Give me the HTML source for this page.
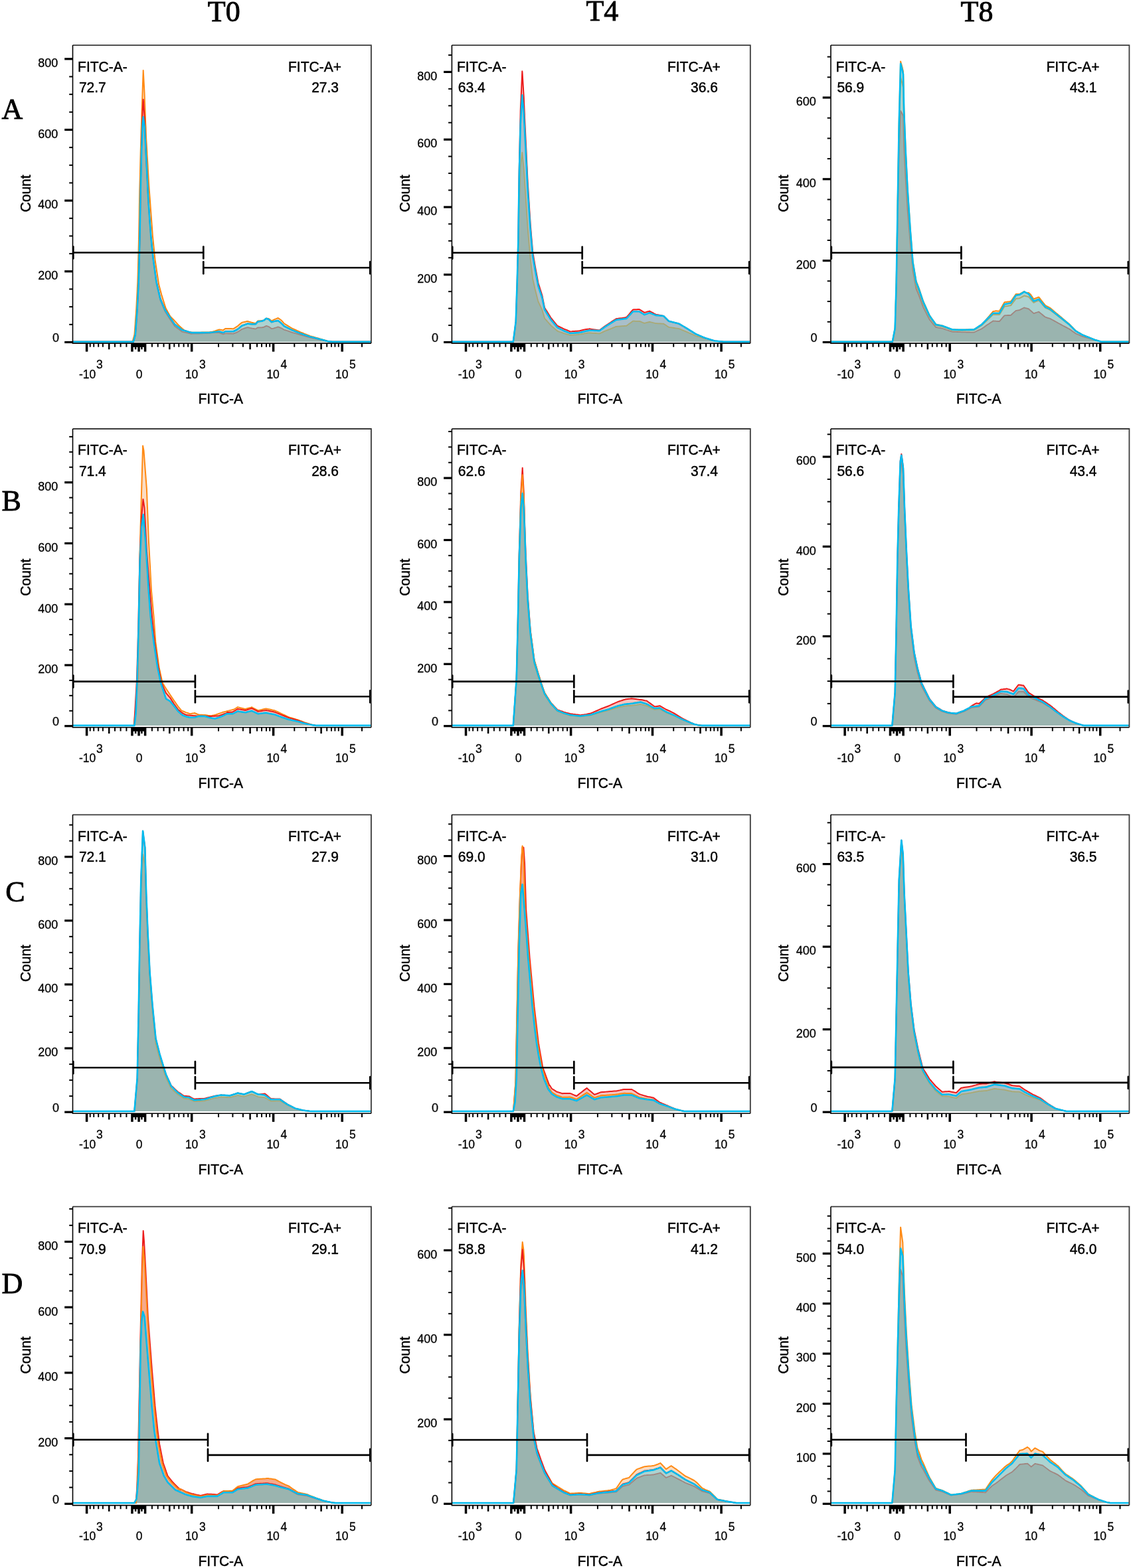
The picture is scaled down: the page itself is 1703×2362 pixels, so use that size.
<!DOCTYPE html>
<html><head><meta charset="utf-8"><title>FITC-A histograms</title><style>html,body{margin:0;padding:0;background:#fff;}svg{display:block;}</style></head><body>
<svg width="1703" height="2362" viewBox="0 0 1703 2362">
<rect width="1703" height="2362" fill="#ffffff"/>
<text x="337.3" y="31.9" text-anchor="middle" font-family="'Liberation Serif', 'Times New Roman', serif" font-size="44" fill="#000" stroke="#000" stroke-width="0.9">T0</text>
<text x="906.9" y="30.8" text-anchor="middle" font-family="'Liberation Serif', 'Times New Roman', serif" font-size="44" fill="#000" stroke="#000" stroke-width="0.9">T4</text>
<text x="1471" y="31.9" text-anchor="middle" font-family="'Liberation Serif', 'Times New Roman', serif" font-size="44" fill="#000" stroke="#000" stroke-width="0.9">T8</text>
<text x="2.6" y="178.9" font-family="'Liberation Serif', 'Times New Roman', serif" font-size="44" fill="#000" stroke="#000" stroke-width="0.9">A</text>
<text x="2.6" y="768.7" font-family="'Liberation Serif', 'Times New Roman', serif" font-size="44" fill="#000" stroke="#000" stroke-width="0.9">B</text>
<text x="8.2" y="1357.6" font-family="'Liberation Serif', 'Times New Roman', serif" font-size="44" fill="#000" stroke="#000" stroke-width="0.9">C</text>
<text x="2.6" y="1947.7" font-family="'Liberation Serif', 'Times New Roman', serif" font-size="44" fill="#000" stroke="#000" stroke-width="0.9">D</text>
<clipPath id="c00"><rect x="110.1" y="68.9" width="448" height="447.6"/></clipPath>
<g clip-path="url(#c00)">
<path d="M109.5 514.8 199.5 514.8 200 513 200.8 510.1 201 509.4 202 505.8 202.5 504 203 497 203.8 485.8 204 483 205 469 205.3 464.8 206 450.9 206.7 437 207 431.1 207.3 425.1 208 399.1 208.7 373 208.9 365.6 209 359.9 210 303.3 210.3 286.3 211 258.5 211.7 230.7 211.8 226.7 212 220 213 186.7 213.1 183.3 213.5 170 214 155.5 214.7 135.1 215 126.4 215.7 106.1 216 111.8 217 130.6 217.5 140 217.7 145.3 218 153.2 218.5 166.4 219 179.7 220 206.1 220.6 216.4 221 223.3 222 240.6 223 257.8 223.6 268.1 224 275 224.3 280.2 225 289.6 226 303.1 227 316.6 227.2 319.3 228 330 229 343.5 229.8 354.3 230 356.3 230.6 362.3 231 366.3 232 376.3 233 386.3 233.5 391.3 234 394.6 235 401.2 235.5 404.5 236 407.8 237 414.4 238 421 239 427.6 239.1 428.3 240 431.7 241 435.5 241.5 437.4 242 439.3 243 443.1 243.1 443.5 244 446.4 245 449.6 246 452.8 247 456 248 459.2 248.4 460.5 249 462.4 249.5 464 250 464.9 251 466.8 252 468.6 253 470.5 254 472.3 255 474.2 256 476 256.3 476.3 257 477.1 258 478.1 259 479.2 260 480.2 262 482.3 263.1 483.5 263.6 484 264 484.4 266 486.6 268 488.8 270 491 272 492.8 274 494.5 274.2 494.7 275 495.4 276 496.3 277.1 497.3 278 497.7 280 498.4 282 499.2 284 500 286 500.3 287.9 500.5 288 500.5 290 500.8 292 500.8 294 500.8 296 500.7 298 500.7 300 500.7 301.7 500.7 302 500.7 304 500.6 306 500.6 308 500.5 310 500.5 312 500.4 314 500.4 315.4 500.4 316 500.3 318 500 320 499.7 322 499.1 324 498.5 326 497.8 328 497.1 330 496.4 332 496.7 334 497.1 336 497.4 336.1 497.4 337 496.6 338 495.9 339.2 495 340 495 342 495 344 495.1 346 495.1 348 495.1 350 495.2 351.4 495.2 352 494.8 354 493.6 356 492.3 357 491.7 357.5 491.4 358 491 360 489.3 362 487.6 364 486 364.3 485.8 366 485.4 368 484.9 370 484.5 372 484 372.8 483.9 374 484.3 376 484.9 378 485.5 378.9 485.8 380 486 382 486.5 384 486.9 385 486.9 386 485.8 388 483.6 388.1 483.5 390 483.3 392 483.2 394 483.1 394.2 483.1 396 482.7 397.3 482.4 398 481.8 400 480.3 400.9 479.7 401 479.7 402 479.8 404 480 404.6 480 406 481.1 408 482.8 408.9 483.5 410 482.9 412 481.8 412.6 481.5 414 480.9 416 480.1 418 479.3 418.7 479 420 479.9 422 481.3 423 482 424 482.9 425 483.9 426 485.1 427.9 487.4 428 487.5 430 488.7 432 489.9 434 491.1 436 492.3 438 493.5 439.3 494.3 440 494.7 442 495.6 444 496.5 446 497.4 448 498.3 450 499.2 452 500.2 453.1 500.7 454 501 456 501.8 458 502.6 460 503.4 462 504.2 464 505 466 505.7 466.8 506.1 468 506.4 470 507 472 507.5 474 508.1 476 508.7 478 509.2 480 509.8 480.6 510 482 510.4 484 511 486 511.6 488 512.2 490 512.8 492 513.5 494 514.1 494.4 514.2 496 514.4 498 514.6 500 514.8 558.9 514.8Z" fill="#fbdcc2"/>
<path d="M109.5 514.8 200.8 514.8 201 514.1 202 510.7 202.5 509 203 507.2 203.8 504.5 204 501.8 205 488.1 205.3 484 206 474.4 206.7 464.8 207 458.8 207.3 452.9 208 439 208.7 425.1 208.9 417.7 209 413.9 210 376.8 210.3 365.6 211 326 211.7 286.3 211.8 282 212 273.5 213 231 213.1 226.7 213.5 216.8 214 204.4 214.7 187 215 183.7 215.7 176.1 216 178.3 217 185.8 217.5 189.5 217.7 191 218 196.8 218.5 206.3 219 215.9 220 235.1 220.6 246.6 221 254.5 222 274.4 223 294.2 223.6 306.1 224 311.6 224.3 315.7 225 325.4 226 339.2 227 352.9 227.2 355.7 228 363.6 229 373.5 229.8 381.5 230 383.5 230.6 389.4 231 392.3 232 399.6 233 406.9 233.5 410.5 234 414.2 235 421.5 235.5 425.1 236 427.2 237 431.6 238 435.9 239 440.1 239.1 440.6 240 444.4 241 448.8 241.5 450.9 242 452.1 243 454.4 243.1 454.6 244 456.7 245 459 246 461.3 247 463.6 248 465.9 248.4 466.8 249 467.7 249.5 468.5 250 469.2 251 470.7 252 472.2 253 473.7 254 475.2 255 476.7 256 478.2 256.3 478.7 257 479.7 258 481.2 259 482.7 260 484.1 262 487.1 263.1 488.7 263.6 489.1 264 489.4 266 490.9 268 492.4 270 493.9 272 495.4 274 496.9 274.2 497 275 497.2 276 497.5 277.1 497.9 278 498.1 280 498.7 282 499.3 284 499.9 286 500.5 287.9 501.1 288 501.1 290 501.1 292 501.1 294 501.1 296 501.1 298 501.1 300 501.1 301.7 501.1 302 501.1 304 501.1 306 501.1 308 501.1 310 501 312 501 314 501 315.4 501 316 500.9 318 500.7 320 500.5 322 500.2 324 500 326 499.8 328 499.5 330 499.3 332 499.9 334 500.5 336 501.1 336.1 501.1 337 500.6 338 500 339.2 499.3 340 499.3 342 499.3 344 499.3 346 499.3 348 499.3 350 499.3 351.4 499.3 352 499 354 498 356 497 357 496.5 357.5 496.2 358 495.8 360 494.2 362 492.6 364 490.9 364.3 490.7 366 490.1 368 489.4 370 488.6 372 487.9 372.8 487.6 374 487.7 376 487.9 378 488.1 378.9 488.2 380 488.2 382 488.2 384 488.2 385 488.2 386 487 388 484.7 388.1 484.6 390 484.3 392 484 394 483.7 394.2 483.7 396 483.1 397.3 482.7 398 482.1 400 480.4 400.9 479.7 401 479.7 402 480.1 404 480.7 404.6 480.9 406 482.3 408 484.3 408.9 485.2 410 484.8 412 484.2 412.6 484 414 483.8 416 483.4 418 483.1 418.7 483 420 484 422 485.6 423 486.4 424 487.4 425 488.4 426 489.4 427.9 491.3 428 491.4 430 492.4 432 493.4 434 494.4 436 495.4 438 496.4 439.3 497 440 497.3 442 498.1 444 498.9 446 499.7 448 500.5 450 501.3 452 502.1 453.1 502.5 454 502.8 456 503.5 458 504.2 460 504.9 462 505.6 464 506.2 466 506.9 466.8 507.2 468 507.5 470 508 472 508.5 474 509 476 509.5 478 510 480 510.5 480.6 510.7 482 511.1 484 511.6 486 512.1 488 512.6 490 513.2 492 513.7 494 514.2 494.4 514.3 496 514.4 498 514.6 500 514.8 558.9 514.8Z" fill="#acd3d1"/>
<path d="M109.5 514.8 200.8 514.8 201 514.1 202 510.7 202.5 509 203 507.2 203.8 504.5 204 501.8 205 488.1 205.3 484 206 474.4 206.7 464.8 207 458.8 207.3 452.9 208 439 208.7 425.1 208.9 417.7 209 413.9 210 376.8 210.3 365.6 211 326 211.7 286.3 211.8 282 212 273.5 213 231 213.1 226.7 213.5 216.8 214 204.4 214.7 187 215 183.7 215.7 176.1 216 178.3 217 185.8 217.5 189.5 217.7 191 218 196.8 218.5 206.3 219 215.9 220 235.1 220.6 246.6 221 254.5 222 274.4 223 294.2 223.6 306.1 224 311.6 224.3 315.7 225 325.4 226 339.4 227 353.4 227.2 356.2 228 364.3 229 374.4 229.8 382.4 230 384.4 230.6 390.5 231 393.4 232 400.8 233 408.2 233.5 411.9 234 415.5 235 422.9 235.5 426.5 236 428.7 237 433 238 437.4 239 441.7 239.1 442.1 240 446 241 450.3 241.5 452.5 242 453.7 243 456 243.1 456.2 244 458.3 245 460.6 246 463.1 247 465.5 248 467.9 248.4 468.9 249 469.9 249.5 470.7 250 471.5 251 473.1 252 474.7 253 476.3 254 477.8 255 479.4 256 481 256.3 481.4 257 482.5 258 484 259 485.4 260 486.9 262 489.8 263.1 491.4 263.6 491.8 264 492.1 266 493.6 268 495.1 270 496.6 272 498 274 499.5 274.2 499.6 275 499.9 276 500.1 277.1 500.3 278 500.5 280 501 282 501.4 284 501.9 286 502.4 287.9 502.8 288 502.8 290 502.7 292 502.7 294 502.6 296 502.6 298 502.5 300 502.5 301.7 502.4 302 502.4 304 502.3 306 502.2 308 502.2 310 502.1 312 502 314 501.9 315.4 501.8 316 501.8 318 501.5 320 501.2 322 501.2 324 501.2 326 501.2 328 501.2 330 501.2 332 502 334 502.7 336 503.4 336.1 503.4 337 503.1 338 502.7 339.2 502.3 340 502.4 342 502.4 344 502.5 346 502.5 348 502.5 350 502.6 351.4 502.6 352 502.3 354 501.6 356 500.8 357 500.4 357.5 500.2 358 499.9 360 498.7 362 497.4 364 496 364.3 495.8 366 495.3 368 494.6 370 493.9 372 493.3 372.8 493.2 374 493.4 376 493.9 378 494.3 378.9 494.5 380 494.7 382 495 384 495.3 385 495.4 386 494.8 388 493.4 388.1 493.3 390 493.5 392 493.4 394 493.3 394.2 493.3 396 493 397.3 492.8 398 492.4 400 491.4 400.9 490.9 401 491 402 491.2 404 491.8 404.6 492 406 493 408 494.4 408.9 495.1 410 494.9 412 494.6 412.6 494.3 414 493.9 416 493.3 418 492.6 418.7 492.4 420 492.8 422 493.6 423 494 424 494.5 425 495.1 426 495.7 427.9 496.8 428 496.8 430 497.3 432 498 434 498.7 436 499.4 438 500.1 439.3 500.6 440 500.8 442 501.4 444 501.9 446 502.5 448 503.1 450 503.7 452 504.3 453.1 504.7 454 504.9 456 505.5 458 506 460 506.6 462 507.1 464 507.7 466 508.2 466.8 508.4 468 508.7 470 509.1 472 509.5 474 509.9 476 510.3 478 510.8 480 511.2 480.6 511.3 482 511.6 484 512 486 512.4 488 512.8 490 513.3 492 513.7 494 514.2 494.4 514.3 496 514.5 498 514.6 500 514.8 558.9 514.8Z" fill="#9ab4af"/>
<path d="M109.5 514.8 200.8 514.8 201 514.1 202 510.7 202.5 509 203 507.2 203.8 504.5 204 501.8 205 488.1 205.3 484 206 474.4 206.7 464.8 207 458.8 207.3 452.9 208 439 208.7 425.1 208.9 417.7 209 413.9 210 376.8 210.3 365.6 211 326 211.7 286.3 211.8 282 212 273.5 213 231 213.1 226.7 213.5 216.8 214 204.4 214.7 187 215 183.7 215.7 176.1 216 178.3 217 185.8 217.5 189.5 217.7 191 218 196.8 218.5 206.3 219 215.9 220 235.1 220.6 246.6 221 254.5 222 274.4 223 294.2 223.6 306.1 224 311.6 224.3 315.7 225 325.4 226 339.4 227 353.4 227.2 356.2 228 364.3 229 374.4 229.8 382.4 230 384.4 230.6 390.5 231 393.4 232 400.8 233 408.2 233.5 411.9 234 415.5 235 422.9 235.5 426.5 236 428.7 237 433 238 437.4 239 441.7 239.1 442.1 240 446 241 450.3 241.5 452.5 242 453.7 243 456 243.1 456.2 244 458.3 245 460.6 246 463.1 247 465.5 248 467.9 248.4 468.9 249 469.9 249.5 470.7 250 471.5 251 473.1 252 474.7 253 476.3 254 477.8 255 479.4 256 481 256.3 481.4 257 482.5 258 484 259 485.4 260 486.9 262 489.8 263.1 491.4 263.6 491.8 264 492.1 266 493.6 268 495.1 270 496.6 272 498 274 499.5 274.2 499.6 275 499.9 276 500.1 277.1 500.3 278 500.5 280 501 282 501.4 284 501.9 286 502.4 287.9 502.8 288 502.8 290 502.7 292 502.7 294 502.6 296 502.6 298 502.5 300 502.5 301.7 502.4 302 502.4 304 502.3 306 502.2 308 502.2 310 502.1 312 502 314 501.9 315.4 501.8 316 501.8 318 501.5 320 501.2 322 501.2 324 501.2 326 501.2 328 501.2 330 501.2 332 502 334 502.7 336 503.4 336.1 503.4 337 503.1 338 502.7 339.2 502.3 340 502.4 342 502.4 344 502.5 346 502.5 348 502.5 350 502.6 351.4 502.6 352 502.3 354 501.6 356 500.8 357 500.4 357.5 500.2 358 499.9 360 498.7 362 497.4 364 496 364.3 495.8 366 495.3 368 494.6 370 493.9 372 493.3 372.8 493.2 374 493.4 376 493.9 378 494.3 378.9 494.5 380 494.7 382 495 384 495.3 385 495.4 386 494.8 388 493.4 388.1 493.3 390 493.5 392 493.4 394 493.3 394.2 493.3 396 493 397.3 492.8 398 492.4 400 491.4 400.9 490.9 401 491 402 491.2 404 491.8 404.6 492 406 493 408 494.4 408.9 495.1 410 494.9 412 494.6 412.6 494.3 414 493.9 416 493.3 418 492.6 418.7 492.4 420 492.8 422 493.6 423 494 424 494.5 425 495.1 426 495.7 427.9 496.8 428 496.8 430 497.3 432 498 434 498.7 436 499.4 438 500.1 439.3 500.6 440 500.8 442 501.4 444 501.9 446 502.5 448 503.1 450 503.7 452 504.3 453.1 504.7 454 504.9 456 505.5 458 506 460 506.6 462 507.1 464 507.7 466 508.2 466.8 508.4 468 508.7 470 509.1 472 509.5 474 509.9 476 510.3 478 510.8 480 511.2 480.6 511.3 482 511.6 484 512 486 512.4 488 512.8 490 513.3 492 513.7 494 514.2 494.4 514.3 496 514.5 498 514.6 500 514.8 558.9 514.8" fill="none" stroke="#a1857f" stroke-width="1.8" stroke-linejoin="round"/>
<path d="M109.5 514.8 199.5 514.8 200 513 200.8 510.1 201 509.4 202 505.8 202.5 504 203 497 203.8 485.8 204 483 205 469 205.3 464.8 206 450.9 206.7 437 207 431.1 207.3 425.1 208 399.1 208.7 373 208.9 365.6 209 359.9 210 303.3 210.3 286.3 211 258.5 211.7 230.7 211.8 226.7 212 220 213 186.7 213.1 183.3 213.5 170 214 155.5 214.7 135.1 215 126.4 215.7 106.1 216 111.8 217 130.6 217.5 140 217.7 145.3 218 153.2 218.5 166.4 219 179.7 220 206.1 220.6 216.4 221 223.3 222 240.6 223 257.8 223.6 268.1 224 275 224.3 280.2 225 289.6 226 303.1 227 316.6 227.2 319.3 228 330 229 343.5 229.8 354.3 230 356.3 230.6 362.3 231 366.3 232 376.3 233 386.3 233.5 391.3 234 394.6 235 401.2 235.5 404.5 236 407.8 237 414.4 238 421 239 427.6 239.1 428.3 240 431.7 241 435.5 241.5 437.4 242 439.3 243 443.1 243.1 443.5 244 446.4 245 449.6 246 452.8 247 456 248 459.2 248.4 460.5 249 462.4 249.5 464 250 464.9 251 466.8 252 468.6 253 470.5 254 472.3 255 474.2 256 476 256.3 476.3 257 477.1 258 478.1 259 479.2 260 480.2 262 482.3 263.1 483.5 263.6 484 264 484.4 266 486.6 268 488.8 270 491 272 492.8 274 494.5 274.2 494.7 275 495.4 276 496.3 277.1 497.3 278 497.7 280 498.4 282 499.2 284 500 286 500.3 287.9 500.5 288 500.5 290 500.8 292 500.8 294 500.8 296 500.7 298 500.7 300 500.7 301.7 500.7 302 500.7 304 500.6 306 500.6 308 500.5 310 500.5 312 500.4 314 500.4 315.4 500.4 316 500.3 318 500 320 499.7 322 499.1 324 498.5 326 497.8 328 497.1 330 496.4 332 496.7 334 497.1 336 497.4 336.1 497.4 337 496.6 338 495.9 339.2 495 340 495 342 495 344 495.1 346 495.1 348 495.1 350 495.2 351.4 495.2 352 494.8 354 493.6 356 492.3 357 491.7 357.5 491.4 358 491 360 489.3 362 487.6 364 486 364.3 485.8 366 485.4 368 484.9 370 484.5 372 484 372.8 483.9 374 484.3 376 484.9 378 485.5 378.9 485.8 380 486 382 486.5 384 486.9 385 486.9 386 485.8 388 483.6 388.1 483.5 390 483.3 392 483.2 394 483.1 394.2 483.1 396 482.7 397.3 482.4 398 481.8 400 480.3 400.9 479.7 401 479.7 402 479.8 404 480 404.6 480 406 481.1 408 482.8 408.9 483.5 410 482.9 412 481.8 412.6 481.5 414 480.9 416 480.1 418 479.3 418.7 479 420 479.9 422 481.3 423 482 424 482.9 425 483.9 426 485.1 427.9 487.4 428 487.5 430 488.7 432 489.9 434 491.1 436 492.3 438 493.5 439.3 494.3 440 494.7 442 495.6 444 496.5 446 497.4 448 498.3 450 499.2 452 500.2 453.1 500.7 454 501 456 501.8 458 502.6 460 503.4 462 504.2 464 505 466 505.7 466.8 506.1 468 506.4 470 507 472 507.5 474 508.1 476 508.7 478 509.2 480 509.8 480.6 510 482 510.4 484 511 486 511.6 488 512.2 490 512.8 492 513.5 494 514.1 494.4 514.2 496 514.4 498 514.6 500 514.8 558.9 514.8" fill="none" stroke="#ff8a14" stroke-width="2" stroke-linejoin="round"/>
<path d="M109.5 514.8 200.8 514.8 201 514.1 202 510.7 202.5 509 203 507.2 203.8 504.5 204 501.8 205 488.1 205.3 484 206 474.4 206.7 464.8 207 458.8 207.3 452.9 208 439 208.7 425.1 208.9 417.7 209 413.9 210 376.8 210.3 365.6 211 326 211.7 283.6 211.8 279 212 269.5 213 221.5 213.1 216.7 213.5 204.4 214 188.9 214.7 166.9 215 161.8 215.7 149.7 216 153.9 217 167.9 217.5 174.8 217.7 177.5 218 185.2 218.5 197.9 219 210.5 220 235.1 220.6 246.4 221 254.3 222 273.9 223 293.5 223.6 305.3 224 310.8 224.3 314.9 225 324.4 226 338.1 227 351.8 227.2 354.6 228 362.4 229 372.3 229.8 380.2 230 382.1 230.6 388.1 231 391 232 398.2 233 405.5 233.5 409.1 234 412.8 235 420.1 235.5 423.7 236 425.8 237 430.1 238 434.4 239 438.7 239.1 439.2 240 443 241 447.5 241.5 449.7 242 450.8 243 453.2 243.1 453.4 244 455.6 245 457.9 246 460.3 247 462.7 248 465 248.4 466 249 466.9 249.5 467.7 250 468.5 251 470 252 471.5 253 473.1 254 474.6 255 476.2 256 477.7 256.3 478.2 257 479.2 258 480.7 259 482.2 260 483.7 262 486.7 263.1 488.4 263.6 488.8 264 489.1 266 490.6 268 492.1 270 493.7 272 495.2 274 496.7 274.2 496.8 275 497.1 276 497.4 277.1 497.7 278 498 280 498.6 282 499.2 284 499.9 286 500.5 287.9 501 288 501 290 501.1 292 501.1 294 501.1 296 501.1 298 501.1 300 501.1 301.7 501.1 302 501.1 304 501.1 306 501.1 308 501.1 310 501 312 501 314 501 315.4 501 316 500.9 318 500.7 320 500.5 322 500.2 324 500 326 499.8 328 499.5 330 499.3 332 499.9 334 500.5 336 501.1 336.1 501.1 337 500.6 338 500 339.2 499.3 340 499.3 342 499.3 344 499.3 346 499.3 348 499.3 350 499.3 351.4 499.3 352 499 354 498 356 497 357 496.5 357.5 496.2 358 495.8 360 494.2 362 492.6 364 490.9 364.3 490.7 366 490.1 368 489.4 370 488.6 372 487.9 372.8 487.6 374 487.7 376 487.9 378 488.1 378.9 488.2 380 488.2 382 488.2 384 488.2 385 488.2 386 487 388 484.7 388.1 484.6 390 484.3 392 484 394 483.7 394.2 483.7 396 483.1 397.3 482.7 398 482.1 400 480.4 400.9 479.7 401 479.7 402 480.1 404 480.7 404.6 480.9 406 482.3 408 484.3 408.9 485.2 410 484.8 412 484.2 412.6 484 414 483.8 416 483.4 418 483.1 418.7 483 420 484 422 485.6 423 486.4 424 487.4 425 488.4 426 489.4 427.9 491.3 428 491.4 430 492.4 432 493.4 434 494.4 436 495.4 438 496.4 439.3 497 440 497.3 442 498.1 444 498.9 446 499.7 448 500.5 450 501.3 452 502.1 453.1 502.5 454 502.8 456 503.5 458 504.2 460 504.9 462 505.6 464 506.2 466 506.9 466.8 507.2 468 507.5 470 508 472 508.5 474 509 476 509.5 478 510 480 510.5 480.6 510.7 482 511.1 484 511.6 486 512.1 488 512.6 490 513.2 492 513.7 494 514.2 494.4 514.3 496 514.4 498 514.6 500 514.8 558.9 514.8" fill="none" stroke="#ec1c1c" stroke-width="2" stroke-linejoin="round"/>
<path d="M109.5 514.8 200.8 514.8 201 514.1 202 510.7 202.5 509 203 507.2 203.8 504.5 204 501.8 205 488.1 205.3 484 206 474.4 206.7 464.8 207 458.8 207.3 452.9 208 439 208.7 425.1 208.9 417.7 209 413.9 210 376.8 210.3 365.6 211 326 211.7 286.3 211.8 282 212 273.5 213 231 213.1 226.7 213.5 216.8 214 204.4 214.7 187 215 183.7 215.7 176.1 216 178.3 217 185.8 217.5 189.5 217.7 191 218 196.8 218.5 206.3 219 215.9 220 235.1 220.6 246.6 221 254.5 222 274.4 223 294.2 223.6 306.1 224 311.6 224.3 315.7 225 325.4 226 339.2 227 352.9 227.2 355.7 228 363.6 229 373.5 229.8 381.5 230 383.5 230.6 389.4 231 392.3 232 399.6 233 406.9 233.5 410.5 234 414.2 235 421.5 235.5 425.1 236 427.2 237 431.6 238 435.9 239 440.1 239.1 440.6 240 444.4 241 448.8 241.5 450.9 242 452.1 243 454.4 243.1 454.6 244 456.7 245 459 246 461.3 247 463.6 248 465.9 248.4 466.8 249 467.7 249.5 468.5 250 469.2 251 470.7 252 472.2 253 473.7 254 475.2 255 476.7 256 478.2 256.3 478.7 257 479.7 258 481.2 259 482.7 260 484.1 262 487.1 263.1 488.7 263.6 489.1 264 489.4 266 490.9 268 492.4 270 493.9 272 495.4 274 496.9 274.2 497 275 497.2 276 497.5 277.1 497.9 278 498.1 280 498.7 282 499.3 284 499.9 286 500.5 287.9 501.1 288 501.1 290 501.1 292 501.1 294 501.1 296 501.1 298 501.1 300 501.1 301.7 501.1 302 501.1 304 501.1 306 501.1 308 501.1 310 501 312 501 314 501 315.4 501 316 500.9 318 500.7 320 500.5 322 500.2 324 500 326 499.8 328 499.5 330 499.3 332 499.9 334 500.5 336 501.1 336.1 501.1 337 500.6 338 500 339.2 499.3 340 499.3 342 499.3 344 499.3 346 499.3 348 499.3 350 499.3 351.4 499.3 352 499 354 498 356 497 357 496.5 357.5 496.2 358 495.8 360 494.2 362 492.6 364 490.9 364.3 490.7 366 490.1 368 489.4 370 488.6 372 487.9 372.8 487.6 374 487.7 376 487.9 378 488.1 378.9 488.2 380 488.2 382 488.2 384 488.2 385 488.2 386 487 388 484.7 388.1 484.6 390 484.3 392 484 394 483.7 394.2 483.7 396 483.1 397.3 482.7 398 482.1 400 480.4 400.9 479.7 401 479.7 402 480.1 404 480.7 404.6 480.9 406 482.3 408 484.3 408.9 485.2 410 484.8 412 484.2 412.6 484 414 483.8 416 483.4 418 483.1 418.7 483 420 484 422 485.6 423 486.4 424 487.4 425 488.4 426 489.4 427.9 491.3 428 491.4 430 492.4 432 493.4 434 494.4 436 495.4 438 496.4 439.3 497 440 497.3 442 498.1 444 498.9 446 499.7 448 500.5 450 501.3 452 502.1 453.1 502.5 454 502.8 456 503.5 458 504.2 460 504.9 462 505.6 464 506.2 466 506.9 466.8 507.2 468 507.5 470 508 472 508.5 474 509 476 509.5 478 510 480 510.5 480.6 510.7 482 511.1 484 511.6 486 512.1 488 512.6 490 513.2 492 513.7 494 514.2 494.4 514.3 496 514.4 498 514.6 500 514.8 558.9 514.8" fill="none" stroke="#00bcef" stroke-width="2.6" stroke-linejoin="round"/>
</g>
<g stroke="#000" stroke-width="2.6" fill="none">
<line x1="109.5" y1="380.5" x2="306.3" y2="380.5"/>
<line x1="306.3" y1="403.3" x2="557.9" y2="403.3"/>
</g>
<g stroke="#000" stroke-width="2.7" stroke-linecap="round" fill="none">
<line x1="110.3" y1="371.5" x2="110.3" y2="389.5"/>
<line x1="306.3" y1="371.5" x2="306.3" y2="389.5"/>
<line x1="306.3" y1="394.3" x2="306.3" y2="412.3"/>
<line x1="557.3" y1="394.3" x2="557.3" y2="412.3"/>
</g>
<path d="M109.5 68.1H558.9V517.1" stroke="#3a3a3a" stroke-width="1.8" fill="none"/>
<path d="M109.5 68.1V517.1H558.9" stroke="#000" stroke-width="1.6" fill="none"/>
<g stroke="#000" fill="none">
<line x1="97.2" y1="515.5" x2="109.5" y2="515.5" stroke-width="3.2"/>
<line x1="104.2" y1="488.83" x2="109.5" y2="488.83" stroke-width="2"/>
<line x1="104.2" y1="462.16" x2="109.5" y2="462.16" stroke-width="2"/>
<line x1="104.2" y1="435.49" x2="109.5" y2="435.49" stroke-width="2"/>
<line x1="97.2" y1="408.82" x2="109.5" y2="408.82" stroke-width="3.2"/>
<line x1="104.2" y1="382.15" x2="109.5" y2="382.15" stroke-width="2"/>
<line x1="104.2" y1="355.49" x2="109.5" y2="355.49" stroke-width="2"/>
<line x1="104.2" y1="328.82" x2="109.5" y2="328.82" stroke-width="2"/>
<line x1="97.2" y1="302.15" x2="109.5" y2="302.15" stroke-width="3.2"/>
<line x1="104.2" y1="275.48" x2="109.5" y2="275.48" stroke-width="2"/>
<line x1="104.2" y1="248.81" x2="109.5" y2="248.81" stroke-width="2"/>
<line x1="104.2" y1="222.14" x2="109.5" y2="222.14" stroke-width="2"/>
<line x1="97.2" y1="195.47" x2="109.5" y2="195.47" stroke-width="3.2"/>
<line x1="104.2" y1="168.8" x2="109.5" y2="168.8" stroke-width="2"/>
<line x1="104.2" y1="142.13" x2="109.5" y2="142.13" stroke-width="2"/>
<line x1="104.2" y1="115.47" x2="109.5" y2="115.47" stroke-width="2"/>
<line x1="97.2" y1="88.8" x2="109.5" y2="88.8" stroke-width="3.2"/>
</g>
<g font-family="'Liberation Sans', Arial, Helvetica, sans-serif" font-size="18" fill="#000" stroke="#000" stroke-width="0.3">
<text x="89.1" y="515.2" text-anchor="end">0</text>
<text x="87.3" y="421.12" text-anchor="end">200</text>
<text x="87.3" y="314.45" text-anchor="end">400</text>
<text x="87.3" y="207.77" text-anchor="end">600</text>
<text x="87.3" y="101.1" text-anchor="end">800</text>
</g>
<text transform="translate(45.9 291.4) rotate(-90) scale(1.0 1.06)" text-anchor="middle" font-family="'Liberation Sans', Arial, Helvetica, sans-serif" font-size="21" fill="#000" stroke="#000" stroke-width="0.45">Count</text>
<g stroke="#000" fill="none">
<line x1="130.6" y1="517.1" x2="130.6" y2="529.7" stroke-width="3.5"/>
<line x1="135.7" y1="517.1" x2="135.7" y2="522.7" stroke-width="2"/>
<line x1="141.2" y1="517.1" x2="141.2" y2="522.7" stroke-width="2"/>
<line x1="148.2" y1="517.1" x2="148.2" y2="522.7" stroke-width="2"/>
<line x1="154.9" y1="517.1" x2="154.9" y2="522.7" stroke-width="2"/>
<line x1="173" y1="517.1" x2="173" y2="522.7" stroke-width="2"/>
<line x1="181.6" y1="517.1" x2="181.6" y2="522.7" stroke-width="2"/>
<line x1="190.4" y1="517.1" x2="190.4" y2="522.7" stroke-width="2"/>
<line x1="164.2" y1="517.1" x2="164.2" y2="526.3" stroke-width="2.5"/>
<line x1="198.95" y1="517.1" x2="198.95" y2="529.7" stroke-width="3.5"/>
<line x1="209.05" y1="517.1" x2="209.05" y2="529.7" stroke-width="3.5"/>
<line x1="218.6" y1="517.1" x2="218.6" y2="529.7" stroke-width="3.5"/>
<line x1="204.1" y1="517.1" x2="204.1" y2="526.3" stroke-width="2.5"/>
<line x1="213.4" y1="517.1" x2="213.4" y2="526.3" stroke-width="2.5"/>
<line x1="199.96" y1="517.1" x2="199.96" y2="522.7" stroke-width="2"/>
<line x1="210" y1="517.1" x2="210" y2="522.7" stroke-width="2"/>
<line x1="200.97" y1="517.1" x2="200.97" y2="522.7" stroke-width="2"/>
<line x1="210.96" y1="517.1" x2="210.96" y2="522.7" stroke-width="2"/>
<line x1="201.98" y1="517.1" x2="201.98" y2="522.7" stroke-width="2"/>
<line x1="211.91" y1="517.1" x2="211.91" y2="522.7" stroke-width="2"/>
<line x1="202.99" y1="517.1" x2="202.99" y2="522.7" stroke-width="2"/>
<line x1="212.87" y1="517.1" x2="212.87" y2="522.7" stroke-width="2"/>
<line x1="205.01" y1="517.1" x2="205.01" y2="522.7" stroke-width="2"/>
<line x1="214.78" y1="517.1" x2="214.78" y2="522.7" stroke-width="2"/>
<line x1="206.02" y1="517.1" x2="206.02" y2="522.7" stroke-width="2"/>
<line x1="215.74" y1="517.1" x2="215.74" y2="522.7" stroke-width="2"/>
<line x1="207.03" y1="517.1" x2="207.03" y2="522.7" stroke-width="2"/>
<line x1="216.69" y1="517.1" x2="216.69" y2="522.7" stroke-width="2"/>
<line x1="208.04" y1="517.1" x2="208.04" y2="522.7" stroke-width="2"/>
<line x1="217.64" y1="517.1" x2="217.64" y2="522.7" stroke-width="2"/>
<line x1="228.9" y1="517.1" x2="228.9" y2="522.7" stroke-width="2"/>
<line x1="237.7" y1="517.1" x2="237.7" y2="522.7" stroke-width="2"/>
<line x1="246.5" y1="517.1" x2="246.5" y2="522.7" stroke-width="2"/>
<line x1="262.3" y1="517.1" x2="262.3" y2="522.7" stroke-width="2"/>
<line x1="269.3" y1="517.1" x2="269.3" y2="522.7" stroke-width="2"/>
<line x1="276.6" y1="517.1" x2="276.6" y2="522.7" stroke-width="2"/>
<line x1="283.2" y1="517.1" x2="283.2" y2="522.7" stroke-width="2"/>
<line x1="329" y1="517.1" x2="329" y2="522.7" stroke-width="2"/>
<line x1="350.4" y1="517.1" x2="350.4" y2="522.7" stroke-width="2"/>
<line x1="365.9" y1="517.1" x2="365.9" y2="522.7" stroke-width="2"/>
<line x1="387" y1="517.1" x2="387" y2="522.7" stroke-width="2"/>
<line x1="394" y1="517.1" x2="394" y2="522.7" stroke-width="2"/>
<line x1="401" y1="517.1" x2="401" y2="522.7" stroke-width="2"/>
<line x1="406.2" y1="517.1" x2="406.2" y2="522.7" stroke-width="2"/>
<line x1="443.3" y1="517.1" x2="443.3" y2="522.7" stroke-width="2"/>
<line x1="460.7" y1="517.1" x2="460.7" y2="522.7" stroke-width="2"/>
<line x1="474.8" y1="517.1" x2="474.8" y2="522.7" stroke-width="2"/>
<line x1="492.2" y1="517.1" x2="492.2" y2="522.7" stroke-width="2"/>
<line x1="499" y1="517.1" x2="499" y2="522.7" stroke-width="2"/>
<line x1="504.4" y1="517.1" x2="504.4" y2="522.7" stroke-width="2"/>
<line x1="509.8" y1="517.1" x2="509.8" y2="522.7" stroke-width="2"/>
<line x1="545" y1="517.1" x2="545" y2="522.7" stroke-width="2"/>
<line x1="255.3" y1="517.1" x2="255.3" y2="526.3" stroke-width="2.5"/>
<line x1="376.6" y1="517.1" x2="376.6" y2="526.3" stroke-width="2.5"/>
<line x1="483.6" y1="517.1" x2="483.6" y2="526.3" stroke-width="2.5"/>
<line x1="288.7" y1="517.1" x2="288.7" y2="529.7" stroke-width="3.5"/>
<line x1="411.6" y1="517.1" x2="411.6" y2="529.7" stroke-width="3.5"/>
<line x1="515.2" y1="517.1" x2="515.2" y2="529.7" stroke-width="3.5"/>
</g>
<g font-family="'Liberation Sans', Arial, Helvetica, sans-serif" font-size="17.5" fill="#000" stroke="#000" stroke-width="0.3">
<text x="118.9" y="569.6">-10</text>
<text x="145" y="555.2">3</text>
<text x="204.8" y="569.6">0</text>
<text x="278.9" y="569.6">10</text>
<text x="299.9" y="555.2">3</text>
<text x="401.4" y="569.6">10</text>
<text x="422.5" y="555.2">4</text>
<text x="505" y="569.6">10</text>
<text x="525.9" y="555.2">5</text>
</g>
<g font-family="'Liberation Sans', Arial, Helvetica, sans-serif" font-size="21" fill="#000" stroke="#000" stroke-width="0.45">
<text transform="translate(298.5 608.3) scale(1 1.06)">FITC-A</text>
</g>
<g font-family="'Liberation Sans', Arial, Helvetica, sans-serif" font-size="21" fill="#000" stroke="#000" stroke-width="0.45">
<text transform="translate(117.1 107.5) scale(1 1.06)">FITC-A-</text>
<text transform="translate(118.9 139) scale(1 1.06)">72.7</text>
<text transform="translate(513.9 107.5) scale(1 1.06)" text-anchor="end">FITC-A+</text>
<text transform="translate(510 139) scale(1 1.06)" text-anchor="end">27.3</text>
</g>
<clipPath id="c01"><rect x="681" y="68.9" width="448" height="447.6"/></clipPath>
<g clip-path="url(#c01)">
<path d="M680.4 514.8 772.8 514.8 772.9 514 773.9 506.3 774.9 498.6 775 497.8 775.9 490.7 776.7 484.4 776.9 478.3 777.9 447.7 778.7 423 778.9 415.3 779.9 376.4 780 372.4 780.3 360.7 780.9 316 781.7 256 781.9 247.4 782.9 204.1 783 199.8 783.7 167.3 783.9 162.8 784.9 140 785.9 116.8 786.3 107.3 786.5 108.8 786.9 115.6 787.9 132.3 788.7 145.5 788.9 150.4 789.9 174.6 790 177 790.9 195.5 791.6 209.9 791.9 216.3 792.9 237.6 793.9 258.8 794.6 273.6 794.9 278.4 795 280 795.9 294.3 796.9 310.2 797.9 326 798.6 337.1 798.9 340.7 799.9 352.8 800 354 800.9 364.7 801.9 376.5 802.1 378.9 802.9 383.7 803.9 389.8 804.9 395.9 805.5 399.5 805.9 401.7 806.9 407.1 807.9 412.4 808.9 417.8 809.9 423.2 810 423.8 810.5 426.5 810.9 427.7 811.9 430.9 812.9 434.1 813.9 437.2 814.9 440.4 815.9 443.6 816.4 445.2 816.9 447.7 817.9 452.8 818.9 457.9 819.9 463 820 463.5 820.9 464.9 821.9 466.5 822.9 468 823.9 469.6 824.9 471.2 825.9 472.8 826.9 474.5 827.9 476.1 828.9 477.7 829.6 478.9 829.9 479.2 830.9 480.4 832.9 482.8 834.9 485.3 836.9 487.8 838.9 490.3 839.3 490.8 840 491.1 840.9 491.5 842.9 492.5 844.9 493.4 846.9 494.4 848.9 495.4 850.9 496.2 852.9 496.9 854.9 497.7 855 497.8 856.9 498.7 858.5 499.5 858.9 499.4 860.9 499.3 862.9 499.1 864.9 499 866.9 498.8 868.9 498.7 870.9 498.5 872 498.4 872.9 498.2 874.9 497.7 876.9 497.2 878.9 496.7 880 496.4 880.9 496.3 882.9 496 884.9 495.7 886.9 495.4 887.4 495.3 888.9 495.6 890.9 495.9 892.9 496.2 894.9 496.5 896.9 496.8 898.9 497.1 900 497.3 900.9 497.3 902.9 497.4 904.9 495.9 906.9 494.4 908.9 492.9 910.9 491.4 912.5 490.2 912.9 490 914.9 488.7 916.9 487.3 918.9 486 920 485.3 920.9 484.7 922.9 483.4 924.9 482.1 926.9 480.8 927.9 480.2 928.9 480 930.9 479.8 932.9 479.5 934.9 479.2 936.9 479 938.9 478.7 940 478.6 940.9 478.4 942.9 478.1 943.3 478 944.9 476.1 946.9 473.8 948.9 471.4 950.9 469 952.9 466.6 953 466.4 954.9 466.3 956.9 466.3 958.9 466.2 960 466.1 960.9 466.1 962.6 466 962.9 466.2 964.9 467.4 966.9 468.7 968.9 469.9 970 470.6 970.3 470.9 970.9 470.7 972.9 470.1 974.9 469.5 976.9 469 978 468.6 978.9 469.1 980.9 470.2 982.9 471.2 984.9 472.3 986.9 473.3 987.6 473.7 988.9 473.9 990.9 474.3 992.9 474.7 994.9 475.1 996.9 475.5 998.9 475.9 999.2 475.9 1000 476.8 1000.9 477.7 1002.9 479.7 1004.9 481.7 1006.9 483.7 1008.9 484.2 1010.9 484.7 1012.9 485.2 1014.9 485.7 1016.9 486.2 1018.9 486.7 1020.9 487.2 1022.3 487.6 1022.9 488 1024.9 489.1 1026.9 490.3 1028.9 491.5 1030.9 492.7 1031.9 493.3 1032.9 493.9 1034.9 495.2 1036.9 496.4 1038.9 497.7 1040.9 498.9 1042.9 500.2 1044.9 501.4 1046.9 502.7 1047.4 503 1048.9 503.6 1050 504.1 1050.9 504.5 1052.9 505.4 1054.9 506.2 1056.9 507.1 1058.9 508 1060.8 508.8 1060.9 508.8 1062.9 509.5 1064.9 510.1 1066.9 510.7 1068.9 511.3 1070.9 511.9 1072.9 512.5 1074.9 513.2 1076.3 513.6 1076.9 513.7 1078.9 513.8 1080 513.9 1080.9 514 1082.9 514.2 1084.9 514.4 1086.9 514.5 1088.9 514.7 1089.7 514.8 1129.8 514.8Z" fill="#f5c4c0"/>
<path d="M680.4 514.8 772.8 514.8 772.9 514 773.9 506.3 774.9 498.6 775 497.8 775.9 490.9 776.7 484.7 776.9 478.7 777.9 448.9 778.7 425.1 778.9 417.7 779.9 380.5 780 376.8 780.3 365.6 780.9 323.1 781.7 266.4 781.9 258.5 782.9 218.8 783 214.8 783.7 187 783.9 183.6 784.9 166.9 785.9 150.1 786.3 143.4 786.5 145.7 786.9 150.4 787.9 161.9 788.7 171.2 788.9 175 789.9 194.2 790 196.1 790.9 213.3 791.6 226.7 791.9 232.7 792.9 252.5 793.9 272.4 794.6 286.3 794.9 290.8 795 292.2 795.9 305.6 796.9 320.5 797.9 335.4 798.6 345.8 798.9 349.2 799.9 360.5 800 361.7 800.9 371.9 801.9 383.2 802.1 385.5 802.9 390.2 803.9 396 804.9 401.8 805.5 405.3 805.9 407.4 806.9 412.5 807.9 417.7 808.9 422.8 809.9 428 810 428.5 810.5 431.1 810.9 432.3 811.9 435.3 812.9 438.4 813.9 441.4 814.9 444.4 815.9 447.5 816.4 449 816.9 451.4 817.9 456.2 818.9 461.1 819.9 465.9 820 466.4 820.9 467.8 821.9 469.4 822.9 471.1 823.9 472.7 824.9 474.3 825.9 475.9 826.9 477.5 827.9 479.1 828.9 480.7 829.6 481.8 829.9 482.2 830.9 483.3 832.9 485.7 834.9 488.1 836.9 490.5 838.9 492.8 839.3 493.3 840 493.7 840.9 494.1 842.9 495.1 844.9 496.2 846.9 497.2 848.9 498.2 850.9 499 852.9 499.8 854.9 500.6 855 500.6 856.9 501.4 858.5 502 858.9 502 860.9 501.8 862.9 501.7 864.9 501.5 866.9 501.4 868.9 501.2 870.9 501.1 872 501 872.9 500.8 874.9 500.4 876.9 499.9 878.9 499.5 880 499.2 880.9 499 882.9 498.6 884.9 498.2 886.9 497.7 887.4 497.6 888.9 497.7 890.9 497.7 892.9 497.8 894.9 497.9 896.9 498 898.9 498 900 498.1 900.9 498.1 902.9 498.2 904.9 496.8 906.9 495.4 908.9 493.9 910.9 492.5 912.5 491.4 912.9 491.2 914.9 489.9 916.9 488.7 918.9 487.4 920 486.7 920.9 486.2 922.9 484.9 924.9 483.7 926.9 482.4 927.9 481.8 928.9 481.7 930.9 481.4 932.9 481.2 934.9 480.9 936.9 480.7 938.9 480.4 940 480.3 940.9 480.2 942.9 479.9 943.3 479.9 944.9 478.2 946.9 476 948.9 473.8 950.9 471.6 952.9 469.4 953 469.3 954.9 469.3 956.9 469.3 958.9 469.3 960 469.3 960.9 469.3 962.6 469.3 962.9 469.5 964.9 470.7 966.9 472 968.9 473.2 970 473.9 970.3 474.1 970.9 473.9 972.9 473.1 974.9 472.4 976.9 471.6 978 471.2 978.9 471.6 980.9 472.3 982.9 473.1 984.9 473.9 986.9 474.7 987.6 475 988.9 475.1 990.9 475.3 992.9 475.5 994.9 475.6 996.9 475.8 998.9 476 999.2 476 1000 476.8 1000.9 477.7 1002.9 479.7 1004.9 481.7 1006.9 483.7 1008.9 484.2 1010.9 484.7 1012.9 485.2 1014.9 485.7 1016.9 486.2 1018.9 486.7 1020.9 487.2 1022.3 487.6 1022.9 488 1024.9 489.1 1026.9 490.3 1028.9 491.5 1030.9 492.7 1031.9 493.3 1032.9 493.9 1034.9 495.2 1036.9 496.4 1038.9 497.7 1040.9 498.9 1042.9 500.2 1044.9 501.4 1046.9 502.7 1047.4 503 1048.9 503.6 1050 504.1 1050.9 504.5 1052.9 505.4 1054.9 506.2 1056.9 507.1 1058.9 508 1060.8 508.8 1060.9 508.8 1062.9 509.5 1064.9 510.1 1066.9 510.7 1068.9 511.3 1070.9 511.9 1072.9 512.5 1074.9 513.2 1076.3 513.6 1076.9 513.7 1078.9 513.8 1080 513.9 1080.9 514 1082.9 514.2 1084.9 514.4 1086.9 514.5 1088.9 514.7 1089.7 514.8 1129.8 514.8Z" fill="#a9bfca"/>
<path d="M680.4 514.8 772.8 514.8 772.9 514 773.9 506.3 774.9 498.6 775 497.8 775.9 491.5 776.7 486.2 776.9 480.8 777.9 454.7 778.7 435.1 778.9 429 779.9 400.2 780 397.5 780.3 388.6 780.9 354.1 781.7 309.2 781.9 303.3 782.9 274.4 783 271.6 783.7 252 783.9 250.2 784.9 241.4 785.9 232.9 786.3 229.7 786.5 232.5 786.9 236.3 787.9 245.7 788.7 253.3 788.9 256.3 789.9 271.4 790 272.9 790.9 286.5 791.6 297 791.9 301.7 792.9 317.1 793.9 332.5 794.6 343.3 794.9 346.7 795 347.9 795.9 358.3 796.9 369.8 797.9 381.3 798.6 389.3 798.9 391.9 799.9 400.6 800 401.5 800.9 409.3 801.9 417.9 802.1 419.7 802.9 423.3 803.9 427.8 804.9 432.3 805.5 435 805.9 436.6 806.9 440.5 807.9 444.5 808.9 448.4 809.9 452.3 810 452.7 810.5 454.5 810.9 455.3 811.9 457.4 812.9 459.6 813.9 461.7 814.9 463.8 815.9 465.9 816.4 467 816.9 468.7 817.9 472.2 818.9 475.6 819.9 479.1 820 479.5 820.9 480.5 821.9 481.6 822.9 482.7 823.9 483.9 824.9 485 825.9 486.1 826.9 487.3 827.9 488.4 828.9 489.6 829.6 490.4 829.9 490.6 830.9 491.5 832.9 493.2 834.9 494.9 836.9 496.6 838.9 498.3 839.3 498.7 840 498.9 840.9 499.3 842.9 500 844.9 500.7 846.9 501.4 848.9 502.2 850.9 502.7 852.9 503.3 854.9 503.9 855 503.9 856.9 504.4 858.5 504.9 858.9 504.9 860.9 504.7 862.9 504.6 864.9 504.4 866.9 504.3 868.9 504.1 870.9 504 872 503.9 872.9 503.7 874.9 503.3 876.9 503 878.9 502.6 880 502.3 880.9 502.2 882.9 502 884.9 501.7 886.9 501.4 887.4 501.4 888.9 501.5 890.9 501.6 892.9 501.8 894.9 501.9 896.9 502 898.9 502.2 900 502.3 900.9 502.3 902.9 502.5 904.9 501.5 906.9 500.6 908.9 499.6 910.9 498.7 912.5 498 912.9 497.8 914.9 497.1 916.9 496.3 918.9 495.6 920 495.1 920.9 494.8 922.9 493.9 924.9 493.1 926.9 492.2 927.9 491.8 928.9 491.8 930.9 491.6 932.9 491.5 934.9 491.3 936.9 491.2 938.9 491.1 940 491 940.9 490.9 942.9 490.8 943.3 490.8 944.9 489.6 946.9 488.1 948.9 486.7 950.9 485.2 952.9 483.8 953 483.7 954.9 483.7 956.9 483.8 958.9 483.8 960 483.9 960.9 483.8 962.6 483.8 962.9 483.9 964.9 484.7 966.9 485.5 968.9 486.3 970 486.8 970.3 486.9 970.9 486.7 972.9 486.2 974.9 485.6 976.9 485.1 978 484.8 978.9 485 980.9 485.5 982.9 486 984.9 486.5 986.9 487 987.6 487.2 988.9 487.2 990.9 487.3 992.9 487.4 994.9 487.5 996.9 487.6 998.9 487.6 999.2 487.7 1000 488.2 1000.9 488.8 1002.9 490.1 1004.9 491.5 1006.9 492.8 1008.9 493.1 1010.9 493.4 1012.9 493.7 1014.9 494 1016.9 494.3 1018.9 494.6 1020.9 494.9 1022.3 495.2 1022.9 495.4 1024.9 496.2 1026.9 497 1028.9 497.8 1030.9 498.7 1031.9 499.1 1032.9 499.5 1034.9 500.4 1036.9 501.3 1038.9 502.2 1040.9 503 1042.9 503.9 1044.9 504.8 1046.9 505.8 1047.4 506 1048.9 506.4 1050 506.8 1050.9 507 1052.9 507.5 1054.9 508 1056.9 508.6 1058.9 509.2 1060.8 509.8 1060.9 509.8 1062.9 510.2 1064.9 510.7 1066.9 511.1 1068.9 511.6 1070.9 512.1 1072.9 512.7 1074.9 513.2 1076.3 513.6 1076.9 513.7 1078.9 513.8 1080 513.9 1080.9 514 1082.9 514.2 1084.9 514.4 1086.9 514.5 1088.9 514.7 1089.7 514.8 1129.8 514.8Z" fill="#9ab4af"/>
<path d="M680.4 514.8 772.8 514.8 772.9 514 773.9 506.3 774.9 498.6 775 497.8 775.9 491.5 776.7 486.2 776.9 480.8 777.9 454.7 778.7 435.1 778.9 429 779.9 400.2 780 397.5 780.3 388.6 780.9 354.1 781.7 309.2 781.9 303.3 782.9 274.4 783 271.6 783.7 252 783.9 250.2 784.9 241.4 785.9 232.9 786.3 229.7 786.5 232.5 786.9 236.3 787.9 245.7 788.7 253.3 788.9 256.3 789.9 271.4 790 272.9 790.9 286.5 791.6 297 791.9 301.7 792.9 317.1 793.9 332.5 794.6 343.3 794.9 346.7 795 347.9 795.9 358.3 796.9 369.8 797.9 381.3 798.6 389.3 798.9 391.9 799.9 400.6 800 401.5 800.9 409.3 801.9 417.9 802.1 419.7 802.9 423.3 803.9 427.8 804.9 432.3 805.5 435 805.9 436.6 806.9 440.5 807.9 444.5 808.9 448.4 809.9 452.3 810 452.7 810.5 454.5 810.9 455.3 811.9 457.4 812.9 459.6 813.9 461.7 814.9 463.8 815.9 465.9 816.4 467 816.9 468.7 817.9 472.2 818.9 475.6 819.9 479.1 820 479.5 820.9 480.5 821.9 481.6 822.9 482.7 823.9 483.9 824.9 485 825.9 486.1 826.9 487.3 827.9 488.4 828.9 489.6 829.6 490.4 829.9 490.6 830.9 491.5 832.9 493.2 834.9 494.9 836.9 496.6 838.9 498.3 839.3 498.7 840 498.9 840.9 499.3 842.9 500 844.9 500.7 846.9 501.4 848.9 502.2 850.9 502.7 852.9 503.3 854.9 503.9 855 503.9 856.9 504.4 858.5 504.9 858.9 504.9 860.9 504.7 862.9 504.6 864.9 504.4 866.9 504.3 868.9 504.1 870.9 504 872 503.9 872.9 503.7 874.9 503.3 876.9 503 878.9 502.6 880 502.3 880.9 502.2 882.9 502 884.9 501.7 886.9 501.4 887.4 501.4 888.9 501.5 890.9 501.6 892.9 501.8 894.9 501.9 896.9 502 898.9 502.2 900 502.3 900.9 502.3 902.9 502.5 904.9 501.5 906.9 500.6 908.9 499.6 910.9 498.7 912.5 498 912.9 497.8 914.9 497.1 916.9 496.3 918.9 495.6 920 495.1 920.9 494.8 922.9 493.9 924.9 493.1 926.9 492.2 927.9 491.8 928.9 491.8 930.9 491.6 932.9 491.5 934.9 491.3 936.9 491.2 938.9 491.1 940 491 940.9 490.9 942.9 490.8 943.3 490.8 944.9 489.6 946.9 488.1 948.9 486.7 950.9 485.2 952.9 483.8 953 483.7 954.9 483.7 956.9 483.8 958.9 483.8 960 483.9 960.9 483.8 962.6 483.8 962.9 483.9 964.9 484.7 966.9 485.5 968.9 486.3 970 486.8 970.3 486.9 970.9 486.7 972.9 486.2 974.9 485.6 976.9 485.1 978 484.8 978.9 485 980.9 485.5 982.9 486 984.9 486.5 986.9 487 987.6 487.2 988.9 487.2 990.9 487.3 992.9 487.4 994.9 487.5 996.9 487.6 998.9 487.6 999.2 487.7 1000 488.2 1000.9 488.8 1002.9 490.1 1004.9 491.5 1006.9 492.8 1008.9 493.1 1010.9 493.4 1012.9 493.7 1014.9 494 1016.9 494.3 1018.9 494.6 1020.9 494.9 1022.3 495.2 1022.9 495.4 1024.9 496.2 1026.9 497 1028.9 497.8 1030.9 498.7 1031.9 499.1 1032.9 499.5 1034.9 500.4 1036.9 501.3 1038.9 502.2 1040.9 503 1042.9 503.9 1044.9 504.8 1046.9 505.8 1047.4 506 1048.9 506.4 1050 506.8 1050.9 507 1052.9 507.5 1054.9 508 1056.9 508.6 1058.9 509.2 1060.8 509.8 1060.9 509.8 1062.9 510.2 1064.9 510.7 1066.9 511.1 1068.9 511.6 1070.9 512.1 1072.9 512.7 1074.9 513.2 1076.3 513.6 1076.9 513.7 1078.9 513.8 1080 513.9 1080.9 514 1082.9 514.2 1084.9 514.4 1086.9 514.5 1088.9 514.7 1089.7 514.8 1129.8 514.8" fill="none" stroke="#aaa872" stroke-width="1.8" stroke-linejoin="round"/>
<path d="M680.4 514.8 772.8 514.8 772.9 514 773.9 506.3 774.9 498.6 775 497.8 775.9 490.7 776.7 484.4 776.9 478.3 777.9 447.7 778.7 423 778.9 415.3 779.9 376.4 780 372.4 780.3 360.7 780.9 316 781.7 256 781.9 247.4 782.9 204.1 783 199.8 783.7 167.3 783.9 162.8 784.9 140 785.9 116.8 786.3 107.3 786.5 108.8 786.9 115.6 787.9 132.3 788.7 145.5 788.9 150.4 789.9 174.6 790 177 790.9 195.5 791.6 209.9 791.9 216.3 792.9 237.6 793.9 258.8 794.6 273.6 794.9 278.4 795 280 795.9 294.3 796.9 310.2 797.9 326 798.6 337.1 798.9 340.7 799.9 352.8 800 354 800.9 364.7 801.9 376.5 802.1 378.9 802.9 383.7 803.9 389.8 804.9 395.9 805.5 399.5 805.9 401.7 806.9 407.1 807.9 412.4 808.9 417.8 809.9 423.2 810 423.8 810.5 426.5 810.9 427.7 811.9 430.9 812.9 434.1 813.9 437.2 814.9 440.4 815.9 443.6 816.4 445.2 816.9 447.7 817.9 452.8 818.9 457.9 819.9 463 820 463.5 820.9 464.9 821.9 466.5 822.9 468 823.9 469.6 824.9 471.2 825.9 472.8 826.9 474.5 827.9 476.1 828.9 477.7 829.6 478.9 829.9 479.2 830.9 480.4 832.9 482.8 834.9 485.3 836.9 487.8 838.9 490.3 839.3 490.8 840 491.1 840.9 491.5 842.9 492.5 844.9 493.4 846.9 494.4 848.9 495.4 850.9 496.2 852.9 496.9 854.9 497.7 855 497.8 856.9 498.7 858.5 499.5 858.9 499.4 860.9 499.3 862.9 499.1 864.9 499 866.9 498.8 868.9 498.7 870.9 498.5 872 498.4 872.9 498.2 874.9 497.7 876.9 497.2 878.9 496.7 880 496.4 880.9 496.3 882.9 496 884.9 495.7 886.9 495.4 887.4 495.3 888.9 495.6 890.9 495.9 892.9 496.2 894.9 496.5 896.9 496.8 898.9 497.1 900 497.3 900.9 497.3 902.9 497.4 904.9 495.9 906.9 494.4 908.9 492.9 910.9 491.4 912.5 490.2 912.9 490 914.9 488.7 916.9 487.3 918.9 486 920 485.3 920.9 484.7 922.9 483.4 924.9 482.1 926.9 480.8 927.9 480.2 928.9 480 930.9 479.8 932.9 479.5 934.9 479.2 936.9 479 938.9 478.7 940 478.6 940.9 478.4 942.9 478.1 943.3 478 944.9 476.1 946.9 473.8 948.9 471.4 950.9 469 952.9 466.6 953 466.4 954.9 466.3 956.9 466.3 958.9 466.2 960 466.1 960.9 466.1 962.6 466 962.9 466.2 964.9 467.4 966.9 468.7 968.9 469.9 970 470.6 970.3 470.9 970.9 470.7 972.9 470.1 974.9 469.5 976.9 469 978 468.6 978.9 469.1 980.9 470.2 982.9 471.2 984.9 472.3 986.9 473.3 987.6 473.7 988.9 473.9 990.9 474.3 992.9 474.7 994.9 475.1 996.9 475.5 998.9 475.9 999.2 475.9 1000 476.8 1000.9 477.7 1002.9 479.7 1004.9 481.7 1006.9 483.7 1008.9 484.2 1010.9 484.7 1012.9 485.2 1014.9 485.7 1016.9 486.2 1018.9 486.7 1020.9 487.2 1022.3 487.6 1022.9 488 1024.9 489.1 1026.9 490.3 1028.9 491.5 1030.9 492.7 1031.9 493.3 1032.9 493.9 1034.9 495.2 1036.9 496.4 1038.9 497.7 1040.9 498.9 1042.9 500.2 1044.9 501.4 1046.9 502.7 1047.4 503 1048.9 503.6 1050 504.1 1050.9 504.5 1052.9 505.4 1054.9 506.2 1056.9 507.1 1058.9 508 1060.8 508.8 1060.9 508.8 1062.9 509.5 1064.9 510.1 1066.9 510.7 1068.9 511.3 1070.9 511.9 1072.9 512.5 1074.9 513.2 1076.3 513.6 1076.9 513.7 1078.9 513.8 1080 513.9 1080.9 514 1082.9 514.2 1084.9 514.4 1086.9 514.5 1088.9 514.7 1089.7 514.8 1129.8 514.8" fill="none" stroke="#ec1c1c" stroke-width="2" stroke-linejoin="round"/>
<path d="M680.4 514.8 772.8 514.8 772.9 514 773.9 506.3 774.9 498.6 775 497.8 775.9 490.9 776.7 484.7 776.9 478.7 777.9 448.9 778.7 425.1 778.9 417.7 779.9 380.5 780 376.8 780.3 365.6 780.9 323.1 781.7 266.4 781.9 258.5 782.9 218.8 783 214.8 783.7 187 783.9 183.6 784.9 166.9 785.9 150.1 786.3 143.4 786.5 145.7 786.9 150.4 787.9 161.9 788.7 171.2 788.9 175 789.9 194.2 790 196.1 790.9 213.3 791.6 226.7 791.9 232.7 792.9 252.5 793.9 272.4 794.6 286.3 794.9 290.8 795 292.2 795.9 305.6 796.9 320.5 797.9 335.4 798.6 345.8 798.9 349.2 799.9 360.5 800 361.7 800.9 371.9 801.9 383.2 802.1 385.5 802.9 390.2 803.9 396 804.9 401.8 805.5 405.3 805.9 407.4 806.9 412.5 807.9 417.7 808.9 422.8 809.9 428 810 428.5 810.5 431.1 810.9 432.3 811.9 435.3 812.9 438.4 813.9 441.4 814.9 444.4 815.9 447.5 816.4 449 816.9 451.4 817.9 456.2 818.9 461.1 819.9 465.9 820 466.4 820.9 467.8 821.9 469.4 822.9 471.1 823.9 472.7 824.9 474.3 825.9 475.9 826.9 477.5 827.9 479.1 828.9 480.7 829.6 481.8 829.9 482.2 830.9 483.3 832.9 485.7 834.9 488.1 836.9 490.5 838.9 492.8 839.3 493.3 840 493.7 840.9 494.1 842.9 495.1 844.9 496.2 846.9 497.2 848.9 498.2 850.9 499 852.9 499.8 854.9 500.6 855 500.6 856.9 501.4 858.5 502 858.9 502 860.9 501.8 862.9 501.7 864.9 501.5 866.9 501.4 868.9 501.2 870.9 501.1 872 501 872.9 500.8 874.9 500.4 876.9 499.9 878.9 499.5 880 499.2 880.9 499 882.9 498.6 884.9 498.2 886.9 497.7 887.4 497.6 888.9 497.7 890.9 497.7 892.9 497.8 894.9 497.9 896.9 498 898.9 498 900 498.1 900.9 498.1 902.9 498.2 904.9 496.8 906.9 495.4 908.9 493.9 910.9 492.5 912.5 491.4 912.9 491.2 914.9 489.9 916.9 488.7 918.9 487.4 920 486.7 920.9 486.2 922.9 484.9 924.9 483.7 926.9 482.4 927.9 481.8 928.9 481.7 930.9 481.4 932.9 481.2 934.9 480.9 936.9 480.7 938.9 480.4 940 480.3 940.9 480.2 942.9 479.9 943.3 479.9 944.9 478.2 946.9 476 948.9 473.8 950.9 471.6 952.9 469.4 953 469.3 954.9 469.3 956.9 469.3 958.9 469.3 960 469.3 960.9 469.3 962.6 469.3 962.9 469.5 964.9 470.7 966.9 472 968.9 473.2 970 473.9 970.3 474.1 970.9 473.9 972.9 473.1 974.9 472.4 976.9 471.6 978 471.2 978.9 471.6 980.9 472.3 982.9 473.1 984.9 473.9 986.9 474.7 987.6 475 988.9 475.1 990.9 475.3 992.9 475.5 994.9 475.6 996.9 475.8 998.9 476 999.2 476 1000 476.8 1000.9 477.7 1002.9 479.7 1004.9 481.7 1006.9 483.7 1008.9 484.2 1010.9 484.7 1012.9 485.2 1014.9 485.7 1016.9 486.2 1018.9 486.7 1020.9 487.2 1022.3 487.6 1022.9 488 1024.9 489.1 1026.9 490.3 1028.9 491.5 1030.9 492.7 1031.9 493.3 1032.9 493.9 1034.9 495.2 1036.9 496.4 1038.9 497.7 1040.9 498.9 1042.9 500.2 1044.9 501.4 1046.9 502.7 1047.4 503 1048.9 503.6 1050 504.1 1050.9 504.5 1052.9 505.4 1054.9 506.2 1056.9 507.1 1058.9 508 1060.8 508.8 1060.9 508.8 1062.9 509.5 1064.9 510.1 1066.9 510.7 1068.9 511.3 1070.9 511.9 1072.9 512.5 1074.9 513.2 1076.3 513.6 1076.9 513.7 1078.9 513.8 1080 513.9 1080.9 514 1082.9 514.2 1084.9 514.4 1086.9 514.5 1088.9 514.7 1089.7 514.8 1129.8 514.8" fill="none" stroke="#00bcef" stroke-width="2.6" stroke-linejoin="round"/>
</g>
<g stroke="#000" stroke-width="2.6" fill="none">
<line x1="680.4" y1="380.8" x2="876.7" y2="380.8"/>
<line x1="876.7" y1="403.3" x2="1128.8" y2="403.3"/>
</g>
<g stroke="#000" stroke-width="2.7" stroke-linecap="round" fill="none">
<line x1="681.2" y1="371.8" x2="681.2" y2="389.8"/>
<line x1="876.7" y1="371.8" x2="876.7" y2="389.8"/>
<line x1="876.7" y1="394.3" x2="876.7" y2="412.3"/>
<line x1="1128.2" y1="394.3" x2="1128.2" y2="412.3"/>
</g>
<path d="M680.4 68.1H1129.8V517.1" stroke="#3a3a3a" stroke-width="1.8" fill="none"/>
<path d="M680.4 68.1V517.1H1129.8" stroke="#000" stroke-width="1.6" fill="none"/>
<g stroke="#000" fill="none">
<line x1="668.1" y1="515.5" x2="680.4" y2="515.5" stroke-width="3.2"/>
<line x1="675.1" y1="490.06" x2="680.4" y2="490.06" stroke-width="2"/>
<line x1="675.1" y1="464.61" x2="680.4" y2="464.61" stroke-width="2"/>
<line x1="675.1" y1="439.17" x2="680.4" y2="439.17" stroke-width="2"/>
<line x1="668.1" y1="413.73" x2="680.4" y2="413.73" stroke-width="3.2"/>
<line x1="675.1" y1="388.28" x2="680.4" y2="388.28" stroke-width="2"/>
<line x1="675.1" y1="362.84" x2="680.4" y2="362.84" stroke-width="2"/>
<line x1="675.1" y1="337.4" x2="680.4" y2="337.4" stroke-width="2"/>
<line x1="668.1" y1="311.95" x2="680.4" y2="311.95" stroke-width="3.2"/>
<line x1="675.1" y1="286.51" x2="680.4" y2="286.51" stroke-width="2"/>
<line x1="675.1" y1="261.06" x2="680.4" y2="261.06" stroke-width="2"/>
<line x1="675.1" y1="235.62" x2="680.4" y2="235.62" stroke-width="2"/>
<line x1="668.1" y1="210.18" x2="680.4" y2="210.18" stroke-width="3.2"/>
<line x1="675.1" y1="184.73" x2="680.4" y2="184.73" stroke-width="2"/>
<line x1="675.1" y1="159.29" x2="680.4" y2="159.29" stroke-width="2"/>
<line x1="675.1" y1="133.85" x2="680.4" y2="133.85" stroke-width="2"/>
<line x1="668.1" y1="108.4" x2="680.4" y2="108.4" stroke-width="3.2"/>
<line x1="675.1" y1="82.96" x2="680.4" y2="82.96" stroke-width="2"/>
</g>
<g font-family="'Liberation Sans', Arial, Helvetica, sans-serif" font-size="18" fill="#000" stroke="#000" stroke-width="0.3">
<text x="660" y="515.2" text-anchor="end">0</text>
<text x="658.2" y="426.03" text-anchor="end">200</text>
<text x="658.2" y="324.25" text-anchor="end">400</text>
<text x="658.2" y="222.48" text-anchor="end">600</text>
<text x="658.2" y="120.7" text-anchor="end">800</text>
</g>
<text transform="translate(616.8 291.4) rotate(-90) scale(1.0 1.06)" text-anchor="middle" font-family="'Liberation Sans', Arial, Helvetica, sans-serif" font-size="21" fill="#000" stroke="#000" stroke-width="0.45">Count</text>
<g stroke="#000" fill="none">
<line x1="701.5" y1="517.1" x2="701.5" y2="529.7" stroke-width="3.5"/>
<line x1="706.6" y1="517.1" x2="706.6" y2="522.7" stroke-width="2"/>
<line x1="712.1" y1="517.1" x2="712.1" y2="522.7" stroke-width="2"/>
<line x1="719.1" y1="517.1" x2="719.1" y2="522.7" stroke-width="2"/>
<line x1="725.8" y1="517.1" x2="725.8" y2="522.7" stroke-width="2"/>
<line x1="743.9" y1="517.1" x2="743.9" y2="522.7" stroke-width="2"/>
<line x1="752.5" y1="517.1" x2="752.5" y2="522.7" stroke-width="2"/>
<line x1="761.3" y1="517.1" x2="761.3" y2="522.7" stroke-width="2"/>
<line x1="735.1" y1="517.1" x2="735.1" y2="526.3" stroke-width="2.5"/>
<line x1="769.85" y1="517.1" x2="769.85" y2="529.7" stroke-width="3.5"/>
<line x1="779.95" y1="517.1" x2="779.95" y2="529.7" stroke-width="3.5"/>
<line x1="789.5" y1="517.1" x2="789.5" y2="529.7" stroke-width="3.5"/>
<line x1="775" y1="517.1" x2="775" y2="526.3" stroke-width="2.5"/>
<line x1="784.3" y1="517.1" x2="784.3" y2="526.3" stroke-width="2.5"/>
<line x1="770.86" y1="517.1" x2="770.86" y2="522.7" stroke-width="2"/>
<line x1="780.9" y1="517.1" x2="780.9" y2="522.7" stroke-width="2"/>
<line x1="771.87" y1="517.1" x2="771.87" y2="522.7" stroke-width="2"/>
<line x1="781.86" y1="517.1" x2="781.86" y2="522.7" stroke-width="2"/>
<line x1="772.88" y1="517.1" x2="772.88" y2="522.7" stroke-width="2"/>
<line x1="782.81" y1="517.1" x2="782.81" y2="522.7" stroke-width="2"/>
<line x1="773.89" y1="517.1" x2="773.89" y2="522.7" stroke-width="2"/>
<line x1="783.77" y1="517.1" x2="783.77" y2="522.7" stroke-width="2"/>
<line x1="775.91" y1="517.1" x2="775.91" y2="522.7" stroke-width="2"/>
<line x1="785.68" y1="517.1" x2="785.68" y2="522.7" stroke-width="2"/>
<line x1="776.92" y1="517.1" x2="776.92" y2="522.7" stroke-width="2"/>
<line x1="786.63" y1="517.1" x2="786.63" y2="522.7" stroke-width="2"/>
<line x1="777.93" y1="517.1" x2="777.93" y2="522.7" stroke-width="2"/>
<line x1="787.59" y1="517.1" x2="787.59" y2="522.7" stroke-width="2"/>
<line x1="778.94" y1="517.1" x2="778.94" y2="522.7" stroke-width="2"/>
<line x1="788.54" y1="517.1" x2="788.54" y2="522.7" stroke-width="2"/>
<line x1="799.8" y1="517.1" x2="799.8" y2="522.7" stroke-width="2"/>
<line x1="808.6" y1="517.1" x2="808.6" y2="522.7" stroke-width="2"/>
<line x1="817.4" y1="517.1" x2="817.4" y2="522.7" stroke-width="2"/>
<line x1="833.2" y1="517.1" x2="833.2" y2="522.7" stroke-width="2"/>
<line x1="840.2" y1="517.1" x2="840.2" y2="522.7" stroke-width="2"/>
<line x1="847.5" y1="517.1" x2="847.5" y2="522.7" stroke-width="2"/>
<line x1="854.1" y1="517.1" x2="854.1" y2="522.7" stroke-width="2"/>
<line x1="899.9" y1="517.1" x2="899.9" y2="522.7" stroke-width="2"/>
<line x1="921.3" y1="517.1" x2="921.3" y2="522.7" stroke-width="2"/>
<line x1="936.8" y1="517.1" x2="936.8" y2="522.7" stroke-width="2"/>
<line x1="957.9" y1="517.1" x2="957.9" y2="522.7" stroke-width="2"/>
<line x1="964.9" y1="517.1" x2="964.9" y2="522.7" stroke-width="2"/>
<line x1="971.9" y1="517.1" x2="971.9" y2="522.7" stroke-width="2"/>
<line x1="977.1" y1="517.1" x2="977.1" y2="522.7" stroke-width="2"/>
<line x1="1014.2" y1="517.1" x2="1014.2" y2="522.7" stroke-width="2"/>
<line x1="1031.6" y1="517.1" x2="1031.6" y2="522.7" stroke-width="2"/>
<line x1="1045.7" y1="517.1" x2="1045.7" y2="522.7" stroke-width="2"/>
<line x1="1063.1" y1="517.1" x2="1063.1" y2="522.7" stroke-width="2"/>
<line x1="1069.9" y1="517.1" x2="1069.9" y2="522.7" stroke-width="2"/>
<line x1="1075.3" y1="517.1" x2="1075.3" y2="522.7" stroke-width="2"/>
<line x1="1080.7" y1="517.1" x2="1080.7" y2="522.7" stroke-width="2"/>
<line x1="1115.9" y1="517.1" x2="1115.9" y2="522.7" stroke-width="2"/>
<line x1="826.2" y1="517.1" x2="826.2" y2="526.3" stroke-width="2.5"/>
<line x1="947.5" y1="517.1" x2="947.5" y2="526.3" stroke-width="2.5"/>
<line x1="1054.5" y1="517.1" x2="1054.5" y2="526.3" stroke-width="2.5"/>
<line x1="859.6" y1="517.1" x2="859.6" y2="529.7" stroke-width="3.5"/>
<line x1="982.5" y1="517.1" x2="982.5" y2="529.7" stroke-width="3.5"/>
<line x1="1086.1" y1="517.1" x2="1086.1" y2="529.7" stroke-width="3.5"/>
</g>
<g font-family="'Liberation Sans', Arial, Helvetica, sans-serif" font-size="17.5" fill="#000" stroke="#000" stroke-width="0.3">
<text x="689.8" y="569.6">-10</text>
<text x="715.9" y="555.2">3</text>
<text x="775.7" y="569.6">0</text>
<text x="849.8" y="569.6">10</text>
<text x="870.8" y="555.2">3</text>
<text x="972.3" y="569.6">10</text>
<text x="993.4" y="555.2">4</text>
<text x="1075.9" y="569.6">10</text>
<text x="1096.8" y="555.2">5</text>
</g>
<g font-family="'Liberation Sans', Arial, Helvetica, sans-serif" font-size="21" fill="#000" stroke="#000" stroke-width="0.45">
<text transform="translate(869.4 608.3) scale(1 1.06)">FITC-A</text>
</g>
<g font-family="'Liberation Sans', Arial, Helvetica, sans-serif" font-size="21" fill="#000" stroke="#000" stroke-width="0.45">
<text transform="translate(688 107.5) scale(1 1.06)">FITC-A-</text>
<text transform="translate(689.8 139) scale(1 1.06)">63.4</text>
<text transform="translate(1084.8 107.5) scale(1 1.06)" text-anchor="end">FITC-A+</text>
<text transform="translate(1080.9 139) scale(1 1.06)" text-anchor="end">36.6</text>
</g>
<clipPath id="c02"><rect x="1251.6" y="68.9" width="448" height="447.6"/></clipPath>
<g clip-path="url(#c02)">
<path d="M1251 514.8 1343.8 514.8 1344.5 511.2 1345 508.6 1345.5 506 1346.5 500.8 1347.5 495.6 1347.7 494.5 1348.5 466.6 1349.5 431.7 1349.7 424.7 1350 406.7 1350.5 376.8 1351.5 316.9 1351.7 304.9 1352.5 256.9 1353.5 196.8 1353.7 184.8 1354.5 154 1355.5 115.5 1356 96.3 1356.1 92.4 1356.5 93.9 1357.5 97.5 1358.5 101.2 1359.5 105.5 1360 107.7 1360.5 130.9 1361.2 163.5 1361.5 171 1362 183.4 1362.5 195.9 1363.5 220.8 1363.6 223.3 1364.5 241.3 1365.5 261.3 1366.5 281.3 1366.6 283.3 1367.5 296.7 1368.5 311.7 1369.5 326.7 1370.5 341.7 1370.6 343.2 1371.5 354.8 1372.5 367.6 1373.5 380.5 1374.5 393.3 1375 396.3 1375.5 399.3 1376.5 405.3 1377.5 411.3 1378.5 417.3 1379.5 423.3 1380 424.6 1380.5 425.9 1381.5 428.4 1382.5 431 1383.5 433.6 1384.5 436.6 1385.5 439.6 1386.5 442.7 1387.5 445.7 1388.5 448.8 1389.5 451.8 1390 453.3 1390.5 454.4 1391.5 456.7 1392.5 458.9 1393.5 461.2 1394.5 463.4 1395.5 465.7 1396.5 467.9 1397.5 470.2 1398.5 472.4 1399.5 474.6 1399.6 474.9 1400 475.4 1400.5 476.2 1401.5 477.6 1403.5 480.5 1405.5 483.4 1407.5 486.2 1409.1 488.5 1409.5 488.6 1411.5 489 1413.5 489.4 1415.5 489.8 1417.5 490.3 1418.7 490.5 1419.5 490.8 1421.5 491.6 1423.5 492.3 1425.5 493.1 1427.5 493.9 1429.5 494.6 1431.5 495.4 1433.5 496.1 1434 496.3 1435.5 496.4 1437.5 496.4 1439.5 496.5 1440 496.5 1441.5 496.6 1443.5 496.7 1445.5 496.7 1447.4 496.8 1447.5 496.8 1449.5 496.7 1451.5 496.7 1453.5 496.7 1455.5 496.6 1457.5 496.6 1459.5 496.6 1461.5 496.5 1463.5 496.5 1465.5 496.5 1466.6 496.5 1467.5 495.9 1469.5 494.5 1471.5 493.2 1473.5 491.9 1475.5 490.6 1477.5 489.3 1478.1 488.9 1479.5 487.5 1480 487 1481.5 485.3 1483.5 483.1 1485.5 480.8 1487.5 478.4 1489.5 476.1 1491.5 473.7 1493.5 471.3 1495.3 469.1 1495.5 469 1497.5 468.7 1499.5 468.3 1500 468.3 1501.5 468.4 1503.5 468.6 1504.9 468.7 1505.5 467.6 1507.5 464 1509.5 460.5 1511.5 456.9 1512.5 455.2 1513.5 455.1 1515 454.9 1515.5 454.9 1517.5 454.6 1519.5 454.4 1521.5 454.1 1522.1 454.1 1523.5 452 1525.5 449.1 1527.5 446.3 1529.5 443.4 1529.7 443.1 1530 443.1 1531.5 443 1533.5 442.9 1535.5 442.8 1537.5 441.7 1539.5 440.6 1541.5 439.5 1542 439.3 1542.2 439.1 1543.5 440 1545 440.9 1545.5 440.9 1547.5 440.9 1548.9 440.9 1549.5 441.5 1551.5 443.4 1552 443.8 1553.5 446 1555.5 449 1556.5 450.4 1557.5 450 1559.5 449.2 1560 449.1 1561.5 448.5 1563.5 447.8 1564.2 447.5 1565.5 449.2 1567.5 451.8 1569.5 454.3 1571.5 456.9 1573.5 459.4 1573.8 459.8 1575.5 460.8 1577.5 461.9 1579.5 462.9 1581.4 464 1581.5 464.1 1583.5 465.8 1585.5 467.5 1587.5 469.2 1589.5 470.9 1591 472.2 1591.5 472.6 1593.5 474.3 1595.5 475.9 1597.5 477.6 1599.5 479.3 1600 479.7 1600.6 480.2 1601.5 481 1603.5 482.7 1605.5 484.4 1607.5 486.1 1609.5 487.7 1610.1 488.3 1611.5 489.7 1613.5 491.8 1615.5 493.8 1617.5 495.9 1619.5 498 1619.7 498.2 1621.5 499.3 1623.5 500.5 1625.5 501.7 1627.5 502.9 1629.3 504 1629.5 504.1 1631.5 504.9 1633.5 505.7 1635.5 506.6 1637.5 507.4 1638.9 507.9 1639.5 508.2 1640 508.4 1641.5 509 1643.5 509.8 1645.5 510.7 1647.5 511.5 1648.4 511.9 1649.5 512.2 1651.5 512.8 1653.5 513.4 1655.5 514 1657.5 514.6 1658 514.8 1700.4 514.8Z" fill="#fbdcc2"/>
<path d="M1251 514.8 1343.8 514.8 1344.5 511.2 1345 508.6 1345.5 506 1346.5 500.8 1347.5 495.6 1347.7 494.6 1348.5 466.8 1349.5 432.1 1349.7 425.1 1350 407.3 1350.5 377.5 1351.5 318 1351.7 306.1 1352.5 258.5 1353.5 198.9 1353.7 187 1354.5 156.6 1355.5 118.6 1356 99.6 1356.1 95.8 1356.5 97.3 1357.5 101.2 1358.5 105 1359.5 109.5 1360 111.7 1360.5 134.8 1361.2 167.2 1361.5 174.6 1362 187 1362.5 199.4 1363.5 224.2 1363.6 226.7 1364.5 244.6 1365.5 264.4 1366.5 284.3 1366.6 286.3 1367.5 299.7 1368.5 314.6 1369.5 329.4 1370.5 344.3 1370.6 345.8 1371.5 357.2 1372.5 370 1373.5 382.7 1374.5 395.4 1375 398.4 1375.5 401.3 1376.5 407.3 1377.5 413.2 1378.5 419.2 1379.5 425.1 1380 426.4 1380.5 427.6 1381.5 430.1 1382.5 432.6 1383.5 435.1 1384.5 438.1 1385.5 441 1386.5 444 1387.5 447 1388.5 449.9 1389.5 452.9 1390 454.4 1390.5 455.5 1391.5 457.7 1392.5 459.9 1393.5 462.1 1394.5 464.3 1395.5 466.5 1396.5 468.7 1397.5 470.9 1398.5 473.1 1399.5 475.3 1399.6 475.5 1400 476.1 1400.5 476.8 1401.5 478.2 1403.5 481 1405.5 483.8 1407.5 486.6 1409.1 488.9 1409.5 489 1411.5 489.4 1413.5 489.8 1415.5 490.2 1417.5 490.6 1418.7 490.8 1419.5 491.1 1421.5 491.8 1423.5 492.6 1425.5 493.3 1427.5 494.1 1429.5 494.8 1431.5 495.6 1433.5 496.3 1434 496.5 1435.5 496.5 1437.5 496.6 1439.5 496.7 1440 496.7 1441.5 496.7 1443.5 496.8 1445.5 496.8 1447.4 496.9 1447.5 496.9 1449.5 496.9 1451.5 496.8 1453.5 496.8 1455.5 496.7 1457.5 496.7 1459.5 496.6 1461.5 496.6 1463.5 496.6 1465.5 496.5 1466.6 496.5 1467.5 495.9 1469.5 494.6 1471.5 493.3 1473.5 491.9 1475.5 490.6 1477.5 489.3 1478.1 488.9 1479.5 487.5 1480 487 1481.5 485.5 1483.5 483.5 1485.5 481.5 1487.5 479.5 1489.5 477.5 1491.5 475.5 1493.5 473.5 1495.3 471.7 1495.5 471.7 1497.5 471.7 1499.5 471.7 1500 471.7 1501.5 471.7 1503.5 471.7 1504.9 471.7 1505.5 470.6 1507.5 467.1 1509.5 463.6 1511.5 460.1 1512.5 458.3 1513.5 458.1 1515 457.8 1515.5 457.7 1517.5 457.3 1519.5 456.8 1521.5 456.4 1522.1 456.3 1523.5 454.2 1525.5 451.2 1527.5 448.2 1529.5 445.2 1529.7 444.9 1530 444.8 1531.5 444.6 1533.5 444.2 1535.5 443.9 1537.5 442.6 1539.5 441.3 1541.5 440 1542 439.6 1542.2 439.5 1543.5 440.2 1545 440.9 1545.5 441.2 1547.5 442.2 1548.9 442.9 1549.5 443.7 1551.5 446.5 1552 447.2 1553.5 449.3 1555.5 452.1 1556.5 453.5 1557.5 453.1 1559.5 452.4 1560 452.2 1561.5 451.6 1563.5 450.9 1564.2 450.6 1565.5 452.2 1567.5 454.6 1569.5 456.9 1571.5 459.3 1573.5 461.7 1573.8 462.1 1575.5 463 1577.5 463.9 1579.5 464.9 1581.4 465.9 1581.5 466 1583.5 467.6 1585.5 469.2 1587.5 470.8 1589.5 472.4 1591 473.6 1591.5 474 1593.5 475.6 1595.5 477.2 1597.5 478.7 1599.5 480.3 1600 480.7 1600.6 481.2 1601.5 481.9 1603.5 483.6 1605.5 485.2 1607.5 486.8 1609.5 488.4 1610.1 488.9 1611.5 490.3 1613.5 492.3 1615.5 494.3 1617.5 496.3 1619.5 498.3 1619.7 498.5 1621.5 499.6 1623.5 500.8 1625.5 501.9 1627.5 503.1 1629.3 504.2 1629.5 504.3 1631.5 505.1 1633.5 505.9 1635.5 506.7 1637.5 507.4 1638.9 508 1639.5 508.2 1640 508.5 1641.5 509.1 1643.5 509.9 1645.5 510.7 1647.5 511.5 1648.4 511.9 1649.5 512.2 1651.5 512.8 1653.5 513.4 1655.5 514 1657.5 514.6 1658 514.8 1700.4 514.8Z" fill="#acd3d1"/>
<path d="M1251 514.8 1343.8 514.8 1344.5 511.2 1345 508.6 1345.5 506.1 1346.5 501.2 1347.5 496.6 1347.7 495.7 1348.5 470.2 1349.5 439.5 1349.7 433.5 1350 418 1350.5 392 1351.5 341.1 1351.7 331 1352.5 291.4 1353.5 243.2 1353.7 233.7 1354.5 210.9 1355.5 183.2 1356 169.7 1356.1 167 1356.5 167.7 1357.5 169.5 1358.5 171.3 1359.5 173.7 1360 174.9 1360.5 193.8 1361.2 220.3 1361.5 226.2 1362 236.2 1362.5 246.1 1363.5 266.1 1363.6 268.1 1364.5 282.5 1365.5 298.6 1366.5 314.9 1366.6 316.5 1367.5 327.4 1368.5 339.6 1369.5 351.9 1370.5 364.3 1370.6 365.6 1371.5 375.1 1372.5 385.8 1373.5 396.7 1374.5 407.6 1375 410 1375.5 412.8 1376.5 418.4 1377.5 423.9 1378.5 429.4 1379.5 434.9 1380 436.1 1380.5 437.3 1381.5 439.7 1382.5 442.1 1383.5 444.4 1384.5 447.2 1385.5 450 1386.5 452.7 1387.5 455.5 1388.5 458.2 1389.5 460.9 1390 462.3 1390.5 463.3 1391.5 465.3 1392.5 467.3 1393.5 469.3 1394.5 471.3 1395.5 473.3 1396.5 475.3 1397.5 477.3 1398.5 479.2 1399.5 481.2 1399.6 481.4 1400 481.9 1400.5 482.5 1401.5 483.7 1403.5 486.2 1405.5 488.6 1407.5 491 1409.1 493 1409.5 493 1411.5 493.4 1413.5 493.8 1415.5 494.1 1417.5 494.5 1418.7 494.7 1419.5 495 1421.5 495.7 1423.5 496.3 1425.5 497 1427.5 497.6 1429.5 498.3 1431.5 498.9 1433.5 499.6 1434 499.7 1435.5 499.8 1437.5 499.8 1439.5 499.9 1440 499.9 1441.5 500 1443.5 500.1 1445.5 500.2 1447.4 500.4 1447.5 500.4 1449.5 500.4 1451.5 500.4 1453.5 500.4 1455.5 500.5 1457.5 500.5 1459.5 500.5 1461.5 500.6 1463.5 500.6 1465.5 500.6 1466.6 500.6 1467.5 500.2 1469.5 499.3 1471.5 498.3 1473.5 497.4 1475.5 496.5 1477.5 495.6 1478.1 495.3 1479.5 494.3 1480 493.9 1481.5 492.9 1483.5 491.5 1485.5 490.1 1487.5 488.7 1489.5 487.4 1491.5 486 1493.5 484.7 1495.3 483.5 1495.5 483.5 1497.5 483.6 1499.5 483.7 1500 483.8 1501.5 483.9 1503.5 484 1504.9 484.1 1505.5 483.4 1507.5 481.1 1509.5 478.7 1511.5 476.4 1512.5 475.3 1513.5 475.2 1515 475.2 1515.5 475.1 1517.5 475 1519.5 475 1521.5 474.9 1522.1 474.8 1523.5 473.5 1525.5 471.7 1527.5 469.9 1529.5 468.1 1529.7 467.9 1530 467.9 1531.5 467.7 1533.5 467.3 1535.5 466.9 1537.5 465.9 1539.5 464.8 1541.5 463.8 1542 463.5 1542.2 463.4 1543.5 463.8 1545 464.2 1545.5 464.3 1547.5 464.9 1548.9 465.3 1549.5 465.8 1551.5 467.6 1552 468 1553.5 469.4 1555.5 471.2 1556.5 472.1 1557.5 471.8 1559.5 471.1 1560 471 1561.5 470.5 1563.5 469.9 1564.2 469.7 1565.5 470.8 1567.5 472.4 1569.5 474 1571.5 475.7 1573.5 477.3 1573.8 477.5 1575.5 478.1 1577.5 478.8 1579.5 479.4 1581.4 480 1581.5 480.1 1583.5 481.2 1585.5 482.3 1587.5 483.4 1589.5 484.5 1591 485.3 1591.5 485.6 1593.5 486.7 1595.5 487.8 1597.5 488.9 1599.5 490 1600 490.3 1600.6 490.6 1601.5 491 1603.5 492.1 1605.5 493.1 1607.5 494.2 1609.5 495.3 1610.1 495.6 1611.5 496.6 1613.5 498 1615.5 499.4 1617.5 500.8 1619.5 502.3 1619.7 502.4 1621.5 503.2 1623.5 504 1625.5 504.9 1627.5 505.8 1629.3 506.5 1629.5 506.6 1631.5 507.2 1633.5 507.8 1635.5 508.4 1637.5 509 1638.9 509.4 1639.5 509.6 1640 509.7 1641.5 510.1 1643.5 510.7 1645.5 511.3 1647.5 511.9 1648.4 512.2 1649.5 512.5 1651.5 513 1653.5 513.5 1655.5 514.1 1657.5 514.7 1658 514.8 1700.4 514.8Z" fill="#9ab4af"/>
<path d="M1251 514.8 1343.8 514.8 1344.5 511.2 1345 508.6 1345.5 506.1 1346.5 501.2 1347.5 496.6 1347.7 495.7 1348.5 470.2 1349.5 439.5 1349.7 433.5 1350 418 1350.5 392 1351.5 341.1 1351.7 331 1352.5 291.4 1353.5 243.2 1353.7 233.7 1354.5 210.9 1355.5 183.2 1356 169.7 1356.1 167 1356.5 167.7 1357.5 169.5 1358.5 171.3 1359.5 173.7 1360 174.9 1360.5 193.8 1361.2 220.3 1361.5 226.2 1362 236.2 1362.5 246.1 1363.5 266.1 1363.6 268.1 1364.5 282.5 1365.5 298.6 1366.5 314.9 1366.6 316.5 1367.5 327.4 1368.5 339.6 1369.5 351.9 1370.5 364.3 1370.6 365.6 1371.5 375.1 1372.5 385.8 1373.5 396.7 1374.5 407.6 1375 410 1375.5 412.8 1376.5 418.4 1377.5 423.9 1378.5 429.4 1379.5 434.9 1380 436.1 1380.5 437.3 1381.5 439.7 1382.5 442.1 1383.5 444.4 1384.5 447.2 1385.5 450 1386.5 452.7 1387.5 455.5 1388.5 458.2 1389.5 460.9 1390 462.3 1390.5 463.3 1391.5 465.3 1392.5 467.3 1393.5 469.3 1394.5 471.3 1395.5 473.3 1396.5 475.3 1397.5 477.3 1398.5 479.2 1399.5 481.2 1399.6 481.4 1400 481.9 1400.5 482.5 1401.5 483.7 1403.5 486.2 1405.5 488.6 1407.5 491 1409.1 493 1409.5 493 1411.5 493.4 1413.5 493.8 1415.5 494.1 1417.5 494.5 1418.7 494.7 1419.5 495 1421.5 495.7 1423.5 496.3 1425.5 497 1427.5 497.6 1429.5 498.3 1431.5 498.9 1433.5 499.6 1434 499.7 1435.5 499.8 1437.5 499.8 1439.5 499.9 1440 499.9 1441.5 500 1443.5 500.1 1445.5 500.2 1447.4 500.4 1447.5 500.4 1449.5 500.4 1451.5 500.4 1453.5 500.4 1455.5 500.5 1457.5 500.5 1459.5 500.5 1461.5 500.6 1463.5 500.6 1465.5 500.6 1466.6 500.6 1467.5 500.2 1469.5 499.3 1471.5 498.3 1473.5 497.4 1475.5 496.5 1477.5 495.6 1478.1 495.3 1479.5 494.3 1480 493.9 1481.5 492.9 1483.5 491.5 1485.5 490.1 1487.5 488.7 1489.5 487.4 1491.5 486 1493.5 484.7 1495.3 483.5 1495.5 483.5 1497.5 483.6 1499.5 483.7 1500 483.8 1501.5 483.9 1503.5 484 1504.9 484.1 1505.5 483.4 1507.5 481.1 1509.5 478.7 1511.5 476.4 1512.5 475.3 1513.5 475.2 1515 475.2 1515.5 475.1 1517.5 475 1519.5 475 1521.5 474.9 1522.1 474.8 1523.5 473.5 1525.5 471.7 1527.5 469.9 1529.5 468.1 1529.7 467.9 1530 467.9 1531.5 467.7 1533.5 467.3 1535.5 466.9 1537.5 465.9 1539.5 464.8 1541.5 463.8 1542 463.5 1542.2 463.4 1543.5 463.8 1545 464.2 1545.5 464.3 1547.5 464.9 1548.9 465.3 1549.5 465.8 1551.5 467.6 1552 468 1553.5 469.4 1555.5 471.2 1556.5 472.1 1557.5 471.8 1559.5 471.1 1560 471 1561.5 470.5 1563.5 469.9 1564.2 469.7 1565.5 470.8 1567.5 472.4 1569.5 474 1571.5 475.7 1573.5 477.3 1573.8 477.5 1575.5 478.1 1577.5 478.8 1579.5 479.4 1581.4 480 1581.5 480.1 1583.5 481.2 1585.5 482.3 1587.5 483.4 1589.5 484.5 1591 485.3 1591.5 485.6 1593.5 486.7 1595.5 487.8 1597.5 488.9 1599.5 490 1600 490.3 1600.6 490.6 1601.5 491 1603.5 492.1 1605.5 493.1 1607.5 494.2 1609.5 495.3 1610.1 495.6 1611.5 496.6 1613.5 498 1615.5 499.4 1617.5 500.8 1619.5 502.3 1619.7 502.4 1621.5 503.2 1623.5 504 1625.5 504.9 1627.5 505.8 1629.3 506.5 1629.5 506.6 1631.5 507.2 1633.5 507.8 1635.5 508.4 1637.5 509 1638.9 509.4 1639.5 509.6 1640 509.7 1641.5 510.1 1643.5 510.7 1645.5 511.3 1647.5 511.9 1648.4 512.2 1649.5 512.5 1651.5 513 1653.5 513.5 1655.5 514.1 1657.5 514.7 1658 514.8 1700.4 514.8" fill="none" stroke="#a1857f" stroke-width="1.8" stroke-linejoin="round"/>
<path d="M1251 514.8 1343.8 514.8 1344.5 511.2 1345 508.6 1345.5 506 1346.5 500.8 1347.5 495.6 1347.7 494.5 1348.5 466.6 1349.5 431.7 1349.7 424.7 1350 406.7 1350.5 376.8 1351.5 316.9 1351.7 304.9 1352.5 256.9 1353.5 196.8 1353.7 184.8 1354.5 154 1355.5 115.5 1356 96.3 1356.1 92.4 1356.5 93.9 1357.5 97.5 1358.5 101.2 1359.5 105.5 1360 107.7 1360.5 130.9 1361.2 163.5 1361.5 171 1362 183.4 1362.5 195.9 1363.5 220.8 1363.6 223.3 1364.5 241.3 1365.5 261.3 1366.5 281.3 1366.6 283.3 1367.5 296.7 1368.5 311.7 1369.5 326.7 1370.5 341.7 1370.6 343.2 1371.5 354.8 1372.5 367.6 1373.5 380.5 1374.5 393.3 1375 396.3 1375.5 399.3 1376.5 405.3 1377.5 411.3 1378.5 417.3 1379.5 423.3 1380 424.6 1380.5 425.9 1381.5 428.4 1382.5 431 1383.5 433.6 1384.5 436.6 1385.5 439.6 1386.5 442.7 1387.5 445.7 1388.5 448.8 1389.5 451.8 1390 453.3 1390.5 454.4 1391.5 456.7 1392.5 458.9 1393.5 461.2 1394.5 463.4 1395.5 465.7 1396.5 467.9 1397.5 470.2 1398.5 472.4 1399.5 474.6 1399.6 474.9 1400 475.4 1400.5 476.2 1401.5 477.6 1403.5 480.5 1405.5 483.4 1407.5 486.2 1409.1 488.5 1409.5 488.6 1411.5 489 1413.5 489.4 1415.5 489.8 1417.5 490.3 1418.7 490.5 1419.5 490.8 1421.5 491.6 1423.5 492.3 1425.5 493.1 1427.5 493.9 1429.5 494.6 1431.5 495.4 1433.5 496.1 1434 496.3 1435.5 496.4 1437.5 496.4 1439.5 496.5 1440 496.5 1441.5 496.6 1443.5 496.7 1445.5 496.7 1447.4 496.8 1447.5 496.8 1449.5 496.7 1451.5 496.7 1453.5 496.7 1455.5 496.6 1457.5 496.6 1459.5 496.6 1461.5 496.5 1463.5 496.5 1465.5 496.5 1466.6 496.5 1467.5 495.9 1469.5 494.5 1471.5 493.2 1473.5 491.9 1475.5 490.6 1477.5 489.3 1478.1 488.9 1479.5 487.5 1480 487 1481.5 485.3 1483.5 483.1 1485.5 480.8 1487.5 478.4 1489.5 476.1 1491.5 473.7 1493.5 471.3 1495.3 469.1 1495.5 469 1497.5 468.7 1499.5 468.3 1500 468.3 1501.5 468.4 1503.5 468.6 1504.9 468.7 1505.5 467.6 1507.5 464 1509.5 460.5 1511.5 456.9 1512.5 455.2 1513.5 455.1 1515 454.9 1515.5 454.9 1517.5 454.6 1519.5 454.4 1521.5 454.1 1522.1 454.1 1523.5 452 1525.5 449.1 1527.5 446.3 1529.5 443.4 1529.7 443.1 1530 443.1 1531.5 443 1533.5 442.9 1535.5 442.8 1537.5 441.7 1539.5 440.6 1541.5 439.5 1542 439.3 1542.2 439.1 1543.5 440 1545 440.9 1545.5 440.9 1547.5 440.9 1548.9 440.9 1549.5 441.5 1551.5 443.4 1552 443.8 1553.5 446 1555.5 449 1556.5 450.4 1557.5 450 1559.5 449.2 1560 449.1 1561.5 448.5 1563.5 447.8 1564.2 447.5 1565.5 449.2 1567.5 451.8 1569.5 454.3 1571.5 456.9 1573.5 459.4 1573.8 459.8 1575.5 460.8 1577.5 461.9 1579.5 462.9 1581.4 464 1581.5 464.1 1583.5 465.8 1585.5 467.5 1587.5 469.2 1589.5 470.9 1591 472.2 1591.5 472.6 1593.5 474.3 1595.5 475.9 1597.5 477.6 1599.5 479.3 1600 479.7 1600.6 480.2 1601.5 481 1603.5 482.7 1605.5 484.4 1607.5 486.1 1609.5 487.7 1610.1 488.3 1611.5 489.7 1613.5 491.8 1615.5 493.8 1617.5 495.9 1619.5 498 1619.7 498.2 1621.5 499.3 1623.5 500.5 1625.5 501.7 1627.5 502.9 1629.3 504 1629.5 504.1 1631.5 504.9 1633.5 505.7 1635.5 506.6 1637.5 507.4 1638.9 507.9 1639.5 508.2 1640 508.4 1641.5 509 1643.5 509.8 1645.5 510.7 1647.5 511.5 1648.4 511.9 1649.5 512.2 1651.5 512.8 1653.5 513.4 1655.5 514 1657.5 514.6 1658 514.8 1700.4 514.8" fill="none" stroke="#ff8a14" stroke-width="2" stroke-linejoin="round"/>
<path d="M1251 514.8 1343.8 514.8 1344.5 511.2 1345 508.6 1345.5 506 1346.5 500.8 1347.5 495.6 1347.7 494.6 1348.5 466.8 1349.5 432.1 1349.7 425.1 1350 407.3 1350.5 378.1 1351.5 320.5 1351.7 309.1 1352.5 263.8 1353.5 208.1 1353.7 197.1 1354.5 170 1355.5 136.8 1356 120.4 1356.1 116.8 1356.5 118.2 1357.5 121.8 1358.5 125.5 1359.5 129.7 1360 131.9 1360.5 153.8 1361.2 184.6 1361.5 191.6 1362 203.4 1362.5 215.2 1363.5 238.7 1363.6 241.1 1364.5 258.1 1365.5 277 1366.5 295.8 1366.6 297.7 1367.5 310.4 1368.5 324.6 1369.5 338.7 1370.5 352.8 1370.6 354.2 1371.5 365.1 1372.5 377.2 1373.5 389.3 1374.5 401.4 1375 404.2 1375.5 407 1376.5 412.7 1377.5 418.3 1378.5 423.9 1379.5 429.6 1380 430.8 1380.5 432 1381.5 434.3 1382.5 436.7 1383.5 439.1 1384.5 441.9 1385.5 444.7 1386.5 447.5 1387.5 450.4 1388.5 453.2 1389.5 456 1390 457.4 1390.5 458.5 1391.5 460.6 1392.5 462.6 1393.5 464.7 1394.5 466.8 1395.5 468.9 1396.5 471 1397.5 473.1 1398.5 475.2 1399.5 477.3 1399.6 477.5 1400 478 1400.5 478.7 1401.5 480 1403.5 482.7 1405.5 485.4 1407.5 488.1 1409.1 490.2 1409.5 490.3 1411.5 490.6 1413.5 491 1415.5 491.4 1417.5 491.8 1418.7 492 1419.5 492.3 1421.5 493 1423.5 493.7 1425.5 494.4 1427.5 495.1 1429.5 495.8 1431.5 496.5 1433.5 497.2 1434 497.4 1435.5 497.5 1437.5 497.5 1439.5 497.6 1440 497.6 1441.5 497.6 1443.5 497.7 1445.5 497.7 1447.4 497.8 1447.5 497.8 1449.5 497.8 1451.5 497.7 1453.5 497.7 1455.5 497.6 1457.5 497.6 1459.5 497.6 1461.5 497.5 1463.5 497.5 1465.5 497.4 1466.6 497.4 1467.5 496.8 1469.5 495.6 1471.5 494.3 1473.5 493.1 1475.5 491.8 1477.5 490.6 1478.1 490.2 1479.5 488.9 1480 488.4 1481.5 487 1483.5 485.1 1485.5 483.2 1487.5 481.3 1489.5 479.4 1491.5 477.5 1493.5 475.6 1495.3 473.9 1495.5 473.9 1497.5 473.9 1499.5 473.9 1500 473.9 1501.5 473.9 1503.5 474 1504.9 474 1505.5 473 1507.5 469.8 1509.5 466.5 1511.5 463.2 1512.5 461.6 1513.5 461.5 1515 461.2 1515.5 461.2 1517.5 460.9 1519.5 460.5 1521.5 460.2 1522.1 460.1 1523.5 458.2 1525.5 455.5 1527.5 452.8 1529.5 450.1 1529.7 449.9 1530 449.8 1531.5 449.7 1533.5 449.5 1535.5 449.2 1537.5 448.1 1539.5 447 1541.5 445.9 1542 445.6 1542.2 445.5 1543.5 445.8 1545 446.2 1545.5 446.3 1547.5 446.9 1548.9 447.3 1549.5 447.9 1551.5 450.2 1552 450.8 1553.5 452.5 1555.5 454.8 1556.5 455.9 1557.5 455.4 1559.5 454.3 1560 454.1 1561.5 453.5 1563.5 452.7 1564.2 452.4 1565.5 453.9 1567.5 456.2 1569.5 458.5 1571.5 460.8 1573.5 463.1 1573.8 463.5 1575.5 464.3 1577.5 465.2 1579.5 466.2 1581.4 467.1 1581.5 467.1 1583.5 468.7 1585.5 470.2 1587.5 471.7 1589.5 473.3 1591 474.5 1591.5 474.8 1593.5 476.4 1595.5 477.9 1597.5 479.4 1599.5 481 1600 481.3 1600.6 481.8 1601.5 482.5 1603.5 484.1 1605.5 485.7 1607.5 487.2 1609.5 488.8 1610.1 489.3 1611.5 490.7 1613.5 492.6 1615.5 494.6 1617.5 496.5 1619.5 498.5 1619.7 498.7 1621.5 499.7 1623.5 500.9 1625.5 502.1 1627.5 503.2 1629.3 504.3 1629.5 504.4 1631.5 505.2 1633.5 505.9 1635.5 506.7 1637.5 507.5 1638.9 508 1639.5 508.3 1640 508.5 1641.5 509.1 1643.5 509.9 1645.5 510.7 1647.5 511.5 1648.4 511.9 1649.5 512.2 1651.5 512.8 1653.5 513.4 1655.5 514 1657.5 514.6 1658 514.8 1700.4 514.8" fill="none" stroke="#aaa872" stroke-width="2" stroke-linejoin="round"/>
<path d="M1251 514.8 1343.8 514.8 1344.5 511.2 1345 508.6 1345.5 506 1346.5 500.8 1347.5 495.6 1347.7 494.6 1348.5 466.8 1349.5 432.1 1349.7 425.1 1350 407.3 1350.5 377.5 1351.5 318 1351.7 306.1 1352.5 258.5 1353.5 198.9 1353.7 187 1354.5 156.6 1355.5 118.6 1356 99.6 1356.1 95.8 1356.5 97.3 1357.5 101.2 1358.5 105 1359.5 109.5 1360 111.7 1360.5 134.8 1361.2 167.2 1361.5 174.6 1362 187 1362.5 199.4 1363.5 224.2 1363.6 226.7 1364.5 244.6 1365.5 264.4 1366.5 284.3 1366.6 286.3 1367.5 299.7 1368.5 314.6 1369.5 329.4 1370.5 344.3 1370.6 345.8 1371.5 357.2 1372.5 370 1373.5 382.7 1374.5 395.4 1375 398.4 1375.5 401.3 1376.5 407.3 1377.5 413.2 1378.5 419.2 1379.5 425.1 1380 426.4 1380.5 427.6 1381.5 430.1 1382.5 432.6 1383.5 435.1 1384.5 438.1 1385.5 441 1386.5 444 1387.5 447 1388.5 449.9 1389.5 452.9 1390 454.4 1390.5 455.5 1391.5 457.7 1392.5 459.9 1393.5 462.1 1394.5 464.3 1395.5 466.5 1396.5 468.7 1397.5 470.9 1398.5 473.1 1399.5 475.3 1399.6 475.5 1400 476.1 1400.5 476.8 1401.5 478.2 1403.5 481 1405.5 483.8 1407.5 486.6 1409.1 488.9 1409.5 489 1411.5 489.4 1413.5 489.8 1415.5 490.2 1417.5 490.6 1418.7 490.8 1419.5 491.1 1421.5 491.8 1423.5 492.6 1425.5 493.3 1427.5 494.1 1429.5 494.8 1431.5 495.6 1433.5 496.3 1434 496.5 1435.5 496.5 1437.5 496.6 1439.5 496.7 1440 496.7 1441.5 496.7 1443.5 496.8 1445.5 496.8 1447.4 496.9 1447.5 496.9 1449.5 496.9 1451.5 496.8 1453.5 496.8 1455.5 496.7 1457.5 496.7 1459.5 496.6 1461.5 496.6 1463.5 496.6 1465.5 496.5 1466.6 496.5 1467.5 495.9 1469.5 494.6 1471.5 493.3 1473.5 491.9 1475.5 490.6 1477.5 489.3 1478.1 488.9 1479.5 487.5 1480 487 1481.5 485.5 1483.5 483.5 1485.5 481.5 1487.5 479.5 1489.5 477.5 1491.5 475.5 1493.5 473.5 1495.3 471.7 1495.5 471.7 1497.5 471.7 1499.5 471.7 1500 471.7 1501.5 471.7 1503.5 471.7 1504.9 471.7 1505.5 470.6 1507.5 467.1 1509.5 463.6 1511.5 460.1 1512.5 458.3 1513.5 458.1 1515 457.8 1515.5 457.7 1517.5 457.3 1519.5 456.8 1521.5 456.4 1522.1 456.3 1523.5 454.2 1525.5 451.2 1527.5 448.2 1529.5 445.2 1529.7 444.9 1530 444.8 1531.5 444.6 1533.5 444.2 1535.5 443.9 1537.5 442.6 1539.5 441.3 1541.5 440 1542 439.6 1542.2 439.5 1543.5 440.2 1545 440.9 1545.5 441.2 1547.5 442.2 1548.9 442.9 1549.5 443.7 1551.5 446.5 1552 447.2 1553.5 449.3 1555.5 452.1 1556.5 453.5 1557.5 453.1 1559.5 452.4 1560 452.2 1561.5 451.6 1563.5 450.9 1564.2 450.6 1565.5 452.2 1567.5 454.6 1569.5 456.9 1571.5 459.3 1573.5 461.7 1573.8 462.1 1575.5 463 1577.5 463.9 1579.5 464.9 1581.4 465.9 1581.5 466 1583.5 467.6 1585.5 469.2 1587.5 470.8 1589.5 472.4 1591 473.6 1591.5 474 1593.5 475.6 1595.5 477.2 1597.5 478.7 1599.5 480.3 1600 480.7 1600.6 481.2 1601.5 481.9 1603.5 483.6 1605.5 485.2 1607.5 486.8 1609.5 488.4 1610.1 488.9 1611.5 490.3 1613.5 492.3 1615.5 494.3 1617.5 496.3 1619.5 498.3 1619.7 498.5 1621.5 499.6 1623.5 500.8 1625.5 501.9 1627.5 503.1 1629.3 504.2 1629.5 504.3 1631.5 505.1 1633.5 505.9 1635.5 506.7 1637.5 507.4 1638.9 508 1639.5 508.2 1640 508.5 1641.5 509.1 1643.5 509.9 1645.5 510.7 1647.5 511.5 1648.4 511.9 1649.5 512.2 1651.5 512.8 1653.5 513.4 1655.5 514 1657.5 514.6 1658 514.8 1700.4 514.8" fill="none" stroke="#00bcef" stroke-width="2.6" stroke-linejoin="round"/>
</g>
<g stroke="#000" stroke-width="2.6" fill="none">
<line x1="1251" y1="380.8" x2="1447.4" y2="380.8"/>
<line x1="1447.4" y1="403.3" x2="1699.4" y2="403.3"/>
</g>
<g stroke="#000" stroke-width="2.7" stroke-linecap="round" fill="none">
<line x1="1251.8" y1="371.8" x2="1251.8" y2="389.8"/>
<line x1="1447.4" y1="371.8" x2="1447.4" y2="389.8"/>
<line x1="1447.4" y1="394.3" x2="1447.4" y2="412.3"/>
<line x1="1698.8" y1="394.3" x2="1698.8" y2="412.3"/>
</g>
<path d="M1251 68.1H1700.4V517.1" stroke="#3a3a3a" stroke-width="1.8" fill="none"/>
<path d="M1251 68.1V517.1H1700.4" stroke="#000" stroke-width="1.6" fill="none"/>
<g stroke="#000" fill="none">
<line x1="1238.7" y1="515.5" x2="1251" y2="515.5" stroke-width="3.2"/>
<line x1="1245.7" y1="484.79" x2="1251" y2="484.79" stroke-width="2"/>
<line x1="1245.7" y1="454.08" x2="1251" y2="454.08" stroke-width="2"/>
<line x1="1245.7" y1="423.37" x2="1251" y2="423.37" stroke-width="2"/>
<line x1="1238.7" y1="392.67" x2="1251" y2="392.67" stroke-width="3.2"/>
<line x1="1245.7" y1="361.96" x2="1251" y2="361.96" stroke-width="2"/>
<line x1="1245.7" y1="331.25" x2="1251" y2="331.25" stroke-width="2"/>
<line x1="1245.7" y1="300.54" x2="1251" y2="300.54" stroke-width="2"/>
<line x1="1238.7" y1="269.83" x2="1251" y2="269.83" stroke-width="3.2"/>
<line x1="1245.7" y1="239.12" x2="1251" y2="239.12" stroke-width="2"/>
<line x1="1245.7" y1="208.42" x2="1251" y2="208.42" stroke-width="2"/>
<line x1="1245.7" y1="177.71" x2="1251" y2="177.71" stroke-width="2"/>
<line x1="1238.7" y1="147" x2="1251" y2="147" stroke-width="3.2"/>
<line x1="1245.7" y1="116.29" x2="1251" y2="116.29" stroke-width="2"/>
<line x1="1245.7" y1="85.58" x2="1251" y2="85.58" stroke-width="2"/>
</g>
<g font-family="'Liberation Sans', Arial, Helvetica, sans-serif" font-size="18" fill="#000" stroke="#000" stroke-width="0.3">
<text x="1230.6" y="515.2" text-anchor="end">0</text>
<text x="1228.8" y="404.97" text-anchor="end">200</text>
<text x="1228.8" y="282.13" text-anchor="end">400</text>
<text x="1228.8" y="159.3" text-anchor="end">600</text>
</g>
<text transform="translate(1187.4 291.4) rotate(-90) scale(1.0 1.06)" text-anchor="middle" font-family="'Liberation Sans', Arial, Helvetica, sans-serif" font-size="21" fill="#000" stroke="#000" stroke-width="0.45">Count</text>
<g stroke="#000" fill="none">
<line x1="1272.1" y1="517.1" x2="1272.1" y2="529.7" stroke-width="3.5"/>
<line x1="1277.2" y1="517.1" x2="1277.2" y2="522.7" stroke-width="2"/>
<line x1="1282.7" y1="517.1" x2="1282.7" y2="522.7" stroke-width="2"/>
<line x1="1289.7" y1="517.1" x2="1289.7" y2="522.7" stroke-width="2"/>
<line x1="1296.4" y1="517.1" x2="1296.4" y2="522.7" stroke-width="2"/>
<line x1="1314.5" y1="517.1" x2="1314.5" y2="522.7" stroke-width="2"/>
<line x1="1323.1" y1="517.1" x2="1323.1" y2="522.7" stroke-width="2"/>
<line x1="1331.9" y1="517.1" x2="1331.9" y2="522.7" stroke-width="2"/>
<line x1="1305.7" y1="517.1" x2="1305.7" y2="526.3" stroke-width="2.5"/>
<line x1="1340.45" y1="517.1" x2="1340.45" y2="529.7" stroke-width="3.5"/>
<line x1="1350.55" y1="517.1" x2="1350.55" y2="529.7" stroke-width="3.5"/>
<line x1="1360.1" y1="517.1" x2="1360.1" y2="529.7" stroke-width="3.5"/>
<line x1="1345.6" y1="517.1" x2="1345.6" y2="526.3" stroke-width="2.5"/>
<line x1="1354.9" y1="517.1" x2="1354.9" y2="526.3" stroke-width="2.5"/>
<line x1="1341.46" y1="517.1" x2="1341.46" y2="522.7" stroke-width="2"/>
<line x1="1351.51" y1="517.1" x2="1351.51" y2="522.7" stroke-width="2"/>
<line x1="1342.47" y1="517.1" x2="1342.47" y2="522.7" stroke-width="2"/>
<line x1="1352.46" y1="517.1" x2="1352.46" y2="522.7" stroke-width="2"/>
<line x1="1343.48" y1="517.1" x2="1343.48" y2="522.7" stroke-width="2"/>
<line x1="1353.41" y1="517.1" x2="1353.41" y2="522.7" stroke-width="2"/>
<line x1="1344.49" y1="517.1" x2="1344.49" y2="522.7" stroke-width="2"/>
<line x1="1354.37" y1="517.1" x2="1354.37" y2="522.7" stroke-width="2"/>
<line x1="1346.51" y1="517.1" x2="1346.51" y2="522.7" stroke-width="2"/>
<line x1="1356.28" y1="517.1" x2="1356.28" y2="522.7" stroke-width="2"/>
<line x1="1347.52" y1="517.1" x2="1347.52" y2="522.7" stroke-width="2"/>
<line x1="1357.23" y1="517.1" x2="1357.23" y2="522.7" stroke-width="2"/>
<line x1="1348.53" y1="517.1" x2="1348.53" y2="522.7" stroke-width="2"/>
<line x1="1358.19" y1="517.1" x2="1358.19" y2="522.7" stroke-width="2"/>
<line x1="1349.54" y1="517.1" x2="1349.54" y2="522.7" stroke-width="2"/>
<line x1="1359.14" y1="517.1" x2="1359.14" y2="522.7" stroke-width="2"/>
<line x1="1370.4" y1="517.1" x2="1370.4" y2="522.7" stroke-width="2"/>
<line x1="1379.2" y1="517.1" x2="1379.2" y2="522.7" stroke-width="2"/>
<line x1="1388" y1="517.1" x2="1388" y2="522.7" stroke-width="2"/>
<line x1="1403.8" y1="517.1" x2="1403.8" y2="522.7" stroke-width="2"/>
<line x1="1410.8" y1="517.1" x2="1410.8" y2="522.7" stroke-width="2"/>
<line x1="1418.1" y1="517.1" x2="1418.1" y2="522.7" stroke-width="2"/>
<line x1="1424.7" y1="517.1" x2="1424.7" y2="522.7" stroke-width="2"/>
<line x1="1470.5" y1="517.1" x2="1470.5" y2="522.7" stroke-width="2"/>
<line x1="1491.9" y1="517.1" x2="1491.9" y2="522.7" stroke-width="2"/>
<line x1="1507.4" y1="517.1" x2="1507.4" y2="522.7" stroke-width="2"/>
<line x1="1528.5" y1="517.1" x2="1528.5" y2="522.7" stroke-width="2"/>
<line x1="1535.5" y1="517.1" x2="1535.5" y2="522.7" stroke-width="2"/>
<line x1="1542.5" y1="517.1" x2="1542.5" y2="522.7" stroke-width="2"/>
<line x1="1547.7" y1="517.1" x2="1547.7" y2="522.7" stroke-width="2"/>
<line x1="1584.8" y1="517.1" x2="1584.8" y2="522.7" stroke-width="2"/>
<line x1="1602.2" y1="517.1" x2="1602.2" y2="522.7" stroke-width="2"/>
<line x1="1616.3" y1="517.1" x2="1616.3" y2="522.7" stroke-width="2"/>
<line x1="1633.7" y1="517.1" x2="1633.7" y2="522.7" stroke-width="2"/>
<line x1="1640.5" y1="517.1" x2="1640.5" y2="522.7" stroke-width="2"/>
<line x1="1645.9" y1="517.1" x2="1645.9" y2="522.7" stroke-width="2"/>
<line x1="1651.3" y1="517.1" x2="1651.3" y2="522.7" stroke-width="2"/>
<line x1="1686.5" y1="517.1" x2="1686.5" y2="522.7" stroke-width="2"/>
<line x1="1396.8" y1="517.1" x2="1396.8" y2="526.3" stroke-width="2.5"/>
<line x1="1518.1" y1="517.1" x2="1518.1" y2="526.3" stroke-width="2.5"/>
<line x1="1625.1" y1="517.1" x2="1625.1" y2="526.3" stroke-width="2.5"/>
<line x1="1430.2" y1="517.1" x2="1430.2" y2="529.7" stroke-width="3.5"/>
<line x1="1553.1" y1="517.1" x2="1553.1" y2="529.7" stroke-width="3.5"/>
<line x1="1656.7" y1="517.1" x2="1656.7" y2="529.7" stroke-width="3.5"/>
</g>
<g font-family="'Liberation Sans', Arial, Helvetica, sans-serif" font-size="17.5" fill="#000" stroke="#000" stroke-width="0.3">
<text x="1260.4" y="569.6">-10</text>
<text x="1286.5" y="555.2">3</text>
<text x="1346.3" y="569.6">0</text>
<text x="1420.4" y="569.6">10</text>
<text x="1441.4" y="555.2">3</text>
<text x="1542.9" y="569.6">10</text>
<text x="1564" y="555.2">4</text>
<text x="1646.5" y="569.6">10</text>
<text x="1667.4" y="555.2">5</text>
</g>
<g font-family="'Liberation Sans', Arial, Helvetica, sans-serif" font-size="21" fill="#000" stroke="#000" stroke-width="0.45">
<text transform="translate(1440 608.3) scale(1 1.06)">FITC-A</text>
</g>
<g font-family="'Liberation Sans', Arial, Helvetica, sans-serif" font-size="21" fill="#000" stroke="#000" stroke-width="0.45">
<text transform="translate(1258.6 107.5) scale(1 1.06)">FITC-A-</text>
<text transform="translate(1260.4 139) scale(1 1.06)">56.9</text>
<text transform="translate(1655.4 107.5) scale(1 1.06)" text-anchor="end">FITC-A+</text>
<text transform="translate(1651.5 139) scale(1 1.06)" text-anchor="end">43.1</text>
</g>
<clipPath id="c10"><rect x="110.1" y="646.8" width="448" height="448.4"/></clipPath>
<g clip-path="url(#c10)">
<path d="M109.5 1092.9 201 1092.9 201.5 1092.8 202 1088.1 202.4 1084.4 203 1078.7 204 1069.4 204.5 1064.7 205 1060 206 1045.2 206.7 1034.8 207 1030.4 207.5 1023 208 992.5 208.3 974.1 208.7 949.7 208.8 943.6 209 930.4 210 864.2 210.3 844.4 210.7 829.1 211 817.5 212 779.2 212.5 760 213 743 213.1 739.6 214 708.9 215 674.9 215.1 671.5 215.2 672 215.5 673.6 215.7 674.7 216 676.3 216.5 679 217 685.6 217.5 692.1 218 698.7 219 711.8 220 724.9 220.9 736.7 221 739.3 221.5 752.6 222 765.8 223 792.2 223.8 813.4 224 817.1 225 835.3 225.7 848.1 226 853.6 226.7 866.4 227 871.8 228 890.1 229 901.1 230 912 231 923 231.5 928.5 232 935.4 232.8 946.3 233 949.1 234 962.8 234.3 966.9 235 972.1 236 979.4 237 986.8 237.2 988.3 237.5 990.5 238 994.2 239 1001.5 239.5 1005.2 240 1007.5 241 1012.1 242 1016.7 243 1021.3 244 1025.9 244.5 1028.2 245 1029 246 1030.7 247 1032.3 248 1034 248.4 1034.7 249 1035.6 250 1037.3 251 1038.8 252 1040.3 253 1041.8 254 1043.3 255 1044.8 256 1046.3 256.1 1046.5 257 1047.9 258 1049.4 259 1050.9 260 1052.4 262 1055.4 262.2 1055.7 264 1058.2 265 1059.6 266 1061.1 268 1063.9 268.3 1064.3 270 1066.4 272 1068.9 273.2 1070.4 274 1070.7 274.5 1070.9 276 1071.5 278 1072.3 280 1073.2 280.6 1073.4 282 1073.8 284 1074.5 286 1075.1 286.7 1075.3 288 1075 290 1074.6 292 1074.2 292.8 1074 294 1074.5 296 1075.3 298 1076.1 298.9 1076.5 300 1076.6 302 1076.7 304 1076.8 306 1077 308 1077.1 308.1 1077.1 310 1077.3 312 1077.6 314 1077.9 314.2 1077.9 316 1078.1 317.3 1078.3 318 1078.2 320 1077.8 322 1077.4 323.4 1077.1 324 1076.9 326 1076.2 328 1075.5 329.5 1074.9 330 1074.8 332 1074.1 334 1073.4 335.6 1072.8 336 1072.7 338 1072.2 340 1071.7 341.7 1071.2 342 1071.2 344 1070.6 346 1070.1 348 1069.6 350 1069.1 352 1068.8 354 1067.5 356 1066.3 357.9 1065.1 358 1065.1 360 1065.6 362 1066.2 364 1066.7 366 1067.2 368 1067.7 369.5 1068.1 370 1067.9 372 1067.3 374 1066.7 376 1066.1 378 1065.6 379.1 1065.2 380 1065.8 382 1066.8 384 1067.8 386 1068.8 388 1069.8 388.7 1070.2 390 1069.9 392 1069.4 394 1069 396 1068.5 398 1068 400 1067.5 400.3 1067.4 402 1067.8 404 1068.2 406 1068.6 408 1069 410 1069.5 412 1069.9 413.8 1070.3 414 1070.4 416 1071.3 418 1072.2 420 1073.1 422 1074.1 423.4 1074.8 424 1075.1 426 1076.1 428 1077 430 1077.9 432 1078.9 434 1079.8 435 1080.3 436 1080.6 438 1081.2 440 1081.8 442 1082.4 444 1083 446 1083.6 448 1084.2 448.5 1084.4 450 1085 452 1085.7 454 1086.5 456 1087.3 458 1088.1 458.1 1088.1 460 1088.7 462 1089.3 464 1089.9 466 1090.5 468 1091.2 469.7 1091.7 470 1091.8 472 1092.2 474 1092.6 475 1092.8 476 1092.9 558.9 1092.9Z" fill="#fbdcc2"/>
<path d="M109.5 1092.9 201.5 1092.9 202 1092.8 202.4 1085.8 203 1075.3 204 1057.9 204.5 1049.2 205 1040.5 206 1023 206.7 998.8 207 988.5 207.5 971.2 208 954 208.3 943.6 208.7 923.8 208.8 918.8 209 908.9 210 859.3 210.3 844.4 210.7 834.9 211 827.7 212 803.9 212.5 791.9 213 780 213.1 778.9 214 768.8 215 757.7 215.1 756.6 215.2 755.4 215.5 752.1 215.7 753.4 216 755.3 216.5 758.5 217 761.8 217.5 765 218 774.3 219 792.9 220 811.4 220.9 828.1 221 830 221.5 836.4 222 842.8 223 855.6 223.8 865.8 224 868.4 225 881.1 225.7 890.1 226 893.7 226.7 902.2 227 905.8 228 917.9 229 930 230 939.7 231 949.4 231.5 954.3 232 959.1 232.8 966.9 233 968.3 234 975.4 234.3 977.5 235 982.4 236 989.4 237 996.5 237.2 997.9 237.5 1000 238 1002.6 239 1007.7 239.5 1010.3 240 1012.8 241 1017.9 242 1023.1 243 1028.2 244 1030.5 244.5 1031.6 245 1032.7 246 1035 247 1037.3 248 1039.6 248.4 1040.5 249 1041.8 250 1044.1 251 1045.2 252 1046.4 253 1047.5 254 1048.6 255 1049.8 256 1050.9 256.1 1051 257 1052.4 258 1054 259 1055.6 260 1057.1 262 1060.3 262.2 1060.6 264 1063.1 265 1064.5 266 1065.9 268 1068.7 268.3 1069.1 270 1070.4 272 1072 273.2 1073 274 1073.6 274.5 1074 276 1074.8 278 1075.8 280 1076.8 280.6 1077.1 282 1077.2 284 1077.4 286 1077.6 286.7 1077.7 288 1077.8 290 1078 292 1078.2 292.8 1078.3 294 1078.3 296 1078.4 298 1078.4 298.9 1078.5 300 1078.5 302 1078.6 304 1078.6 306 1078.7 308 1078.7 308.1 1078.7 310 1078.8 312 1078.8 314 1078.9 314.2 1078.9 316 1079 317.3 1079 318 1079 320 1078.8 322 1078.7 323.4 1078.7 324 1078.6 326 1078.5 328 1078.4 329.5 1078.3 330 1078.1 332 1077.4 334 1076.7 335.6 1076.1 336 1076 338 1075.3 340 1074.6 341.7 1074 342 1072.9 344 1072.9 346 1072.8 348 1072.7 350 1072.7 352 1071.5 354 1070.3 356 1069 357.9 1067.9 358 1067.9 360 1068.3 362 1068.6 364 1069 366 1069.3 368 1069.7 369.5 1070 370 1069.8 372 1069.2 374 1068.5 376 1067.9 378 1067.2 379.1 1066.8 380 1067.3 382 1068.3 384 1069.4 386 1070.4 388 1071.5 388.7 1071.9 390 1071.6 392 1071.3 394 1070.9 396 1070.6 398 1070.3 400 1069.9 400.3 1069.8 402 1070.2 404 1070.6 406 1071 408 1071.4 410 1071.8 412 1072.3 413.8 1072.7 414 1072.7 416 1073.6 418 1074.4 420 1075.2 422 1076.1 423.4 1076.7 424 1076.9 426 1077.7 428 1078.5 430 1079.3 432 1080.1 434 1080.9 435 1081.3 436 1081.6 438 1082.1 440 1082.6 442 1083.2 444 1083.8 446 1084.4 448 1085 448.5 1085.1 450 1085.7 452 1086.5 454 1087.3 456 1088 458 1088.8 458.1 1088.8 460 1089.3 462 1089.9 464 1090.4 466 1091 468 1091.5 469.7 1091.9 470 1092 472 1092.3 474 1092.6 475 1092.8 476 1092.9 558.9 1092.9Z" fill="#f5c4c0"/>
<path d="M109.5 1092.9 202 1092.9 202.4 1092.8 203 1087.7 204 1079.2 204.5 1075 205 1063.2 206 1039.5 206.7 1023 207 1011.1 207.5 991.2 208 971.4 208.3 959.5 208.7 943.6 208.8 938.6 209 928.7 210 879.1 210.3 864.2 210.7 844.4 211 838.2 212 817.5 212.5 807.2 213 796.9 213.1 794.8 214 787.9 215 780.3 215.1 779.6 215.2 778.8 215.5 776.5 215.7 775 216 778.5 216.5 784.3 217 790.1 217.5 795.9 218 801.8 219 813.4 220 828.8 220.9 842.6 221 844.1 221.5 851.8 222 860.1 223 876.8 223.8 890.1 224 892.7 225 906 225.7 915.3 226 919.2 226.7 928.5 227 930.9 228 938.9 229 946.9 230 954.9 231 962.9 231.5 966.9 232 970.3 232.8 975.6 233 977 234 983.7 234.3 985.7 235 990.4 236 997.1 237 1003.9 237.2 1005.2 237.5 1006.6 238 1009 239 1013.8 239.5 1016.2 240 1018.6 241 1023.4 242 1028.2 243 1031.3 244 1034.4 244.5 1035.9 245 1037.5 246 1040.6 247 1043.7 248 1046.8 248.4 1048 249 1049.7 250 1052.6 251 1053.2 252 1053.8 253 1054.4 254 1055 255 1055.6 256 1056.2 256.1 1056.3 257 1057.4 258 1058.6 259 1059.8 260 1061 262 1063.4 262.2 1063.6 264 1066 265 1067.3 266 1068.6 268 1071.2 268.3 1071.6 270 1073.1 272 1074.9 273.2 1075.9 274 1076.7 274.5 1077.1 276 1077.7 278 1078.5 280 1079.3 280.6 1079.5 282 1079.8 284 1080.2 286 1080.7 286.7 1080.8 288 1080.8 290 1080.8 292 1080.8 292.8 1080.8 294 1080.4 296 1079.8 298 1079.2 298.9 1078.9 300 1078.9 302 1078.9 304 1078.9 306 1078.9 308 1078.9 308.1 1078.9 310 1079.5 312 1080.1 314 1080.7 314.2 1080.8 316 1081.2 317.3 1081.4 318 1081.5 320 1081.9 322 1082.3 323.4 1082.6 324 1082.4 326 1081.8 328 1081.2 329.5 1080.8 330 1080.6 332 1079.8 334 1079 335.6 1078.3 336 1078.1 338 1077.1 340 1076.1 341.7 1075.3 342 1075.3 344 1075.3 346 1075.3 348 1075.3 350 1075.3 352 1074.3 354 1073.3 356 1072.3 357.9 1071.3 358 1071.3 360 1071.7 362 1072 364 1072.4 366 1072.7 368 1073 369.5 1073.3 370 1073.2 372 1072.6 374 1072.1 376 1071.6 378 1071.1 379.1 1070.8 380 1071.2 382 1072.1 384 1073 386 1074 388 1074.9 388.7 1075.2 390 1075 392 1074.8 394 1074.5 396 1074.3 398 1074 400 1073.7 400.3 1073.7 402 1074.1 404 1074.5 406 1074.9 408 1075.3 410 1075.7 412 1076.1 413.8 1076.5 414 1076.6 416 1077.3 418 1078 420 1078.8 422 1079.5 423.4 1080 424 1080.2 426 1080.9 428 1081.5 430 1082.2 432 1082.9 434 1083.6 435 1083.9 436 1084.1 438 1084.5 440 1085 442 1085.4 444 1085.8 446 1086.3 448 1086.7 448.5 1086.8 450 1087.2 452 1087.8 454 1088.4 456 1089 458 1089.6 458.1 1089.6 460 1090 462 1090.4 464 1090.9 466 1091.3 468 1091.7 469.7 1092.1 470 1092.1 472 1092.4 474 1092.7 475 1092.8 476 1092.9 558.9 1092.9Z" fill="#9ab4af"/>
<path d="M109.5 1092.9 201 1092.9 201.5 1092.8 202 1088.1 202.4 1084.4 203 1078.7 204 1069.4 204.5 1064.7 205 1060 206 1045.2 206.7 1034.8 207 1030.4 207.5 1023 208 992.5 208.3 974.1 208.7 949.7 208.8 943.6 209 930.4 210 864.2 210.3 844.4 210.7 829.1 211 817.5 212 779.2 212.5 760 213 743 213.1 739.6 214 708.9 215 674.9 215.1 671.5 215.2 672 215.5 673.6 215.7 674.7 216 676.3 216.5 679 217 685.6 217.5 692.1 218 698.7 219 711.8 220 724.9 220.9 736.7 221 739.3 221.5 752.6 222 765.8 223 792.2 223.8 813.4 224 817.1 225 835.3 225.7 848.1 226 853.6 226.7 866.4 227 871.8 228 890.1 229 901.1 230 912 231 923 231.5 928.5 232 935.4 232.8 946.3 233 949.1 234 962.8 234.3 966.9 235 972.1 236 979.4 237 986.8 237.2 988.3 237.5 990.5 238 994.2 239 1001.5 239.5 1005.2 240 1007.5 241 1012.1 242 1016.7 243 1021.3 244 1025.9 244.5 1028.2 245 1029 246 1030.7 247 1032.3 248 1034 248.4 1034.7 249 1035.6 250 1037.3 251 1038.8 252 1040.3 253 1041.8 254 1043.3 255 1044.8 256 1046.3 256.1 1046.5 257 1047.9 258 1049.4 259 1050.9 260 1052.4 262 1055.4 262.2 1055.7 264 1058.2 265 1059.6 266 1061.1 268 1063.9 268.3 1064.3 270 1066.4 272 1068.9 273.2 1070.4 274 1070.7 274.5 1070.9 276 1071.5 278 1072.3 280 1073.2 280.6 1073.4 282 1073.8 284 1074.5 286 1075.1 286.7 1075.3 288 1075 290 1074.6 292 1074.2 292.8 1074 294 1074.5 296 1075.3 298 1076.1 298.9 1076.5 300 1076.6 302 1076.7 304 1076.8 306 1077 308 1077.1 308.1 1077.1 310 1077.3 312 1077.6 314 1077.9 314.2 1077.9 316 1078.1 317.3 1078.3 318 1078.2 320 1077.8 322 1077.4 323.4 1077.1 324 1076.9 326 1076.2 328 1075.5 329.5 1074.9 330 1074.8 332 1074.1 334 1073.4 335.6 1072.8 336 1072.7 338 1072.2 340 1071.7 341.7 1071.2 342 1071.2 344 1070.6 346 1070.1 348 1069.6 350 1069.1 352 1068.8 354 1067.5 356 1066.3 357.9 1065.1 358 1065.1 360 1065.6 362 1066.2 364 1066.7 366 1067.2 368 1067.7 369.5 1068.1 370 1067.9 372 1067.3 374 1066.7 376 1066.1 378 1065.6 379.1 1065.2 380 1065.8 382 1066.8 384 1067.8 386 1068.8 388 1069.8 388.7 1070.2 390 1069.9 392 1069.4 394 1069 396 1068.5 398 1068 400 1067.5 400.3 1067.4 402 1067.8 404 1068.2 406 1068.6 408 1069 410 1069.5 412 1069.9 413.8 1070.3 414 1070.4 416 1071.3 418 1072.2 420 1073.1 422 1074.1 423.4 1074.8 424 1075.1 426 1076.1 428 1077 430 1077.9 432 1078.9 434 1079.8 435 1080.3 436 1080.6 438 1081.2 440 1081.8 442 1082.4 444 1083 446 1083.6 448 1084.2 448.5 1084.4 450 1085 452 1085.7 454 1086.5 456 1087.3 458 1088.1 458.1 1088.1 460 1088.7 462 1089.3 464 1089.9 466 1090.5 468 1091.2 469.7 1091.7 470 1091.8 472 1092.2 474 1092.6 475 1092.8 476 1092.9 558.9 1092.9" fill="none" stroke="#ff8a14" stroke-width="2" stroke-linejoin="round"/>
<path d="M109.5 1092.9 201.5 1092.9 202 1092.8 202.4 1085.8 203 1075.3 204 1057.9 204.5 1049.2 205 1040.5 206 1023 206.7 998.8 207 988.5 207.5 971.2 208 954 208.3 943.6 208.7 923.8 208.8 918.8 209 908.9 210 859.3 210.3 844.4 210.7 834.9 211 827.7 212 803.9 212.5 791.9 213 780 213.1 778.9 214 768.8 215 757.7 215.1 756.6 215.2 755.4 215.5 752.1 215.7 753.4 216 755.3 216.5 758.5 217 761.8 217.5 765 218 774.3 219 792.9 220 811.4 220.9 828.1 221 830 221.5 836.4 222 842.8 223 855.6 223.8 865.8 224 868.4 225 881.1 225.7 890.1 226 893.7 226.7 902.2 227 905.8 228 917.9 229 930 230 939.7 231 949.4 231.5 954.3 232 959.1 232.8 966.9 233 968.3 234 975.4 234.3 977.5 235 982.4 236 989.4 237 996.5 237.2 997.9 237.5 1000 238 1002.6 239 1007.7 239.5 1010.3 240 1012.8 241 1017.9 242 1023.1 243 1028.2 244 1030.5 244.5 1031.6 245 1032.7 246 1035 247 1037.3 248 1039.6 248.4 1040.5 249 1041.8 250 1044.1 251 1045.2 252 1046.4 253 1047.5 254 1048.6 255 1049.8 256 1050.9 256.1 1051 257 1052.4 258 1054 259 1055.6 260 1057.1 262 1060.3 262.2 1060.6 264 1063.1 265 1064.5 266 1065.9 268 1068.7 268.3 1069.1 270 1070.4 272 1072 273.2 1073 274 1073.6 274.5 1074 276 1074.8 278 1075.8 280 1076.8 280.6 1077.1 282 1077.2 284 1077.4 286 1077.6 286.7 1077.7 288 1077.8 290 1078 292 1078.2 292.8 1078.3 294 1078.3 296 1078.4 298 1078.4 298.9 1078.5 300 1078.5 302 1078.6 304 1078.6 306 1078.7 308 1078.7 308.1 1078.7 310 1078.8 312 1078.8 314 1078.9 314.2 1078.9 316 1079 317.3 1079 318 1079 320 1078.8 322 1078.7 323.4 1078.7 324 1078.6 326 1078.5 328 1078.4 329.5 1078.3 330 1078.1 332 1077.4 334 1076.7 335.6 1076.1 336 1076 338 1075.3 340 1074.6 341.7 1074 342 1072.9 344 1072.9 346 1072.8 348 1072.7 350 1072.7 352 1071.5 354 1070.3 356 1069 357.9 1067.9 358 1067.9 360 1068.3 362 1068.6 364 1069 366 1069.3 368 1069.7 369.5 1070 370 1069.8 372 1069.2 374 1068.5 376 1067.9 378 1067.2 379.1 1066.8 380 1067.3 382 1068.3 384 1069.4 386 1070.4 388 1071.5 388.7 1071.9 390 1071.6 392 1071.3 394 1070.9 396 1070.6 398 1070.3 400 1069.9 400.3 1069.8 402 1070.2 404 1070.6 406 1071 408 1071.4 410 1071.8 412 1072.3 413.8 1072.7 414 1072.7 416 1073.6 418 1074.4 420 1075.2 422 1076.1 423.4 1076.7 424 1076.9 426 1077.7 428 1078.5 430 1079.3 432 1080.1 434 1080.9 435 1081.3 436 1081.6 438 1082.1 440 1082.6 442 1083.2 444 1083.8 446 1084.4 448 1085 448.5 1085.1 450 1085.7 452 1086.5 454 1087.3 456 1088 458 1088.8 458.1 1088.8 460 1089.3 462 1089.9 464 1090.4 466 1091 468 1091.5 469.7 1091.9 470 1092 472 1092.3 474 1092.6 475 1092.8 476 1092.9 558.9 1092.9" fill="none" stroke="#ec1c1c" stroke-width="2" stroke-linejoin="round"/>
<path d="M109.5 1092.9 202 1092.9 202.4 1092.8 203 1087.7 204 1079.2 204.5 1075 205 1063.2 206 1039.5 206.7 1023 207 1011.1 207.5 991.2 208 971.4 208.3 959.5 208.7 943.6 208.8 938.6 209 928.7 210 879.1 210.3 864.2 210.7 844.4 211 838.2 212 817.5 212.5 807.2 213 796.9 213.1 794.8 214 787.9 215 780.3 215.1 779.6 215.2 778.8 215.5 776.5 215.7 775 216 778.5 216.5 784.3 217 790.1 217.5 795.9 218 801.8 219 813.4 220 828.8 220.9 842.6 221 844.1 221.5 851.8 222 860.1 223 876.8 223.8 890.1 224 892.7 225 906 225.7 915.3 226 919.2 226.7 928.5 227 930.9 228 938.9 229 946.9 230 954.9 231 962.9 231.5 966.9 232 970.3 232.8 975.6 233 977 234 983.7 234.3 985.7 235 990.4 236 997.1 237 1003.9 237.2 1005.2 237.5 1006.6 238 1009 239 1013.8 239.5 1016.2 240 1018.6 241 1023.4 242 1028.2 243 1031.3 244 1034.4 244.5 1035.9 245 1037.5 246 1040.6 247 1043.7 248 1046.8 248.4 1048 249 1049.7 250 1052.6 251 1053.2 252 1053.8 253 1054.4 254 1055 255 1055.6 256 1056.2 256.1 1056.3 257 1057.4 258 1058.6 259 1059.8 260 1061 262 1063.4 262.2 1063.6 264 1066 265 1067.3 266 1068.6 268 1071.2 268.3 1071.6 270 1073.1 272 1074.9 273.2 1075.9 274 1076.7 274.5 1077.1 276 1077.7 278 1078.5 280 1079.3 280.6 1079.5 282 1079.8 284 1080.2 286 1080.7 286.7 1080.8 288 1080.8 290 1080.8 292 1080.8 292.8 1080.8 294 1080.4 296 1079.8 298 1079.2 298.9 1078.9 300 1078.9 302 1078.9 304 1078.9 306 1078.9 308 1078.9 308.1 1078.9 310 1079.5 312 1080.1 314 1080.7 314.2 1080.8 316 1081.2 317.3 1081.4 318 1081.5 320 1081.9 322 1082.3 323.4 1082.6 324 1082.4 326 1081.8 328 1081.2 329.5 1080.8 330 1080.6 332 1079.8 334 1079 335.6 1078.3 336 1078.1 338 1077.1 340 1076.1 341.7 1075.3 342 1075.3 344 1075.3 346 1075.3 348 1075.3 350 1075.3 352 1074.3 354 1073.3 356 1072.3 357.9 1071.3 358 1071.3 360 1071.7 362 1072 364 1072.4 366 1072.7 368 1073 369.5 1073.3 370 1073.2 372 1072.6 374 1072.1 376 1071.6 378 1071.1 379.1 1070.8 380 1071.2 382 1072.1 384 1073 386 1074 388 1074.9 388.7 1075.2 390 1075 392 1074.8 394 1074.5 396 1074.3 398 1074 400 1073.7 400.3 1073.7 402 1074.1 404 1074.5 406 1074.9 408 1075.3 410 1075.7 412 1076.1 413.8 1076.5 414 1076.6 416 1077.3 418 1078 420 1078.8 422 1079.5 423.4 1080 424 1080.2 426 1080.9 428 1081.5 430 1082.2 432 1082.9 434 1083.6 435 1083.9 436 1084.1 438 1084.5 440 1085 442 1085.4 444 1085.8 446 1086.3 448 1086.7 448.5 1086.8 450 1087.2 452 1087.8 454 1088.4 456 1089 458 1089.6 458.1 1089.6 460 1090 462 1090.4 464 1090.9 466 1091.3 468 1091.7 469.7 1092.1 470 1092.1 472 1092.4 474 1092.7 475 1092.8 476 1092.9 558.9 1092.9" fill="none" stroke="#00bcef" stroke-width="2.6" stroke-linejoin="round"/>
</g>
<g stroke="#000" stroke-width="2.6" fill="none">
<line x1="109.5" y1="1026.6" x2="293.9" y2="1026.6"/>
<line x1="293.9" y1="1049.3" x2="557.9" y2="1049.3"/>
</g>
<g stroke="#000" stroke-width="2.7" stroke-linecap="round" fill="none">
<line x1="110.3" y1="1017.6" x2="110.3" y2="1035.6"/>
<line x1="293.9" y1="1017.6" x2="293.9" y2="1035.6"/>
<line x1="293.9" y1="1040.3" x2="293.9" y2="1058.3"/>
<line x1="557.3" y1="1040.3" x2="557.3" y2="1058.3"/>
</g>
<path d="M109.5 646H558.9V1095.8" stroke="#3a3a3a" stroke-width="1.8" fill="none"/>
<path d="M109.5 646V1095.8H558.9" stroke="#000" stroke-width="1.6" fill="none"/>
<g stroke="#000" fill="none">
<line x1="97.2" y1="1093.7" x2="109.5" y2="1093.7" stroke-width="3.2"/>
<line x1="104.2" y1="1070.76" x2="109.5" y2="1070.76" stroke-width="2"/>
<line x1="104.2" y1="1047.83" x2="109.5" y2="1047.83" stroke-width="2"/>
<line x1="104.2" y1="1024.89" x2="109.5" y2="1024.89" stroke-width="2"/>
<line x1="97.2" y1="1001.95" x2="109.5" y2="1001.95" stroke-width="3.2"/>
<line x1="104.2" y1="979.01" x2="109.5" y2="979.01" stroke-width="2"/>
<line x1="104.2" y1="956.08" x2="109.5" y2="956.08" stroke-width="2"/>
<line x1="104.2" y1="933.14" x2="109.5" y2="933.14" stroke-width="2"/>
<line x1="97.2" y1="910.2" x2="109.5" y2="910.2" stroke-width="3.2"/>
<line x1="104.2" y1="887.26" x2="109.5" y2="887.26" stroke-width="2"/>
<line x1="104.2" y1="864.33" x2="109.5" y2="864.33" stroke-width="2"/>
<line x1="104.2" y1="841.39" x2="109.5" y2="841.39" stroke-width="2"/>
<line x1="97.2" y1="818.45" x2="109.5" y2="818.45" stroke-width="3.2"/>
<line x1="104.2" y1="795.51" x2="109.5" y2="795.51" stroke-width="2"/>
<line x1="104.2" y1="772.58" x2="109.5" y2="772.58" stroke-width="2"/>
<line x1="104.2" y1="749.64" x2="109.5" y2="749.64" stroke-width="2"/>
<line x1="97.2" y1="726.7" x2="109.5" y2="726.7" stroke-width="3.2"/>
<line x1="104.2" y1="703.76" x2="109.5" y2="703.76" stroke-width="2"/>
<line x1="104.2" y1="680.83" x2="109.5" y2="680.83" stroke-width="2"/>
<line x1="104.2" y1="657.89" x2="109.5" y2="657.89" stroke-width="2"/>
</g>
<g font-family="'Liberation Sans', Arial, Helvetica, sans-serif" font-size="18" fill="#000" stroke="#000" stroke-width="0.3">
<text x="89.1" y="1093.4" text-anchor="end">0</text>
<text x="87.3" y="1014.25" text-anchor="end">200</text>
<text x="87.3" y="922.5" text-anchor="end">400</text>
<text x="87.3" y="830.75" text-anchor="end">600</text>
<text x="87.3" y="739" text-anchor="end">800</text>
</g>
<text transform="translate(45.9 869.7) rotate(-90) scale(1.0 1.06)" text-anchor="middle" font-family="'Liberation Sans', Arial, Helvetica, sans-serif" font-size="21" fill="#000" stroke="#000" stroke-width="0.45">Count</text>
<g stroke="#000" fill="none">
<line x1="130.6" y1="1095.8" x2="130.6" y2="1108.4" stroke-width="3.5"/>
<line x1="135.7" y1="1095.8" x2="135.7" y2="1101.4" stroke-width="2"/>
<line x1="141.2" y1="1095.8" x2="141.2" y2="1101.4" stroke-width="2"/>
<line x1="148.2" y1="1095.8" x2="148.2" y2="1101.4" stroke-width="2"/>
<line x1="154.9" y1="1095.8" x2="154.9" y2="1101.4" stroke-width="2"/>
<line x1="173" y1="1095.8" x2="173" y2="1101.4" stroke-width="2"/>
<line x1="181.6" y1="1095.8" x2="181.6" y2="1101.4" stroke-width="2"/>
<line x1="190.4" y1="1095.8" x2="190.4" y2="1101.4" stroke-width="2"/>
<line x1="164.2" y1="1095.8" x2="164.2" y2="1105" stroke-width="2.5"/>
<line x1="198.95" y1="1095.8" x2="198.95" y2="1108.4" stroke-width="3.5"/>
<line x1="209.05" y1="1095.8" x2="209.05" y2="1108.4" stroke-width="3.5"/>
<line x1="218.6" y1="1095.8" x2="218.6" y2="1108.4" stroke-width="3.5"/>
<line x1="204.1" y1="1095.8" x2="204.1" y2="1105" stroke-width="2.5"/>
<line x1="213.4" y1="1095.8" x2="213.4" y2="1105" stroke-width="2.5"/>
<line x1="199.96" y1="1095.8" x2="199.96" y2="1101.4" stroke-width="2"/>
<line x1="210" y1="1095.8" x2="210" y2="1101.4" stroke-width="2"/>
<line x1="200.97" y1="1095.8" x2="200.97" y2="1101.4" stroke-width="2"/>
<line x1="210.96" y1="1095.8" x2="210.96" y2="1101.4" stroke-width="2"/>
<line x1="201.98" y1="1095.8" x2="201.98" y2="1101.4" stroke-width="2"/>
<line x1="211.91" y1="1095.8" x2="211.91" y2="1101.4" stroke-width="2"/>
<line x1="202.99" y1="1095.8" x2="202.99" y2="1101.4" stroke-width="2"/>
<line x1="212.87" y1="1095.8" x2="212.87" y2="1101.4" stroke-width="2"/>
<line x1="205.01" y1="1095.8" x2="205.01" y2="1101.4" stroke-width="2"/>
<line x1="214.78" y1="1095.8" x2="214.78" y2="1101.4" stroke-width="2"/>
<line x1="206.02" y1="1095.8" x2="206.02" y2="1101.4" stroke-width="2"/>
<line x1="215.74" y1="1095.8" x2="215.74" y2="1101.4" stroke-width="2"/>
<line x1="207.03" y1="1095.8" x2="207.03" y2="1101.4" stroke-width="2"/>
<line x1="216.69" y1="1095.8" x2="216.69" y2="1101.4" stroke-width="2"/>
<line x1="208.04" y1="1095.8" x2="208.04" y2="1101.4" stroke-width="2"/>
<line x1="217.64" y1="1095.8" x2="217.64" y2="1101.4" stroke-width="2"/>
<line x1="228.9" y1="1095.8" x2="228.9" y2="1101.4" stroke-width="2"/>
<line x1="237.7" y1="1095.8" x2="237.7" y2="1101.4" stroke-width="2"/>
<line x1="246.5" y1="1095.8" x2="246.5" y2="1101.4" stroke-width="2"/>
<line x1="262.3" y1="1095.8" x2="262.3" y2="1101.4" stroke-width="2"/>
<line x1="269.3" y1="1095.8" x2="269.3" y2="1101.4" stroke-width="2"/>
<line x1="276.6" y1="1095.8" x2="276.6" y2="1101.4" stroke-width="2"/>
<line x1="283.2" y1="1095.8" x2="283.2" y2="1101.4" stroke-width="2"/>
<line x1="329" y1="1095.8" x2="329" y2="1101.4" stroke-width="2"/>
<line x1="350.4" y1="1095.8" x2="350.4" y2="1101.4" stroke-width="2"/>
<line x1="365.9" y1="1095.8" x2="365.9" y2="1101.4" stroke-width="2"/>
<line x1="387" y1="1095.8" x2="387" y2="1101.4" stroke-width="2"/>
<line x1="394" y1="1095.8" x2="394" y2="1101.4" stroke-width="2"/>
<line x1="401" y1="1095.8" x2="401" y2="1101.4" stroke-width="2"/>
<line x1="406.2" y1="1095.8" x2="406.2" y2="1101.4" stroke-width="2"/>
<line x1="443.3" y1="1095.8" x2="443.3" y2="1101.4" stroke-width="2"/>
<line x1="460.7" y1="1095.8" x2="460.7" y2="1101.4" stroke-width="2"/>
<line x1="474.8" y1="1095.8" x2="474.8" y2="1101.4" stroke-width="2"/>
<line x1="492.2" y1="1095.8" x2="492.2" y2="1101.4" stroke-width="2"/>
<line x1="499" y1="1095.8" x2="499" y2="1101.4" stroke-width="2"/>
<line x1="504.4" y1="1095.8" x2="504.4" y2="1101.4" stroke-width="2"/>
<line x1="509.8" y1="1095.8" x2="509.8" y2="1101.4" stroke-width="2"/>
<line x1="545" y1="1095.8" x2="545" y2="1101.4" stroke-width="2"/>
<line x1="255.3" y1="1095.8" x2="255.3" y2="1105" stroke-width="2.5"/>
<line x1="376.6" y1="1095.8" x2="376.6" y2="1105" stroke-width="2.5"/>
<line x1="483.6" y1="1095.8" x2="483.6" y2="1105" stroke-width="2.5"/>
<line x1="288.7" y1="1095.8" x2="288.7" y2="1108.4" stroke-width="3.5"/>
<line x1="411.6" y1="1095.8" x2="411.6" y2="1108.4" stroke-width="3.5"/>
<line x1="515.2" y1="1095.8" x2="515.2" y2="1108.4" stroke-width="3.5"/>
</g>
<g font-family="'Liberation Sans', Arial, Helvetica, sans-serif" font-size="17.5" fill="#000" stroke="#000" stroke-width="0.3">
<text x="118.9" y="1148.3">-10</text>
<text x="145" y="1133.9">3</text>
<text x="204.8" y="1148.3">0</text>
<text x="278.9" y="1148.3">10</text>
<text x="299.9" y="1133.9">3</text>
<text x="401.4" y="1148.3">10</text>
<text x="422.5" y="1133.9">4</text>
<text x="505" y="1148.3">10</text>
<text x="525.9" y="1133.9">5</text>
</g>
<g font-family="'Liberation Sans', Arial, Helvetica, sans-serif" font-size="21" fill="#000" stroke="#000" stroke-width="0.45">
<text transform="translate(298.5 1187) scale(1 1.06)">FITC-A</text>
</g>
<g font-family="'Liberation Sans', Arial, Helvetica, sans-serif" font-size="21" fill="#000" stroke="#000" stroke-width="0.45">
<text transform="translate(117.1 685.4) scale(1 1.06)">FITC-A-</text>
<text transform="translate(118.9 716.9) scale(1 1.06)">71.4</text>
<text transform="translate(513.9 685.4) scale(1 1.06)" text-anchor="end">FITC-A+</text>
<text transform="translate(510 716.9) scale(1 1.06)" text-anchor="end">28.6</text>
</g>
<clipPath id="c11"><rect x="681" y="646.8" width="448" height="448.4"/></clipPath>
<g clip-path="url(#c11)">
<path d="M680.4 1092.9 771.9 1092.9 772.8 1092.8 772.9 1091.4 773.9 1077.1 774.9 1062.9 775 1061.5 775.9 1048.4 776.9 1033.7 777.7 1021.8 777.9 1013.6 778.9 972.5 779.7 939.2 779.9 928.8 780 923.6 780.9 876.4 781.7 834 781.9 827.3 782.9 793.7 783 790.3 783.9 756.8 784.3 741.7 784.9 732.6 785.9 717.2 786 715.7 786.7 704.7 786.9 708.4 787.9 726.6 788.7 740.9 788.9 747.9 789.9 782.6 790 786 790.9 812.3 791.6 832.8 791.9 839.1 792 841.3 792.9 860.3 793.9 881.5 794.6 896.2 794.9 900.2 795.9 913.4 796.9 926.6 797.9 939.8 798.6 948.9 798.9 951.3 799.9 959.2 800 960 800.9 966.9 801.9 974.5 802.9 982.1 803.9 989.8 804.5 994.3 804.9 995.7 805.9 999.1 806.9 1002.5 807.9 1005.9 808.9 1009.3 809.9 1012.7 810.5 1014.7 810.9 1016 811.9 1019.1 812.9 1022.2 813.9 1025.3 814.9 1028.5 815.9 1031.6 816.4 1033.2 816.9 1034.6 817.9 1037.5 818.9 1040.4 819.9 1043.3 820 1043.6 820.9 1045 821.9 1046.6 822.9 1048.2 823.9 1049.8 824.9 1051.3 825.9 1052.9 826.9 1054.5 827.9 1056.1 828.9 1057.7 829.6 1058.8 829.9 1059.1 830 1059.3 830.9 1060.2 832.9 1062.3 834.9 1064.4 836.9 1066.5 838.9 1068.7 839.3 1069.1 840.9 1069.7 842.9 1070.4 844.9 1071.1 846.9 1071.8 848.9 1072.6 850 1072.9 850.9 1073.1 852.9 1073.7 854.9 1074.2 856.9 1074.8 858.5 1075.3 858.9 1075.3 860 1075.4 860.9 1075.5 862.9 1075.8 864.9 1076 866.9 1076.3 868.9 1076.5 870.9 1076.8 872.9 1077.1 874 1077.2 874.9 1077.1 876.9 1076.8 878.9 1076.6 880 1076.4 880.9 1076.2 882.9 1075.9 884.9 1075.5 886.9 1075.1 888.9 1074.7 889.4 1074.6 890.9 1073.9 892.9 1073.1 894.9 1072.2 896.9 1071.3 898.9 1070.5 900 1070 900.9 1069.6 902.9 1068.7 904.9 1067.8 906.9 1067 907 1067 908.9 1066.3 910.9 1065.5 912.9 1064.8 914.9 1064 916.3 1063.5 916.9 1063.2 918.9 1062.3 920.9 1061.4 922.9 1060.5 924.9 1059.6 926.9 1058.7 928.9 1057.8 929.8 1057.3 930.9 1057 932.9 1056.3 934.9 1055.6 936 1055.3 936.9 1055 938.9 1054.3 940.9 1053.7 941.4 1053.5 942.9 1053.3 944.9 1053 946.9 1052.7 948.9 1052.5 950.9 1052.2 951 1052.2 952.9 1052.4 954.9 1052.7 956.9 1053 958.9 1053.3 960 1053.4 960.9 1053.6 962.9 1053.9 964 1054.1 964.5 1053.9 964.9 1053.9 966.9 1054.3 968.9 1054.7 970.9 1055.2 972.9 1055.6 974 1055.8 974.1 1055.9 974.9 1056.5 976.9 1058 978.9 1059.4 980.9 1060.9 982.9 1062.3 984.9 1063.7 985.7 1064.3 986.9 1064.3 988 1064.3 988.9 1064.1 990.9 1063.7 992.9 1063.3 993.4 1063.2 994.9 1064 996.9 1065.2 998.9 1066.3 1000.9 1067.5 1002.9 1068.7 1003 1068.8 1004.9 1069.5 1006.9 1070.4 1008.9 1071.2 1009 1071.3 1010.9 1072.3 1012.9 1073.4 1014.9 1074.5 1016.5 1075.4 1016.9 1075.7 1018.9 1076.9 1020.9 1078.1 1022.9 1079.4 1024.9 1080.6 1026.9 1081.8 1028.1 1082.5 1028.9 1082.9 1030 1083.5 1030.9 1083.9 1032.9 1085 1034.9 1086 1036.9 1087 1038.9 1088 1039.7 1088.4 1040.9 1088.9 1042.9 1089.7 1044.9 1090.6 1046.9 1091.4 1047.4 1091.6 1048.9 1091.8 1050 1092 1050.9 1092.2 1052.9 1092.5 1054.9 1092.8 1055 1092.8 1056.9 1092.9 1129.8 1092.9Z" fill="#f5c4c0"/>
<path d="M680.4 1092.9 771.9 1092.9 772.8 1092.8 772.9 1091.4 773.9 1077.1 774.9 1062.9 775 1061.5 775.9 1048.6 776.9 1034.4 777.7 1023 777.9 1015.1 778.9 975.4 779.7 943.6 779.9 933.7 780 928.7 780.9 884.1 781.7 844.4 781.9 838.3 782.9 807.8 783 804.7 783.9 777.2 784.3 765 784.9 759.5 785.9 750.5 786 749.6 786.7 743.2 786.9 745.4 787.9 756.3 788.7 765 788.9 770.5 789.9 797.9 790 800.6 790.9 825.2 791.6 844.4 791.9 850.3 792 852.3 792.9 870.2 793.9 890 794.6 903.9 794.9 907.6 795.9 920 796.9 932.4 797.9 944.8 798.6 953.5 798.9 955.7 799.9 963.1 800 963.9 800.9 970.5 801.9 977.9 802.9 985.3 803.9 992.8 804.5 997.2 804.9 998.5 805.9 1001.8 806.9 1005.1 807.9 1008.4 808.9 1011.7 809.9 1015 810.5 1017 810.9 1018.2 811.9 1021.2 812.9 1024.3 813.9 1027.3 814.9 1030.3 815.9 1033.4 816.4 1034.9 816.9 1036.3 817.9 1039.1 818.9 1041.9 819.9 1044.7 820 1045 820.9 1046.4 821.9 1047.9 822.9 1049.5 823.9 1051 824.9 1052.6 825.9 1054.1 826.9 1055.6 827.9 1057.2 828.9 1058.7 829.6 1059.8 829.9 1060.1 830 1060.2 830.9 1061.2 832.9 1063.4 834.9 1065.6 836.9 1067.8 838.9 1070 839.3 1070.4 840.9 1071 842.9 1071.8 844.9 1072.6 846.9 1073.4 848.9 1074.2 850 1074.5 850.9 1074.8 852.9 1075.4 854.9 1076 856.9 1076.6 858.5 1077.1 858.9 1077.1 860 1077.3 860.9 1077.3 862.9 1077.6 864.9 1077.8 866.9 1078 868.9 1078.2 870.9 1078.4 872.9 1078.6 874 1078.7 874.9 1078.6 876.9 1078.3 878.9 1078.1 880 1077.9 880.9 1077.8 882.9 1077.5 884.9 1077.3 886.9 1077 888.9 1076.8 889.4 1076.7 890.9 1076.2 892.9 1075.6 894.9 1074.9 896.9 1074.3 898.9 1073.6 900 1073.2 900.9 1073 902.9 1072.3 904.9 1071.7 906.9 1071.1 907 1071.1 908.9 1070.6 910.9 1070 912.9 1069.4 914.9 1068.8 916.3 1068.4 916.9 1068.2 918.9 1067.5 920.9 1066.8 922.9 1066.1 924.9 1065.3 926.9 1064.6 928.9 1063.9 929.8 1063.6 930.9 1063.3 932.9 1062.8 934.9 1062.3 936 1062 936.9 1061.8 938.9 1061.3 940.9 1060.8 941.4 1060.7 942.9 1060.6 944.9 1060.4 946.9 1060.2 948.9 1060 950.9 1059.8 951 1059.8 952.9 1059.5 954.9 1059.1 956.9 1058.8 958.9 1058.5 960 1058.3 960.9 1058.1 962.9 1057.8 964 1057.6 964.5 1057.5 964.9 1057.6 966.9 1058.3 968.9 1059 970.9 1059.6 972.9 1060.3 974 1060.7 974.1 1060.7 974.9 1061.1 976.9 1062.2 978.9 1063.3 980.9 1064.5 982.9 1065.6 984.9 1066.7 985.7 1067.1 986.9 1067 988 1066.9 988.9 1066.9 990.9 1066.7 992.9 1066.5 993.4 1066.5 994.9 1067.4 996.9 1068.6 998.9 1069.8 1000.9 1071 1002.9 1072.2 1003 1072.3 1004.9 1073.1 1006.9 1074 1008.9 1074.8 1009 1074.9 1010.9 1075.7 1012.9 1076.6 1014.9 1077.4 1016.5 1078.1 1016.9 1078.3 1018.9 1079.3 1020.9 1080.3 1022.9 1081.3 1024.9 1082.3 1026.9 1083.3 1028.1 1083.9 1028.9 1084.2 1030 1084.7 1030.9 1085.1 1032.9 1085.9 1034.9 1086.7 1036.9 1087.5 1038.9 1088.4 1039.7 1088.7 1040.9 1089.2 1042.9 1089.9 1044.9 1090.7 1046.9 1091.4 1047.4 1091.6 1048.9 1091.8 1050 1092 1050.9 1092.2 1052.9 1092.5 1054.9 1092.8 1055 1092.8 1056.9 1092.9 1129.8 1092.9Z" fill="#a9bfca"/>
<path d="M680.4 1092.9 771.9 1092.9 772.8 1092.8 772.9 1091.4 773.9 1077.1 774.9 1062.9 775 1061.5 775.9 1048.7 776.9 1034.7 777.7 1023.5 777.9 1015.7 778.9 976.6 779.7 945.5 779.9 935.8 780 931 780.9 887.4 781.7 848.9 781.9 843.1 782.9 813.9 783 811 783.9 784.9 784.3 773.3 784.9 768.6 785.9 760.6 786 759.9 786.7 753.7 786.9 755.9 787.9 766.5 788.7 775 788.9 780.3 789.9 806.9 790 809.6 790.9 833.5 791.6 852.1 791.9 857.9 792 859.8 792.9 877.1 793.9 896.4 794.6 909.9 794.9 913.5 795.9 925.5 796.9 937.5 797.9 949.6 798.6 958 798.9 960.1 799.9 967.3 800 968.1 800.9 974.5 801.9 981.7 802.9 988.9 803.9 996.1 804.5 1000.4 804.9 1001.7 805.9 1004.9 806.9 1008.1 807.9 1011.3 808.9 1014.5 809.9 1017.7 810.5 1019.6 810.9 1020.8 811.9 1023.7 812.9 1026.7 813.9 1029.6 814.9 1032.5 815.9 1035.5 816.4 1036.9 816.9 1038.3 817.9 1041 818.9 1043.7 819.9 1046.5 820 1046.7 820.9 1048.1 821.9 1049.6 822.9 1051.1 823.9 1052.5 824.9 1054 825.9 1055.5 826.9 1057 827.9 1058.5 828.9 1060 829.6 1061 829.9 1061.4 830 1061.5 830.9 1062.4 832.9 1064.5 834.9 1066.6 836.9 1068.8 838.9 1070.9 839.3 1071.3 840.9 1071.9 842.9 1072.7 844.9 1073.4 846.9 1074.2 848.9 1075 850 1075.3 850.9 1075.6 852.9 1076.1 854.9 1076.7 856.9 1077.3 858.5 1077.8 858.9 1077.8 860 1077.9 860.9 1078 862.9 1078.2 864.9 1078.4 866.9 1078.6 868.9 1078.8 870.9 1079 872.9 1079.2 874 1079.3 874.9 1079.2 876.9 1079 878.9 1078.8 880 1078.6 880.9 1078.5 882.9 1078.3 884.9 1078 886.9 1077.8 888.9 1077.5 889.4 1077.5 890.9 1077 892.9 1076.4 894.9 1075.8 896.9 1075.2 898.9 1074.6 900 1074.2 900.9 1074 902.9 1073.4 904.9 1072.9 906.9 1072.3 907 1072.3 908.9 1071.8 910.9 1071.3 912.9 1070.8 914.9 1070.3 916.3 1070 916.9 1069.8 918.9 1069.1 920.9 1068.5 922.9 1067.9 924.9 1067.3 926.9 1066.7 928.9 1066.1 929.8 1065.8 930.9 1065.6 932.9 1065.2 934.9 1064.7 936 1064.5 936.9 1064.3 938.9 1063.9 940.9 1063.5 941.4 1063.4 942.9 1063.3 944.9 1063.2 946.9 1063.1 948.9 1063 950.9 1062.9 951 1062.9 952.9 1062.6 954.9 1062.4 956.9 1062.1 958.9 1061.9 960 1061.7 960.9 1061.6 962.9 1061.2 964 1061 964.5 1060.9 964.9 1061 966.9 1061.5 968.9 1062 970.9 1062.6 972.9 1063.1 974 1063.4 974.1 1063.4 974.9 1063.8 976.9 1064.7 978.9 1065.7 980.9 1066.6 982.9 1067.6 984.9 1068.6 985.7 1068.9 986.9 1068.8 988 1068.7 988.9 1068.6 990.9 1068.4 992.9 1068.2 993.4 1068.2 994.9 1069 996.9 1070 998.9 1071.1 1000.9 1072.2 1002.9 1073.3 1003 1073.4 1004.9 1074.1 1006.9 1074.9 1008.9 1075.7 1009 1075.7 1010.9 1076.4 1012.9 1077.2 1014.9 1078 1016.5 1078.7 1016.9 1078.8 1018.9 1079.8 1020.9 1080.7 1022.9 1081.6 1024.9 1082.6 1026.9 1083.5 1028.1 1084.1 1028.9 1084.4 1030 1084.9 1030.9 1085.2 1032.9 1086 1034.9 1086.8 1036.9 1087.6 1038.9 1088.4 1039.7 1088.7 1040.9 1089.2 1042.9 1089.9 1044.9 1090.7 1046.9 1091.4 1047.4 1091.6 1048.9 1091.8 1050 1092 1050.9 1092.2 1052.9 1092.5 1054.9 1092.8 1055 1092.8 1056.9 1092.9 1129.8 1092.9Z" fill="#9ab4af"/>
<path d="M680.4 1092.9 771.9 1092.9 772.8 1092.8 772.9 1091.4 773.9 1077.1 774.9 1062.9 775 1061.5 775.9 1048.7 776.9 1034.7 777.7 1023.5 777.9 1015.7 778.9 976.6 779.7 945.5 779.9 935.8 780 931 780.9 887.4 781.7 848.9 781.9 843.1 782.9 813.9 783 811 783.9 784.9 784.3 773.3 784.9 768.6 785.9 760.6 786 759.9 786.7 753.7 786.9 755.9 787.9 766.5 788.7 775 788.9 780.3 789.9 806.9 790 809.6 790.9 833.5 791.6 852.1 791.9 857.9 792 859.8 792.9 877.1 793.9 896.4 794.6 909.9 794.9 913.5 795.9 925.5 796.9 937.5 797.9 949.6 798.6 958 798.9 960.1 799.9 967.3 800 968.1 800.9 974.5 801.9 981.7 802.9 988.9 803.9 996.1 804.5 1000.4 804.9 1001.7 805.9 1004.9 806.9 1008.1 807.9 1011.3 808.9 1014.5 809.9 1017.7 810.5 1019.6 810.9 1020.8 811.9 1023.7 812.9 1026.7 813.9 1029.6 814.9 1032.5 815.9 1035.5 816.4 1036.9 816.9 1038.3 817.9 1041 818.9 1043.7 819.9 1046.5 820 1046.7 820.9 1048.1 821.9 1049.6 822.9 1051.1 823.9 1052.5 824.9 1054 825.9 1055.5 826.9 1057 827.9 1058.5 828.9 1060 829.6 1061 829.9 1061.4 830 1061.5 830.9 1062.4 832.9 1064.5 834.9 1066.6 836.9 1068.8 838.9 1070.9 839.3 1071.3 840.9 1071.9 842.9 1072.7 844.9 1073.4 846.9 1074.2 848.9 1075 850 1075.3 850.9 1075.6 852.9 1076.1 854.9 1076.7 856.9 1077.3 858.5 1077.8 858.9 1077.8 860 1077.9 860.9 1078 862.9 1078.2 864.9 1078.4 866.9 1078.6 868.9 1078.8 870.9 1079 872.9 1079.2 874 1079.3 874.9 1079.2 876.9 1079 878.9 1078.8 880 1078.6 880.9 1078.5 882.9 1078.3 884.9 1078 886.9 1077.8 888.9 1077.5 889.4 1077.5 890.9 1077 892.9 1076.4 894.9 1075.8 896.9 1075.2 898.9 1074.6 900 1074.2 900.9 1074 902.9 1073.4 904.9 1072.9 906.9 1072.3 907 1072.3 908.9 1071.8 910.9 1071.3 912.9 1070.8 914.9 1070.3 916.3 1070 916.9 1069.8 918.9 1069.1 920.9 1068.5 922.9 1067.9 924.9 1067.3 926.9 1066.7 928.9 1066.1 929.8 1065.8 930.9 1065.6 932.9 1065.2 934.9 1064.7 936 1064.5 936.9 1064.3 938.9 1063.9 940.9 1063.5 941.4 1063.4 942.9 1063.3 944.9 1063.2 946.9 1063.1 948.9 1063 950.9 1062.9 951 1062.9 952.9 1062.6 954.9 1062.4 956.9 1062.1 958.9 1061.9 960 1061.7 960.9 1061.6 962.9 1061.2 964 1061 964.5 1060.9 964.9 1061 966.9 1061.5 968.9 1062 970.9 1062.6 972.9 1063.1 974 1063.4 974.1 1063.4 974.9 1063.8 976.9 1064.7 978.9 1065.7 980.9 1066.6 982.9 1067.6 984.9 1068.6 985.7 1068.9 986.9 1068.8 988 1068.7 988.9 1068.6 990.9 1068.4 992.9 1068.2 993.4 1068.2 994.9 1069 996.9 1070 998.9 1071.1 1000.9 1072.2 1002.9 1073.3 1003 1073.4 1004.9 1074.1 1006.9 1074.9 1008.9 1075.7 1009 1075.7 1010.9 1076.4 1012.9 1077.2 1014.9 1078 1016.5 1078.7 1016.9 1078.8 1018.9 1079.8 1020.9 1080.7 1022.9 1081.6 1024.9 1082.6 1026.9 1083.5 1028.1 1084.1 1028.9 1084.4 1030 1084.9 1030.9 1085.2 1032.9 1086 1034.9 1086.8 1036.9 1087.6 1038.9 1088.4 1039.7 1088.7 1040.9 1089.2 1042.9 1089.9 1044.9 1090.7 1046.9 1091.4 1047.4 1091.6 1048.9 1091.8 1050 1092 1050.9 1092.2 1052.9 1092.5 1054.9 1092.8 1055 1092.8 1056.9 1092.9 1129.8 1092.9" fill="none" stroke="#aaa872" stroke-width="1.8" stroke-linejoin="round"/>
<path d="M680.4 1092.9 771.9 1092.9 772.8 1092.8 772.9 1091.4 773.9 1077.1 774.9 1062.9 775 1061.5 775.9 1048.4 776.9 1033.7 777.7 1021.8 777.9 1013.6 778.9 972.5 779.7 939.2 779.9 928.8 780 923.6 780.9 876.4 781.7 834 781.9 827.3 782.9 793.7 783 790.3 783.9 756.8 784.3 741.7 784.9 732.6 785.9 717.2 786 715.7 786.7 704.7 786.9 708.4 787.9 726.6 788.7 740.9 788.9 747.9 789.9 782.6 790 786 790.9 812.3 791.6 832.8 791.9 839.1 792 841.3 792.9 860.3 793.9 881.5 794.6 896.2 794.9 900.2 795.9 913.4 796.9 926.6 797.9 939.8 798.6 948.9 798.9 951.3 799.9 959.2 800 960 800.9 966.9 801.9 974.5 802.9 982.1 803.9 989.8 804.5 994.3 804.9 995.7 805.9 999.1 806.9 1002.5 807.9 1005.9 808.9 1009.3 809.9 1012.7 810.5 1014.7 810.9 1016 811.9 1019.1 812.9 1022.2 813.9 1025.3 814.9 1028.5 815.9 1031.6 816.4 1033.2 816.9 1034.6 817.9 1037.5 818.9 1040.4 819.9 1043.3 820 1043.6 820.9 1045 821.9 1046.6 822.9 1048.2 823.9 1049.8 824.9 1051.3 825.9 1052.9 826.9 1054.5 827.9 1056.1 828.9 1057.7 829.6 1058.8 829.9 1059.1 830 1059.3 830.9 1060.2 832.9 1062.3 834.9 1064.4 836.9 1066.5 838.9 1068.7 839.3 1069.1 840.9 1069.7 842.9 1070.4 844.9 1071.1 846.9 1071.8 848.9 1072.6 850 1072.9 850.9 1073.1 852.9 1073.7 854.9 1074.2 856.9 1074.8 858.5 1075.3 858.9 1075.3 860 1075.4 860.9 1075.5 862.9 1075.8 864.9 1076 866.9 1076.3 868.9 1076.5 870.9 1076.8 872.9 1077.1 874 1077.2 874.9 1077.1 876.9 1076.8 878.9 1076.6 880 1076.4 880.9 1076.2 882.9 1075.9 884.9 1075.5 886.9 1075.1 888.9 1074.7 889.4 1074.6 890.9 1073.9 892.9 1073.1 894.9 1072.2 896.9 1071.3 898.9 1070.5 900 1070 900.9 1069.6 902.9 1068.7 904.9 1067.8 906.9 1067 907 1067 908.9 1066.3 910.9 1065.5 912.9 1064.8 914.9 1064 916.3 1063.5 916.9 1063.2 918.9 1062.3 920.9 1061.4 922.9 1060.5 924.9 1059.6 926.9 1058.7 928.9 1057.8 929.8 1057.3 930.9 1057 932.9 1056.3 934.9 1055.6 936 1055.3 936.9 1055 938.9 1054.3 940.9 1053.7 941.4 1053.5 942.9 1053.3 944.9 1053 946.9 1052.7 948.9 1052.5 950.9 1052.2 951 1052.2 952.9 1052.4 954.9 1052.7 956.9 1053 958.9 1053.3 960 1053.4 960.9 1053.6 962.9 1053.9 964 1054.1 964.5 1053.9 964.9 1053.9 966.9 1054.3 968.9 1054.7 970.9 1055.2 972.9 1055.6 974 1055.8 974.1 1055.9 974.9 1056.5 976.9 1058 978.9 1059.4 980.9 1060.9 982.9 1062.3 984.9 1063.7 985.7 1064.3 986.9 1064.3 988 1064.3 988.9 1064.1 990.9 1063.7 992.9 1063.3 993.4 1063.2 994.9 1064 996.9 1065.2 998.9 1066.3 1000.9 1067.5 1002.9 1068.7 1003 1068.8 1004.9 1069.5 1006.9 1070.4 1008.9 1071.2 1009 1071.3 1010.9 1072.3 1012.9 1073.4 1014.9 1074.5 1016.5 1075.4 1016.9 1075.7 1018.9 1076.9 1020.9 1078.1 1022.9 1079.4 1024.9 1080.6 1026.9 1081.8 1028.1 1082.5 1028.9 1082.9 1030 1083.5 1030.9 1083.9 1032.9 1085 1034.9 1086 1036.9 1087 1038.9 1088 1039.7 1088.4 1040.9 1088.9 1042.9 1089.7 1044.9 1090.6 1046.9 1091.4 1047.4 1091.6 1048.9 1091.8 1050 1092 1050.9 1092.2 1052.9 1092.5 1054.9 1092.8 1055 1092.8 1056.9 1092.9 1129.8 1092.9" fill="none" stroke="#ec1c1c" stroke-width="2" stroke-linejoin="round"/>
<path d="M680.4 1092.9 771.9 1092.9 772.8 1092.8 772.9 1091.4 773.9 1077.1 774.9 1062.9 775 1061.5 775.9 1048.6 776.9 1034.4 777.7 1023 777.9 1015.1 778.9 975.4 779.7 943.6 779.9 933.7 780 928.7 780.9 881.8 781.7 839.4 781.9 832.5 782.9 797.9 783 794.4 783.9 762.5 784.3 748.2 784.9 740 785.9 726.3 786 725 786.7 715.2 786.9 718.6 787.9 735.4 788.7 748.7 788.9 755.4 789.9 788.5 790 791.8 790.9 820.8 791.6 842.9 791.9 850 792 852.3 792.9 869.4 793.9 888.6 794.6 902.1 794.9 905.6 795.9 917.5 796.9 929.5 797.9 941.5 798.6 950 798.9 952.2 799.9 959.3 800 960 800.9 966.9 801.9 974.5 802.9 982.1 803.9 989.8 804.5 994.3 804.9 995.7 805.9 999.1 806.9 1002.5 807.9 1005.9 808.9 1009.3 809.9 1012.7 810.5 1014.7 810.9 1016 811.9 1019.1 812.9 1022.2 813.9 1025.3 814.9 1028.5 815.9 1031.6 816.4 1033.2 816.9 1034.6 817.9 1037.5 818.9 1040.4 819.9 1043.3 820 1043.6 820.9 1045 821.9 1046.6 822.9 1048.2 823.9 1049.8 824.9 1051.3 825.9 1052.9 826.9 1054.5 827.9 1056.1 828.9 1057.7 829.6 1058.8 829.9 1059.1 830 1059.3 830.9 1060.3 832.9 1062.6 834.9 1065 836.9 1067.3 838.9 1069.6 839.3 1070 840.9 1070.7 842.9 1071.6 844.9 1072.5 846.9 1073.3 848.9 1074.2 850 1074.5 850.9 1074.8 852.9 1075.4 854.9 1076 856.9 1076.6 858.5 1077.1 858.9 1077.1 860 1077.3 860.9 1077.3 862.9 1077.6 864.9 1077.8 866.9 1078 868.9 1078.2 870.9 1078.4 872.9 1078.6 874 1078.7 874.9 1078.6 876.9 1078.3 878.9 1078.1 880 1077.9 880.9 1077.8 882.9 1077.5 884.9 1077.3 886.9 1077 888.9 1076.8 889.4 1076.7 890.9 1076.2 892.9 1075.6 894.9 1074.9 896.9 1074.3 898.9 1073.6 900 1073.2 900.9 1073 902.9 1072.3 904.9 1071.7 906.9 1071.1 907 1071.1 908.9 1070.6 910.9 1070 912.9 1069.4 914.9 1068.8 916.3 1068.4 916.9 1068.2 918.9 1067.5 920.9 1066.8 922.9 1066.1 924.9 1065.3 926.9 1064.6 928.9 1063.9 929.8 1063.6 930.9 1063.3 932.9 1062.8 934.9 1062.3 936 1062 936.9 1061.8 938.9 1061.3 940.9 1060.8 941.4 1060.7 942.9 1060.6 944.9 1060.4 946.9 1060.2 948.9 1060 950.9 1059.8 951 1059.8 952.9 1059.5 954.9 1059.1 956.9 1058.8 958.9 1058.5 960 1058.3 960.9 1058.1 962.9 1057.8 964 1057.6 964.5 1057.5 964.9 1057.6 966.9 1058.3 968.9 1059 970.9 1059.6 972.9 1060.3 974 1060.7 974.1 1060.7 974.9 1061.1 976.9 1062.2 978.9 1063.3 980.9 1064.5 982.9 1065.6 984.9 1066.7 985.7 1067.1 986.9 1067 988 1066.9 988.9 1066.9 990.9 1066.7 992.9 1066.5 993.4 1066.5 994.9 1067.4 996.9 1068.6 998.9 1069.8 1000.9 1071 1002.9 1072.2 1003 1072.3 1004.9 1073.1 1006.9 1074 1008.9 1074.8 1009 1074.9 1010.9 1075.7 1012.9 1076.6 1014.9 1077.4 1016.5 1078.1 1016.9 1078.3 1018.9 1079.3 1020.9 1080.3 1022.9 1081.3 1024.9 1082.3 1026.9 1083.3 1028.1 1083.9 1028.9 1084.2 1030 1084.7 1030.9 1085.1 1032.9 1085.9 1034.9 1086.7 1036.9 1087.5 1038.9 1088.4 1039.7 1088.7 1040.9 1089.2 1042.9 1089.9 1044.9 1090.7 1046.9 1091.4 1047.4 1091.6 1048.9 1091.8 1050 1092 1050.9 1092.2 1052.9 1092.5 1054.9 1092.8 1055 1092.8 1056.9 1092.9 1129.8 1092.9" fill="none" stroke="#ff8a14" stroke-width="2" stroke-linejoin="round"/>
<path d="M680.4 1092.9 771.9 1092.9 772.8 1092.8 772.9 1091.4 773.9 1077.1 774.9 1062.9 775 1061.5 775.9 1048.6 776.9 1034.4 777.7 1023 777.9 1015.1 778.9 975.4 779.7 943.6 779.9 933.7 780 928.7 780.9 884.1 781.7 844.4 781.9 838.3 782.9 807.8 783 804.7 783.9 777.2 784.3 765 784.9 759.5 785.9 750.5 786 749.6 786.7 743.2 786.9 745.4 787.9 756.3 788.7 765 788.9 770.5 789.9 797.9 790 800.6 790.9 825.2 791.6 844.4 791.9 850.3 792 852.3 792.9 870.2 793.9 890 794.6 903.9 794.9 907.6 795.9 920 796.9 932.4 797.9 944.8 798.6 953.5 798.9 955.7 799.9 963.1 800 963.9 800.9 970.5 801.9 977.9 802.9 985.3 803.9 992.8 804.5 997.2 804.9 998.5 805.9 1001.8 806.9 1005.1 807.9 1008.4 808.9 1011.7 809.9 1015 810.5 1017 810.9 1018.2 811.9 1021.2 812.9 1024.3 813.9 1027.3 814.9 1030.3 815.9 1033.4 816.4 1034.9 816.9 1036.3 817.9 1039.1 818.9 1041.9 819.9 1044.7 820 1045 820.9 1046.4 821.9 1047.9 822.9 1049.5 823.9 1051 824.9 1052.6 825.9 1054.1 826.9 1055.6 827.9 1057.2 828.9 1058.7 829.6 1059.8 829.9 1060.1 830 1060.2 830.9 1061.2 832.9 1063.4 834.9 1065.6 836.9 1067.8 838.9 1070 839.3 1070.4 840.9 1071 842.9 1071.8 844.9 1072.6 846.9 1073.4 848.9 1074.2 850 1074.5 850.9 1074.8 852.9 1075.4 854.9 1076 856.9 1076.6 858.5 1077.1 858.9 1077.1 860 1077.3 860.9 1077.3 862.9 1077.6 864.9 1077.8 866.9 1078 868.9 1078.2 870.9 1078.4 872.9 1078.6 874 1078.7 874.9 1078.6 876.9 1078.3 878.9 1078.1 880 1077.9 880.9 1077.8 882.9 1077.5 884.9 1077.3 886.9 1077 888.9 1076.8 889.4 1076.7 890.9 1076.2 892.9 1075.6 894.9 1074.9 896.9 1074.3 898.9 1073.6 900 1073.2 900.9 1073 902.9 1072.3 904.9 1071.7 906.9 1071.1 907 1071.1 908.9 1070.6 910.9 1070 912.9 1069.4 914.9 1068.8 916.3 1068.4 916.9 1068.2 918.9 1067.5 920.9 1066.8 922.9 1066.1 924.9 1065.3 926.9 1064.6 928.9 1063.9 929.8 1063.6 930.9 1063.3 932.9 1062.8 934.9 1062.3 936 1062 936.9 1061.8 938.9 1061.3 940.9 1060.8 941.4 1060.7 942.9 1060.6 944.9 1060.4 946.9 1060.2 948.9 1060 950.9 1059.8 951 1059.8 952.9 1059.5 954.9 1059.1 956.9 1058.8 958.9 1058.5 960 1058.3 960.9 1058.1 962.9 1057.8 964 1057.6 964.5 1057.5 964.9 1057.6 966.9 1058.3 968.9 1059 970.9 1059.6 972.9 1060.3 974 1060.7 974.1 1060.7 974.9 1061.1 976.9 1062.2 978.9 1063.3 980.9 1064.5 982.9 1065.6 984.9 1066.7 985.7 1067.1 986.9 1067 988 1066.9 988.9 1066.9 990.9 1066.7 992.9 1066.5 993.4 1066.5 994.9 1067.4 996.9 1068.6 998.9 1069.8 1000.9 1071 1002.9 1072.2 1003 1072.3 1004.9 1073.1 1006.9 1074 1008.9 1074.8 1009 1074.9 1010.9 1075.7 1012.9 1076.6 1014.9 1077.4 1016.5 1078.1 1016.9 1078.3 1018.9 1079.3 1020.9 1080.3 1022.9 1081.3 1024.9 1082.3 1026.9 1083.3 1028.1 1083.9 1028.9 1084.2 1030 1084.7 1030.9 1085.1 1032.9 1085.9 1034.9 1086.7 1036.9 1087.5 1038.9 1088.4 1039.7 1088.7 1040.9 1089.2 1042.9 1089.9 1044.9 1090.7 1046.9 1091.4 1047.4 1091.6 1048.9 1091.8 1050 1092 1050.9 1092.2 1052.9 1092.5 1054.9 1092.8 1055 1092.8 1056.9 1092.9 1129.8 1092.9" fill="none" stroke="#00bcef" stroke-width="2.6" stroke-linejoin="round"/>
</g>
<g stroke="#000" stroke-width="2.6" fill="none">
<line x1="680.4" y1="1026.6" x2="864.3" y2="1026.6"/>
<line x1="864.3" y1="1049.3" x2="1128.8" y2="1049.3"/>
</g>
<g stroke="#000" stroke-width="2.7" stroke-linecap="round" fill="none">
<line x1="681.2" y1="1017.6" x2="681.2" y2="1035.6"/>
<line x1="864.3" y1="1017.6" x2="864.3" y2="1035.6"/>
<line x1="864.3" y1="1040.3" x2="864.3" y2="1058.3"/>
<line x1="1128.2" y1="1040.3" x2="1128.2" y2="1058.3"/>
</g>
<path d="M680.4 646H1129.8V1095.8" stroke="#3a3a3a" stroke-width="1.8" fill="none"/>
<path d="M680.4 646V1095.8H1129.8" stroke="#000" stroke-width="1.6" fill="none"/>
<g stroke="#000" fill="none">
<line x1="668.1" y1="1093.7" x2="680.4" y2="1093.7" stroke-width="3.2"/>
<line x1="675.1" y1="1070.35" x2="680.4" y2="1070.35" stroke-width="2"/>
<line x1="675.1" y1="1047" x2="680.4" y2="1047" stroke-width="2"/>
<line x1="675.1" y1="1023.65" x2="680.4" y2="1023.65" stroke-width="2"/>
<line x1="668.1" y1="1000.3" x2="680.4" y2="1000.3" stroke-width="3.2"/>
<line x1="675.1" y1="976.95" x2="680.4" y2="976.95" stroke-width="2"/>
<line x1="675.1" y1="953.6" x2="680.4" y2="953.6" stroke-width="2"/>
<line x1="675.1" y1="930.25" x2="680.4" y2="930.25" stroke-width="2"/>
<line x1="668.1" y1="906.9" x2="680.4" y2="906.9" stroke-width="3.2"/>
<line x1="675.1" y1="883.55" x2="680.4" y2="883.55" stroke-width="2"/>
<line x1="675.1" y1="860.2" x2="680.4" y2="860.2" stroke-width="2"/>
<line x1="675.1" y1="836.85" x2="680.4" y2="836.85" stroke-width="2"/>
<line x1="668.1" y1="813.5" x2="680.4" y2="813.5" stroke-width="3.2"/>
<line x1="675.1" y1="790.15" x2="680.4" y2="790.15" stroke-width="2"/>
<line x1="675.1" y1="766.8" x2="680.4" y2="766.8" stroke-width="2"/>
<line x1="675.1" y1="743.45" x2="680.4" y2="743.45" stroke-width="2"/>
<line x1="668.1" y1="720.1" x2="680.4" y2="720.1" stroke-width="3.2"/>
<line x1="675.1" y1="696.75" x2="680.4" y2="696.75" stroke-width="2"/>
<line x1="675.1" y1="673.4" x2="680.4" y2="673.4" stroke-width="2"/>
<line x1="675.1" y1="650.05" x2="680.4" y2="650.05" stroke-width="2"/>
</g>
<g font-family="'Liberation Sans', Arial, Helvetica, sans-serif" font-size="18" fill="#000" stroke="#000" stroke-width="0.3">
<text x="660" y="1093.4" text-anchor="end">0</text>
<text x="658.2" y="1012.6" text-anchor="end">200</text>
<text x="658.2" y="919.2" text-anchor="end">400</text>
<text x="658.2" y="825.8" text-anchor="end">600</text>
<text x="658.2" y="732.4" text-anchor="end">800</text>
</g>
<text transform="translate(616.8 869.7) rotate(-90) scale(1.0 1.06)" text-anchor="middle" font-family="'Liberation Sans', Arial, Helvetica, sans-serif" font-size="21" fill="#000" stroke="#000" stroke-width="0.45">Count</text>
<g stroke="#000" fill="none">
<line x1="701.5" y1="1095.8" x2="701.5" y2="1108.4" stroke-width="3.5"/>
<line x1="706.6" y1="1095.8" x2="706.6" y2="1101.4" stroke-width="2"/>
<line x1="712.1" y1="1095.8" x2="712.1" y2="1101.4" stroke-width="2"/>
<line x1="719.1" y1="1095.8" x2="719.1" y2="1101.4" stroke-width="2"/>
<line x1="725.8" y1="1095.8" x2="725.8" y2="1101.4" stroke-width="2"/>
<line x1="743.9" y1="1095.8" x2="743.9" y2="1101.4" stroke-width="2"/>
<line x1="752.5" y1="1095.8" x2="752.5" y2="1101.4" stroke-width="2"/>
<line x1="761.3" y1="1095.8" x2="761.3" y2="1101.4" stroke-width="2"/>
<line x1="735.1" y1="1095.8" x2="735.1" y2="1105" stroke-width="2.5"/>
<line x1="769.85" y1="1095.8" x2="769.85" y2="1108.4" stroke-width="3.5"/>
<line x1="779.95" y1="1095.8" x2="779.95" y2="1108.4" stroke-width="3.5"/>
<line x1="789.5" y1="1095.8" x2="789.5" y2="1108.4" stroke-width="3.5"/>
<line x1="775" y1="1095.8" x2="775" y2="1105" stroke-width="2.5"/>
<line x1="784.3" y1="1095.8" x2="784.3" y2="1105" stroke-width="2.5"/>
<line x1="770.86" y1="1095.8" x2="770.86" y2="1101.4" stroke-width="2"/>
<line x1="780.9" y1="1095.8" x2="780.9" y2="1101.4" stroke-width="2"/>
<line x1="771.87" y1="1095.8" x2="771.87" y2="1101.4" stroke-width="2"/>
<line x1="781.86" y1="1095.8" x2="781.86" y2="1101.4" stroke-width="2"/>
<line x1="772.88" y1="1095.8" x2="772.88" y2="1101.4" stroke-width="2"/>
<line x1="782.81" y1="1095.8" x2="782.81" y2="1101.4" stroke-width="2"/>
<line x1="773.89" y1="1095.8" x2="773.89" y2="1101.4" stroke-width="2"/>
<line x1="783.77" y1="1095.8" x2="783.77" y2="1101.4" stroke-width="2"/>
<line x1="775.91" y1="1095.8" x2="775.91" y2="1101.4" stroke-width="2"/>
<line x1="785.68" y1="1095.8" x2="785.68" y2="1101.4" stroke-width="2"/>
<line x1="776.92" y1="1095.8" x2="776.92" y2="1101.4" stroke-width="2"/>
<line x1="786.63" y1="1095.8" x2="786.63" y2="1101.4" stroke-width="2"/>
<line x1="777.93" y1="1095.8" x2="777.93" y2="1101.4" stroke-width="2"/>
<line x1="787.59" y1="1095.8" x2="787.59" y2="1101.4" stroke-width="2"/>
<line x1="778.94" y1="1095.8" x2="778.94" y2="1101.4" stroke-width="2"/>
<line x1="788.54" y1="1095.8" x2="788.54" y2="1101.4" stroke-width="2"/>
<line x1="799.8" y1="1095.8" x2="799.8" y2="1101.4" stroke-width="2"/>
<line x1="808.6" y1="1095.8" x2="808.6" y2="1101.4" stroke-width="2"/>
<line x1="817.4" y1="1095.8" x2="817.4" y2="1101.4" stroke-width="2"/>
<line x1="833.2" y1="1095.8" x2="833.2" y2="1101.4" stroke-width="2"/>
<line x1="840.2" y1="1095.8" x2="840.2" y2="1101.4" stroke-width="2"/>
<line x1="847.5" y1="1095.8" x2="847.5" y2="1101.4" stroke-width="2"/>
<line x1="854.1" y1="1095.8" x2="854.1" y2="1101.4" stroke-width="2"/>
<line x1="899.9" y1="1095.8" x2="899.9" y2="1101.4" stroke-width="2"/>
<line x1="921.3" y1="1095.8" x2="921.3" y2="1101.4" stroke-width="2"/>
<line x1="936.8" y1="1095.8" x2="936.8" y2="1101.4" stroke-width="2"/>
<line x1="957.9" y1="1095.8" x2="957.9" y2="1101.4" stroke-width="2"/>
<line x1="964.9" y1="1095.8" x2="964.9" y2="1101.4" stroke-width="2"/>
<line x1="971.9" y1="1095.8" x2="971.9" y2="1101.4" stroke-width="2"/>
<line x1="977.1" y1="1095.8" x2="977.1" y2="1101.4" stroke-width="2"/>
<line x1="1014.2" y1="1095.8" x2="1014.2" y2="1101.4" stroke-width="2"/>
<line x1="1031.6" y1="1095.8" x2="1031.6" y2="1101.4" stroke-width="2"/>
<line x1="1045.7" y1="1095.8" x2="1045.7" y2="1101.4" stroke-width="2"/>
<line x1="1063.1" y1="1095.8" x2="1063.1" y2="1101.4" stroke-width="2"/>
<line x1="1069.9" y1="1095.8" x2="1069.9" y2="1101.4" stroke-width="2"/>
<line x1="1075.3" y1="1095.8" x2="1075.3" y2="1101.4" stroke-width="2"/>
<line x1="1080.7" y1="1095.8" x2="1080.7" y2="1101.4" stroke-width="2"/>
<line x1="1115.9" y1="1095.8" x2="1115.9" y2="1101.4" stroke-width="2"/>
<line x1="826.2" y1="1095.8" x2="826.2" y2="1105" stroke-width="2.5"/>
<line x1="947.5" y1="1095.8" x2="947.5" y2="1105" stroke-width="2.5"/>
<line x1="1054.5" y1="1095.8" x2="1054.5" y2="1105" stroke-width="2.5"/>
<line x1="859.6" y1="1095.8" x2="859.6" y2="1108.4" stroke-width="3.5"/>
<line x1="982.5" y1="1095.8" x2="982.5" y2="1108.4" stroke-width="3.5"/>
<line x1="1086.1" y1="1095.8" x2="1086.1" y2="1108.4" stroke-width="3.5"/>
</g>
<g font-family="'Liberation Sans', Arial, Helvetica, sans-serif" font-size="17.5" fill="#000" stroke="#000" stroke-width="0.3">
<text x="689.8" y="1148.3">-10</text>
<text x="715.9" y="1133.9">3</text>
<text x="775.7" y="1148.3">0</text>
<text x="849.8" y="1148.3">10</text>
<text x="870.8" y="1133.9">3</text>
<text x="972.3" y="1148.3">10</text>
<text x="993.4" y="1133.9">4</text>
<text x="1075.9" y="1148.3">10</text>
<text x="1096.8" y="1133.9">5</text>
</g>
<g font-family="'Liberation Sans', Arial, Helvetica, sans-serif" font-size="21" fill="#000" stroke="#000" stroke-width="0.45">
<text transform="translate(869.4 1187) scale(1 1.06)">FITC-A</text>
</g>
<g font-family="'Liberation Sans', Arial, Helvetica, sans-serif" font-size="21" fill="#000" stroke="#000" stroke-width="0.45">
<text transform="translate(688 685.4) scale(1 1.06)">FITC-A-</text>
<text transform="translate(689.8 716.9) scale(1 1.06)">62.6</text>
<text transform="translate(1084.8 685.4) scale(1 1.06)" text-anchor="end">FITC-A+</text>
<text transform="translate(1080.9 716.9) scale(1 1.06)" text-anchor="end">37.4</text>
</g>
<clipPath id="c12"><rect x="1251.6" y="646.8" width="448" height="448.4"/></clipPath>
<g clip-path="url(#c12)">
<path d="M1251 1092.9 1342.5 1092.9 1343.4 1092.8 1343.5 1091.6 1344.5 1080 1345 1074.2 1345.5 1068.4 1346.5 1056.7 1347.5 1045.1 1347.7 1042.8 1348.5 1003 1349.5 953.3 1349.7 943.3 1350.5 893.6 1351.3 843.8 1351.5 835.9 1352.5 796 1353.3 764 1353.5 758.2 1354.5 729 1355.5 699.9 1355.7 694.1 1356.5 689 1357 685.8 1357.3 683.9 1357.5 685.3 1358.5 692.5 1359.5 699.8 1360 703.4 1360.5 718.3 1361.5 748.1 1362 763 1362.5 774.4 1363.5 797.4 1364.5 820.4 1364.6 822.7 1365.5 840.6 1366.5 860.5 1367.5 880.4 1367.6 882.4 1368.5 895.8 1369.5 910.8 1370.5 925.7 1371.5 940.7 1371.6 942.2 1372.5 949.5 1373.5 957.6 1374.5 965.7 1375.5 973.9 1376.5 982 1377.5 986.8 1378.5 991.6 1379.5 996.4 1380 998.8 1380.5 1001.2 1381.5 1006 1382.5 1009.7 1383.5 1013.4 1384.5 1017.1 1385.5 1020.8 1386.5 1024.6 1387.4 1027.9 1387.5 1028.1 1388.5 1030.2 1389.5 1032.3 1390 1033.3 1390.5 1034.3 1391.5 1036.4 1392.5 1038.4 1393.5 1040.4 1394.5 1042.4 1395.5 1044.4 1396.5 1046.4 1397.5 1048.5 1398.5 1050.5 1399.5 1052.5 1399.6 1052.7 1400 1053.2 1400.5 1053.8 1401.5 1055.1 1403.5 1057.6 1405.5 1060.1 1407.5 1062.5 1409.1 1064.5 1409.5 1064.8 1411.5 1066 1413.5 1067.2 1415.5 1068.4 1417.5 1069.7 1418.7 1070.4 1419.5 1070.6 1421.5 1071.3 1423.5 1071.9 1425.5 1072.5 1427.5 1073.1 1428.3 1073.4 1429.5 1073.5 1431.5 1073.8 1433.5 1074 1435.5 1074.3 1437.5 1074.5 1439.5 1074.7 1439.8 1074.8 1441.5 1074.2 1443.5 1073.4 1445.5 1072.7 1447.5 1072 1449.5 1071.3 1451.3 1070.6 1451.5 1070.5 1453.5 1069.5 1455.5 1068.4 1457.5 1067.4 1459.5 1066.3 1460 1066 1461.5 1064.6 1462.7 1063.5 1463.5 1063 1465.5 1061.9 1467.5 1060.7 1469.5 1059.6 1470 1059.3 1471.5 1059.5 1473.5 1059.8 1474.2 1059.9 1475.5 1058.7 1477.5 1056.9 1479.5 1055.3 1480 1054.9 1481.5 1053.1 1483.5 1050.8 1483.8 1050.5 1485.5 1049.7 1487.5 1048.9 1489.5 1048 1491.5 1047.1 1493.5 1046.2 1495.3 1045.4 1495.5 1045.3 1497.5 1044.2 1499.5 1043.1 1500 1042.8 1501.5 1042 1503.5 1040.9 1505 1040 1505.5 1039.7 1506.8 1038.7 1507.5 1038.6 1509.5 1038.4 1511.5 1038.1 1513.5 1037.9 1515.5 1037.6 1516.3 1037.5 1517.5 1037.9 1519.5 1038.4 1520 1038.5 1521.5 1039.2 1523.5 1040.2 1525.5 1041.1 1525.9 1041.3 1527.5 1039.3 1529.5 1036.7 1530 1036.1 1531.5 1034.2 1533.5 1031.7 1533.6 1031.6 1535.5 1031.8 1537.5 1032.1 1539.5 1032.4 1541.2 1032.6 1541.5 1033 1543.5 1035.8 1545 1037.9 1545.5 1038.6 1547.5 1041.5 1548.9 1043.5 1549.5 1043.8 1551.5 1045.1 1553.5 1046.3 1555.5 1047.6 1557.5 1048.8 1558.5 1049.4 1559.5 1050 1560 1050.3 1561.5 1051 1563.5 1051.9 1565.5 1052.9 1567.5 1053.8 1569.5 1054.7 1569.9 1054.9 1571.5 1056 1573.5 1057.3 1575.5 1058.6 1577.5 1060 1579.5 1061.3 1581.4 1062.6 1581.5 1062.7 1583.5 1064.3 1585.5 1066 1587.5 1067.6 1589.5 1069.3 1590 1069.7 1591 1070.6 1591.5 1071 1593.5 1072.7 1595.5 1074.3 1597.5 1075.9 1599.5 1077.4 1600 1077.8 1600.6 1078.3 1601.5 1078.9 1603.5 1080.3 1605.5 1081.6 1607.5 1083 1609.5 1084.3 1610.1 1084.7 1611.5 1085.4 1613.5 1086.3 1615.5 1087.3 1617.5 1088.2 1619.5 1089.1 1619.7 1089.2 1621.5 1089.8 1623.5 1090.4 1625.5 1091 1627.5 1091.7 1629.5 1092.3 1630 1092.4 1631.2 1092.8 1631.5 1092.9 1700.4 1092.9Z" fill="#f5c4c0"/>
<path d="M1251 1092.9 1342.5 1092.9 1343.4 1092.8 1343.5 1091.6 1344.5 1080 1345 1074.2 1345.5 1068.4 1346.5 1056.8 1347.5 1045.1 1347.7 1042.8 1348.5 1003.1 1349.5 953.5 1349.7 943.6 1350.5 894 1351.3 844.4 1351.5 836.5 1352.5 796.8 1353.3 765 1353.5 759.2 1354.5 730.3 1355.5 701.4 1355.7 695.6 1356.5 690.7 1357 687.6 1357.3 685.7 1357.5 687.2 1358.5 694.5 1359.5 701.8 1360 705.5 1360.5 720.4 1361.5 750.1 1362 765 1362.5 776.5 1363.5 799.4 1364.5 822.3 1364.6 824.6 1365.5 842.5 1366.5 862.3 1367.5 882.1 1367.6 884.1 1368.5 897.5 1369.5 912.4 1370.5 927.2 1371.5 942.1 1371.6 943.6 1372.5 950.9 1373.5 959 1374.5 967.1 1375.5 975.2 1376.5 983.3 1377.5 988.1 1378.5 992.8 1379.5 997.6 1380 1000 1380.5 1002.3 1381.5 1007.1 1382.5 1010.8 1383.5 1014.5 1384.5 1018.2 1385.5 1021.9 1386.5 1025.6 1387.4 1028.9 1387.5 1029.1 1388.5 1031.2 1389.5 1033.3 1390 1034.3 1390.5 1035.3 1391.5 1037.3 1392.5 1039.3 1393.5 1041.3 1394.5 1043.3 1395.5 1045.3 1396.5 1047.3 1397.5 1049.3 1398.5 1051.3 1399.5 1053.3 1399.6 1053.5 1400 1054 1400.5 1054.6 1401.5 1055.8 1403.5 1058.2 1405.5 1060.6 1407.5 1063.1 1409.1 1065 1409.5 1065.2 1411.5 1066.4 1413.5 1067.6 1415.5 1068.8 1417.5 1070 1418.7 1070.7 1419.5 1070.9 1421.5 1071.5 1423.5 1072.2 1425.5 1072.8 1427.5 1073.4 1428.3 1073.6 1429.5 1073.7 1431.5 1074 1433.5 1074.2 1435.5 1074.4 1437.5 1074.6 1439.5 1074.9 1439.8 1074.9 1441.5 1074.3 1443.5 1073.5 1445.5 1072.8 1447.5 1072.1 1449.5 1071.4 1451.3 1070.7 1451.5 1070.6 1453.5 1069.5 1455.5 1068.5 1457.5 1067.4 1459.5 1066.3 1460 1066 1461.5 1065.2 1462.7 1064.6 1463.5 1064.5 1465.5 1064.2 1467.5 1064 1469.5 1063.7 1470 1063.6 1471.5 1063.5 1473.5 1063.2 1474.2 1063.1 1475.5 1061.7 1477.5 1059.5 1479.5 1057.2 1480 1056.7 1481.5 1055 1483.5 1052.8 1483.8 1052.5 1485.5 1051.8 1487.5 1051 1489.5 1050.1 1491.5 1049.3 1493.5 1048.5 1495.3 1047.7 1495.5 1047.6 1497.5 1046.5 1499.5 1045.5 1500 1045.2 1501.5 1044.4 1503.5 1043.4 1505 1042.6 1505.5 1042.3 1506.8 1041.6 1507.5 1041.6 1509.5 1041.7 1511.5 1041.8 1513.5 1041.9 1515.5 1042 1516.3 1042 1517.5 1042.5 1519.5 1043.3 1520 1043.5 1521.5 1044.1 1523.5 1044.8 1525.5 1045.6 1525.9 1045.8 1527.5 1043.9 1529.5 1041.5 1530 1040.9 1531.5 1039.1 1533.5 1036.7 1533.6 1036.6 1535.5 1036.8 1537.5 1036.9 1539.5 1037.1 1541.2 1037.2 1541.5 1037.6 1543.5 1040.1 1545 1041.9 1545.5 1042.6 1547.5 1045.1 1548.9 1046.8 1549.5 1047.1 1551.5 1048.1 1553.5 1049.1 1555.5 1050.1 1557.5 1051.1 1558.5 1051.6 1559.5 1052.1 1560 1052.3 1561.5 1053.1 1563.5 1054.1 1565.5 1055.1 1567.5 1056.1 1569.5 1057.1 1569.9 1057.3 1571.5 1058.4 1573.5 1059.7 1575.5 1061 1577.5 1062.4 1579.5 1063.7 1581.4 1065 1581.5 1065.1 1583.5 1066.7 1585.5 1068.2 1587.5 1069.8 1589.5 1071.4 1590 1071.8 1591 1072.6 1591.5 1072.9 1593.5 1074.3 1595.5 1075.7 1597.5 1077.1 1599.5 1078.5 1600 1078.9 1600.6 1079.3 1601.5 1079.8 1603.5 1081.1 1605.5 1082.3 1607.5 1083.5 1609.5 1084.7 1610.1 1085.1 1611.5 1085.7 1613.5 1086.6 1615.5 1087.5 1617.5 1088.3 1619.5 1089.2 1619.7 1089.3 1621.5 1089.8 1623.5 1090.5 1625.5 1091.1 1627.5 1091.7 1629.5 1092.3 1630 1092.4 1631.2 1092.8 1631.5 1092.9 1700.4 1092.9Z" fill="#a9bfca"/>
<path d="M1251 1092.9 1342.5 1092.9 1343.4 1092.8 1343.5 1091.6 1344.5 1080 1345 1074.2 1345.5 1068.4 1346.5 1056.8 1347.5 1045.3 1347.7 1043 1348.5 1003.6 1349.5 954.6 1349.7 944.8 1350.5 895.8 1351.3 847 1351.5 839.2 1352.5 800.5 1353.3 769.5 1353.5 763.9 1354.5 736 1355.5 708.2 1355.7 702.7 1356.5 698.4 1357 695.7 1357.3 694.1 1357.5 695.7 1358.5 703.8 1359.5 711.8 1360 715.8 1360.5 730.7 1361.5 760.3 1362 775.1 1362.5 786.6 1363.5 809.4 1364.5 832.1 1364.6 834.4 1365.5 852.1 1366.5 871.7 1367.5 891.1 1367.6 893.1 1368.5 906.3 1369.5 920.9 1370.5 935.4 1371.5 949.9 1371.6 951.3 1372.5 958.5 1373.5 966.5 1374.5 974.4 1375.5 982.3 1376.5 990.1 1377.5 994.8 1378.5 999.5 1379.5 1004.1 1380 1006.5 1380.5 1008.6 1381.5 1013 1382.5 1016.3 1383.5 1019.7 1384.5 1023.1 1385.5 1026.5 1386.5 1029.8 1387.4 1032.9 1387.5 1033.1 1388.5 1035 1389.5 1036.9 1390 1037.8 1390.5 1038.7 1391.5 1040.6 1392.5 1042.4 1393.5 1044.2 1394.5 1046.1 1395.5 1047.9 1396.5 1049.7 1397.5 1051.6 1398.5 1053.4 1399.5 1055.3 1399.6 1055.5 1400 1055.9 1400.5 1056.5 1401.5 1057.7 1403.5 1060 1405.5 1062.3 1407.5 1064.6 1409.1 1066.4 1409.5 1066.6 1411.5 1067.7 1413.5 1068.9 1415.5 1070 1417.5 1071.1 1418.7 1071.8 1419.5 1072 1421.5 1072.6 1423.5 1073.2 1425.5 1073.8 1427.5 1074.3 1428.3 1074.6 1429.5 1074.7 1431.5 1074.9 1433.5 1075.1 1435.5 1075.3 1437.5 1075.6 1439.5 1075.8 1439.8 1075.8 1441.5 1075.2 1443.5 1074.5 1445.5 1073.8 1447.5 1073.1 1449.5 1072.4 1451.3 1071.8 1451.5 1071.7 1453.5 1070.7 1455.5 1069.7 1457.5 1068.7 1459.5 1067.6 1460 1067.4 1461.5 1066.6 1462.7 1066 1463.5 1065.9 1465.5 1065.7 1467.5 1065.4 1469.5 1065.2 1470 1065.1 1471.5 1064.9 1473.5 1064.7 1474.2 1064.6 1475.5 1063.2 1477.5 1061.1 1479.5 1059 1480 1058.5 1481.5 1056.9 1483.5 1054.8 1483.8 1054.5 1485.5 1053.8 1487.5 1053.1 1489.5 1052.3 1491.5 1051.5 1493.5 1050.7 1495.3 1050 1495.5 1049.9 1497.5 1048.9 1499.5 1047.8 1500 1047.6 1501.5 1047 1503.5 1046.1 1505 1045.5 1505.5 1045.3 1506.8 1044.7 1507.5 1044.8 1509.5 1045.1 1511.5 1045.3 1513.5 1045.6 1515.5 1045.8 1516.3 1045.9 1517.5 1046.5 1519.5 1047.4 1520 1047.6 1521.5 1048.3 1523.5 1049.1 1525.5 1050 1525.9 1050.2 1527.5 1048.6 1529.5 1046.6 1530 1046.1 1531.5 1044.4 1533.5 1042.1 1533.6 1041.9 1535.5 1041.9 1537.5 1041.9 1539.5 1041.9 1541.2 1041.9 1541.5 1042.2 1543.5 1044.3 1545 1045.9 1545.5 1046.5 1547.5 1048.6 1548.9 1050.2 1549.5 1050.4 1551.5 1051.2 1553.5 1052 1555.5 1052.8 1557.5 1053.6 1558.5 1054 1559.5 1054.5 1560 1054.7 1561.5 1055.3 1563.5 1056.1 1565.5 1057 1567.5 1057.8 1569.5 1058.7 1569.9 1058.8 1571.5 1059.8 1573.5 1061 1575.5 1062.2 1577.5 1063.4 1579.5 1064.6 1581.4 1065.7 1581.5 1065.8 1583.5 1067.3 1585.5 1068.8 1587.5 1070.2 1589.5 1071.7 1590 1072.1 1591 1072.9 1591.5 1073.2 1593.5 1074.5 1595.5 1075.9 1597.5 1077.2 1599.5 1078.5 1600 1078.9 1600.6 1079.3 1601.5 1079.8 1603.5 1081.1 1605.5 1082.3 1607.5 1083.5 1609.5 1084.7 1610.1 1085.1 1611.5 1085.7 1613.5 1086.6 1615.5 1087.5 1617.5 1088.3 1619.5 1089.2 1619.7 1089.3 1621.5 1089.8 1623.5 1090.5 1625.5 1091.1 1627.5 1091.7 1629.5 1092.3 1630 1092.4 1631.2 1092.8 1631.5 1092.9 1700.4 1092.9Z" fill="#9ab4af"/>
<path d="M1251 1092.9 1342.5 1092.9 1343.4 1092.8 1343.5 1091.6 1344.5 1080 1345 1074.2 1345.5 1068.4 1346.5 1056.8 1347.5 1045.3 1347.7 1043 1348.5 1003.6 1349.5 954.6 1349.7 944.8 1350.5 895.8 1351.3 847 1351.5 839.2 1352.5 800.5 1353.3 769.5 1353.5 763.9 1354.5 736 1355.5 708.2 1355.7 702.7 1356.5 698.4 1357 695.7 1357.3 694.1 1357.5 695.7 1358.5 703.8 1359.5 711.8 1360 715.8 1360.5 730.7 1361.5 760.3 1362 775.1 1362.5 786.6 1363.5 809.4 1364.5 832.1 1364.6 834.4 1365.5 852.1 1366.5 871.7 1367.5 891.1 1367.6 893.1 1368.5 906.3 1369.5 920.9 1370.5 935.4 1371.5 949.9 1371.6 951.3 1372.5 958.5 1373.5 966.5 1374.5 974.4 1375.5 982.3 1376.5 990.1 1377.5 994.8 1378.5 999.5 1379.5 1004.1 1380 1006.5 1380.5 1008.6 1381.5 1013 1382.5 1016.3 1383.5 1019.7 1384.5 1023.1 1385.5 1026.5 1386.5 1029.8 1387.4 1032.9 1387.5 1033.1 1388.5 1035 1389.5 1036.9 1390 1037.8 1390.5 1038.7 1391.5 1040.6 1392.5 1042.4 1393.5 1044.2 1394.5 1046.1 1395.5 1047.9 1396.5 1049.7 1397.5 1051.6 1398.5 1053.4 1399.5 1055.3 1399.6 1055.5 1400 1055.9 1400.5 1056.5 1401.5 1057.7 1403.5 1060 1405.5 1062.3 1407.5 1064.6 1409.1 1066.4 1409.5 1066.6 1411.5 1067.7 1413.5 1068.9 1415.5 1070 1417.5 1071.1 1418.7 1071.8 1419.5 1072 1421.5 1072.6 1423.5 1073.2 1425.5 1073.8 1427.5 1074.3 1428.3 1074.6 1429.5 1074.7 1431.5 1074.9 1433.5 1075.1 1435.5 1075.3 1437.5 1075.6 1439.5 1075.8 1439.8 1075.8 1441.5 1075.2 1443.5 1074.5 1445.5 1073.8 1447.5 1073.1 1449.5 1072.4 1451.3 1071.8 1451.5 1071.7 1453.5 1070.7 1455.5 1069.7 1457.5 1068.7 1459.5 1067.6 1460 1067.4 1461.5 1066.6 1462.7 1066 1463.5 1065.9 1465.5 1065.7 1467.5 1065.4 1469.5 1065.2 1470 1065.1 1471.5 1064.9 1473.5 1064.7 1474.2 1064.6 1475.5 1063.2 1477.5 1061.1 1479.5 1059 1480 1058.5 1481.5 1056.9 1483.5 1054.8 1483.8 1054.5 1485.5 1053.8 1487.5 1053.1 1489.5 1052.3 1491.5 1051.5 1493.5 1050.7 1495.3 1050 1495.5 1049.9 1497.5 1048.9 1499.5 1047.8 1500 1047.6 1501.5 1047 1503.5 1046.1 1505 1045.5 1505.5 1045.3 1506.8 1044.7 1507.5 1044.8 1509.5 1045.1 1511.5 1045.3 1513.5 1045.6 1515.5 1045.8 1516.3 1045.9 1517.5 1046.5 1519.5 1047.4 1520 1047.6 1521.5 1048.3 1523.5 1049.1 1525.5 1050 1525.9 1050.2 1527.5 1048.6 1529.5 1046.6 1530 1046.1 1531.5 1044.4 1533.5 1042.1 1533.6 1041.9 1535.5 1041.9 1537.5 1041.9 1539.5 1041.9 1541.2 1041.9 1541.5 1042.2 1543.5 1044.3 1545 1045.9 1545.5 1046.5 1547.5 1048.6 1548.9 1050.2 1549.5 1050.4 1551.5 1051.2 1553.5 1052 1555.5 1052.8 1557.5 1053.6 1558.5 1054 1559.5 1054.5 1560 1054.7 1561.5 1055.3 1563.5 1056.1 1565.5 1057 1567.5 1057.8 1569.5 1058.7 1569.9 1058.8 1571.5 1059.8 1573.5 1061 1575.5 1062.2 1577.5 1063.4 1579.5 1064.6 1581.4 1065.7 1581.5 1065.8 1583.5 1067.3 1585.5 1068.8 1587.5 1070.2 1589.5 1071.7 1590 1072.1 1591 1072.9 1591.5 1073.2 1593.5 1074.5 1595.5 1075.9 1597.5 1077.2 1599.5 1078.5 1600 1078.9 1600.6 1079.3 1601.5 1079.8 1603.5 1081.1 1605.5 1082.3 1607.5 1083.5 1609.5 1084.7 1610.1 1085.1 1611.5 1085.7 1613.5 1086.6 1615.5 1087.5 1617.5 1088.3 1619.5 1089.2 1619.7 1089.3 1621.5 1089.8 1623.5 1090.5 1625.5 1091.1 1627.5 1091.7 1629.5 1092.3 1630 1092.4 1631.2 1092.8 1631.5 1092.9 1700.4 1092.9" fill="none" stroke="#a1857f" stroke-width="1.8" stroke-linejoin="round"/>
<path d="M1251 1092.9 1342.5 1092.9 1343.4 1092.8 1343.5 1091.6 1344.5 1080 1345 1074.2 1345.5 1068.4 1346.5 1056.7 1347.5 1045.1 1347.7 1042.8 1348.5 1003 1349.5 953.3 1349.7 943.3 1350.5 893.6 1351.3 843.8 1351.5 835.9 1352.5 796 1353.3 764 1353.5 758.2 1354.5 729 1355.5 699.9 1355.7 694.1 1356.5 689 1357 685.8 1357.3 683.9 1357.5 685.3 1358.5 692.5 1359.5 699.8 1360 703.4 1360.5 718.3 1361.5 748.1 1362 763 1362.5 774.4 1363.5 797.4 1364.5 820.4 1364.6 822.7 1365.5 840.6 1366.5 860.5 1367.5 880.4 1367.6 882.4 1368.5 895.8 1369.5 910.8 1370.5 925.7 1371.5 940.7 1371.6 942.2 1372.5 949.5 1373.5 957.6 1374.5 965.7 1375.5 973.9 1376.5 982 1377.5 986.8 1378.5 991.6 1379.5 996.4 1380 998.8 1380.5 1001.2 1381.5 1006 1382.5 1009.7 1383.5 1013.4 1384.5 1017.1 1385.5 1020.8 1386.5 1024.6 1387.4 1027.9 1387.5 1028.1 1388.5 1030.2 1389.5 1032.3 1390 1033.3 1390.5 1034.3 1391.5 1036.4 1392.5 1038.4 1393.5 1040.4 1394.5 1042.4 1395.5 1044.4 1396.5 1046.4 1397.5 1048.5 1398.5 1050.5 1399.5 1052.5 1399.6 1052.7 1400 1053.2 1400.5 1053.8 1401.5 1055.1 1403.5 1057.6 1405.5 1060.1 1407.5 1062.5 1409.1 1064.5 1409.5 1064.8 1411.5 1066 1413.5 1067.2 1415.5 1068.4 1417.5 1069.7 1418.7 1070.4 1419.5 1070.6 1421.5 1071.3 1423.5 1071.9 1425.5 1072.5 1427.5 1073.1 1428.3 1073.4 1429.5 1073.5 1431.5 1073.8 1433.5 1074 1435.5 1074.3 1437.5 1074.5 1439.5 1074.7 1439.8 1074.8 1441.5 1074.2 1443.5 1073.4 1445.5 1072.7 1447.5 1072 1449.5 1071.3 1451.3 1070.6 1451.5 1070.5 1453.5 1069.5 1455.5 1068.4 1457.5 1067.4 1459.5 1066.3 1460 1066 1461.5 1064.6 1462.7 1063.5 1463.5 1063 1465.5 1061.9 1467.5 1060.7 1469.5 1059.6 1470 1059.3 1471.5 1059.5 1473.5 1059.8 1474.2 1059.9 1475.5 1058.7 1477.5 1056.9 1479.5 1055.3 1480 1054.9 1481.5 1053.1 1483.5 1050.8 1483.8 1050.5 1485.5 1049.7 1487.5 1048.9 1489.5 1048 1491.5 1047.1 1493.5 1046.2 1495.3 1045.4 1495.5 1045.3 1497.5 1044.2 1499.5 1043.1 1500 1042.8 1501.5 1042 1503.5 1040.9 1505 1040 1505.5 1039.7 1506.8 1038.7 1507.5 1038.6 1509.5 1038.4 1511.5 1038.1 1513.5 1037.9 1515.5 1037.6 1516.3 1037.5 1517.5 1037.9 1519.5 1038.4 1520 1038.5 1521.5 1039.2 1523.5 1040.2 1525.5 1041.1 1525.9 1041.3 1527.5 1039.3 1529.5 1036.7 1530 1036.1 1531.5 1034.2 1533.5 1031.7 1533.6 1031.6 1535.5 1031.8 1537.5 1032.1 1539.5 1032.4 1541.2 1032.6 1541.5 1033 1543.5 1035.8 1545 1037.9 1545.5 1038.6 1547.5 1041.5 1548.9 1043.5 1549.5 1043.8 1551.5 1045.1 1553.5 1046.3 1555.5 1047.6 1557.5 1048.8 1558.5 1049.4 1559.5 1050 1560 1050.3 1561.5 1051 1563.5 1051.9 1565.5 1052.9 1567.5 1053.8 1569.5 1054.7 1569.9 1054.9 1571.5 1056 1573.5 1057.3 1575.5 1058.6 1577.5 1060 1579.5 1061.3 1581.4 1062.6 1581.5 1062.7 1583.5 1064.3 1585.5 1066 1587.5 1067.6 1589.5 1069.3 1590 1069.7 1591 1070.6 1591.5 1071 1593.5 1072.7 1595.5 1074.3 1597.5 1075.9 1599.5 1077.4 1600 1077.8 1600.6 1078.3 1601.5 1078.9 1603.5 1080.3 1605.5 1081.6 1607.5 1083 1609.5 1084.3 1610.1 1084.7 1611.5 1085.4 1613.5 1086.3 1615.5 1087.3 1617.5 1088.2 1619.5 1089.1 1619.7 1089.2 1621.5 1089.8 1623.5 1090.4 1625.5 1091 1627.5 1091.7 1629.5 1092.3 1630 1092.4 1631.2 1092.8 1631.5 1092.9 1700.4 1092.9" fill="none" stroke="#ec1c1c" stroke-width="2" stroke-linejoin="round"/>
<path d="M1251 1092.9 1342.5 1092.9 1343.4 1092.8 1343.5 1091.6 1344.5 1080 1345 1074.2 1345.5 1068.4 1346.5 1056.8 1347.5 1045.1 1347.7 1042.8 1348.5 1003.1 1349.5 953.5 1349.7 943.6 1350.5 894 1351.3 844.4 1351.5 836.5 1352.5 796.8 1353.3 765 1353.5 759.2 1354.5 730.3 1355.5 701.4 1355.7 695.6 1356.5 690.7 1357 687.6 1357.3 685.7 1357.5 687.2 1358.5 694.5 1359.5 701.8 1360 705.5 1360.5 720.4 1361.5 750.1 1362 765 1362.5 776.5 1363.5 799.4 1364.5 822.3 1364.6 824.6 1365.5 842.5 1366.5 862.3 1367.5 882.1 1367.6 884.1 1368.5 897.5 1369.5 912.4 1370.5 927.2 1371.5 942.1 1371.6 943.6 1372.5 950.9 1373.5 959 1374.5 967.1 1375.5 975.2 1376.5 983.3 1377.5 988.1 1378.5 992.8 1379.5 997.6 1380 1000 1380.5 1002.3 1381.5 1007.1 1382.5 1010.8 1383.5 1014.5 1384.5 1018.2 1385.5 1021.9 1386.5 1025.6 1387.4 1028.9 1387.5 1029.1 1388.5 1031.2 1389.5 1033.3 1390 1034.3 1390.5 1035.3 1391.5 1037.3 1392.5 1039.3 1393.5 1041.3 1394.5 1043.3 1395.5 1045.3 1396.5 1047.3 1397.5 1049.3 1398.5 1051.3 1399.5 1053.3 1399.6 1053.5 1400 1054 1400.5 1054.6 1401.5 1055.8 1403.5 1058.2 1405.5 1060.6 1407.5 1063.1 1409.1 1065 1409.5 1065.2 1411.5 1066.4 1413.5 1067.6 1415.5 1068.8 1417.5 1070 1418.7 1070.7 1419.5 1070.9 1421.5 1071.5 1423.5 1072.2 1425.5 1072.8 1427.5 1073.4 1428.3 1073.6 1429.5 1073.7 1431.5 1074 1433.5 1074.2 1435.5 1074.4 1437.5 1074.6 1439.5 1074.9 1439.8 1074.9 1441.5 1074.3 1443.5 1073.5 1445.5 1072.8 1447.5 1072.1 1449.5 1071.4 1451.3 1070.7 1451.5 1070.6 1453.5 1069.5 1455.5 1068.5 1457.5 1067.4 1459.5 1066.3 1460 1066 1461.5 1065.2 1462.7 1064.6 1463.5 1064.5 1465.5 1064.2 1467.5 1064 1469.5 1063.7 1470 1063.6 1471.5 1063.5 1473.5 1063.2 1474.2 1063.1 1475.5 1061.7 1477.5 1059.5 1479.5 1057.2 1480 1056.7 1481.5 1055 1483.5 1052.8 1483.8 1052.5 1485.5 1051.8 1487.5 1051 1489.5 1050.1 1491.5 1049.3 1493.5 1048.5 1495.3 1047.7 1495.5 1047.6 1497.5 1046.5 1499.5 1045.5 1500 1045.2 1501.5 1044.4 1503.5 1043.4 1505 1042.6 1505.5 1042.3 1506.8 1041.6 1507.5 1041.6 1509.5 1041.7 1511.5 1041.8 1513.5 1041.9 1515.5 1042 1516.3 1042 1517.5 1042.5 1519.5 1043.3 1520 1043.5 1521.5 1044.1 1523.5 1044.8 1525.5 1045.6 1525.9 1045.8 1527.5 1043.9 1529.5 1041.5 1530 1040.9 1531.5 1039.1 1533.5 1036.7 1533.6 1036.6 1535.5 1036.8 1537.5 1036.9 1539.5 1037.1 1541.2 1037.2 1541.5 1037.6 1543.5 1040.1 1545 1041.9 1545.5 1042.6 1547.5 1045.1 1548.9 1046.8 1549.5 1047.1 1551.5 1048.1 1553.5 1049.1 1555.5 1050.1 1557.5 1051.1 1558.5 1051.6 1559.5 1052.1 1560 1052.3 1561.5 1053.1 1563.5 1054.1 1565.5 1055.1 1567.5 1056.1 1569.5 1057.1 1569.9 1057.3 1571.5 1058.4 1573.5 1059.7 1575.5 1061 1577.5 1062.4 1579.5 1063.7 1581.4 1065 1581.5 1065.1 1583.5 1066.7 1585.5 1068.2 1587.5 1069.8 1589.5 1071.4 1590 1071.8 1591 1072.6 1591.5 1072.9 1593.5 1074.3 1595.5 1075.7 1597.5 1077.1 1599.5 1078.5 1600 1078.9 1600.6 1079.3 1601.5 1079.8 1603.5 1081.1 1605.5 1082.3 1607.5 1083.5 1609.5 1084.7 1610.1 1085.1 1611.5 1085.7 1613.5 1086.6 1615.5 1087.5 1617.5 1088.3 1619.5 1089.2 1619.7 1089.3 1621.5 1089.8 1623.5 1090.5 1625.5 1091.1 1627.5 1091.7 1629.5 1092.3 1630 1092.4 1631.2 1092.8 1631.5 1092.9 1700.4 1092.9" fill="none" stroke="#00bcef" stroke-width="2.6" stroke-linejoin="round"/>
</g>
<g stroke="#000" stroke-width="2.6" fill="none">
<line x1="1251" y1="1026.4" x2="1435.4" y2="1026.4"/>
<line x1="1435.4" y1="1049.6" x2="1699.4" y2="1049.6"/>
</g>
<g stroke="#000" stroke-width="2.7" stroke-linecap="round" fill="none">
<line x1="1251.8" y1="1017.4" x2="1251.8" y2="1035.4"/>
<line x1="1435.4" y1="1017.4" x2="1435.4" y2="1035.4"/>
<line x1="1435.4" y1="1040.6" x2="1435.4" y2="1058.6"/>
<line x1="1698.8" y1="1040.6" x2="1698.8" y2="1058.6"/>
</g>
<path d="M1251 646H1700.4V1095.8" stroke="#3a3a3a" stroke-width="1.8" fill="none"/>
<path d="M1251 646V1095.8H1700.4" stroke="#000" stroke-width="1.6" fill="none"/>
<g stroke="#000" fill="none">
<line x1="1238.7" y1="1093.7" x2="1251" y2="1093.7" stroke-width="3.2"/>
<line x1="1245.7" y1="1059.9" x2="1251" y2="1059.9" stroke-width="2"/>
<line x1="1245.7" y1="1026.1" x2="1251" y2="1026.1" stroke-width="2"/>
<line x1="1245.7" y1="992.3" x2="1251" y2="992.3" stroke-width="2"/>
<line x1="1238.7" y1="958.5" x2="1251" y2="958.5" stroke-width="3.2"/>
<line x1="1245.7" y1="924.7" x2="1251" y2="924.7" stroke-width="2"/>
<line x1="1245.7" y1="890.9" x2="1251" y2="890.9" stroke-width="2"/>
<line x1="1245.7" y1="857.1" x2="1251" y2="857.1" stroke-width="2"/>
<line x1="1238.7" y1="823.3" x2="1251" y2="823.3" stroke-width="3.2"/>
<line x1="1245.7" y1="789.5" x2="1251" y2="789.5" stroke-width="2"/>
<line x1="1245.7" y1="755.7" x2="1251" y2="755.7" stroke-width="2"/>
<line x1="1245.7" y1="721.9" x2="1251" y2="721.9" stroke-width="2"/>
<line x1="1238.7" y1="688.1" x2="1251" y2="688.1" stroke-width="3.2"/>
<line x1="1245.7" y1="654.3" x2="1251" y2="654.3" stroke-width="2"/>
</g>
<g font-family="'Liberation Sans', Arial, Helvetica, sans-serif" font-size="18" fill="#000" stroke="#000" stroke-width="0.3">
<text x="1230.6" y="1093.4" text-anchor="end">0</text>
<text x="1228.8" y="970.8" text-anchor="end">200</text>
<text x="1228.8" y="835.6" text-anchor="end">400</text>
<text x="1228.8" y="700.4" text-anchor="end">600</text>
</g>
<text transform="translate(1187.4 869.7) rotate(-90) scale(1.0 1.06)" text-anchor="middle" font-family="'Liberation Sans', Arial, Helvetica, sans-serif" font-size="21" fill="#000" stroke="#000" stroke-width="0.45">Count</text>
<g stroke="#000" fill="none">
<line x1="1272.1" y1="1095.8" x2="1272.1" y2="1108.4" stroke-width="3.5"/>
<line x1="1277.2" y1="1095.8" x2="1277.2" y2="1101.4" stroke-width="2"/>
<line x1="1282.7" y1="1095.8" x2="1282.7" y2="1101.4" stroke-width="2"/>
<line x1="1289.7" y1="1095.8" x2="1289.7" y2="1101.4" stroke-width="2"/>
<line x1="1296.4" y1="1095.8" x2="1296.4" y2="1101.4" stroke-width="2"/>
<line x1="1314.5" y1="1095.8" x2="1314.5" y2="1101.4" stroke-width="2"/>
<line x1="1323.1" y1="1095.8" x2="1323.1" y2="1101.4" stroke-width="2"/>
<line x1="1331.9" y1="1095.8" x2="1331.9" y2="1101.4" stroke-width="2"/>
<line x1="1305.7" y1="1095.8" x2="1305.7" y2="1105" stroke-width="2.5"/>
<line x1="1340.45" y1="1095.8" x2="1340.45" y2="1108.4" stroke-width="3.5"/>
<line x1="1350.55" y1="1095.8" x2="1350.55" y2="1108.4" stroke-width="3.5"/>
<line x1="1360.1" y1="1095.8" x2="1360.1" y2="1108.4" stroke-width="3.5"/>
<line x1="1345.6" y1="1095.8" x2="1345.6" y2="1105" stroke-width="2.5"/>
<line x1="1354.9" y1="1095.8" x2="1354.9" y2="1105" stroke-width="2.5"/>
<line x1="1341.46" y1="1095.8" x2="1341.46" y2="1101.4" stroke-width="2"/>
<line x1="1351.51" y1="1095.8" x2="1351.51" y2="1101.4" stroke-width="2"/>
<line x1="1342.47" y1="1095.8" x2="1342.47" y2="1101.4" stroke-width="2"/>
<line x1="1352.46" y1="1095.8" x2="1352.46" y2="1101.4" stroke-width="2"/>
<line x1="1343.48" y1="1095.8" x2="1343.48" y2="1101.4" stroke-width="2"/>
<line x1="1353.41" y1="1095.8" x2="1353.41" y2="1101.4" stroke-width="2"/>
<line x1="1344.49" y1="1095.8" x2="1344.49" y2="1101.4" stroke-width="2"/>
<line x1="1354.37" y1="1095.8" x2="1354.37" y2="1101.4" stroke-width="2"/>
<line x1="1346.51" y1="1095.8" x2="1346.51" y2="1101.4" stroke-width="2"/>
<line x1="1356.28" y1="1095.8" x2="1356.28" y2="1101.4" stroke-width="2"/>
<line x1="1347.52" y1="1095.8" x2="1347.52" y2="1101.4" stroke-width="2"/>
<line x1="1357.23" y1="1095.8" x2="1357.23" y2="1101.4" stroke-width="2"/>
<line x1="1348.53" y1="1095.8" x2="1348.53" y2="1101.4" stroke-width="2"/>
<line x1="1358.19" y1="1095.8" x2="1358.19" y2="1101.4" stroke-width="2"/>
<line x1="1349.54" y1="1095.8" x2="1349.54" y2="1101.4" stroke-width="2"/>
<line x1="1359.14" y1="1095.8" x2="1359.14" y2="1101.4" stroke-width="2"/>
<line x1="1370.4" y1="1095.8" x2="1370.4" y2="1101.4" stroke-width="2"/>
<line x1="1379.2" y1="1095.8" x2="1379.2" y2="1101.4" stroke-width="2"/>
<line x1="1388" y1="1095.8" x2="1388" y2="1101.4" stroke-width="2"/>
<line x1="1403.8" y1="1095.8" x2="1403.8" y2="1101.4" stroke-width="2"/>
<line x1="1410.8" y1="1095.8" x2="1410.8" y2="1101.4" stroke-width="2"/>
<line x1="1418.1" y1="1095.8" x2="1418.1" y2="1101.4" stroke-width="2"/>
<line x1="1424.7" y1="1095.8" x2="1424.7" y2="1101.4" stroke-width="2"/>
<line x1="1470.5" y1="1095.8" x2="1470.5" y2="1101.4" stroke-width="2"/>
<line x1="1491.9" y1="1095.8" x2="1491.9" y2="1101.4" stroke-width="2"/>
<line x1="1507.4" y1="1095.8" x2="1507.4" y2="1101.4" stroke-width="2"/>
<line x1="1528.5" y1="1095.8" x2="1528.5" y2="1101.4" stroke-width="2"/>
<line x1="1535.5" y1="1095.8" x2="1535.5" y2="1101.4" stroke-width="2"/>
<line x1="1542.5" y1="1095.8" x2="1542.5" y2="1101.4" stroke-width="2"/>
<line x1="1547.7" y1="1095.8" x2="1547.7" y2="1101.4" stroke-width="2"/>
<line x1="1584.8" y1="1095.8" x2="1584.8" y2="1101.4" stroke-width="2"/>
<line x1="1602.2" y1="1095.8" x2="1602.2" y2="1101.4" stroke-width="2"/>
<line x1="1616.3" y1="1095.8" x2="1616.3" y2="1101.4" stroke-width="2"/>
<line x1="1633.7" y1="1095.8" x2="1633.7" y2="1101.4" stroke-width="2"/>
<line x1="1640.5" y1="1095.8" x2="1640.5" y2="1101.4" stroke-width="2"/>
<line x1="1645.9" y1="1095.8" x2="1645.9" y2="1101.4" stroke-width="2"/>
<line x1="1651.3" y1="1095.8" x2="1651.3" y2="1101.4" stroke-width="2"/>
<line x1="1686.5" y1="1095.8" x2="1686.5" y2="1101.4" stroke-width="2"/>
<line x1="1396.8" y1="1095.8" x2="1396.8" y2="1105" stroke-width="2.5"/>
<line x1="1518.1" y1="1095.8" x2="1518.1" y2="1105" stroke-width="2.5"/>
<line x1="1625.1" y1="1095.8" x2="1625.1" y2="1105" stroke-width="2.5"/>
<line x1="1430.2" y1="1095.8" x2="1430.2" y2="1108.4" stroke-width="3.5"/>
<line x1="1553.1" y1="1095.8" x2="1553.1" y2="1108.4" stroke-width="3.5"/>
<line x1="1656.7" y1="1095.8" x2="1656.7" y2="1108.4" stroke-width="3.5"/>
</g>
<g font-family="'Liberation Sans', Arial, Helvetica, sans-serif" font-size="17.5" fill="#000" stroke="#000" stroke-width="0.3">
<text x="1260.4" y="1148.3">-10</text>
<text x="1286.5" y="1133.9">3</text>
<text x="1346.3" y="1148.3">0</text>
<text x="1420.4" y="1148.3">10</text>
<text x="1441.4" y="1133.9">3</text>
<text x="1542.9" y="1148.3">10</text>
<text x="1564" y="1133.9">4</text>
<text x="1646.5" y="1148.3">10</text>
<text x="1667.4" y="1133.9">5</text>
</g>
<g font-family="'Liberation Sans', Arial, Helvetica, sans-serif" font-size="21" fill="#000" stroke="#000" stroke-width="0.45">
<text transform="translate(1440 1187) scale(1 1.06)">FITC-A</text>
</g>
<g font-family="'Liberation Sans', Arial, Helvetica, sans-serif" font-size="21" fill="#000" stroke="#000" stroke-width="0.45">
<text transform="translate(1258.6 685.4) scale(1 1.06)">FITC-A-</text>
<text transform="translate(1260.4 716.9) scale(1 1.06)">56.6</text>
<text transform="translate(1655.4 685.4) scale(1 1.06)" text-anchor="end">FITC-A+</text>
<text transform="translate(1651.5 716.9) scale(1 1.06)" text-anchor="end">43.4</text>
</g>
<clipPath id="c20"><rect x="110.1" y="1228.1" width="448" height="448.6"/></clipPath>
<g clip-path="url(#c20)">
<path d="M109.5 1674 202 1674 202.4 1673.8 203 1666.8 204 1655.2 205 1643.6 206 1631.9 206.7 1623.8 207 1608.9 208 1559.3 208.7 1524.6 209 1506 210 1444 210.3 1425.4 211 1390.7 212 1341.1 212.3 1326.2 213 1307.6 214 1281 215 1254.5 215.1 1251.8 216 1258.8 217 1266.5 218 1274.3 218.3 1276.6 219 1302.2 220 1338.7 220.2 1346 221 1365.9 222 1390.7 222.6 1405.6 223 1413.5 224 1433.4 225 1453.2 225.6 1465.1 226 1470.1 227 1482.5 228 1494.9 229 1507.3 229.6 1514.7 230 1518.7 231 1528.9 232 1539 233 1549.1 234 1559.2 234.5 1564.3 235 1566.3 236 1570.2 237 1574.2 238 1578.2 239 1582.1 240 1586.1 240.5 1588.1 241 1589.7 242 1593 243 1596.2 244 1599.5 245 1602.7 245.4 1604 246 1605.9 247 1609.1 248 1612.3 249 1615.5 250 1618.7 251 1620.8 252 1622.9 253 1625.1 254 1627.2 255 1629.3 256 1631.5 257 1633.7 257.7 1635.2 258 1635.5 259 1636.4 260 1637.3 262 1639.2 264 1641.1 266 1643 267.3 1644.3 268 1644.8 270 1646.1 272 1647.4 274 1648.8 276 1650.2 277 1650.8 278 1650.9 280 1651.1 282 1651.3 284 1651.5 284.7 1651.5 286 1652.2 288 1653.3 290 1654.4 292 1655.4 292.4 1655.6 294 1655.5 296 1655.3 298 1655.2 300 1655 302 1655 304 1654.9 306 1654.9 307.8 1654.9 308 1654.8 310 1654.3 312 1653.7 314 1653.2 316 1652.7 318 1652.2 320 1651.7 322 1651.2 323.2 1650.9 324 1650.8 326 1650.5 328 1650.3 330 1650.1 332 1649.7 332.9 1649.5 334 1649.6 336 1649.7 338 1649.8 340 1650 342 1650.1 344 1650.2 346 1650.4 346.3 1650.4 348 1649.8 350 1649.2 352 1648.5 354 1647.9 356 1647.2 357.9 1646.6 358 1646.6 360 1647 362 1647.4 364 1647.8 366 1648.2 367.5 1648.5 368 1648.3 370 1647.6 372 1646.8 374 1646 376 1645.3 378 1644.5 379.1 1644.1 380 1644.5 382 1645.4 384 1646.3 386 1647.3 388 1648.2 388.7 1648.5 390 1648.6 392 1648.3 394 1648 396 1647.8 398 1647.5 398.4 1647.4 400 1648.3 402 1650 404 1651.8 406 1653.5 408 1655.1 410 1655.3 412 1655.3 414 1655.4 416 1655.4 418 1655.4 420 1655.5 421.5 1655.5 422 1655.8 424 1657.3 426 1658.7 428 1660.1 430 1661.5 432 1662.9 433 1663.6 434 1664.1 436 1665.2 438 1666.2 440 1667.2 442 1668.3 444 1669.3 444.6 1669.6 446 1670 448 1670.5 450 1671 452 1671.5 454 1672 456 1672.5 456.2 1672.6 458 1672.8 460 1673.1 462 1673.3 464 1673.5 466 1673.8 467.7 1674 558.9 1674Z" fill="#f5c4c0"/>
<path d="M109.5 1674 202 1674 202.4 1673.8 203 1666.8 204 1655.2 205 1643.6 206 1631.9 206.7 1623.8 207 1608.9 208 1559.3 208.7 1524.6 209 1506 210 1444 210.3 1425.4 211 1390.7 212 1341.1 212.3 1326.2 213 1307.6 214 1281 215 1254.5 215.1 1251.8 216 1258.8 217 1266.5 218 1274.3 218.3 1276.6 219 1302.2 220 1338.7 220.2 1346 221 1365.9 222 1390.7 222.6 1405.6 223 1413.5 224 1433.4 225 1453.2 225.6 1465.1 226 1470.1 227 1482.5 228 1494.9 229 1507.3 229.6 1514.7 230 1518.7 231 1528.9 232 1539 233 1549.1 234 1559.2 234.5 1564.3 235 1566.3 236 1570.2 237 1574.2 238 1578.2 239 1582.1 240 1586.1 240.5 1588.1 241 1589.7 242 1593 243 1596.2 244 1599.5 245 1602.7 245.4 1604 246 1605.9 247 1609.1 248 1612.3 249 1615.5 250 1618.7 251 1620.9 252 1623.2 253 1625.4 254 1627.7 255 1629.9 256 1632.2 257 1634.4 257.7 1636 258 1636.3 259 1637.3 260 1638.3 262 1640.3 264 1642.3 266 1644.3 267.3 1645.6 268 1646.1 270 1647.5 272 1648.9 274 1650.3 276 1651.7 277 1652.4 278 1652.5 280 1652.8 282 1653 284 1653.2 284.7 1653.3 286 1654 288 1655 290 1656 292 1657 292.4 1657.2 294 1657.1 296 1657 298 1656.8 300 1656.7 302 1656.6 304 1656.4 306 1656.3 307.8 1656.2 308 1656.1 310 1655.5 312 1654.9 314 1654.3 316 1653.6 318 1653 320 1652.4 322 1651.8 323.2 1651.4 324 1651.2 326 1650.9 328 1650.5 330 1650.1 332 1649.7 332.9 1649.5 334 1649.6 336 1649.7 338 1649.8 340 1650 342 1650.1 344 1650.2 346 1650.4 346.3 1650.4 348 1649.8 350 1649.2 352 1648.5 354 1647.9 356 1647.2 357.9 1646.6 358 1646.6 360 1647 362 1647.4 364 1647.8 366 1648.2 367.5 1648.5 368 1648.3 370 1647.6 372 1646.8 374 1646 376 1645.3 378 1644.5 379.1 1644.1 380 1644.5 382 1645.4 384 1646.3 386 1647.3 388 1648.2 388.7 1648.5 390 1648.6 392 1648.8 394 1649 396 1649.3 398 1649.5 398.4 1649.5 400 1650.6 402 1652 404 1653.4 406 1654.8 408 1656.2 410 1656.2 412 1656.2 414 1656.2 416 1656.2 418 1656.2 420 1656.2 421.5 1656.2 422 1656.5 424 1657.9 426 1659.2 428 1660.6 430 1661.9 432 1663.2 433 1663.9 434 1664.4 436 1665.4 438 1666.4 440 1667.4 442 1668.4 444 1669.4 444.6 1669.7 446 1670 448 1670.5 450 1671 452 1671.5 454 1672 456 1672.5 456.2 1672.6 458 1672.8 460 1673.1 462 1673.3 464 1673.5 466 1673.8 467.7 1674 558.9 1674Z" fill="#acd3d1"/>
<path d="M109.5 1674 202 1674 202.4 1673.8 203 1666.8 204 1655.3 205 1644 206 1632.8 206.7 1625.1 207 1610.8 208 1563.4 208.7 1530.7 209 1513.2 210 1455.5 210.3 1438.3 211 1406.7 212 1362 212.3 1348.8 213 1333 214 1310.8 215 1289 215.1 1286.8 216 1291.5 217 1296.6 218 1301.9 218.3 1303.5 219 1326.1 220 1358.7 220.2 1365.2 221 1382.7 222 1404.9 222.6 1419.3 223 1427 224 1446.2 225 1465.3 225.6 1476.8 226 1481.6 227 1493.6 228 1505.6 229 1517.5 229.6 1524.7 230 1528.6 231 1538.3 232 1548 233 1557.7 234 1567.3 234.5 1572.1 235 1574 236 1577.9 237 1581.7 238 1585.5 239 1589.3 240 1593.1 240.5 1595 241 1596.5 242 1599.6 243 1602.6 244 1605.6 245 1608.6 245.4 1609.9 246 1611.6 247 1614.6 248 1617.6 249 1620.5 250 1623.5 251 1625.6 252 1627.7 253 1629.7 254 1631.8 255 1633.9 256 1636 257 1638 257.7 1639.5 258 1639.8 259 1640.7 260 1641.6 262 1643.5 264 1645.3 266 1647.2 267.3 1648.4 268 1648.8 270 1650.1 272 1651.4 274 1652.7 276 1654 277 1654.7 278 1654.8 280 1655 282 1655.3 284 1655.5 284.7 1655.6 286 1656.2 288 1657.1 290 1658 292 1658.9 292.4 1659.1 294 1659.1 296 1659 298 1658.9 300 1658.8 302 1658.7 304 1658.6 306 1658.4 307.8 1658.3 308 1658.3 310 1657.7 312 1657.2 314 1656.6 316 1656.1 318 1655.5 320 1655 322 1654.4 323.2 1654.1 324 1654 326 1653.6 328 1653.3 330 1652.9 332 1652.6 332.9 1652.4 334 1652.5 336 1652.6 338 1652.7 340 1652.9 342 1653 344 1653.1 346 1653.2 346.3 1653.2 348 1652.7 350 1652.2 352 1651.6 354 1651.1 356 1650.5 357.9 1650 358 1650 360 1650.4 362 1650.8 364 1651.2 366 1651.5 367.5 1651.8 368 1651.7 370 1651 372 1650.4 374 1649.8 376 1649.2 378 1648.6 379.1 1648.2 380 1648.6 382 1649.4 384 1650.2 386 1651 388 1651.9 388.7 1652.2 390 1652.3 392 1652.5 394 1652.7 396 1652.9 398 1653.1 398.4 1653.2 400 1654.1 402 1655.2 404 1656.4 406 1657.5 408 1658.6 410 1658.6 412 1658.5 414 1658.5 416 1658.4 418 1658.3 420 1658.3 421.5 1658.2 422 1658.5 424 1659.6 426 1660.8 428 1661.9 430 1663.1 432 1664.2 433 1664.8 434 1665.2 436 1666.1 438 1667 440 1667.8 442 1668.7 444 1669.6 444.6 1669.9 446 1670.2 448 1670.7 450 1671.1 452 1671.6 454 1672.1 456 1672.6 456.2 1672.6 458 1672.8 460 1673.1 462 1673.3 464 1673.5 466 1673.8 467.7 1674 558.9 1674Z" fill="#9ab4af"/>
<path d="M109.5 1674 202 1674 202.4 1673.8 203 1666.8 204 1655.3 205 1644 206 1632.8 206.7 1625.1 207 1610.8 208 1563.4 208.7 1530.7 209 1513.2 210 1455.5 210.3 1438.3 211 1406.7 212 1362 212.3 1348.8 213 1333 214 1310.8 215 1289 215.1 1286.8 216 1291.5 217 1296.6 218 1301.9 218.3 1303.5 219 1326.1 220 1358.7 220.2 1365.2 221 1382.7 222 1404.9 222.6 1419.3 223 1427 224 1446.2 225 1465.3 225.6 1476.8 226 1481.6 227 1493.6 228 1505.6 229 1517.5 229.6 1524.7 230 1528.6 231 1538.3 232 1548 233 1557.7 234 1567.3 234.5 1572.1 235 1574 236 1577.9 237 1581.7 238 1585.5 239 1589.3 240 1593.1 240.5 1595 241 1596.5 242 1599.6 243 1602.6 244 1605.6 245 1608.6 245.4 1609.9 246 1611.6 247 1614.6 248 1617.6 249 1620.5 250 1623.5 251 1625.6 252 1627.7 253 1629.7 254 1631.8 255 1633.9 256 1636 257 1638 257.7 1639.5 258 1639.8 259 1640.7 260 1641.6 262 1643.5 264 1645.3 266 1647.2 267.3 1648.4 268 1648.8 270 1650.1 272 1651.4 274 1652.7 276 1654 277 1654.7 278 1654.8 280 1655 282 1655.3 284 1655.5 284.7 1655.6 286 1656.2 288 1657.1 290 1658 292 1658.9 292.4 1659.1 294 1659.1 296 1659 298 1658.9 300 1658.8 302 1658.7 304 1658.6 306 1658.4 307.8 1658.3 308 1658.3 310 1657.7 312 1657.2 314 1656.6 316 1656.1 318 1655.5 320 1655 322 1654.4 323.2 1654.1 324 1654 326 1653.6 328 1653.3 330 1652.9 332 1652.6 332.9 1652.4 334 1652.5 336 1652.6 338 1652.7 340 1652.9 342 1653 344 1653.1 346 1653.2 346.3 1653.2 348 1652.7 350 1652.2 352 1651.6 354 1651.1 356 1650.5 357.9 1650 358 1650 360 1650.4 362 1650.8 364 1651.2 366 1651.5 367.5 1651.8 368 1651.7 370 1651 372 1650.4 374 1649.8 376 1649.2 378 1648.6 379.1 1648.2 380 1648.6 382 1649.4 384 1650.2 386 1651 388 1651.9 388.7 1652.2 390 1652.3 392 1652.5 394 1652.7 396 1652.9 398 1653.1 398.4 1653.2 400 1654.1 402 1655.2 404 1656.4 406 1657.5 408 1658.6 410 1658.6 412 1658.5 414 1658.5 416 1658.4 418 1658.3 420 1658.3 421.5 1658.2 422 1658.5 424 1659.6 426 1660.8 428 1661.9 430 1663.1 432 1664.2 433 1664.8 434 1665.2 436 1666.1 438 1667 440 1667.8 442 1668.7 444 1669.6 444.6 1669.9 446 1670.2 448 1670.7 450 1671.1 452 1671.6 454 1672.1 456 1672.6 456.2 1672.6 458 1672.8 460 1673.1 462 1673.3 464 1673.5 466 1673.8 467.7 1674 558.9 1674" fill="none" stroke="#aaa872" stroke-width="1.8" stroke-linejoin="round"/>
<path d="M109.5 1674 202 1674 202.4 1673.8 203 1666.8 204 1655.2 205 1643.6 206 1631.9 206.7 1623.8 207 1608.9 208 1559.3 208.7 1524.6 209 1506 210 1444 210.3 1425.4 211 1390.7 212 1341.1 212.3 1326.2 213 1307.6 214 1281 215 1254.5 215.1 1251.8 216 1258.8 217 1266.5 218 1274.3 218.3 1276.6 219 1302.2 220 1338.7 220.2 1346 221 1365.9 222 1390.7 222.6 1405.6 223 1413.5 224 1433.4 225 1453.2 225.6 1465.1 226 1470.1 227 1482.5 228 1494.9 229 1507.3 229.6 1514.7 230 1518.7 231 1528.9 232 1539 233 1549.1 234 1559.2 234.5 1564.3 235 1566.3 236 1570.2 237 1574.2 238 1578.2 239 1582.1 240 1586.1 240.5 1588.1 241 1589.7 242 1593 243 1596.2 244 1599.5 245 1602.7 245.4 1604 246 1605.9 247 1609.1 248 1612.3 249 1615.5 250 1618.7 251 1620.8 252 1622.9 253 1625.1 254 1627.2 255 1629.3 256 1631.5 257 1633.7 257.7 1635.2 258 1635.5 259 1636.4 260 1637.3 262 1639.2 264 1641.1 266 1643 267.3 1644.3 268 1644.8 270 1646.1 272 1647.4 274 1648.8 276 1650.2 277 1650.8 278 1650.9 280 1651.1 282 1651.3 284 1651.5 284.7 1651.5 286 1652.2 288 1653.3 290 1654.4 292 1655.4 292.4 1655.6 294 1655.5 296 1655.3 298 1655.2 300 1655 302 1655 304 1654.9 306 1654.9 307.8 1654.9 308 1654.8 310 1654.3 312 1653.7 314 1653.2 316 1652.7 318 1652.2 320 1651.7 322 1651.2 323.2 1650.9 324 1650.8 326 1650.5 328 1650.3 330 1650.1 332 1649.7 332.9 1649.5 334 1649.6 336 1649.7 338 1649.8 340 1650 342 1650.1 344 1650.2 346 1650.4 346.3 1650.4 348 1649.8 350 1649.2 352 1648.5 354 1647.9 356 1647.2 357.9 1646.6 358 1646.6 360 1647 362 1647.4 364 1647.8 366 1648.2 367.5 1648.5 368 1648.3 370 1647.6 372 1646.8 374 1646 376 1645.3 378 1644.5 379.1 1644.1 380 1644.5 382 1645.4 384 1646.3 386 1647.3 388 1648.2 388.7 1648.5 390 1648.6 392 1648.3 394 1648 396 1647.8 398 1647.5 398.4 1647.4 400 1648.3 402 1650 404 1651.8 406 1653.5 408 1655.1 410 1655.3 412 1655.3 414 1655.4 416 1655.4 418 1655.4 420 1655.5 421.5 1655.5 422 1655.8 424 1657.3 426 1658.7 428 1660.1 430 1661.5 432 1662.9 433 1663.6 434 1664.1 436 1665.2 438 1666.2 440 1667.2 442 1668.3 444 1669.3 444.6 1669.6 446 1670 448 1670.5 450 1671 452 1671.5 454 1672 456 1672.5 456.2 1672.6 458 1672.8 460 1673.1 462 1673.3 464 1673.5 466 1673.8 467.7 1674 558.9 1674" fill="none" stroke="#ec1c1c" stroke-width="2" stroke-linejoin="round"/>
<path d="M109.5 1674 202 1674 202.4 1673.8 203 1666.8 204 1655.2 205 1643.6 206 1631.9 206.7 1623.8 207 1608.9 208 1559.3 208.7 1524.6 209 1506 210 1444 210.3 1425.4 211 1390.7 212 1341.1 212.3 1326.2 213 1307.6 214 1281 215 1254.5 215.1 1251.8 216 1258.8 217 1266.5 218 1274.3 218.3 1276.6 219 1302.2 220 1338.7 220.2 1346 221 1365.9 222 1390.7 222.6 1405.6 223 1413.5 224 1433.4 225 1453.2 225.6 1465.1 226 1470.1 227 1482.5 228 1494.9 229 1507.3 229.6 1514.7 230 1518.7 231 1528.9 232 1539 233 1549.1 234 1559.2 234.5 1564.3 235 1566.3 236 1570.2 237 1574.2 238 1578.2 239 1582.1 240 1586.1 240.5 1588.1 241 1589.7 242 1593 243 1596.2 244 1599.5 245 1602.7 245.4 1604 246 1605.9 247 1609.1 248 1612.3 249 1615.5 250 1618.7 251 1620.9 252 1623.2 253 1625.4 254 1627.7 255 1629.9 256 1632.2 257 1634.4 257.7 1636 258 1636.3 259 1637.3 260 1638.3 262 1640.3 264 1642.3 266 1644.3 267.3 1645.6 268 1646.1 270 1647.5 272 1648.9 274 1650.3 276 1651.7 277 1652.4 278 1652.5 280 1652.8 282 1653 284 1653.2 284.7 1653.3 286 1654 288 1655 290 1656 292 1657 292.4 1657.2 294 1657.1 296 1657 298 1656.8 300 1656.7 302 1656.6 304 1656.4 306 1656.3 307.8 1656.2 308 1656.1 310 1655.5 312 1654.9 314 1654.3 316 1653.6 318 1653 320 1652.4 322 1651.8 323.2 1651.4 324 1651.2 326 1650.9 328 1650.5 330 1650.1 332 1649.7 332.9 1649.5 334 1649.6 336 1649.7 338 1649.8 340 1650 342 1650.1 344 1650.2 346 1650.4 346.3 1650.4 348 1649.8 350 1649.2 352 1648.5 354 1647.9 356 1647.2 357.9 1646.6 358 1646.6 360 1647 362 1647.4 364 1647.8 366 1648.2 367.5 1648.5 368 1648.3 370 1647.6 372 1646.8 374 1646 376 1645.3 378 1644.5 379.1 1644.1 380 1644.5 382 1645.4 384 1646.3 386 1647.3 388 1648.2 388.7 1648.5 390 1648.6 392 1648.8 394 1649 396 1649.3 398 1649.5 398.4 1649.5 400 1650.6 402 1652 404 1653.4 406 1654.8 408 1656.2 410 1656.2 412 1656.2 414 1656.2 416 1656.2 418 1656.2 420 1656.2 421.5 1656.2 422 1656.5 424 1657.9 426 1659.2 428 1660.6 430 1661.9 432 1663.2 433 1663.9 434 1664.4 436 1665.4 438 1666.4 440 1667.4 442 1668.4 444 1669.4 444.6 1669.7 446 1670 448 1670.5 450 1671 452 1671.5 454 1672 456 1672.5 456.2 1672.6 458 1672.8 460 1673.1 462 1673.3 464 1673.5 466 1673.8 467.7 1674 558.9 1674" fill="none" stroke="#00bcef" stroke-width="2.6" stroke-linejoin="round"/>
</g>
<g stroke="#000" stroke-width="2.6" fill="none">
<line x1="109.5" y1="1608.2" x2="293.9" y2="1608.2"/>
<line x1="293.9" y1="1631.2" x2="557.9" y2="1631.2"/>
</g>
<g stroke="#000" stroke-width="2.7" stroke-linecap="round" fill="none">
<line x1="110.3" y1="1599.2" x2="110.3" y2="1617.2"/>
<line x1="293.9" y1="1599.2" x2="293.9" y2="1617.2"/>
<line x1="293.9" y1="1622.2" x2="293.9" y2="1640.2"/>
<line x1="557.3" y1="1622.2" x2="557.3" y2="1640.2"/>
</g>
<path d="M109.5 1227.3H558.9V1677.3" stroke="#3a3a3a" stroke-width="1.8" fill="none"/>
<path d="M109.5 1227.3V1677.3H558.9" stroke="#000" stroke-width="1.6" fill="none"/>
<g stroke="#000" fill="none">
<line x1="97.2" y1="1675.2" x2="109.5" y2="1675.2" stroke-width="3.2"/>
<line x1="104.2" y1="1651.17" x2="109.5" y2="1651.17" stroke-width="2"/>
<line x1="104.2" y1="1627.14" x2="109.5" y2="1627.14" stroke-width="2"/>
<line x1="104.2" y1="1603.11" x2="109.5" y2="1603.11" stroke-width="2"/>
<line x1="97.2" y1="1579.07" x2="109.5" y2="1579.07" stroke-width="3.2"/>
<line x1="104.2" y1="1555.04" x2="109.5" y2="1555.04" stroke-width="2"/>
<line x1="104.2" y1="1531.01" x2="109.5" y2="1531.01" stroke-width="2"/>
<line x1="104.2" y1="1506.98" x2="109.5" y2="1506.98" stroke-width="2"/>
<line x1="97.2" y1="1482.95" x2="109.5" y2="1482.95" stroke-width="3.2"/>
<line x1="104.2" y1="1458.92" x2="109.5" y2="1458.92" stroke-width="2"/>
<line x1="104.2" y1="1434.88" x2="109.5" y2="1434.88" stroke-width="2"/>
<line x1="104.2" y1="1410.85" x2="109.5" y2="1410.85" stroke-width="2"/>
<line x1="97.2" y1="1386.82" x2="109.5" y2="1386.82" stroke-width="3.2"/>
<line x1="104.2" y1="1362.79" x2="109.5" y2="1362.79" stroke-width="2"/>
<line x1="104.2" y1="1338.76" x2="109.5" y2="1338.76" stroke-width="2"/>
<line x1="104.2" y1="1314.73" x2="109.5" y2="1314.73" stroke-width="2"/>
<line x1="97.2" y1="1290.7" x2="109.5" y2="1290.7" stroke-width="3.2"/>
<line x1="104.2" y1="1266.66" x2="109.5" y2="1266.66" stroke-width="2"/>
<line x1="104.2" y1="1242.63" x2="109.5" y2="1242.63" stroke-width="2"/>
</g>
<g font-family="'Liberation Sans', Arial, Helvetica, sans-serif" font-size="18" fill="#000" stroke="#000" stroke-width="0.3">
<text x="89.1" y="1674.9" text-anchor="end">0</text>
<text x="87.3" y="1591.37" text-anchor="end">200</text>
<text x="87.3" y="1495.25" text-anchor="end">400</text>
<text x="87.3" y="1399.12" text-anchor="end">600</text>
<text x="87.3" y="1303" text-anchor="end">800</text>
</g>
<text transform="translate(45.9 1451.1) rotate(-90) scale(1.0 1.06)" text-anchor="middle" font-family="'Liberation Sans', Arial, Helvetica, sans-serif" font-size="21" fill="#000" stroke="#000" stroke-width="0.45">Count</text>
<g stroke="#000" fill="none">
<line x1="130.6" y1="1677.3" x2="130.6" y2="1689.9" stroke-width="3.5"/>
<line x1="135.7" y1="1677.3" x2="135.7" y2="1682.9" stroke-width="2"/>
<line x1="141.2" y1="1677.3" x2="141.2" y2="1682.9" stroke-width="2"/>
<line x1="148.2" y1="1677.3" x2="148.2" y2="1682.9" stroke-width="2"/>
<line x1="154.9" y1="1677.3" x2="154.9" y2="1682.9" stroke-width="2"/>
<line x1="173" y1="1677.3" x2="173" y2="1682.9" stroke-width="2"/>
<line x1="181.6" y1="1677.3" x2="181.6" y2="1682.9" stroke-width="2"/>
<line x1="190.4" y1="1677.3" x2="190.4" y2="1682.9" stroke-width="2"/>
<line x1="164.2" y1="1677.3" x2="164.2" y2="1686.5" stroke-width="2.5"/>
<line x1="198.95" y1="1677.3" x2="198.95" y2="1689.9" stroke-width="3.5"/>
<line x1="209.05" y1="1677.3" x2="209.05" y2="1689.9" stroke-width="3.5"/>
<line x1="218.6" y1="1677.3" x2="218.6" y2="1689.9" stroke-width="3.5"/>
<line x1="204.1" y1="1677.3" x2="204.1" y2="1686.5" stroke-width="2.5"/>
<line x1="213.4" y1="1677.3" x2="213.4" y2="1686.5" stroke-width="2.5"/>
<line x1="199.96" y1="1677.3" x2="199.96" y2="1682.9" stroke-width="2"/>
<line x1="210" y1="1677.3" x2="210" y2="1682.9" stroke-width="2"/>
<line x1="200.97" y1="1677.3" x2="200.97" y2="1682.9" stroke-width="2"/>
<line x1="210.96" y1="1677.3" x2="210.96" y2="1682.9" stroke-width="2"/>
<line x1="201.98" y1="1677.3" x2="201.98" y2="1682.9" stroke-width="2"/>
<line x1="211.91" y1="1677.3" x2="211.91" y2="1682.9" stroke-width="2"/>
<line x1="202.99" y1="1677.3" x2="202.99" y2="1682.9" stroke-width="2"/>
<line x1="212.87" y1="1677.3" x2="212.87" y2="1682.9" stroke-width="2"/>
<line x1="205.01" y1="1677.3" x2="205.01" y2="1682.9" stroke-width="2"/>
<line x1="214.78" y1="1677.3" x2="214.78" y2="1682.9" stroke-width="2"/>
<line x1="206.02" y1="1677.3" x2="206.02" y2="1682.9" stroke-width="2"/>
<line x1="215.74" y1="1677.3" x2="215.74" y2="1682.9" stroke-width="2"/>
<line x1="207.03" y1="1677.3" x2="207.03" y2="1682.9" stroke-width="2"/>
<line x1="216.69" y1="1677.3" x2="216.69" y2="1682.9" stroke-width="2"/>
<line x1="208.04" y1="1677.3" x2="208.04" y2="1682.9" stroke-width="2"/>
<line x1="217.64" y1="1677.3" x2="217.64" y2="1682.9" stroke-width="2"/>
<line x1="228.9" y1="1677.3" x2="228.9" y2="1682.9" stroke-width="2"/>
<line x1="237.7" y1="1677.3" x2="237.7" y2="1682.9" stroke-width="2"/>
<line x1="246.5" y1="1677.3" x2="246.5" y2="1682.9" stroke-width="2"/>
<line x1="262.3" y1="1677.3" x2="262.3" y2="1682.9" stroke-width="2"/>
<line x1="269.3" y1="1677.3" x2="269.3" y2="1682.9" stroke-width="2"/>
<line x1="276.6" y1="1677.3" x2="276.6" y2="1682.9" stroke-width="2"/>
<line x1="283.2" y1="1677.3" x2="283.2" y2="1682.9" stroke-width="2"/>
<line x1="329" y1="1677.3" x2="329" y2="1682.9" stroke-width="2"/>
<line x1="350.4" y1="1677.3" x2="350.4" y2="1682.9" stroke-width="2"/>
<line x1="365.9" y1="1677.3" x2="365.9" y2="1682.9" stroke-width="2"/>
<line x1="387" y1="1677.3" x2="387" y2="1682.9" stroke-width="2"/>
<line x1="394" y1="1677.3" x2="394" y2="1682.9" stroke-width="2"/>
<line x1="401" y1="1677.3" x2="401" y2="1682.9" stroke-width="2"/>
<line x1="406.2" y1="1677.3" x2="406.2" y2="1682.9" stroke-width="2"/>
<line x1="443.3" y1="1677.3" x2="443.3" y2="1682.9" stroke-width="2"/>
<line x1="460.7" y1="1677.3" x2="460.7" y2="1682.9" stroke-width="2"/>
<line x1="474.8" y1="1677.3" x2="474.8" y2="1682.9" stroke-width="2"/>
<line x1="492.2" y1="1677.3" x2="492.2" y2="1682.9" stroke-width="2"/>
<line x1="499" y1="1677.3" x2="499" y2="1682.9" stroke-width="2"/>
<line x1="504.4" y1="1677.3" x2="504.4" y2="1682.9" stroke-width="2"/>
<line x1="509.8" y1="1677.3" x2="509.8" y2="1682.9" stroke-width="2"/>
<line x1="545" y1="1677.3" x2="545" y2="1682.9" stroke-width="2"/>
<line x1="255.3" y1="1677.3" x2="255.3" y2="1686.5" stroke-width="2.5"/>
<line x1="376.6" y1="1677.3" x2="376.6" y2="1686.5" stroke-width="2.5"/>
<line x1="483.6" y1="1677.3" x2="483.6" y2="1686.5" stroke-width="2.5"/>
<line x1="288.7" y1="1677.3" x2="288.7" y2="1689.9" stroke-width="3.5"/>
<line x1="411.6" y1="1677.3" x2="411.6" y2="1689.9" stroke-width="3.5"/>
<line x1="515.2" y1="1677.3" x2="515.2" y2="1689.9" stroke-width="3.5"/>
</g>
<g font-family="'Liberation Sans', Arial, Helvetica, sans-serif" font-size="17.5" fill="#000" stroke="#000" stroke-width="0.3">
<text x="118.9" y="1729.8">-10</text>
<text x="145" y="1715.4">3</text>
<text x="204.8" y="1729.8">0</text>
<text x="278.9" y="1729.8">10</text>
<text x="299.9" y="1715.4">3</text>
<text x="401.4" y="1729.8">10</text>
<text x="422.5" y="1715.4">4</text>
<text x="505" y="1729.8">10</text>
<text x="525.9" y="1715.4">5</text>
</g>
<g font-family="'Liberation Sans', Arial, Helvetica, sans-serif" font-size="21" fill="#000" stroke="#000" stroke-width="0.45">
<text transform="translate(298.5 1768.5) scale(1 1.06)">FITC-A</text>
</g>
<g font-family="'Liberation Sans', Arial, Helvetica, sans-serif" font-size="21" fill="#000" stroke="#000" stroke-width="0.45">
<text transform="translate(117.1 1266.7) scale(1 1.06)">FITC-A-</text>
<text transform="translate(118.9 1298.2) scale(1 1.06)">72.1</text>
<text transform="translate(513.9 1266.7) scale(1 1.06)" text-anchor="end">FITC-A+</text>
<text transform="translate(510 1298.2) scale(1 1.06)" text-anchor="end">27.9</text>
</g>
<clipPath id="c21"><rect x="681" y="1228.1" width="448" height="448.6"/></clipPath>
<g clip-path="url(#c21)">
<path d="M680.4 1674 771.9 1674 772.8 1673.9 772.9 1673.4 773 1674 773.9 1662.7 774.9 1650.1 775 1648.9 775.5 1642.6 775.9 1637.5 776.3 1632.5 776.5 1630 776.9 1610 777.7 1570 777.9 1560 778.3 1540 778.5 1530 778.9 1510 779.7 1470 779.9 1460 780.3 1440 780.5 1430 780.9 1417.2 781.7 1391.6 781.9 1385.2 782.8 1356.4 782.9 1353.2 783 1350 783.9 1327.5 784 1325 784.3 1317.5 784.9 1302.5 785 1300 785.9 1286.5 786.6 1276 786.7 1276 786.9 1276.1 787.9 1276.4 788 1276.4 788.3 1276.5 788.4 1276.5 788.9 1283.8 789.7 1295.6 789.9 1298.5 790 1300 790.8 1326.6 790.9 1329.9 791.9 1363.2 792 1366.5 792.1 1369.8 792.5 1375.1 792.9 1380.4 793.9 1393.8 794.9 1407.1 795.2 1411.1 795.9 1420.4 796.5 1428.4 796.9 1433.7 797.6 1443 797.9 1446.2 798.5 1452.7 798.9 1457 799.9 1467.8 800 1468.8 800.9 1478.5 801.6 1486.1 801.9 1489.3 802.9 1500.1 803.2 1503.3 803.9 1510.8 804.4 1516.2 804.9 1520.5 805 1521.3 805.9 1529.1 806.9 1537.6 807.9 1546.2 808 1547.1 808.9 1554.8 809.6 1560.8 809.9 1563.4 810.8 1571.1 810.9 1571.7 811 1572.2 811.9 1577.4 812.9 1583.1 813.9 1588.8 814.4 1591.7 814.9 1594.5 815 1595.1 815.8 1599.7 815.9 1600.3 816.9 1606 817.2 1607.7 817.9 1609.6 818.9 1612.3 819 1612.6 819.9 1615.1 820.9 1617.8 821.9 1620.5 822.9 1623.3 823.9 1626 824.9 1628.7 825.4 1630.1 825.9 1631.5 826 1631.7 826.9 1634.2 827.2 1635 827.9 1635.1 828.9 1636.7 829.9 1638.3 830 1638.5 830.9 1639.9 831 1640 832.9 1641.2 834.9 1642.4 836.9 1643.7 838.2 1644.6 838.9 1644.8 840.9 1645.4 842.9 1646 844.9 1646.6 846.9 1647.3 847 1647.3 848.9 1647 850 1646.9 850.9 1646.9 852.9 1646.9 854.9 1646.9 856.9 1646.9 858.5 1646.9 858.9 1647.1 860 1647.5 860.9 1647.9 862.9 1648.8 864.9 1649.7 866.9 1650.5 868.2 1651.1 868.9 1650.5 870 1649.6 870.9 1648.9 872.9 1647.3 874.9 1645.8 876.9 1644.2 878.9 1642.6 880.9 1641.1 882.9 1639.6 883.6 1639 884.9 1640.2 886.9 1641.9 888.9 1643.6 890.9 1645.3 892.9 1647.1 894.9 1648.8 895.1 1648.9 896.9 1648.2 898.9 1647.5 900 1647 900.9 1646.7 902.9 1645.9 904.8 1645.2 904.9 1645.2 906.9 1645 908.9 1644.9 910.9 1644.7 912.9 1644.6 914.9 1644.4 916.3 1644.3 916.9 1644.3 918.9 1644.1 920.9 1644 922.9 1643.8 924.9 1643.6 926.9 1643.5 927.9 1643.4 928.9 1643.2 930 1643 930.9 1642.8 932.9 1642.4 934.9 1641.9 936.9 1641.5 938.9 1641.1 939.5 1640.9 940.9 1640.9 942.9 1640.9 944.9 1640.9 946.9 1640.9 948.9 1640.9 950 1640.9 950.9 1640.9 951 1640.9 952.9 1642 954.9 1643.1 955 1643.2 956.9 1644.4 958.9 1645.8 960.9 1647.1 962.6 1648.2 962.9 1648.2 964.9 1648.9 966.9 1649.5 968.9 1650.1 970.9 1650.7 972.9 1651.3 974.1 1651.7 974.9 1651.8 975 1651.9 976.9 1652.2 978.9 1652.6 980.9 1653 982.9 1653.4 983.8 1653.6 984.9 1654.4 986.9 1655.9 988.9 1657.4 990.9 1658.8 992.9 1660.2 993.4 1660.6 994.9 1661.2 996.9 1662.1 998.9 1662.9 1000 1663.4 1000.9 1663.8 1002.9 1664.6 1004.9 1665.4 1005 1665.5 1006.9 1666.3 1008.9 1667.2 1010.9 1668.1 1012.9 1669 1014.9 1669.8 1016.5 1670.5 1016.9 1670.6 1018.9 1671.1 1020.9 1671.7 1022.9 1672.2 1024.9 1672.7 1026.9 1673.2 1028.9 1673.7 1030 1674 1129.8 1674Z" fill="#f5c4c0"/>
<path d="M680.4 1674 771.9 1674 772.8 1673.9 772.9 1673.4 773 1674 773.9 1662 774.9 1648.7 775 1647.3 775.5 1640.7 775.9 1635.3 776.3 1630 776.5 1620 776.9 1600 777.7 1560 777.9 1550 778.3 1530 778.5 1520 778.9 1500 779.7 1460 779.9 1450 780.3 1430 780.5 1423.6 780.9 1410.8 781.7 1385.2 781.9 1378.8 782.8 1350 782.9 1347.5 783 1345 783.9 1322.5 784 1320 784.3 1312.5 784.9 1297.5 785 1295 785.9 1283.4 786.6 1274.3 786.7 1275.1 786.9 1276.6 787.9 1284.2 788 1285 788.3 1294.1 788.4 1297.1 788.9 1312.3 789.7 1336.5 789.9 1342.5 790 1345.6 790.8 1369.8 790.9 1371.1 791.9 1383.9 792 1385.2 792.1 1386.5 792.5 1391.6 792.9 1396.8 793.9 1409.6 794.9 1422.5 795.2 1426.3 795.9 1435.3 796.5 1443 796.9 1447.4 797.6 1455 797.9 1458.3 798.5 1464.9 798.9 1469.2 799.9 1480.1 800 1481.2 800.9 1491.1 801.6 1498.7 801.9 1502 802.9 1512.9 803.2 1516.2 803.9 1522.2 804.4 1526.5 804.9 1530.8 805 1531.6 805.9 1539.4 806.9 1547.9 807.9 1556.5 808 1557.4 808.9 1565.1 809.6 1571.1 809.9 1572.9 810.8 1578.2 810.9 1578.8 811 1579.4 811.9 1584.7 812.9 1590.6 813.9 1596.5 814.4 1599.4 814.9 1602.4 815 1603 815.8 1607.7 815.9 1608 816.9 1611 817.2 1611.9 817.9 1613.9 818.9 1616.9 819 1617.2 819.9 1619.9 820.9 1622.8 821.9 1625.8 822.9 1628.8 823.9 1631.8 824.9 1634.7 825.4 1636.2 825.9 1637.7 826 1638 826.9 1639.5 827.2 1639.9 827.9 1640.9 828.9 1642.4 829.9 1643.8 830 1643.9 830.9 1645.2 831 1645.4 832.9 1646.6 834.9 1647.8 836.9 1649.1 838.2 1649.9 838.9 1650.2 840.9 1650.8 842.9 1651.5 844.9 1652.2 846.9 1652.9 847 1652.9 848.9 1652.8 850 1652.8 850.9 1652.8 852.9 1652.7 854.9 1652.7 856.9 1652.6 858.5 1652.5 858.9 1652.7 860 1653 860.9 1653.3 862.9 1654 864.9 1654.7 866.9 1655.4 868.2 1655.8 868.9 1655.4 870 1654.7 870.9 1654.1 872.9 1652.8 874.9 1651.5 876.9 1650.2 878.9 1648.9 880.9 1647.6 882.9 1646.3 883.6 1645.8 884.9 1646.7 886.9 1648 888.9 1649.4 890.9 1650.7 892.9 1652.1 894.9 1653.4 895.1 1653.5 896.9 1652.9 898.9 1652.2 900 1651.8 900.9 1651.6 902.9 1650.9 904.8 1650.3 904.9 1650.3 906.9 1650.1 908.9 1650 910.9 1649.9 912.9 1649.7 914.9 1649.6 916.3 1649.5 916.9 1649.5 918.9 1649.3 920.9 1649.2 922.9 1649 924.9 1648.9 926.9 1648.7 927.9 1648.6 928.9 1648.5 930 1648.3 930.9 1648.2 932.9 1647.8 934.9 1647.5 936.9 1647.2 938.9 1646.9 939.5 1646.8 940.9 1646.8 942.9 1646.9 944.9 1646.9 946.9 1647 948.9 1647 950 1647 950.9 1647.1 951 1647.1 952.9 1648.1 954.9 1649 955 1649.1 956.9 1650 958.9 1651 960.9 1652 962.6 1652.8 962.9 1652.9 964.9 1653.3 966.9 1653.8 968.9 1654.2 970.9 1654.6 972.9 1655 974.1 1655.3 974.9 1655.4 975 1655.4 976.9 1655.7 978.9 1656 980.9 1656.2 982.9 1656.5 983.8 1656.7 984.9 1657.3 986.9 1658.5 988.9 1659.8 990.9 1661 992.9 1662.2 993.4 1662.4 994.9 1663 996.9 1663.7 998.9 1664.4 1000 1664.8 1000.9 1665.1 1002.9 1665.7 1004.9 1666.4 1005 1666.4 1006.9 1667.1 1008.9 1667.9 1010.9 1668.6 1012.9 1669.4 1014.9 1670.1 1016.5 1670.7 1016.9 1670.8 1018.9 1671.3 1020.9 1671.8 1022.9 1672.3 1024.9 1672.8 1026.9 1673.2 1028.9 1673.7 1030 1674 1129.8 1674Z" fill="#f5a98c"/>
<path d="M680.4 1674 771.9 1674 772.8 1673.9 772.9 1673.4 773 1672.9 773.9 1668.2 774.9 1663.1 775 1662.6 775.5 1660 775.9 1653.4 776.3 1646.8 776.5 1643.5 776.9 1637 777.7 1623.8 777.9 1613.9 778.3 1594 778.5 1584.1 778.9 1564.3 779.7 1524.6 779.9 1514.7 780.3 1494.8 780.5 1484.9 780.9 1465.1 781.7 1425.4 781.9 1419.3 782.8 1391.8 782.9 1388.8 783 1385.7 783.9 1358.2 784 1355.2 784.3 1346 784.9 1342.4 785 1341.8 785.9 1336.5 786.6 1332.3 786.7 1333.5 786.9 1335.9 787.9 1348 788 1349.2 788.3 1352.9 788.4 1354.1 788.9 1360.1 789.7 1369.8 789.9 1372.3 790 1373.6 790.8 1383.6 790.9 1384.9 791.9 1397.5 792 1398.7 792.1 1400 792.5 1405 792.9 1410.6 793.9 1424.7 794.9 1438.8 795.2 1443 795.9 1450.8 796.5 1457.6 796.9 1462.1 797.6 1469.9 797.9 1473.3 798.5 1480 798.9 1484.7 799.9 1496.3 800 1497.5 800.9 1508 801.6 1516.2 801.9 1519 802.9 1528.4 803.2 1531.2 803.9 1537.7 804.4 1542.4 804.9 1547.1 805 1548 805.9 1554.9 806.9 1562.6 807.9 1570.3 808 1571.1 808.9 1576.8 809.6 1581.2 809.9 1583.1 810.8 1588.7 810.9 1589.4 811 1590 811.9 1594.7 812.9 1599.9 813.9 1605.1 814.4 1607.7 814.9 1609.6 815 1610 815.8 1613 815.9 1613.3 816.9 1617.1 817.2 1618.2 817.9 1620.9 818.9 1624.6 819 1625 819.9 1627.2 820.9 1629.6 821.9 1632.1 822.9 1634.5 823.9 1636.9 824.9 1639.4 825.4 1640.6 825.9 1641.3 826 1641.4 826.9 1642.6 827.2 1643 827.9 1643.9 828.9 1645.2 829.9 1646.5 830 1646.7 830.9 1647.9 831 1648 832.9 1649.2 834.9 1650.4 836.9 1651.6 838.2 1652.4 838.9 1652.6 840.9 1653.3 842.9 1653.9 844.9 1654.6 846.9 1655.3 847 1655.3 848.9 1655.3 850 1655.3 850.9 1655.3 852.9 1655.3 854.9 1655.3 856.9 1655.3 858.5 1655.3 858.9 1655.4 860 1655.7 860.9 1656 862.9 1656.6 864.9 1657.2 866.9 1657.8 868.2 1658.2 868.9 1657.8 870 1657.2 870.9 1656.7 872.9 1655.5 874.9 1654.4 876.9 1653.3 878.9 1652.2 880.9 1651 882.9 1649.9 883.6 1649.5 884.9 1650.3 886.9 1651.4 888.9 1652.6 890.9 1653.8 892.9 1654.9 894.9 1656.1 895.1 1656.2 896.9 1655.7 898.9 1655.1 900 1654.7 900.9 1654.5 902.9 1653.9 904.8 1653.3 904.9 1653.3 906.9 1653.1 908.9 1653 910.9 1652.8 912.9 1652.7 914.9 1652.5 916.3 1652.4 916.9 1652.3 918.9 1652.2 920.9 1652 922.9 1651.8 924.9 1651.7 926.9 1651.5 927.9 1651.4 928.9 1651.2 930 1651.1 930.9 1650.9 932.9 1650.6 934.9 1650.3 936.9 1649.9 938.9 1649.6 939.5 1649.5 940.9 1649.5 942.9 1649.5 944.9 1649.5 946.9 1649.5 948.9 1649.5 950 1649.5 950.9 1649.5 951 1649.5 952.9 1650.3 954.9 1651.1 955 1651.2 956.9 1651.9 958.9 1652.8 960.9 1653.6 962.6 1654.3 962.9 1654.3 964.9 1654.7 966.9 1655 968.9 1655.3 970.9 1655.7 972.9 1656 974.1 1656.2 974.9 1656.3 975 1656.3 976.9 1656.5 978.9 1656.7 980.9 1656.9 982.9 1657.1 983.8 1657.2 984.9 1657.8 986.9 1658.9 988.9 1660.1 990.9 1661.2 992.9 1662.3 993.4 1662.6 994.9 1663.1 996.9 1663.7 998.9 1664.4 1000 1664.8 1000.9 1665.1 1002.9 1665.7 1004.9 1666.4 1005 1666.4 1006.9 1667.1 1008.9 1667.9 1010.9 1668.6 1012.9 1669.4 1014.9 1670.1 1016.5 1670.7 1016.9 1670.8 1018.9 1671.3 1020.9 1671.8 1022.9 1672.3 1024.9 1672.8 1026.9 1673.2 1028.9 1673.7 1030 1674 1129.8 1674Z" fill="#9ab4af"/>
<path d="M680.4 1674 771.9 1674 772.8 1673.9 772.9 1673.4 773 1674 773.9 1662.7 774.9 1650.1 775 1648.9 775.5 1642.6 775.9 1637.5 776.3 1632.5 776.5 1630 776.9 1610 777.7 1570 777.9 1560 778.3 1540 778.5 1530 778.9 1510 779.7 1470 779.9 1460 780.3 1440 780.5 1430 780.9 1417.2 781.7 1391.6 781.9 1385.2 782.8 1356.4 782.9 1353.2 783 1350 783.9 1327.5 784 1325 784.3 1317.5 784.9 1302.5 785 1300 785.9 1286.5 786.6 1276 786.7 1276 786.9 1276.1 787.9 1276.4 788 1276.4 788.3 1276.5 788.4 1276.5 788.9 1283.8 789.7 1295.6 789.9 1298.5 790 1300 790.8 1326.6 790.9 1329.9 791.9 1363.2 792 1366.5 792.1 1369.8 792.5 1375.1 792.9 1380.4 793.9 1393.8 794.9 1407.1 795.2 1411.1 795.9 1420.4 796.5 1428.4 796.9 1433.7 797.6 1443 797.9 1446.2 798.5 1452.7 798.9 1457 799.9 1467.8 800 1468.8 800.9 1478.5 801.6 1486.1 801.9 1489.3 802.9 1500.1 803.2 1503.3 803.9 1510.8 804.4 1516.2 804.9 1520.5 805 1521.3 805.9 1529.1 806.9 1537.6 807.9 1546.2 808 1547.1 808.9 1554.8 809.6 1560.8 809.9 1563.4 810.8 1571.1 810.9 1571.7 811 1572.2 811.9 1577.4 812.9 1583.1 813.9 1588.8 814.4 1591.7 814.9 1594.5 815 1595.1 815.8 1599.7 815.9 1600.3 816.9 1606 817.2 1607.7 817.9 1609.6 818.9 1612.3 819 1612.6 819.9 1615.1 820.9 1617.8 821.9 1620.5 822.9 1623.3 823.9 1626 824.9 1628.7 825.4 1630.1 825.9 1631.5 826 1631.7 826.9 1634.2 827.2 1635 827.9 1635.1 828.9 1636.7 829.9 1638.3 830 1638.5 830.9 1639.9 831 1640 832.9 1641.2 834.9 1642.4 836.9 1643.7 838.2 1644.6 838.9 1644.8 840.9 1645.4 842.9 1646 844.9 1646.6 846.9 1647.3 847 1647.3 848.9 1647 850 1646.9 850.9 1646.9 852.9 1646.9 854.9 1646.9 856.9 1646.9 858.5 1646.9 858.9 1647.1 860 1647.5 860.9 1647.9 862.9 1648.8 864.9 1649.7 866.9 1650.5 868.2 1651.1 868.9 1650.5 870 1649.6 870.9 1648.9 872.9 1647.3 874.9 1645.8 876.9 1644.2 878.9 1642.6 880.9 1641.1 882.9 1639.6 883.6 1639 884.9 1640.2 886.9 1641.9 888.9 1643.6 890.9 1645.3 892.9 1647.1 894.9 1648.8 895.1 1648.9 896.9 1648.2 898.9 1647.5 900 1647 900.9 1646.7 902.9 1645.9 904.8 1645.2 904.9 1645.2 906.9 1645 908.9 1644.9 910.9 1644.7 912.9 1644.6 914.9 1644.4 916.3 1644.3 916.9 1644.3 918.9 1644.1 920.9 1644 922.9 1643.8 924.9 1643.6 926.9 1643.5 927.9 1643.4 928.9 1643.2 930 1643 930.9 1642.8 932.9 1642.4 934.9 1641.9 936.9 1641.5 938.9 1641.1 939.5 1640.9 940.9 1640.9 942.9 1640.9 944.9 1640.9 946.9 1640.9 948.9 1640.9 950 1640.9 950.9 1640.9 951 1640.9 952.9 1642 954.9 1643.1 955 1643.2 956.9 1644.4 958.9 1645.8 960.9 1647.1 962.6 1648.2 962.9 1648.2 964.9 1648.9 966.9 1649.5 968.9 1650.1 970.9 1650.7 972.9 1651.3 974.1 1651.7 974.9 1651.8 975 1651.9 976.9 1652.2 978.9 1652.6 980.9 1653 982.9 1653.4 983.8 1653.6 984.9 1654.4 986.9 1655.9 988.9 1657.4 990.9 1658.8 992.9 1660.2 993.4 1660.6 994.9 1661.2 996.9 1662.1 998.9 1662.9 1000 1663.4 1000.9 1663.8 1002.9 1664.6 1004.9 1665.4 1005 1665.5 1006.9 1666.3 1008.9 1667.2 1010.9 1668.1 1012.9 1669 1014.9 1669.8 1016.5 1670.5 1016.9 1670.6 1018.9 1671.1 1020.9 1671.7 1022.9 1672.2 1024.9 1672.7 1026.9 1673.2 1028.9 1673.7 1030 1674 1129.8 1674" fill="none" stroke="#ec1c1c" stroke-width="2" stroke-linejoin="round"/>
<path d="M680.4 1674 771.9 1674 772.8 1673.9 772.9 1673.4 773 1674 773.9 1662 774.9 1648.7 775 1647.3 775.5 1640.7 775.9 1635.3 776.3 1630 776.5 1620 776.9 1600 777.7 1560 777.9 1550 778.3 1530 778.5 1520 778.9 1500 779.7 1460 779.9 1450 780.3 1430 780.5 1423.6 780.9 1410.8 781.7 1385.2 781.9 1378.8 782.8 1350 782.9 1347.5 783 1345 783.9 1322.5 784 1320 784.3 1312.5 784.9 1297.5 785 1295 785.9 1283.4 786.6 1274.3 786.7 1275.1 786.9 1276.6 787.9 1284.2 788 1285 788.3 1294.1 788.4 1297.1 788.9 1312.3 789.7 1336.5 789.9 1342.5 790 1345.6 790.8 1369.8 790.9 1371.1 791.9 1383.9 792 1385.2 792.1 1386.5 792.5 1391.6 792.9 1396.8 793.9 1409.6 794.9 1422.5 795.2 1426.3 795.9 1435.3 796.5 1443 796.9 1447.4 797.6 1455 797.9 1458.3 798.5 1464.9 798.9 1469.2 799.9 1480.1 800 1481.2 800.9 1491.1 801.6 1498.7 801.9 1502 802.9 1512.9 803.2 1516.2 803.9 1522.2 804.4 1526.5 804.9 1530.8 805 1531.6 805.9 1539.4 806.9 1547.9 807.9 1556.5 808 1557.4 808.9 1565.1 809.6 1571.1 809.9 1572.9 810.8 1578.2 810.9 1578.8 811 1579.4 811.9 1584.7 812.9 1590.6 813.9 1596.5 814.4 1599.4 814.9 1602.4 815 1603 815.8 1607.7 815.9 1608 816.9 1611 817.2 1611.9 817.9 1613.9 818.9 1616.9 819 1617.2 819.9 1619.9 820.9 1622.8 821.9 1625.8 822.9 1628.8 823.9 1631.8 824.9 1634.7 825.4 1636.2 825.9 1637.7 826 1638 826.9 1639.5 827.2 1639.9 827.9 1640.9 828.9 1642.4 829.9 1643.8 830 1643.9 830.9 1645.2 831 1645.4 832.9 1646.6 834.9 1647.8 836.9 1649.1 838.2 1649.9 838.9 1650.2 840.9 1650.8 842.9 1651.5 844.9 1652.2 846.9 1652.9 847 1652.9 848.9 1652.8 850 1652.8 850.9 1652.8 852.9 1652.7 854.9 1652.7 856.9 1652.6 858.5 1652.5 858.9 1652.7 860 1653 860.9 1653.3 862.9 1654 864.9 1654.7 866.9 1655.4 868.2 1655.8 868.9 1655.4 870 1654.7 870.9 1654.1 872.9 1652.8 874.9 1651.5 876.9 1650.2 878.9 1648.9 880.9 1647.6 882.9 1646.3 883.6 1645.8 884.9 1646.7 886.9 1648 888.9 1649.4 890.9 1650.7 892.9 1652.1 894.9 1653.4 895.1 1653.5 896.9 1652.9 898.9 1652.2 900 1651.8 900.9 1651.6 902.9 1650.9 904.8 1650.3 904.9 1650.3 906.9 1650.1 908.9 1650 910.9 1649.9 912.9 1649.7 914.9 1649.6 916.3 1649.5 916.9 1649.5 918.9 1649.3 920.9 1649.2 922.9 1649 924.9 1648.9 926.9 1648.7 927.9 1648.6 928.9 1648.5 930 1648.3 930.9 1648.2 932.9 1647.8 934.9 1647.5 936.9 1647.2 938.9 1646.9 939.5 1646.8 940.9 1646.8 942.9 1646.9 944.9 1646.9 946.9 1647 948.9 1647 950 1647 950.9 1647.1 951 1647.1 952.9 1648.1 954.9 1649 955 1649.1 956.9 1650 958.9 1651 960.9 1652 962.6 1652.8 962.9 1652.9 964.9 1653.3 966.9 1653.8 968.9 1654.2 970.9 1654.6 972.9 1655 974.1 1655.3 974.9 1655.4 975 1655.4 976.9 1655.7 978.9 1656 980.9 1656.2 982.9 1656.5 983.8 1656.7 984.9 1657.3 986.9 1658.5 988.9 1659.8 990.9 1661 992.9 1662.2 993.4 1662.4 994.9 1663 996.9 1663.7 998.9 1664.4 1000 1664.8 1000.9 1665.1 1002.9 1665.7 1004.9 1666.4 1005 1666.4 1006.9 1667.1 1008.9 1667.9 1010.9 1668.6 1012.9 1669.4 1014.9 1670.1 1016.5 1670.7 1016.9 1670.8 1018.9 1671.3 1020.9 1671.8 1022.9 1672.3 1024.9 1672.8 1026.9 1673.2 1028.9 1673.7 1030 1674 1129.8 1674" fill="none" stroke="#ff8a14" stroke-width="2" stroke-linejoin="round"/>
<path d="M680.4 1674 771.9 1674 772.8 1673.9 772.9 1673.4 773 1672.9 773.9 1668.2 774.9 1663.1 775 1662.6 775.5 1660 775.9 1653.4 776.3 1646.8 776.5 1643.5 776.9 1637 777.7 1623.8 777.9 1613.9 778.3 1594 778.5 1584.1 778.9 1564.3 779.7 1524.6 779.9 1514.7 780.3 1494.8 780.5 1484.9 780.9 1465.1 781.7 1425.4 781.9 1419.3 782.8 1391.8 782.9 1388.8 783 1385.7 783.9 1358.2 784 1355.2 784.3 1346 784.9 1342.4 785 1341.8 785.9 1336.5 786.6 1332.3 786.7 1333.5 786.9 1335.9 787.9 1348 788 1349.2 788.3 1352.9 788.4 1354.1 788.9 1360.1 789.7 1369.8 789.9 1372.3 790 1373.6 790.8 1383.6 790.9 1384.9 791.9 1397.5 792 1398.7 792.1 1400 792.5 1405 792.9 1410.6 793.9 1424.7 794.9 1438.8 795.2 1443 795.9 1450.8 796.5 1457.6 796.9 1462.1 797.6 1469.9 797.9 1473.3 798.5 1480 798.9 1484.7 799.9 1496.3 800 1497.5 800.9 1508 801.6 1516.2 801.9 1519 802.9 1528.4 803.2 1531.2 803.9 1537.7 804.4 1542.4 804.9 1547.1 805 1548 805.9 1554.9 806.9 1562.6 807.9 1570.3 808 1571.1 808.9 1576.8 809.6 1581.2 809.9 1583.1 810.8 1588.7 810.9 1589.4 811 1590 811.9 1594.7 812.9 1599.9 813.9 1605.1 814.4 1607.7 814.9 1609.6 815 1610 815.8 1613 815.9 1613.3 816.9 1617.1 817.2 1618.2 817.9 1620.9 818.9 1624.6 819 1625 819.9 1627.2 820.9 1629.6 821.9 1632.1 822.9 1634.5 823.9 1636.9 824.9 1639.4 825.4 1640.6 825.9 1641.3 826 1641.4 826.9 1642.6 827.2 1643 827.9 1643.9 828.9 1645.2 829.9 1646.5 830 1646.7 830.9 1647.9 831 1648 832.9 1649.2 834.9 1650.4 836.9 1651.6 838.2 1652.4 838.9 1652.6 840.9 1653.3 842.9 1653.9 844.9 1654.6 846.9 1655.3 847 1655.3 848.9 1655.3 850 1655.3 850.9 1655.3 852.9 1655.3 854.9 1655.3 856.9 1655.3 858.5 1655.3 858.9 1655.4 860 1655.7 860.9 1656 862.9 1656.6 864.9 1657.2 866.9 1657.8 868.2 1658.2 868.9 1657.8 870 1657.2 870.9 1656.7 872.9 1655.5 874.9 1654.4 876.9 1653.3 878.9 1652.2 880.9 1651 882.9 1649.9 883.6 1649.5 884.9 1650.3 886.9 1651.4 888.9 1652.6 890.9 1653.8 892.9 1654.9 894.9 1656.1 895.1 1656.2 896.9 1655.7 898.9 1655.1 900 1654.7 900.9 1654.5 902.9 1653.9 904.8 1653.3 904.9 1653.3 906.9 1653.1 908.9 1653 910.9 1652.8 912.9 1652.7 914.9 1652.5 916.3 1652.4 916.9 1652.3 918.9 1652.2 920.9 1652 922.9 1651.8 924.9 1651.7 926.9 1651.5 927.9 1651.4 928.9 1651.2 930 1651.1 930.9 1650.9 932.9 1650.6 934.9 1650.3 936.9 1649.9 938.9 1649.6 939.5 1649.5 940.9 1649.5 942.9 1649.5 944.9 1649.5 946.9 1649.5 948.9 1649.5 950 1649.5 950.9 1649.5 951 1649.5 952.9 1650.3 954.9 1651.1 955 1651.2 956.9 1651.9 958.9 1652.8 960.9 1653.6 962.6 1654.3 962.9 1654.3 964.9 1654.7 966.9 1655 968.9 1655.3 970.9 1655.7 972.9 1656 974.1 1656.2 974.9 1656.3 975 1656.3 976.9 1656.5 978.9 1656.7 980.9 1656.9 982.9 1657.1 983.8 1657.2 984.9 1657.8 986.9 1658.9 988.9 1660.1 990.9 1661.2 992.9 1662.3 993.4 1662.6 994.9 1663.1 996.9 1663.7 998.9 1664.4 1000 1664.8 1000.9 1665.1 1002.9 1665.7 1004.9 1666.4 1005 1666.4 1006.9 1667.1 1008.9 1667.9 1010.9 1668.6 1012.9 1669.4 1014.9 1670.1 1016.5 1670.7 1016.9 1670.8 1018.9 1671.3 1020.9 1671.8 1022.9 1672.3 1024.9 1672.8 1026.9 1673.2 1028.9 1673.7 1030 1674 1129.8 1674" fill="none" stroke="#00bcef" stroke-width="2.6" stroke-linejoin="round"/>
</g>
<g stroke="#000" stroke-width="2.6" fill="none">
<line x1="680.4" y1="1608.2" x2="864.3" y2="1608.2"/>
<line x1="864.3" y1="1631.2" x2="1128.8" y2="1631.2"/>
</g>
<g stroke="#000" stroke-width="2.7" stroke-linecap="round" fill="none">
<line x1="681.2" y1="1599.2" x2="681.2" y2="1617.2"/>
<line x1="864.3" y1="1599.2" x2="864.3" y2="1617.2"/>
<line x1="864.3" y1="1622.2" x2="864.3" y2="1640.2"/>
<line x1="1128.2" y1="1622.2" x2="1128.2" y2="1640.2"/>
</g>
<path d="M680.4 1227.3H1129.8V1677.3" stroke="#3a3a3a" stroke-width="1.8" fill="none"/>
<path d="M680.4 1227.3V1677.3H1129.8" stroke="#000" stroke-width="1.6" fill="none"/>
<g stroke="#000" fill="none">
<line x1="668.1" y1="1675.2" x2="680.4" y2="1675.2" stroke-width="3.2"/>
<line x1="675.1" y1="1651.1" x2="680.4" y2="1651.1" stroke-width="2"/>
<line x1="675.1" y1="1627" x2="680.4" y2="1627" stroke-width="2"/>
<line x1="675.1" y1="1602.9" x2="680.4" y2="1602.9" stroke-width="2"/>
<line x1="668.1" y1="1578.8" x2="680.4" y2="1578.8" stroke-width="3.2"/>
<line x1="675.1" y1="1554.7" x2="680.4" y2="1554.7" stroke-width="2"/>
<line x1="675.1" y1="1530.6" x2="680.4" y2="1530.6" stroke-width="2"/>
<line x1="675.1" y1="1506.5" x2="680.4" y2="1506.5" stroke-width="2"/>
<line x1="668.1" y1="1482.4" x2="680.4" y2="1482.4" stroke-width="3.2"/>
<line x1="675.1" y1="1458.3" x2="680.4" y2="1458.3" stroke-width="2"/>
<line x1="675.1" y1="1434.2" x2="680.4" y2="1434.2" stroke-width="2"/>
<line x1="675.1" y1="1410.1" x2="680.4" y2="1410.1" stroke-width="2"/>
<line x1="668.1" y1="1386" x2="680.4" y2="1386" stroke-width="3.2"/>
<line x1="675.1" y1="1361.9" x2="680.4" y2="1361.9" stroke-width="2"/>
<line x1="675.1" y1="1337.8" x2="680.4" y2="1337.8" stroke-width="2"/>
<line x1="675.1" y1="1313.7" x2="680.4" y2="1313.7" stroke-width="2"/>
<line x1="668.1" y1="1289.6" x2="680.4" y2="1289.6" stroke-width="3.2"/>
<line x1="675.1" y1="1265.5" x2="680.4" y2="1265.5" stroke-width="2"/>
<line x1="675.1" y1="1241.4" x2="680.4" y2="1241.4" stroke-width="2"/>
</g>
<g font-family="'Liberation Sans', Arial, Helvetica, sans-serif" font-size="18" fill="#000" stroke="#000" stroke-width="0.3">
<text x="660" y="1674.9" text-anchor="end">0</text>
<text x="658.2" y="1591.1" text-anchor="end">200</text>
<text x="658.2" y="1494.7" text-anchor="end">400</text>
<text x="658.2" y="1398.3" text-anchor="end">600</text>
<text x="658.2" y="1301.9" text-anchor="end">800</text>
</g>
<text transform="translate(616.8 1451.1) rotate(-90) scale(1.0 1.06)" text-anchor="middle" font-family="'Liberation Sans', Arial, Helvetica, sans-serif" font-size="21" fill="#000" stroke="#000" stroke-width="0.45">Count</text>
<g stroke="#000" fill="none">
<line x1="701.5" y1="1677.3" x2="701.5" y2="1689.9" stroke-width="3.5"/>
<line x1="706.6" y1="1677.3" x2="706.6" y2="1682.9" stroke-width="2"/>
<line x1="712.1" y1="1677.3" x2="712.1" y2="1682.9" stroke-width="2"/>
<line x1="719.1" y1="1677.3" x2="719.1" y2="1682.9" stroke-width="2"/>
<line x1="725.8" y1="1677.3" x2="725.8" y2="1682.9" stroke-width="2"/>
<line x1="743.9" y1="1677.3" x2="743.9" y2="1682.9" stroke-width="2"/>
<line x1="752.5" y1="1677.3" x2="752.5" y2="1682.9" stroke-width="2"/>
<line x1="761.3" y1="1677.3" x2="761.3" y2="1682.9" stroke-width="2"/>
<line x1="735.1" y1="1677.3" x2="735.1" y2="1686.5" stroke-width="2.5"/>
<line x1="769.85" y1="1677.3" x2="769.85" y2="1689.9" stroke-width="3.5"/>
<line x1="779.95" y1="1677.3" x2="779.95" y2="1689.9" stroke-width="3.5"/>
<line x1="789.5" y1="1677.3" x2="789.5" y2="1689.9" stroke-width="3.5"/>
<line x1="775" y1="1677.3" x2="775" y2="1686.5" stroke-width="2.5"/>
<line x1="784.3" y1="1677.3" x2="784.3" y2="1686.5" stroke-width="2.5"/>
<line x1="770.86" y1="1677.3" x2="770.86" y2="1682.9" stroke-width="2"/>
<line x1="780.9" y1="1677.3" x2="780.9" y2="1682.9" stroke-width="2"/>
<line x1="771.87" y1="1677.3" x2="771.87" y2="1682.9" stroke-width="2"/>
<line x1="781.86" y1="1677.3" x2="781.86" y2="1682.9" stroke-width="2"/>
<line x1="772.88" y1="1677.3" x2="772.88" y2="1682.9" stroke-width="2"/>
<line x1="782.81" y1="1677.3" x2="782.81" y2="1682.9" stroke-width="2"/>
<line x1="773.89" y1="1677.3" x2="773.89" y2="1682.9" stroke-width="2"/>
<line x1="783.77" y1="1677.3" x2="783.77" y2="1682.9" stroke-width="2"/>
<line x1="775.91" y1="1677.3" x2="775.91" y2="1682.9" stroke-width="2"/>
<line x1="785.68" y1="1677.3" x2="785.68" y2="1682.9" stroke-width="2"/>
<line x1="776.92" y1="1677.3" x2="776.92" y2="1682.9" stroke-width="2"/>
<line x1="786.63" y1="1677.3" x2="786.63" y2="1682.9" stroke-width="2"/>
<line x1="777.93" y1="1677.3" x2="777.93" y2="1682.9" stroke-width="2"/>
<line x1="787.59" y1="1677.3" x2="787.59" y2="1682.9" stroke-width="2"/>
<line x1="778.94" y1="1677.3" x2="778.94" y2="1682.9" stroke-width="2"/>
<line x1="788.54" y1="1677.3" x2="788.54" y2="1682.9" stroke-width="2"/>
<line x1="799.8" y1="1677.3" x2="799.8" y2="1682.9" stroke-width="2"/>
<line x1="808.6" y1="1677.3" x2="808.6" y2="1682.9" stroke-width="2"/>
<line x1="817.4" y1="1677.3" x2="817.4" y2="1682.9" stroke-width="2"/>
<line x1="833.2" y1="1677.3" x2="833.2" y2="1682.9" stroke-width="2"/>
<line x1="840.2" y1="1677.3" x2="840.2" y2="1682.9" stroke-width="2"/>
<line x1="847.5" y1="1677.3" x2="847.5" y2="1682.9" stroke-width="2"/>
<line x1="854.1" y1="1677.3" x2="854.1" y2="1682.9" stroke-width="2"/>
<line x1="899.9" y1="1677.3" x2="899.9" y2="1682.9" stroke-width="2"/>
<line x1="921.3" y1="1677.3" x2="921.3" y2="1682.9" stroke-width="2"/>
<line x1="936.8" y1="1677.3" x2="936.8" y2="1682.9" stroke-width="2"/>
<line x1="957.9" y1="1677.3" x2="957.9" y2="1682.9" stroke-width="2"/>
<line x1="964.9" y1="1677.3" x2="964.9" y2="1682.9" stroke-width="2"/>
<line x1="971.9" y1="1677.3" x2="971.9" y2="1682.9" stroke-width="2"/>
<line x1="977.1" y1="1677.3" x2="977.1" y2="1682.9" stroke-width="2"/>
<line x1="1014.2" y1="1677.3" x2="1014.2" y2="1682.9" stroke-width="2"/>
<line x1="1031.6" y1="1677.3" x2="1031.6" y2="1682.9" stroke-width="2"/>
<line x1="1045.7" y1="1677.3" x2="1045.7" y2="1682.9" stroke-width="2"/>
<line x1="1063.1" y1="1677.3" x2="1063.1" y2="1682.9" stroke-width="2"/>
<line x1="1069.9" y1="1677.3" x2="1069.9" y2="1682.9" stroke-width="2"/>
<line x1="1075.3" y1="1677.3" x2="1075.3" y2="1682.9" stroke-width="2"/>
<line x1="1080.7" y1="1677.3" x2="1080.7" y2="1682.9" stroke-width="2"/>
<line x1="1115.9" y1="1677.3" x2="1115.9" y2="1682.9" stroke-width="2"/>
<line x1="826.2" y1="1677.3" x2="826.2" y2="1686.5" stroke-width="2.5"/>
<line x1="947.5" y1="1677.3" x2="947.5" y2="1686.5" stroke-width="2.5"/>
<line x1="1054.5" y1="1677.3" x2="1054.5" y2="1686.5" stroke-width="2.5"/>
<line x1="859.6" y1="1677.3" x2="859.6" y2="1689.9" stroke-width="3.5"/>
<line x1="982.5" y1="1677.3" x2="982.5" y2="1689.9" stroke-width="3.5"/>
<line x1="1086.1" y1="1677.3" x2="1086.1" y2="1689.9" stroke-width="3.5"/>
</g>
<g font-family="'Liberation Sans', Arial, Helvetica, sans-serif" font-size="17.5" fill="#000" stroke="#000" stroke-width="0.3">
<text x="689.8" y="1729.8">-10</text>
<text x="715.9" y="1715.4">3</text>
<text x="775.7" y="1729.8">0</text>
<text x="849.8" y="1729.8">10</text>
<text x="870.8" y="1715.4">3</text>
<text x="972.3" y="1729.8">10</text>
<text x="993.4" y="1715.4">4</text>
<text x="1075.9" y="1729.8">10</text>
<text x="1096.8" y="1715.4">5</text>
</g>
<g font-family="'Liberation Sans', Arial, Helvetica, sans-serif" font-size="21" fill="#000" stroke="#000" stroke-width="0.45">
<text transform="translate(869.4 1768.5) scale(1 1.06)">FITC-A</text>
</g>
<g font-family="'Liberation Sans', Arial, Helvetica, sans-serif" font-size="21" fill="#000" stroke="#000" stroke-width="0.45">
<text transform="translate(688 1266.7) scale(1 1.06)">FITC-A-</text>
<text transform="translate(689.8 1298.2) scale(1 1.06)">69.0</text>
<text transform="translate(1084.8 1266.7) scale(1 1.06)" text-anchor="end">FITC-A+</text>
<text transform="translate(1080.9 1298.2) scale(1 1.06)" text-anchor="end">31.0</text>
</g>
<clipPath id="c22"><rect x="1251.6" y="1228.1" width="448" height="448.6"/></clipPath>
<g clip-path="url(#c22)">
<path d="M1251 1674 1342.5 1674 1343.4 1673.8 1343.5 1672.6 1344.5 1661 1345 1655.2 1345.5 1649.4 1346.5 1637.8 1347.5 1626.1 1347.7 1623.8 1348.5 1584.1 1349.5 1534.5 1349.7 1524.6 1350.5 1484.9 1351.5 1435.3 1351.7 1425.4 1352.5 1385.7 1353.5 1336.1 1353.7 1326.2 1354.5 1312.8 1355.5 1296 1356.5 1279.1 1357 1270.7 1357.3 1265.7 1357.5 1267.4 1358.5 1276.1 1359.5 1284.8 1359.7 1286.5 1360 1295.9 1360.5 1311.3 1361.5 1342 1361.6 1345.1 1362.5 1362.6 1363.5 1382.1 1364.5 1401.6 1364.6 1403.5 1365.5 1421.2 1366.5 1440.8 1367.5 1460.5 1367.6 1462.5 1368.5 1473.5 1369.5 1485.7 1370.5 1498 1371.5 1510.4 1371.6 1511.6 1372.5 1518.8 1373.5 1526.9 1374.5 1534.9 1375.5 1543 1376.5 1551.1 1377.5 1556 1378.5 1560.9 1379.5 1565.8 1380.5 1570.8 1381.5 1575.8 1382.5 1580.7 1383.5 1584.8 1384.5 1588.8 1385.5 1592.9 1386.5 1597 1387.5 1601 1388.5 1605.2 1389.4 1608.9 1389.5 1609 1390 1609.9 1390.5 1610.7 1391.5 1612.2 1392.5 1613.8 1393.5 1615.3 1394.5 1616.9 1395.5 1618.6 1396.5 1620.2 1397.5 1621.8 1398.5 1623.5 1399.5 1625.2 1399.6 1625.4 1400 1625.8 1400.5 1626.4 1401.5 1627.5 1403.5 1629.8 1405.5 1632.1 1407.5 1634.5 1409.1 1636.4 1409.5 1636.7 1410 1637.1 1411.5 1638.4 1413.5 1640.2 1415.5 1641.9 1417.5 1643.7 1418.7 1644.8 1419.5 1644.7 1421.5 1644.5 1423.5 1644.3 1425.5 1644.2 1427.5 1644 1428.3 1643.9 1429.5 1644.1 1431.5 1644.5 1433.5 1644.9 1435.5 1645.3 1437.5 1645.7 1439.5 1646.1 1439.8 1646.2 1440 1645.9 1441.5 1644.5 1443.5 1642.5 1445.5 1640.5 1447.4 1638.7 1447.5 1638.7 1449.5 1638.4 1451.5 1638.1 1453.5 1637.8 1455.5 1637.5 1457.5 1637.2 1459.5 1636.9 1460 1636.9 1461.5 1636.5 1462.7 1636.3 1463.5 1636.1 1465.5 1635.5 1467.5 1634.9 1469.5 1634.4 1471.5 1633.8 1473.5 1633.3 1474.2 1633.1 1475.5 1632.9 1477.5 1632.7 1479.5 1632.5 1480 1632.5 1481.5 1632.5 1483.5 1632.4 1485.5 1632.4 1485.7 1632.4 1487.5 1631.9 1489.5 1631.4 1491.5 1630.8 1493.5 1630.3 1495.5 1629.7 1497.2 1629.3 1497.5 1629.3 1499.5 1629.8 1500 1629.9 1501.5 1630.1 1503.5 1630.3 1505.5 1630.5 1507.5 1630.7 1509.5 1630.9 1510 1630.9 1511.5 1631.1 1512.5 1631.2 1513.5 1631.5 1515.5 1632.2 1517.5 1632.8 1519.5 1633.5 1520 1633.7 1521.5 1634.2 1523.5 1635 1524 1635.1 1525.5 1635.3 1527.5 1635.5 1529.5 1635.7 1531.5 1635.9 1533.5 1636.1 1535.5 1636.3 1537.5 1637.7 1539.5 1639.1 1541.5 1640.5 1543.1 1641.6 1543.5 1641.9 1545 1642.7 1545.5 1643 1547.5 1644.2 1549.5 1645.3 1550 1645.6 1551.5 1646.5 1553.5 1647.7 1554.6 1648.3 1555.5 1648.8 1557.5 1649.7 1559.5 1650.7 1560 1651 1561.5 1651.7 1563.5 1652.6 1565.5 1653.6 1566.1 1653.9 1567.5 1654.9 1569.5 1656.4 1571.5 1657.9 1573.5 1659.3 1575.5 1660.8 1577.5 1662.2 1577.6 1662.3 1579.5 1663.5 1580 1663.8 1581.5 1664.8 1583.5 1666.2 1585.5 1667.4 1587.5 1668.7 1589.1 1669.7 1589.5 1669.8 1591.5 1670.4 1593.5 1670.9 1595.5 1671.5 1597.5 1672 1599.5 1672.5 1600 1672.6 1600.6 1672.8 1601.5 1673 1603.5 1673.4 1605.5 1673.9 1606 1674 1700.4 1674Z" fill="#f5c4c0"/>
<path d="M1251 1674 1342.5 1674 1343.4 1673.8 1343.5 1672.6 1344.5 1661 1345 1655.2 1345.5 1649.4 1346.5 1637.8 1347.5 1626.1 1347.7 1623.8 1348.5 1584.1 1349.5 1534.5 1349.7 1524.6 1350.5 1484.9 1351.5 1435.3 1351.7 1425.4 1352.5 1385.7 1353.5 1336.1 1353.7 1326.2 1354.5 1312.8 1355.5 1296 1356.5 1279.1 1357 1270.7 1357.3 1265.7 1357.5 1267.4 1358.5 1276.1 1359.5 1284.8 1359.7 1286.5 1360 1295.9 1360.5 1311.6 1361.5 1342.9 1361.6 1346 1362.5 1363.9 1363.5 1383.7 1364.5 1403.6 1364.6 1405.6 1365.5 1423.5 1366.5 1443.3 1367.5 1463.1 1367.6 1465.1 1368.5 1476.3 1369.5 1488.7 1370.5 1501.1 1371.5 1513.5 1371.6 1514.7 1372.5 1522 1373.5 1530.1 1374.5 1538.2 1375.5 1546.3 1376.5 1554.4 1377.5 1559.4 1378.5 1564.3 1379.5 1569.2 1380.5 1574.2 1381.5 1579.1 1382.5 1584.1 1383.5 1588.1 1384.5 1592.2 1385.5 1596.2 1386.5 1600.2 1387.5 1604.2 1388.5 1608.3 1389.4 1611.9 1389.5 1612.1 1390 1612.9 1390.5 1613.8 1391.5 1615.6 1392.5 1617.3 1393.5 1619.1 1394.5 1620.8 1395.5 1622.5 1396.5 1624.3 1397.5 1626 1398.5 1627.8 1399.5 1629.5 1399.6 1629.7 1400 1630.2 1400.5 1630.8 1401.5 1632 1403.5 1634.4 1405.5 1636.8 1407.5 1639.3 1409.1 1641.2 1409.5 1641.5 1410 1641.9 1411.5 1643.1 1413.5 1644.7 1415.5 1646.3 1417.5 1647.9 1418.7 1648.9 1419.5 1648.9 1421.5 1648.8 1423.5 1648.7 1425.5 1648.6 1427.5 1648.5 1428.3 1648.5 1429.5 1648.7 1431.5 1649.1 1433.5 1649.5 1435.5 1649.9 1437.5 1650.3 1439.5 1650.7 1439.8 1650.8 1440 1650.6 1441.5 1649.3 1443.5 1647.5 1445.5 1645.8 1447.4 1644.1 1447.5 1644.1 1449.5 1643.7 1451.5 1643.3 1453.5 1642.9 1455.5 1642.6 1457.5 1642.2 1459.5 1641.8 1460 1641.7 1461.5 1641.4 1462.7 1641.2 1463.5 1641 1465.5 1640.5 1467.5 1640 1469.5 1639.5 1471.5 1639.1 1473.5 1638.6 1474.2 1638.4 1475.5 1638.3 1477.5 1638.1 1479.5 1637.9 1480 1637.9 1481.5 1637.8 1483.5 1637.6 1485.5 1637.4 1485.7 1637.4 1487.5 1636.8 1489.5 1636.1 1491.5 1635.5 1493.5 1634.8 1495.5 1634.2 1497.2 1633.6 1497.5 1633.6 1499.5 1633.9 1500 1633.9 1501.5 1634.1 1503.5 1634.4 1505.5 1634.6 1507.5 1634.9 1509.5 1635.1 1510 1635.2 1511.5 1635.4 1512.5 1635.5 1513.5 1635.8 1515.5 1636.5 1517.5 1637.2 1519.5 1637.8 1520 1638 1521.5 1638.5 1523.5 1639.1 1524 1639.3 1525.5 1639.4 1527.5 1639.6 1529.5 1639.8 1531.5 1640 1533.5 1640.1 1535.5 1640.3 1537.5 1641.6 1539.5 1642.8 1541.5 1644.1 1543.1 1645.1 1543.5 1645.3 1545 1646 1545.5 1646.3 1547.5 1647.3 1549.5 1648.3 1550 1648.5 1551.5 1649.3 1553.5 1650.3 1554.6 1650.8 1555.5 1651.2 1557.5 1652 1559.5 1652.8 1560 1653.1 1561.5 1653.7 1563.5 1654.5 1565.5 1655.3 1566.1 1655.6 1567.5 1656.5 1569.5 1657.8 1571.5 1659.2 1573.5 1660.5 1575.5 1661.8 1577.5 1663.1 1577.6 1663.2 1579.5 1664.3 1580 1664.6 1581.5 1665.5 1583.5 1666.6 1585.5 1667.8 1587.5 1669 1589.1 1669.9 1589.5 1670 1591.5 1670.5 1593.5 1671 1595.5 1671.5 1597.5 1672 1599.5 1672.5 1600 1672.6 1600.6 1672.8 1601.5 1673 1603.5 1673.4 1605.5 1673.9 1606 1674 1700.4 1674Z" fill="#a9bfca"/>
<path d="M1251 1674 1342.5 1674 1343.4 1673.8 1343.5 1672.6 1344.5 1661 1345 1655.2 1345.5 1649.4 1346.5 1637.9 1347.5 1626.4 1347.7 1624.1 1348.5 1584.9 1349.5 1536.1 1349.7 1526.4 1350.5 1487.5 1351.5 1439.2 1351.7 1429.6 1352.5 1391.1 1353.5 1343.3 1353.7 1333.8 1354.5 1321.3 1355.5 1305.9 1356.5 1290.5 1357 1282.8 1357.3 1278 1357.5 1279.7 1358.5 1288.3 1359.5 1296.9 1359.7 1298.6 1360 1307.8 1360.5 1323 1361.5 1353.5 1361.6 1356.5 1362.5 1374 1363.5 1393.3 1364.5 1412.7 1364.6 1414.6 1365.5 1432 1366.5 1451.2 1367.5 1470.5 1367.6 1472.4 1368.5 1483.2 1369.5 1495.3 1370.5 1507.3 1371.5 1519.4 1371.6 1520.6 1372.5 1527.6 1373.5 1535.5 1374.5 1543.4 1375.5 1551.2 1376.5 1559.1 1377.5 1563.9 1378.5 1568.7 1379.5 1573.5 1380.5 1578.3 1381.5 1583.1 1382.5 1587.9 1383.5 1591.8 1384.5 1595.7 1385.5 1599.6 1386.5 1603.4 1387.5 1607.3 1388.5 1611.2 1389.4 1614.7 1389.5 1614.9 1390 1615.7 1390.5 1616.6 1391.5 1618.3 1392.5 1619.9 1393.5 1621.6 1394.5 1623.3 1395.5 1625 1396.5 1626.7 1397.5 1628.4 1398.5 1630.1 1399.5 1631.7 1399.6 1631.9 1400 1632.4 1400.5 1633 1401.5 1634.3 1403.5 1636.7 1405.5 1639.2 1407.5 1641.7 1409.1 1643.6 1409.5 1643.9 1410 1644.3 1411.5 1645.6 1413.5 1647.2 1415.5 1648.8 1417.5 1650.4 1418.7 1651.3 1419.5 1651.3 1421.5 1651.4 1423.5 1651.5 1425.5 1651.5 1427.5 1651.6 1428.3 1651.6 1429.5 1651.9 1431.5 1652.3 1433.5 1652.8 1435.5 1653.3 1437.5 1653.7 1439.5 1654.2 1439.8 1654.3 1440 1654.1 1441.5 1653 1443.5 1651.5 1445.5 1650 1447.4 1648.6 1447.5 1648.6 1449.5 1648.2 1451.5 1647.9 1453.5 1647.6 1455.5 1647.3 1457.5 1647 1459.5 1646.6 1460 1646.6 1461.5 1646.3 1462.7 1646.1 1463.5 1646 1465.5 1645.5 1467.5 1645.1 1469.5 1644.7 1471.5 1644.3 1473.5 1643.9 1474.2 1643.7 1475.5 1643.6 1477.5 1643.5 1479.5 1643.3 1480 1643.3 1481.5 1643.2 1483.5 1643.1 1485.5 1643 1485.7 1643 1487.5 1642.5 1489.5 1641.9 1491.5 1641.4 1493.5 1640.9 1495.5 1640.3 1497.2 1639.9 1497.5 1639.9 1499.5 1640.2 1500 1640.2 1501.5 1640.4 1503.5 1640.6 1505.5 1640.9 1507.5 1641.1 1509.5 1641.3 1510 1641.4 1511.5 1641.5 1512.5 1641.6 1513.5 1641.8 1515.5 1642.3 1517.5 1642.8 1519.5 1643.3 1520 1643.4 1521.5 1643.7 1523.5 1644.2 1524 1644.4 1525.5 1644.4 1527.5 1644.5 1529.5 1644.6 1531.5 1644.7 1533.5 1644.7 1535.5 1644.8 1537.5 1645.9 1539.5 1646.9 1541.5 1647.9 1543.1 1648.8 1543.5 1648.9 1545 1649.5 1545.5 1649.7 1547.5 1650.6 1549.5 1651.4 1550 1651.6 1551.5 1652.1 1553.5 1652.9 1554.6 1653.3 1555.5 1653.6 1557.5 1654.3 1559.5 1654.9 1560 1655.1 1561.5 1655.6 1563.5 1656.2 1565.5 1656.9 1566.1 1657.1 1567.5 1657.9 1569.5 1659 1571.5 1660.2 1573.5 1661.3 1575.5 1662.5 1577.5 1663.7 1577.6 1663.8 1579.5 1664.8 1580 1665 1581.5 1665.9 1583.5 1666.9 1585.5 1668 1587.5 1669.1 1589.1 1670 1589.5 1670.1 1591.5 1670.6 1593.5 1671.1 1595.5 1671.5 1597.5 1672 1599.5 1672.5 1600 1672.6 1600.6 1672.8 1601.5 1673 1603.5 1673.4 1605.5 1673.9 1606 1674 1700.4 1674Z" fill="#9ab4af"/>
<path d="M1251 1674 1342.5 1674 1343.4 1673.8 1343.5 1672.6 1344.5 1661 1345 1655.2 1345.5 1649.4 1346.5 1637.9 1347.5 1626.4 1347.7 1624.1 1348.5 1584.9 1349.5 1536.1 1349.7 1526.4 1350.5 1487.5 1351.5 1439.2 1351.7 1429.6 1352.5 1391.1 1353.5 1343.3 1353.7 1333.8 1354.5 1321.3 1355.5 1305.9 1356.5 1290.5 1357 1282.8 1357.3 1278 1357.5 1279.7 1358.5 1288.3 1359.5 1296.9 1359.7 1298.6 1360 1307.8 1360.5 1323 1361.5 1353.5 1361.6 1356.5 1362.5 1374 1363.5 1393.3 1364.5 1412.7 1364.6 1414.6 1365.5 1432 1366.5 1451.2 1367.5 1470.5 1367.6 1472.4 1368.5 1483.2 1369.5 1495.3 1370.5 1507.3 1371.5 1519.4 1371.6 1520.6 1372.5 1527.6 1373.5 1535.5 1374.5 1543.4 1375.5 1551.2 1376.5 1559.1 1377.5 1563.9 1378.5 1568.7 1379.5 1573.5 1380.5 1578.3 1381.5 1583.1 1382.5 1587.9 1383.5 1591.8 1384.5 1595.7 1385.5 1599.6 1386.5 1603.4 1387.5 1607.3 1388.5 1611.2 1389.4 1614.7 1389.5 1614.9 1390 1615.7 1390.5 1616.6 1391.5 1618.3 1392.5 1619.9 1393.5 1621.6 1394.5 1623.3 1395.5 1625 1396.5 1626.7 1397.5 1628.4 1398.5 1630.1 1399.5 1631.7 1399.6 1631.9 1400 1632.4 1400.5 1633 1401.5 1634.3 1403.5 1636.7 1405.5 1639.2 1407.5 1641.7 1409.1 1643.6 1409.5 1643.9 1410 1644.3 1411.5 1645.6 1413.5 1647.2 1415.5 1648.8 1417.5 1650.4 1418.7 1651.3 1419.5 1651.3 1421.5 1651.4 1423.5 1651.5 1425.5 1651.5 1427.5 1651.6 1428.3 1651.6 1429.5 1651.9 1431.5 1652.3 1433.5 1652.8 1435.5 1653.3 1437.5 1653.7 1439.5 1654.2 1439.8 1654.3 1440 1654.1 1441.5 1653 1443.5 1651.5 1445.5 1650 1447.4 1648.6 1447.5 1648.6 1449.5 1648.2 1451.5 1647.9 1453.5 1647.6 1455.5 1647.3 1457.5 1647 1459.5 1646.6 1460 1646.6 1461.5 1646.3 1462.7 1646.1 1463.5 1646 1465.5 1645.5 1467.5 1645.1 1469.5 1644.7 1471.5 1644.3 1473.5 1643.9 1474.2 1643.7 1475.5 1643.6 1477.5 1643.5 1479.5 1643.3 1480 1643.3 1481.5 1643.2 1483.5 1643.1 1485.5 1643 1485.7 1643 1487.5 1642.5 1489.5 1641.9 1491.5 1641.4 1493.5 1640.9 1495.5 1640.3 1497.2 1639.9 1497.5 1639.9 1499.5 1640.2 1500 1640.2 1501.5 1640.4 1503.5 1640.6 1505.5 1640.9 1507.5 1641.1 1509.5 1641.3 1510 1641.4 1511.5 1641.5 1512.5 1641.6 1513.5 1641.8 1515.5 1642.3 1517.5 1642.8 1519.5 1643.3 1520 1643.4 1521.5 1643.7 1523.5 1644.2 1524 1644.4 1525.5 1644.4 1527.5 1644.5 1529.5 1644.6 1531.5 1644.7 1533.5 1644.7 1535.5 1644.8 1537.5 1645.9 1539.5 1646.9 1541.5 1647.9 1543.1 1648.8 1543.5 1648.9 1545 1649.5 1545.5 1649.7 1547.5 1650.6 1549.5 1651.4 1550 1651.6 1551.5 1652.1 1553.5 1652.9 1554.6 1653.3 1555.5 1653.6 1557.5 1654.3 1559.5 1654.9 1560 1655.1 1561.5 1655.6 1563.5 1656.2 1565.5 1656.9 1566.1 1657.1 1567.5 1657.9 1569.5 1659 1571.5 1660.2 1573.5 1661.3 1575.5 1662.5 1577.5 1663.7 1577.6 1663.8 1579.5 1664.8 1580 1665 1581.5 1665.9 1583.5 1666.9 1585.5 1668 1587.5 1669.1 1589.1 1670 1589.5 1670.1 1591.5 1670.6 1593.5 1671.1 1595.5 1671.5 1597.5 1672 1599.5 1672.5 1600 1672.6 1600.6 1672.8 1601.5 1673 1603.5 1673.4 1605.5 1673.9 1606 1674 1700.4 1674" fill="none" stroke="#aaa872" stroke-width="1.8" stroke-linejoin="round"/>
<path d="M1251 1674 1342.5 1674 1343.4 1673.8 1343.5 1672.6 1344.5 1661 1345 1655.2 1345.5 1649.4 1346.5 1637.8 1347.5 1626.1 1347.7 1623.8 1348.5 1584.1 1349.5 1534.5 1349.7 1524.6 1350.5 1484.9 1351.5 1435.3 1351.7 1425.4 1352.5 1385.7 1353.5 1336.1 1353.7 1326.2 1354.5 1312.8 1355.5 1296 1356.5 1279.1 1357 1270.7 1357.3 1265.7 1357.5 1267.4 1358.5 1276.1 1359.5 1284.8 1359.7 1286.5 1360 1295.9 1360.5 1311.3 1361.5 1342 1361.6 1345.1 1362.5 1362.6 1363.5 1382.1 1364.5 1401.6 1364.6 1403.5 1365.5 1421.2 1366.5 1440.8 1367.5 1460.5 1367.6 1462.5 1368.5 1473.5 1369.5 1485.7 1370.5 1498 1371.5 1510.4 1371.6 1511.6 1372.5 1518.8 1373.5 1526.9 1374.5 1534.9 1375.5 1543 1376.5 1551.1 1377.5 1556 1378.5 1560.9 1379.5 1565.8 1380.5 1570.8 1381.5 1575.8 1382.5 1580.7 1383.5 1584.8 1384.5 1588.8 1385.5 1592.9 1386.5 1597 1387.5 1601 1388.5 1605.2 1389.4 1608.9 1389.5 1609 1390 1609.9 1390.5 1610.7 1391.5 1612.2 1392.5 1613.8 1393.5 1615.3 1394.5 1616.9 1395.5 1618.6 1396.5 1620.2 1397.5 1621.8 1398.5 1623.5 1399.5 1625.2 1399.6 1625.4 1400 1625.8 1400.5 1626.4 1401.5 1627.5 1403.5 1629.8 1405.5 1632.1 1407.5 1634.5 1409.1 1636.4 1409.5 1636.7 1410 1637.1 1411.5 1638.4 1413.5 1640.2 1415.5 1641.9 1417.5 1643.7 1418.7 1644.8 1419.5 1644.7 1421.5 1644.5 1423.5 1644.3 1425.5 1644.2 1427.5 1644 1428.3 1643.9 1429.5 1644.1 1431.5 1644.5 1433.5 1644.9 1435.5 1645.3 1437.5 1645.7 1439.5 1646.1 1439.8 1646.2 1440 1645.9 1441.5 1644.5 1443.5 1642.5 1445.5 1640.5 1447.4 1638.7 1447.5 1638.7 1449.5 1638.4 1451.5 1638.1 1453.5 1637.8 1455.5 1637.5 1457.5 1637.2 1459.5 1636.9 1460 1636.9 1461.5 1636.5 1462.7 1636.3 1463.5 1636.1 1465.5 1635.5 1467.5 1634.9 1469.5 1634.4 1471.5 1633.8 1473.5 1633.3 1474.2 1633.1 1475.5 1632.9 1477.5 1632.7 1479.5 1632.5 1480 1632.5 1481.5 1632.5 1483.5 1632.4 1485.5 1632.4 1485.7 1632.4 1487.5 1631.9 1489.5 1631.4 1491.5 1630.8 1493.5 1630.3 1495.5 1629.7 1497.2 1629.3 1497.5 1629.3 1499.5 1629.8 1500 1629.9 1501.5 1630.1 1503.5 1630.3 1505.5 1630.5 1507.5 1630.7 1509.5 1630.9 1510 1630.9 1511.5 1631.1 1512.5 1631.2 1513.5 1631.5 1515.5 1632.2 1517.5 1632.8 1519.5 1633.5 1520 1633.7 1521.5 1634.2 1523.5 1635 1524 1635.1 1525.5 1635.3 1527.5 1635.5 1529.5 1635.7 1531.5 1635.9 1533.5 1636.1 1535.5 1636.3 1537.5 1637.7 1539.5 1639.1 1541.5 1640.5 1543.1 1641.6 1543.5 1641.9 1545 1642.7 1545.5 1643 1547.5 1644.2 1549.5 1645.3 1550 1645.6 1551.5 1646.5 1553.5 1647.7 1554.6 1648.3 1555.5 1648.8 1557.5 1649.7 1559.5 1650.7 1560 1651 1561.5 1651.7 1563.5 1652.6 1565.5 1653.6 1566.1 1653.9 1567.5 1654.9 1569.5 1656.4 1571.5 1657.9 1573.5 1659.3 1575.5 1660.8 1577.5 1662.2 1577.6 1662.3 1579.5 1663.5 1580 1663.8 1581.5 1664.8 1583.5 1666.2 1585.5 1667.4 1587.5 1668.7 1589.1 1669.7 1589.5 1669.8 1591.5 1670.4 1593.5 1670.9 1595.5 1671.5 1597.5 1672 1599.5 1672.5 1600 1672.6 1600.6 1672.8 1601.5 1673 1603.5 1673.4 1605.5 1673.9 1606 1674 1700.4 1674" fill="none" stroke="#ec1c1c" stroke-width="2" stroke-linejoin="round"/>
<path d="M1251 1674 1342.5 1674 1343.4 1673.8 1343.5 1672.6 1344.5 1661 1345 1655.2 1345.5 1649.4 1346.5 1637.8 1347.5 1626.1 1347.7 1623.8 1348.5 1584.1 1349.5 1534.5 1349.7 1524.6 1350.5 1484.9 1351.5 1435.3 1351.7 1425.4 1352.5 1385.7 1353.5 1336.1 1353.7 1326.2 1354.5 1312.8 1355.5 1296 1356.5 1279.1 1357 1270.7 1357.3 1265.7 1357.5 1267.4 1358.5 1276.1 1359.5 1284.8 1359.7 1286.5 1360 1295.9 1360.5 1311.6 1361.5 1342.9 1361.6 1346 1362.5 1363.9 1363.5 1383.7 1364.5 1403.6 1364.6 1405.6 1365.5 1423.5 1366.5 1443.3 1367.5 1463.1 1367.6 1465.1 1368.5 1476.3 1369.5 1488.7 1370.5 1501.1 1371.5 1513.5 1371.6 1514.7 1372.5 1522 1373.5 1530.1 1374.5 1538.2 1375.5 1546.3 1376.5 1554.4 1377.5 1559.4 1378.5 1564.3 1379.5 1569.2 1380.5 1574.2 1381.5 1579.1 1382.5 1584.1 1383.5 1588.1 1384.5 1592.2 1385.5 1596.2 1386.5 1600.2 1387.5 1604.2 1388.5 1608.3 1389.4 1611.9 1389.5 1612.1 1390 1612.9 1390.5 1613.8 1391.5 1615.6 1392.5 1617.3 1393.5 1619.1 1394.5 1620.8 1395.5 1622.5 1396.5 1624.3 1397.5 1626 1398.5 1627.8 1399.5 1629.5 1399.6 1629.7 1400 1630.2 1400.5 1630.8 1401.5 1632 1403.5 1634.4 1405.5 1636.8 1407.5 1639.3 1409.1 1641.2 1409.5 1641.5 1410 1641.9 1411.5 1643.1 1413.5 1644.7 1415.5 1646.3 1417.5 1647.9 1418.7 1648.9 1419.5 1648.9 1421.5 1648.8 1423.5 1648.7 1425.5 1648.6 1427.5 1648.5 1428.3 1648.5 1429.5 1648.7 1431.5 1649.1 1433.5 1649.5 1435.5 1649.9 1437.5 1650.3 1439.5 1650.7 1439.8 1650.8 1440 1650.6 1441.5 1649.3 1443.5 1647.5 1445.5 1645.8 1447.4 1644.1 1447.5 1644.1 1449.5 1643.7 1451.5 1643.3 1453.5 1642.9 1455.5 1642.6 1457.5 1642.2 1459.5 1641.8 1460 1641.7 1461.5 1641.4 1462.7 1641.2 1463.5 1641 1465.5 1640.5 1467.5 1640 1469.5 1639.5 1471.5 1639.1 1473.5 1638.6 1474.2 1638.4 1475.5 1638.3 1477.5 1638.1 1479.5 1637.9 1480 1637.9 1481.5 1637.8 1483.5 1637.6 1485.5 1637.4 1485.7 1637.4 1487.5 1636.8 1489.5 1636.1 1491.5 1635.5 1493.5 1634.8 1495.5 1634.2 1497.2 1633.6 1497.5 1633.6 1499.5 1633.9 1500 1633.9 1501.5 1634.1 1503.5 1634.4 1505.5 1634.6 1507.5 1634.9 1509.5 1635.1 1510 1635.2 1511.5 1635.4 1512.5 1635.5 1513.5 1635.8 1515.5 1636.5 1517.5 1637.2 1519.5 1637.8 1520 1638 1521.5 1638.5 1523.5 1639.1 1524 1639.3 1525.5 1639.4 1527.5 1639.6 1529.5 1639.8 1531.5 1640 1533.5 1640.1 1535.5 1640.3 1537.5 1641.6 1539.5 1642.8 1541.5 1644.1 1543.1 1645.1 1543.5 1645.3 1545 1646 1545.5 1646.3 1547.5 1647.3 1549.5 1648.3 1550 1648.5 1551.5 1649.3 1553.5 1650.3 1554.6 1650.8 1555.5 1651.2 1557.5 1652 1559.5 1652.8 1560 1653.1 1561.5 1653.7 1563.5 1654.5 1565.5 1655.3 1566.1 1655.6 1567.5 1656.5 1569.5 1657.8 1571.5 1659.2 1573.5 1660.5 1575.5 1661.8 1577.5 1663.1 1577.6 1663.2 1579.5 1664.3 1580 1664.6 1581.5 1665.5 1583.5 1666.6 1585.5 1667.8 1587.5 1669 1589.1 1669.9 1589.5 1670 1591.5 1670.5 1593.5 1671 1595.5 1671.5 1597.5 1672 1599.5 1672.5 1600 1672.6 1600.6 1672.8 1601.5 1673 1603.5 1673.4 1605.5 1673.9 1606 1674 1700.4 1674" fill="none" stroke="#00bcef" stroke-width="2.6" stroke-linejoin="round"/>
</g>
<g stroke="#000" stroke-width="2.6" fill="none">
<line x1="1251" y1="1607.9" x2="1435.4" y2="1607.9"/>
<line x1="1435.4" y1="1630.9" x2="1699.4" y2="1630.9"/>
</g>
<g stroke="#000" stroke-width="2.7" stroke-linecap="round" fill="none">
<line x1="1251.8" y1="1598.9" x2="1251.8" y2="1616.9"/>
<line x1="1435.4" y1="1598.9" x2="1435.4" y2="1616.9"/>
<line x1="1435.4" y1="1621.9" x2="1435.4" y2="1639.9"/>
<line x1="1698.8" y1="1621.9" x2="1698.8" y2="1639.9"/>
</g>
<path d="M1251 1227.3H1700.4V1677.3" stroke="#3a3a3a" stroke-width="1.8" fill="none"/>
<path d="M1251 1227.3V1677.3H1700.4" stroke="#000" stroke-width="1.6" fill="none"/>
<g stroke="#000" fill="none">
<line x1="1238.7" y1="1675.2" x2="1251" y2="1675.2" stroke-width="3.2"/>
<line x1="1245.7" y1="1644.07" x2="1251" y2="1644.07" stroke-width="2"/>
<line x1="1245.7" y1="1612.93" x2="1251" y2="1612.93" stroke-width="2"/>
<line x1="1245.7" y1="1581.8" x2="1251" y2="1581.8" stroke-width="2"/>
<line x1="1238.7" y1="1550.66" x2="1251" y2="1550.66" stroke-width="3.2"/>
<line x1="1245.7" y1="1519.53" x2="1251" y2="1519.53" stroke-width="2"/>
<line x1="1245.7" y1="1488.39" x2="1251" y2="1488.39" stroke-width="2"/>
<line x1="1245.7" y1="1457.26" x2="1251" y2="1457.26" stroke-width="2"/>
<line x1="1238.7" y1="1426.12" x2="1251" y2="1426.12" stroke-width="3.2"/>
<line x1="1245.7" y1="1394.99" x2="1251" y2="1394.99" stroke-width="2"/>
<line x1="1245.7" y1="1363.85" x2="1251" y2="1363.85" stroke-width="2"/>
<line x1="1245.7" y1="1332.72" x2="1251" y2="1332.72" stroke-width="2"/>
<line x1="1238.7" y1="1301.58" x2="1251" y2="1301.58" stroke-width="3.2"/>
<line x1="1245.7" y1="1270.45" x2="1251" y2="1270.45" stroke-width="2"/>
<line x1="1245.7" y1="1239.31" x2="1251" y2="1239.31" stroke-width="2"/>
</g>
<g font-family="'Liberation Sans', Arial, Helvetica, sans-serif" font-size="18" fill="#000" stroke="#000" stroke-width="0.3">
<text x="1230.6" y="1674.9" text-anchor="end">0</text>
<text x="1228.8" y="1562.96" text-anchor="end">200</text>
<text x="1228.8" y="1438.42" text-anchor="end">400</text>
<text x="1228.8" y="1313.88" text-anchor="end">600</text>
</g>
<text transform="translate(1187.4 1451.1) rotate(-90) scale(1.0 1.06)" text-anchor="middle" font-family="'Liberation Sans', Arial, Helvetica, sans-serif" font-size="21" fill="#000" stroke="#000" stroke-width="0.45">Count</text>
<g stroke="#000" fill="none">
<line x1="1272.1" y1="1677.3" x2="1272.1" y2="1689.9" stroke-width="3.5"/>
<line x1="1277.2" y1="1677.3" x2="1277.2" y2="1682.9" stroke-width="2"/>
<line x1="1282.7" y1="1677.3" x2="1282.7" y2="1682.9" stroke-width="2"/>
<line x1="1289.7" y1="1677.3" x2="1289.7" y2="1682.9" stroke-width="2"/>
<line x1="1296.4" y1="1677.3" x2="1296.4" y2="1682.9" stroke-width="2"/>
<line x1="1314.5" y1="1677.3" x2="1314.5" y2="1682.9" stroke-width="2"/>
<line x1="1323.1" y1="1677.3" x2="1323.1" y2="1682.9" stroke-width="2"/>
<line x1="1331.9" y1="1677.3" x2="1331.9" y2="1682.9" stroke-width="2"/>
<line x1="1305.7" y1="1677.3" x2="1305.7" y2="1686.5" stroke-width="2.5"/>
<line x1="1340.45" y1="1677.3" x2="1340.45" y2="1689.9" stroke-width="3.5"/>
<line x1="1350.55" y1="1677.3" x2="1350.55" y2="1689.9" stroke-width="3.5"/>
<line x1="1360.1" y1="1677.3" x2="1360.1" y2="1689.9" stroke-width="3.5"/>
<line x1="1345.6" y1="1677.3" x2="1345.6" y2="1686.5" stroke-width="2.5"/>
<line x1="1354.9" y1="1677.3" x2="1354.9" y2="1686.5" stroke-width="2.5"/>
<line x1="1341.46" y1="1677.3" x2="1341.46" y2="1682.9" stroke-width="2"/>
<line x1="1351.51" y1="1677.3" x2="1351.51" y2="1682.9" stroke-width="2"/>
<line x1="1342.47" y1="1677.3" x2="1342.47" y2="1682.9" stroke-width="2"/>
<line x1="1352.46" y1="1677.3" x2="1352.46" y2="1682.9" stroke-width="2"/>
<line x1="1343.48" y1="1677.3" x2="1343.48" y2="1682.9" stroke-width="2"/>
<line x1="1353.41" y1="1677.3" x2="1353.41" y2="1682.9" stroke-width="2"/>
<line x1="1344.49" y1="1677.3" x2="1344.49" y2="1682.9" stroke-width="2"/>
<line x1="1354.37" y1="1677.3" x2="1354.37" y2="1682.9" stroke-width="2"/>
<line x1="1346.51" y1="1677.3" x2="1346.51" y2="1682.9" stroke-width="2"/>
<line x1="1356.28" y1="1677.3" x2="1356.28" y2="1682.9" stroke-width="2"/>
<line x1="1347.52" y1="1677.3" x2="1347.52" y2="1682.9" stroke-width="2"/>
<line x1="1357.23" y1="1677.3" x2="1357.23" y2="1682.9" stroke-width="2"/>
<line x1="1348.53" y1="1677.3" x2="1348.53" y2="1682.9" stroke-width="2"/>
<line x1="1358.19" y1="1677.3" x2="1358.19" y2="1682.9" stroke-width="2"/>
<line x1="1349.54" y1="1677.3" x2="1349.54" y2="1682.9" stroke-width="2"/>
<line x1="1359.14" y1="1677.3" x2="1359.14" y2="1682.9" stroke-width="2"/>
<line x1="1370.4" y1="1677.3" x2="1370.4" y2="1682.9" stroke-width="2"/>
<line x1="1379.2" y1="1677.3" x2="1379.2" y2="1682.9" stroke-width="2"/>
<line x1="1388" y1="1677.3" x2="1388" y2="1682.9" stroke-width="2"/>
<line x1="1403.8" y1="1677.3" x2="1403.8" y2="1682.9" stroke-width="2"/>
<line x1="1410.8" y1="1677.3" x2="1410.8" y2="1682.9" stroke-width="2"/>
<line x1="1418.1" y1="1677.3" x2="1418.1" y2="1682.9" stroke-width="2"/>
<line x1="1424.7" y1="1677.3" x2="1424.7" y2="1682.9" stroke-width="2"/>
<line x1="1470.5" y1="1677.3" x2="1470.5" y2="1682.9" stroke-width="2"/>
<line x1="1491.9" y1="1677.3" x2="1491.9" y2="1682.9" stroke-width="2"/>
<line x1="1507.4" y1="1677.3" x2="1507.4" y2="1682.9" stroke-width="2"/>
<line x1="1528.5" y1="1677.3" x2="1528.5" y2="1682.9" stroke-width="2"/>
<line x1="1535.5" y1="1677.3" x2="1535.5" y2="1682.9" stroke-width="2"/>
<line x1="1542.5" y1="1677.3" x2="1542.5" y2="1682.9" stroke-width="2"/>
<line x1="1547.7" y1="1677.3" x2="1547.7" y2="1682.9" stroke-width="2"/>
<line x1="1584.8" y1="1677.3" x2="1584.8" y2="1682.9" stroke-width="2"/>
<line x1="1602.2" y1="1677.3" x2="1602.2" y2="1682.9" stroke-width="2"/>
<line x1="1616.3" y1="1677.3" x2="1616.3" y2="1682.9" stroke-width="2"/>
<line x1="1633.7" y1="1677.3" x2="1633.7" y2="1682.9" stroke-width="2"/>
<line x1="1640.5" y1="1677.3" x2="1640.5" y2="1682.9" stroke-width="2"/>
<line x1="1645.9" y1="1677.3" x2="1645.9" y2="1682.9" stroke-width="2"/>
<line x1="1651.3" y1="1677.3" x2="1651.3" y2="1682.9" stroke-width="2"/>
<line x1="1686.5" y1="1677.3" x2="1686.5" y2="1682.9" stroke-width="2"/>
<line x1="1396.8" y1="1677.3" x2="1396.8" y2="1686.5" stroke-width="2.5"/>
<line x1="1518.1" y1="1677.3" x2="1518.1" y2="1686.5" stroke-width="2.5"/>
<line x1="1625.1" y1="1677.3" x2="1625.1" y2="1686.5" stroke-width="2.5"/>
<line x1="1430.2" y1="1677.3" x2="1430.2" y2="1689.9" stroke-width="3.5"/>
<line x1="1553.1" y1="1677.3" x2="1553.1" y2="1689.9" stroke-width="3.5"/>
<line x1="1656.7" y1="1677.3" x2="1656.7" y2="1689.9" stroke-width="3.5"/>
</g>
<g font-family="'Liberation Sans', Arial, Helvetica, sans-serif" font-size="17.5" fill="#000" stroke="#000" stroke-width="0.3">
<text x="1260.4" y="1729.8">-10</text>
<text x="1286.5" y="1715.4">3</text>
<text x="1346.3" y="1729.8">0</text>
<text x="1420.4" y="1729.8">10</text>
<text x="1441.4" y="1715.4">3</text>
<text x="1542.9" y="1729.8">10</text>
<text x="1564" y="1715.4">4</text>
<text x="1646.5" y="1729.8">10</text>
<text x="1667.4" y="1715.4">5</text>
</g>
<g font-family="'Liberation Sans', Arial, Helvetica, sans-serif" font-size="21" fill="#000" stroke="#000" stroke-width="0.45">
<text transform="translate(1440 1768.5) scale(1 1.06)">FITC-A</text>
</g>
<g font-family="'Liberation Sans', Arial, Helvetica, sans-serif" font-size="21" fill="#000" stroke="#000" stroke-width="0.45">
<text transform="translate(1258.6 1266.7) scale(1 1.06)">FITC-A-</text>
<text transform="translate(1260.4 1298.2) scale(1 1.06)">63.5</text>
<text transform="translate(1655.4 1266.7) scale(1 1.06)" text-anchor="end">FITC-A+</text>
<text transform="translate(1651.5 1298.2) scale(1 1.06)" text-anchor="end">36.5</text>
</g>
<clipPath id="c30"><rect x="110.1" y="1818.5" width="448" height="448.5"/></clipPath>
<g clip-path="url(#c30)">
<path d="M109.5 2264 202 2264 202.4 2263.9 203 2262.8 204 2260.7 204.5 2264 205 2257.8 205.5 2251.5 206 2245.2 206.1 2244 206.5 2233.5 207 2220.3 207.2 2215 208 2193.9 208.4 2172.1 208.8 2150.4 209 2139.5 209.4 2117.7 209.8 2097.3 210 2087.2 210.3 2071.9 211 2036.3 211.3 2021 211.7 2002.7 211.9 1993.6 212 1989 213 1943.3 213.3 1929.6 213.8 1906.7 214 1901.2 215 1873.4 215.1 1870.6 215.3 1865.1 215.5 1859.5 215.7 1854 216 1857.7 217 1870 217.5 1879.2 217.6 1881 218 1888.3 219 1906.7 220 1926.9 220.5 1937 221 1947.1 222 1967.3 222.8 1983.4 223 1986 223.8 1996.6 224 1999.3 225 2012.5 226 2025.7 227 2038.9 227.2 2041.6 228 2052.2 228.6 2060.1 229 2064.9 230 2076.9 231 2088.9 232 2100.9 232.4 2105.7 233 2112.9 233.4 2117.7 234 2123.2 235 2132.3 235.3 2135 236 2141.4 237 2150.5 237.6 2156 238 2159.1 238.5 2162.9 239 2166.8 240 2174.4 240.1 2175.2 241 2179.7 242 2184.8 243 2189.9 244 2194.9 245 2200 245.8 2204 246 2204.6 246.8 2206.9 247 2207.4 248 2210.3 249 2213.2 250 2216 250.6 2217.8 251 2218.9 252 2221.8 252.5 2223.2 253 2223.8 254 2225.1 255 2226.3 256 2227.6 257 2228.8 258 2230.1 259 2231.3 260 2232.6 260.2 2232.8 262 2234.6 264 2236.6 266 2238.6 268 2240.6 269.7 2242.3 270 2242.6 271.7 2244.3 272 2243.1 274 2244.1 275 2244.5 276 2245.1 278 2246.2 278.9 2246.7 280 2247.1 282 2247.7 284 2248.4 286 2249.1 288 2249.8 288.5 2250 290 2250.2 292 2250.6 294 2251.1 296 2251.6 298 2252.1 300 2252.5 302 2253 304 2252.5 306 2252 308 2251.5 310 2251 311.7 2250.6 312 2250.6 314 2250.7 316 2250.7 318 2250.8 320 2250.9 322 2251.1 324 2251.3 326 2251.5 327.1 2251.6 328 2251 330 2249.8 332 2248.6 334 2247.5 336 2246.5 336.7 2246.1 338 2246.3 340 2246.6 342 2246.7 344 2246.7 346 2246.7 348 2246.8 350 2246.8 350.2 2246.8 352 2245.6 354 2244.3 356 2242.9 357.9 2241.7 358 2241.7 360 2241.5 362 2241.3 364 2241 366 2240.8 368 2240.6 370 2240.4 372 2240.2 373.3 2240.1 374 2239.8 376 2239 378 2238.2 380 2237.4 382 2236.5 384 2235.6 384.9 2235.2 386 2235.2 388 2235 390 2234.9 392 2234.8 394 2234.7 396 2234.6 398 2234.4 400 2234.3 402 2234.2 402.2 2234.2 404 2234.5 406 2234.9 408 2235.2 410 2235.6 412 2236 413.8 2236.3 414 2236.3 415 2236.6 416 2237 418 2237.6 420 2238.2 422 2238.9 423.4 2239.4 424 2239.5 426 2240.1 428 2240.7 430 2241.3 432 2241.9 434 2242.5 435 2242.8 436 2243.3 438 2244.4 440 2245.5 442 2246.6 444 2247.7 446 2248.7 448 2249.8 448.5 2250.1 450 2250.3 452 2250.6 454 2250.9 456 2251.2 458 2251.4 460 2251.7 461.9 2252 462 2252 464 2252.7 466 2253.5 468 2254.2 470 2254.9 472 2255.6 474 2256.3 475.4 2256.8 476 2257 478 2257.7 480 2258.3 482 2259 484 2259.7 486 2260.4 487 2260.7 488 2260.9 490 2261.3 492 2261.8 494 2262.2 496 2262.6 498 2263.1 500 2263.5 500.5 2263.6 502 2263.7 504 2263.9 505 2264 558.9 2264Z" fill="#f5c4c0"/>
<path d="M109.5 2264 202 2264 202.4 2263.9 203 2262.8 204 2260.8 204.5 2259.7 205 2264 205.5 2257.3 206 2250.7 206.1 2249.3 206.5 2244 207 2230.8 207.2 2225.5 208 2204.4 208.4 2193.9 208.8 2172.1 209 2161.2 209.4 2139.5 209.8 2117.7 210 2107.5 210.3 2092.3 211 2056.6 211.3 2041.4 211.7 2021 211.9 2012.2 212 2007.8 213 1963.9 213.3 1950.7 213.8 1928.8 214 1920 215 1891.9 215.1 1889.1 215.3 1883.5 215.5 1877.9 215.7 1880.1 216 1883.4 217 1894.5 217.5 1900 217.6 1901.9 218 1909.3 219 1927.8 220 1946.3 220.5 1955.6 221 1964.9 222 1983.4 222.8 1995.2 223 1998.2 223.8 2010 224 2012.9 225 2027.7 226 2042.4 227 2057.2 227.2 2060.1 228 2069.7 228.6 2076.9 229 2081.7 230 2093.7 231 2105.7 232 2117.7 232.4 2121.5 233 2127.3 233.4 2131.1 234 2136.8 235 2146.4 235.3 2149.3 236 2156 237 2163.7 237.6 2168.3 238 2171.4 238.5 2175.2 239 2177.8 240 2183.1 240.1 2183.6 241 2188.3 242 2193.5 243 2198.8 244 2204 245 2206.9 245.8 2209.2 246 2209.8 246.8 2212.1 247 2212.7 248 2215.6 249 2218.5 250 2221.5 250.6 2223.2 251 2223.7 252 2225 252.5 2225.7 253 2226.3 254 2227.6 255 2228.9 256 2230.2 257 2231.5 258 2232.8 259 2233.8 260 2234.8 260.2 2235 262 2236.7 264 2238.7 266 2240.7 268 2242.6 269.7 2244.3 270 2242.1 271.7 2243.1 272 2243.3 274 2244.4 275 2245 276 2245.6 278 2246.9 278.9 2247.5 280 2248 282 2248.8 284 2249.6 286 2250.4 288 2251.2 288.5 2251.3 290 2251.7 292 2252.1 294 2252.5 296 2253 298 2253.4 300 2253.8 302 2254.2 304 2253.8 306 2253.4 308 2253 310 2252.5 311.7 2252.2 312 2252.2 314 2252.3 316 2252.4 318 2252.4 320 2252.5 322 2252.6 324 2252.7 326 2252.7 327.1 2252.8 328 2252.2 330 2251 332 2249.6 334 2248.2 336 2246.8 336.7 2246.3 338 2246.2 340 2246.1 342 2246 344 2245.9 346 2245.8 348 2245.7 350 2245.6 350.2 2245.6 352 2244.1 354 2242.5 356 2240.9 357.9 2239.3 358 2239.3 360 2238.8 362 2238.3 364 2237.8 366 2237.3 368 2236.8 370 2236.3 372 2235.7 373.3 2235.4 374 2234.9 376 2233.6 378 2232.3 380 2231 382 2229.9 384 2228.9 384.9 2228.4 386 2228.3 388 2228.1 390 2228 392 2227.8 394 2227.7 396 2227.5 398 2227.4 400 2227.2 402 2226.9 402.2 2226.9 404 2227.1 406 2227.4 408 2227.6 410 2227.9 412 2228.2 413.8 2228.5 414 2228.5 415 2228.8 416 2229.4 418 2230.5 420 2231.6 422 2232.7 423.4 2233.5 424 2233.7 426 2234.7 428 2235.6 430 2236.6 432 2237.4 434 2238.2 435 2238.6 436 2239.4 438 2240.8 440 2242.2 442 2243.6 444 2244.9 446 2246.3 448 2247.6 448.5 2247.9 450 2248.3 452 2248.7 454 2249.2 456 2249.6 458 2250.1 460 2250.5 461.9 2250.9 462 2250.9 464 2251.7 466 2252.6 468 2253.4 470 2254.2 472 2255 474 2255.8 475.4 2256.4 476 2256.6 478 2257.3 480 2258.1 482 2258.8 484 2259.5 486 2260.2 487 2260.6 488 2260.8 490 2261.3 492 2261.7 494 2262.2 496 2262.6 498 2263.1 500 2263.5 500.5 2263.6 502 2263.7 504 2263.9 505 2264 558.9 2264Z" fill="#f5a98c"/>
<path d="M109.5 2264 202 2264 202.4 2263.9 203 2262.8 204 2260.9 204.5 2259.9 205 2259 205.5 2258 206 2252.7 206.1 2251.6 206.5 2247.4 207 2242.1 207.2 2240 208 2228.8 208.4 2223.2 208.8 2217.6 209 2204.3 209.4 2177.6 209.8 2151 210 2137.7 210.3 2117.7 211 2075.7 211.3 2057.8 211.7 2033.8 211.9 2021.8 212 2019.5 213 1996.8 213.3 1990 213.8 1986.1 214 1984.5 215 1976.6 215.1 1975.8 215.3 1976.4 215.5 1977 215.7 1977.6 216 1978.5 217 1981.6 217.5 1983.1 217.6 1983.4 218 1988.4 219 2001.1 220 2013.7 220.5 2020 221 2026.1 222 2038.2 222.8 2047.9 223 2050.4 223.8 2060.1 224 2062.5 225 2074.5 226 2086.5 227 2098.5 227.2 2100.9 228 2110.5 228.6 2117.7 229 2121.7 230 2131.8 231 2141.9 232 2152 232.4 2156 233 2160 233.4 2162.6 234 2166.6 235 2173.2 235.3 2175.2 236 2179.4 237 2185.4 237.6 2189 238 2191.4 238.5 2194.4 239 2197.4 240 2203.4 240.1 2204 241 2206.6 242 2209.4 243 2212.3 244 2215.2 245 2218 245.8 2220.3 246 2220.9 246.8 2223.2 247 2223.5 248 2225.2 249 2226.9 250 2228.6 250.6 2229.6 251 2230.3 252 2232 252.5 2232.8 253 2233.3 254 2234.3 255 2235.3 256 2236.3 257 2237.3 258 2238.3 259 2239.3 260 2240.3 260.2 2240.5 262 2242.3 264 2244.3 266 2245.2 268 2246 269.7 2246.8 270 2246.9 271.7 2247.7 272 2247.8 274 2248.7 275 2249.1 276 2249.6 278 2250.6 278.9 2251 280 2251.3 282 2251.9 284 2252.5 286 2253.1 288 2253.7 288.5 2253.9 290 2254.1 292 2254.4 294 2254.7 296 2255 298 2255.3 300 2255.6 302 2255.9 304 2255.5 306 2255.1 308 2254.7 310 2254.3 311.7 2253.9 312 2253.9 314 2253.9 316 2253.9 318 2253.9 320 2253.9 322 2253.9 324 2253.9 326 2253.9 327.1 2253.9 328 2253.4 330 2252.2 332 2251 334 2249.8 336 2248.6 336.7 2248.2 338 2248.2 340 2248.2 342 2248.2 344 2248.2 346 2248.2 348 2248.2 350 2248.2 350.2 2248.2 352 2247.1 354 2245.8 356 2244.5 357.9 2243.3 358 2243.3 360 2243 362 2242.8 364 2242.5 366 2242.3 368 2242.1 370 2241.8 372 2241.6 373.3 2241.4 374 2241.1 376 2240.3 378 2239.5 380 2238.6 382 2237.8 384 2237 384.9 2236.6 386 2236.5 388 2236.4 390 2236.3 392 2236.2 394 2236.1 396 2236 398 2235.8 400 2235.7 402 2235.6 402.2 2235.6 404 2235.9 406 2236.3 408 2236.6 410 2236.9 412 2237.3 413.8 2237.6 414 2237.7 415 2237.9 416 2238.2 418 2238.8 420 2239.4 422 2240 423.4 2240.4 424 2240.6 426 2241.1 428 2241.6 430 2242.1 432 2242.6 434 2243.1 435 2243.3 436 2243.8 438 2244.8 440 2245.8 442 2246.8 444 2247.8 446 2248.8 448 2249.8 448.5 2250.1 450 2250.3 452 2250.6 454 2250.9 456 2251.2 458 2251.4 460 2251.7 461.9 2252 462 2252 464 2252.7 466 2253.5 468 2254.2 470 2254.9 472 2255.6 474 2256.3 475.4 2256.8 476 2257 478 2257.7 480 2258.3 482 2259 484 2259.7 486 2260.4 487 2260.7 488 2260.9 490 2261.3 492 2261.8 494 2262.2 496 2262.6 498 2263.1 500 2263.5 500.5 2263.6 502 2263.7 504 2263.9 505 2264 558.9 2264Z" fill="#9ab4af"/>
<path d="M109.5 2264 202 2264 202.4 2263.9 203 2262.8 204 2260.9 204.5 2259.9 205 2259 205.5 2258 206 2252.7 206.1 2251.6 206.5 2247.4 207 2242.1 207.2 2240 208 2228.8 208.4 2223.2 208.8 2217.6 209 2204.3 209.4 2177.6 209.8 2151 210 2137.7 210.3 2117.7 211 2075.7 211.3 2057.8 211.7 2033.8 211.9 2021.8 212 2019.5 213 1996.8 213.3 1990 213.8 1986.1 214 1984.5 215 1976.6 215.1 1975.8 215.3 1976.4 215.5 1977 215.7 1977.6 216 1978.5 217 1981.6 217.5 1983.1 217.6 1983.4 218 1988.4 219 2001.1 220 2013.7 220.5 2020 221 2026.1 222 2038.2 222.8 2047.9 223 2050.4 223.8 2060.1 224 2062.5 225 2074.5 226 2086.5 227 2098.5 227.2 2100.9 228 2110.5 228.6 2117.7 229 2121.7 230 2131.8 231 2141.9 232 2152 232.4 2156 233 2160 233.4 2162.6 234 2166.6 235 2173.2 235.3 2175.2 236 2179.4 237 2185.4 237.6 2189 238 2191.4 238.5 2194.4 239 2197.4 240 2203.4 240.1 2204 241 2206.6 242 2209.4 243 2212.3 244 2215.2 245 2218 245.8 2220.3 246 2220.9 246.8 2223.2 247 2223.5 248 2225.2 249 2226.9 250 2228.6 250.6 2229.6 251 2230.3 252 2232 252.5 2232.8 253 2233.3 254 2234.3 255 2235.3 256 2236.3 257 2237.3 258 2238.3 259 2239.3 260 2240.3 260.2 2240.5 262 2242.3 264 2244.3 266 2245.2 268 2246 269.7 2246.8 270 2246.9 271.7 2247.7 272 2247.8 274 2248.7 275 2249.1 276 2249.6 278 2250.6 278.9 2251 280 2251.3 282 2251.9 284 2252.5 286 2253.1 288 2253.7 288.5 2253.9 290 2254.1 292 2254.4 294 2254.7 296 2255 298 2255.3 300 2255.6 302 2255.9 304 2255.5 306 2255.1 308 2254.7 310 2254.3 311.7 2253.9 312 2253.9 314 2253.9 316 2253.9 318 2253.9 320 2253.9 322 2253.9 324 2253.9 326 2253.9 327.1 2253.9 328 2253.4 330 2252.2 332 2251 334 2249.8 336 2248.6 336.7 2248.2 338 2248.2 340 2248.2 342 2248.2 344 2248.2 346 2248.2 348 2248.2 350 2248.2 350.2 2248.2 352 2247.1 354 2245.8 356 2244.5 357.9 2243.3 358 2243.3 360 2243 362 2242.8 364 2242.5 366 2242.3 368 2242.1 370 2241.8 372 2241.6 373.3 2241.4 374 2241.1 376 2240.3 378 2239.5 380 2238.6 382 2237.8 384 2237 384.9 2236.6 386 2236.5 388 2236.4 390 2236.3 392 2236.2 394 2236.1 396 2236 398 2235.8 400 2235.7 402 2235.6 402.2 2235.6 404 2235.9 406 2236.3 408 2236.6 410 2236.9 412 2237.3 413.8 2237.6 414 2237.7 415 2237.9 416 2238.2 418 2238.8 420 2239.4 422 2240 423.4 2240.4 424 2240.6 426 2241.1 428 2241.6 430 2242.1 432 2242.8 434 2243.5 435 2243.8 436 2244.4 438 2245.6 440 2246.7 442 2247.9 444 2249 446 2250.1 448 2251.1 448.5 2251.4 450 2251.7 452 2251.9 454 2252.2 456 2252.4 458 2252.7 460 2253 461.9 2253.2 462 2253.2 464 2253.9 466 2254.5 468 2255.2 470 2255.8 472 2256.4 474 2257.1 475.4 2257.5 476 2257.7 478 2258.3 480 2258.9 482 2259.5 484 2260 486 2260.6 487 2260.9 488 2261.1 490 2261.5 492 2261.9 494 2262.3 496 2262.7 498 2263.1 500 2263.5 500.5 2263.6 502 2263.7 504 2263.9 505 2264 558.9 2264" fill="none" stroke="#a1857f" stroke-width="1.8" stroke-linejoin="round"/>
<path d="M109.5 2264 202 2264 202.4 2263.9 203 2262.8 204 2260.7 204.5 2264 205 2257.8 205.5 2251.5 206 2245.2 206.1 2244 206.5 2233.5 207 2220.3 207.2 2215 208 2193.9 208.4 2172.1 208.8 2150.4 209 2139.5 209.4 2117.7 209.8 2097.3 210 2087.2 210.3 2071.9 211 2036.3 211.3 2021 211.7 2002.7 211.9 1993.6 212 1989 213 1943.3 213.3 1929.6 213.8 1906.7 214 1901.2 215 1873.4 215.1 1870.6 215.3 1865.1 215.5 1859.5 215.7 1854 216 1857.7 217 1870 217.5 1879.2 217.6 1881 218 1888.3 219 1906.7 220 1926.9 220.5 1937 221 1947.1 222 1967.3 222.8 1983.4 223 1986 223.8 1996.6 224 1999.3 225 2012.5 226 2025.7 227 2038.9 227.2 2041.6 228 2052.2 228.6 2060.1 229 2064.9 230 2076.9 231 2088.9 232 2100.9 232.4 2105.7 233 2112.9 233.4 2117.7 234 2123.2 235 2132.3 235.3 2135 236 2141.4 237 2150.5 237.6 2156 238 2159.1 238.5 2162.9 239 2166.8 240 2174.4 240.1 2175.2 241 2179.7 242 2184.8 243 2189.9 244 2194.9 245 2200 245.8 2204 246 2204.6 246.8 2206.9 247 2207.4 248 2210.3 249 2213.2 250 2216 250.6 2217.8 251 2218.9 252 2221.8 252.5 2223.2 253 2223.8 254 2225.1 255 2226.3 256 2227.6 257 2228.8 258 2230.1 259 2231.3 260 2232.6 260.2 2232.8 262 2234.6 264 2236.6 266 2238.6 268 2240.6 269.7 2242.3 270 2242.6 271.7 2244.3 272 2243.1 274 2244.1 275 2244.5 276 2245.1 278 2246.2 278.9 2246.7 280 2247.1 282 2247.7 284 2248.4 286 2249.1 288 2249.8 288.5 2250 290 2250.2 292 2250.6 294 2251.1 296 2251.6 298 2252.1 300 2252.5 302 2253 304 2252.5 306 2252 308 2251.5 310 2251 311.7 2250.6 312 2250.6 314 2250.7 316 2250.7 318 2250.8 320 2250.9 322 2251.1 324 2251.3 326 2251.5 327.1 2251.6 328 2251 330 2249.8 332 2248.6 334 2247.5 336 2246.5 336.7 2246.1 338 2246.3 340 2246.6 342 2246.7 344 2246.7 346 2246.7 348 2246.8 350 2246.8 350.2 2246.8 352 2245.6 354 2244.3 356 2242.9 357.9 2241.7 358 2241.7 360 2241.5 362 2241.3 364 2241 366 2240.8 368 2240.6 370 2240.4 372 2240.2 373.3 2240.1 374 2239.8 376 2239 378 2238.2 380 2237.4 382 2236.5 384 2235.6 384.9 2235.2 386 2235.2 388 2235 390 2234.9 392 2234.8 394 2234.7 396 2234.6 398 2234.4 400 2234.3 402 2234.2 402.2 2234.2 404 2234.5 406 2234.9 408 2235.2 410 2235.6 412 2236 413.8 2236.3 414 2236.3 415 2236.6 416 2237 418 2237.6 420 2238.2 422 2238.9 423.4 2239.4 424 2239.5 426 2240.1 428 2240.7 430 2241.3 432 2241.9 434 2242.5 435 2242.8 436 2243.3 438 2244.4 440 2245.5 442 2246.6 444 2247.7 446 2248.7 448 2249.8 448.5 2250.1 450 2250.3 452 2250.6 454 2250.9 456 2251.2 458 2251.4 460 2251.7 461.9 2252 462 2252 464 2252.7 466 2253.5 468 2254.2 470 2254.9 472 2255.6 474 2256.3 475.4 2256.8 476 2257 478 2257.7 480 2258.3 482 2259 484 2259.7 486 2260.4 487 2260.7 488 2260.9 490 2261.3 492 2261.8 494 2262.2 496 2262.6 498 2263.1 500 2263.5 500.5 2263.6 502 2263.7 504 2263.9 505 2264 558.9 2264" fill="none" stroke="#ec1c1c" stroke-width="2" stroke-linejoin="round"/>
<path d="M109.5 2264 202 2264 202.4 2263.9 203 2262.8 204 2260.8 204.5 2259.7 205 2264 205.5 2257.3 206 2250.7 206.1 2249.3 206.5 2244 207 2230.8 207.2 2225.5 208 2204.4 208.4 2193.9 208.8 2172.1 209 2161.2 209.4 2139.5 209.8 2117.7 210 2107.5 210.3 2092.3 211 2056.6 211.3 2041.4 211.7 2021 211.9 2012.2 212 2007.8 213 1963.9 213.3 1950.7 213.8 1928.8 214 1920 215 1891.9 215.1 1889.1 215.3 1883.5 215.5 1877.9 215.7 1880.1 216 1883.4 217 1894.5 217.5 1900 217.6 1901.9 218 1909.3 219 1927.8 220 1946.3 220.5 1955.6 221 1964.9 222 1983.4 222.8 1995.2 223 1998.2 223.8 2010 224 2012.9 225 2027.7 226 2042.4 227 2057.2 227.2 2060.1 228 2069.7 228.6 2076.9 229 2081.7 230 2093.7 231 2105.7 232 2117.7 232.4 2121.5 233 2127.3 233.4 2131.1 234 2136.8 235 2146.4 235.3 2149.3 236 2156 237 2163.7 237.6 2168.3 238 2171.4 238.5 2175.2 239 2177.8 240 2183.1 240.1 2183.6 241 2188.3 242 2193.5 243 2198.8 244 2204 245 2206.9 245.8 2209.2 246 2209.8 246.8 2212.1 247 2212.7 248 2215.6 249 2218.5 250 2221.5 250.6 2223.2 251 2223.7 252 2225 252.5 2225.7 253 2226.3 254 2227.6 255 2228.9 256 2230.2 257 2231.5 258 2232.8 259 2233.8 260 2234.8 260.2 2235 262 2236.7 264 2238.7 266 2240.7 268 2242.6 269.7 2244.3 270 2242.1 271.7 2243.1 272 2243.3 274 2244.4 275 2245 276 2245.6 278 2246.9 278.9 2247.5 280 2248 282 2248.8 284 2249.6 286 2250.4 288 2251.2 288.5 2251.3 290 2251.7 292 2252.1 294 2252.5 296 2253 298 2253.4 300 2253.8 302 2254.2 304 2253.8 306 2253.4 308 2253 310 2252.5 311.7 2252.2 312 2252.2 314 2252.3 316 2252.4 318 2252.4 320 2252.5 322 2252.6 324 2252.7 326 2252.7 327.1 2252.8 328 2252.2 330 2251 332 2249.6 334 2248.2 336 2246.8 336.7 2246.3 338 2246.2 340 2246.1 342 2246 344 2245.9 346 2245.8 348 2245.7 350 2245.6 350.2 2245.6 352 2244.1 354 2242.5 356 2240.9 357.9 2239.3 358 2239.3 360 2238.8 362 2238.3 364 2237.8 366 2237.3 368 2236.8 370 2236.3 372 2235.7 373.3 2235.4 374 2234.9 376 2233.6 378 2232.3 380 2231 382 2229.9 384 2228.9 384.9 2228.4 386 2228.3 388 2228.1 390 2228 392 2227.8 394 2227.7 396 2227.5 398 2227.4 400 2227.2 402 2226.9 402.2 2226.9 404 2227.1 406 2227.4 408 2227.6 410 2227.9 412 2228.2 413.8 2228.5 414 2228.5 415 2228.8 416 2229.4 418 2230.5 420 2231.6 422 2232.7 423.4 2233.5 424 2233.7 426 2234.7 428 2235.6 430 2236.6 432 2237.4 434 2238.2 435 2238.6 436 2239.4 438 2240.8 440 2242.2 442 2243.6 444 2244.9 446 2246.3 448 2247.6 448.5 2247.9 450 2248.3 452 2248.7 454 2249.2 456 2249.6 458 2250.1 460 2250.5 461.9 2250.9 462 2250.9 464 2251.7 466 2252.6 468 2253.4 470 2254.2 472 2255 474 2255.8 475.4 2256.4 476 2256.6 478 2257.3 480 2258.1 482 2258.8 484 2259.5 486 2260.2 487 2260.6 488 2260.8 490 2261.3 492 2261.7 494 2262.2 496 2262.6 498 2263.1 500 2263.5 500.5 2263.6 502 2263.7 504 2263.9 505 2264 558.9 2264" fill="none" stroke="#ff8a14" stroke-width="2" stroke-linejoin="round"/>
<path d="M109.5 2264 202 2264 202.4 2263.9 203 2262.8 204 2260.9 204.5 2259.9 205 2259 205.5 2258 206 2252.7 206.1 2251.6 206.5 2247.4 207 2242.1 207.2 2240 208 2228.8 208.4 2223.2 208.8 2217.6 209 2204.3 209.4 2177.6 209.8 2151 210 2137.7 210.3 2117.7 211 2075.7 211.3 2057.8 211.7 2033.8 211.9 2021.8 212 2019.5 213 1996.8 213.3 1990 213.8 1986.1 214 1984.5 215 1976.6 215.1 1975.8 215.3 1976.4 215.5 1977 215.7 1977.6 216 1978.5 217 1981.6 217.5 1983.1 217.6 1983.4 218 1988.4 219 2001.1 220 2013.7 220.5 2020 221 2026.1 222 2038.2 222.8 2047.9 223 2050.4 223.8 2060.1 224 2062.5 225 2074.5 226 2086.5 227 2098.5 227.2 2100.9 228 2110.5 228.6 2117.7 229 2121.7 230 2131.8 231 2141.9 232 2152 232.4 2156 233 2160 233.4 2162.6 234 2166.6 235 2173.2 235.3 2175.2 236 2179.4 237 2185.4 237.6 2189 238 2191.4 238.5 2194.4 239 2197.4 240 2203.4 240.1 2204 241 2206.6 242 2209.4 243 2212.3 244 2215.2 245 2218 245.8 2220.3 246 2220.9 246.8 2223.2 247 2223.5 248 2225.2 249 2226.9 250 2228.6 250.6 2229.6 251 2230.3 252 2232 252.5 2232.8 253 2233.3 254 2234.3 255 2235.3 256 2236.3 257 2237.3 258 2238.3 259 2239.3 260 2240.3 260.2 2240.5 262 2242.3 264 2244.3 266 2245.2 268 2246 269.7 2246.8 270 2246.9 271.7 2247.7 272 2247.8 274 2248.7 275 2249.1 276 2249.6 278 2250.6 278.9 2251 280 2251.3 282 2251.9 284 2252.5 286 2253.1 288 2253.7 288.5 2253.9 290 2254.1 292 2254.4 294 2254.7 296 2255 298 2255.3 300 2255.6 302 2255.9 304 2255.5 306 2255.1 308 2254.7 310 2254.3 311.7 2253.9 312 2253.9 314 2253.9 316 2253.9 318 2253.9 320 2253.9 322 2253.9 324 2253.9 326 2253.9 327.1 2253.9 328 2253.4 330 2252.2 332 2251 334 2249.8 336 2248.6 336.7 2248.2 338 2248.2 340 2248.2 342 2248.2 344 2248.2 346 2248.2 348 2248.2 350 2248.2 350.2 2248.2 352 2247.1 354 2245.8 356 2244.5 357.9 2243.3 358 2243.3 360 2243 362 2242.8 364 2242.5 366 2242.3 368 2242.1 370 2241.8 372 2241.6 373.3 2241.4 374 2241.1 376 2240.3 378 2239.5 380 2238.6 382 2237.8 384 2237 384.9 2236.6 386 2236.5 388 2236.4 390 2236.3 392 2236.2 394 2236.1 396 2236 398 2235.8 400 2235.7 402 2235.6 402.2 2235.6 404 2235.9 406 2236.3 408 2236.6 410 2236.9 412 2237.3 413.8 2237.6 414 2237.7 415 2237.9 416 2238.2 418 2238.8 420 2239.4 422 2240 423.4 2240.4 424 2240.6 426 2241.1 428 2241.6 430 2242.1 432 2242.6 434 2243.1 435 2243.3 436 2243.8 438 2244.8 440 2245.8 442 2246.8 444 2247.8 446 2248.8 448 2249.8 448.5 2250.1 450 2250.3 452 2250.6 454 2250.9 456 2251.2 458 2251.4 460 2251.7 461.9 2252 462 2252 464 2252.7 466 2253.5 468 2254.2 470 2254.9 472 2255.6 474 2256.3 475.4 2256.8 476 2257 478 2257.7 480 2258.3 482 2259 484 2259.7 486 2260.4 487 2260.7 488 2260.9 490 2261.3 492 2261.8 494 2262.2 496 2262.6 498 2263.1 500 2263.5 500.5 2263.6 502 2263.7 504 2263.9 505 2264 558.9 2264" fill="none" stroke="#00bcef" stroke-width="2.6" stroke-linejoin="round"/>
</g>
<g stroke="#000" stroke-width="2.6" fill="none">
<line x1="109.5" y1="2168.8" x2="313" y2="2168.8"/>
<line x1="313" y1="2191.9" x2="557.9" y2="2191.9"/>
</g>
<g stroke="#000" stroke-width="2.7" stroke-linecap="round" fill="none">
<line x1="110.3" y1="2159.8" x2="110.3" y2="2177.8"/>
<line x1="313" y1="2159.8" x2="313" y2="2177.8"/>
<line x1="313" y1="2182.9" x2="313" y2="2200.9"/>
<line x1="557.3" y1="2182.9" x2="557.3" y2="2200.9"/>
</g>
<path d="M109.5 1817.7H558.9V2267.6" stroke="#3a3a3a" stroke-width="1.8" fill="none"/>
<path d="M109.5 1817.7V2267.6H558.9" stroke="#000" stroke-width="1.6" fill="none"/>
<g stroke="#000" fill="none">
<line x1="97.2" y1="2265.3" x2="109.5" y2="2265.3" stroke-width="3.2"/>
<line x1="104.2" y1="2240.62" x2="109.5" y2="2240.62" stroke-width="2"/>
<line x1="104.2" y1="2215.95" x2="109.5" y2="2215.95" stroke-width="2"/>
<line x1="104.2" y1="2191.28" x2="109.5" y2="2191.28" stroke-width="2"/>
<line x1="97.2" y1="2166.6" x2="109.5" y2="2166.6" stroke-width="3.2"/>
<line x1="104.2" y1="2141.93" x2="109.5" y2="2141.93" stroke-width="2"/>
<line x1="104.2" y1="2117.25" x2="109.5" y2="2117.25" stroke-width="2"/>
<line x1="104.2" y1="2092.58" x2="109.5" y2="2092.58" stroke-width="2"/>
<line x1="97.2" y1="2067.9" x2="109.5" y2="2067.9" stroke-width="3.2"/>
<line x1="104.2" y1="2043.23" x2="109.5" y2="2043.23" stroke-width="2"/>
<line x1="104.2" y1="2018.55" x2="109.5" y2="2018.55" stroke-width="2"/>
<line x1="104.2" y1="1993.88" x2="109.5" y2="1993.88" stroke-width="2"/>
<line x1="97.2" y1="1969.2" x2="109.5" y2="1969.2" stroke-width="3.2"/>
<line x1="104.2" y1="1944.53" x2="109.5" y2="1944.53" stroke-width="2"/>
<line x1="104.2" y1="1919.85" x2="109.5" y2="1919.85" stroke-width="2"/>
<line x1="104.2" y1="1895.18" x2="109.5" y2="1895.18" stroke-width="2"/>
<line x1="97.2" y1="1870.5" x2="109.5" y2="1870.5" stroke-width="3.2"/>
<line x1="104.2" y1="1845.83" x2="109.5" y2="1845.83" stroke-width="2"/>
<line x1="104.2" y1="1821.15" x2="109.5" y2="1821.15" stroke-width="2"/>
</g>
<g font-family="'Liberation Sans', Arial, Helvetica, sans-serif" font-size="18" fill="#000" stroke="#000" stroke-width="0.3">
<text x="89.1" y="2265" text-anchor="end">0</text>
<text x="87.3" y="2178.9" text-anchor="end">200</text>
<text x="87.3" y="2080.2" text-anchor="end">400</text>
<text x="87.3" y="1981.5" text-anchor="end">600</text>
<text x="87.3" y="1882.8" text-anchor="end">800</text>
</g>
<text transform="translate(45.9 2041.45) rotate(-90) scale(1.0 1.06)" text-anchor="middle" font-family="'Liberation Sans', Arial, Helvetica, sans-serif" font-size="21" fill="#000" stroke="#000" stroke-width="0.45">Count</text>
<g stroke="#000" fill="none">
<line x1="130.6" y1="2267.6" x2="130.6" y2="2280.2" stroke-width="3.5"/>
<line x1="135.7" y1="2267.6" x2="135.7" y2="2273.2" stroke-width="2"/>
<line x1="141.2" y1="2267.6" x2="141.2" y2="2273.2" stroke-width="2"/>
<line x1="148.2" y1="2267.6" x2="148.2" y2="2273.2" stroke-width="2"/>
<line x1="154.9" y1="2267.6" x2="154.9" y2="2273.2" stroke-width="2"/>
<line x1="173" y1="2267.6" x2="173" y2="2273.2" stroke-width="2"/>
<line x1="181.6" y1="2267.6" x2="181.6" y2="2273.2" stroke-width="2"/>
<line x1="190.4" y1="2267.6" x2="190.4" y2="2273.2" stroke-width="2"/>
<line x1="164.2" y1="2267.6" x2="164.2" y2="2276.8" stroke-width="2.5"/>
<line x1="198.95" y1="2267.6" x2="198.95" y2="2280.2" stroke-width="3.5"/>
<line x1="209.05" y1="2267.6" x2="209.05" y2="2280.2" stroke-width="3.5"/>
<line x1="218.6" y1="2267.6" x2="218.6" y2="2280.2" stroke-width="3.5"/>
<line x1="204.1" y1="2267.6" x2="204.1" y2="2276.8" stroke-width="2.5"/>
<line x1="213.4" y1="2267.6" x2="213.4" y2="2276.8" stroke-width="2.5"/>
<line x1="199.96" y1="2267.6" x2="199.96" y2="2273.2" stroke-width="2"/>
<line x1="210" y1="2267.6" x2="210" y2="2273.2" stroke-width="2"/>
<line x1="200.97" y1="2267.6" x2="200.97" y2="2273.2" stroke-width="2"/>
<line x1="210.96" y1="2267.6" x2="210.96" y2="2273.2" stroke-width="2"/>
<line x1="201.98" y1="2267.6" x2="201.98" y2="2273.2" stroke-width="2"/>
<line x1="211.91" y1="2267.6" x2="211.91" y2="2273.2" stroke-width="2"/>
<line x1="202.99" y1="2267.6" x2="202.99" y2="2273.2" stroke-width="2"/>
<line x1="212.87" y1="2267.6" x2="212.87" y2="2273.2" stroke-width="2"/>
<line x1="205.01" y1="2267.6" x2="205.01" y2="2273.2" stroke-width="2"/>
<line x1="214.78" y1="2267.6" x2="214.78" y2="2273.2" stroke-width="2"/>
<line x1="206.02" y1="2267.6" x2="206.02" y2="2273.2" stroke-width="2"/>
<line x1="215.74" y1="2267.6" x2="215.74" y2="2273.2" stroke-width="2"/>
<line x1="207.03" y1="2267.6" x2="207.03" y2="2273.2" stroke-width="2"/>
<line x1="216.69" y1="2267.6" x2="216.69" y2="2273.2" stroke-width="2"/>
<line x1="208.04" y1="2267.6" x2="208.04" y2="2273.2" stroke-width="2"/>
<line x1="217.64" y1="2267.6" x2="217.64" y2="2273.2" stroke-width="2"/>
<line x1="228.9" y1="2267.6" x2="228.9" y2="2273.2" stroke-width="2"/>
<line x1="237.7" y1="2267.6" x2="237.7" y2="2273.2" stroke-width="2"/>
<line x1="246.5" y1="2267.6" x2="246.5" y2="2273.2" stroke-width="2"/>
<line x1="262.3" y1="2267.6" x2="262.3" y2="2273.2" stroke-width="2"/>
<line x1="269.3" y1="2267.6" x2="269.3" y2="2273.2" stroke-width="2"/>
<line x1="276.6" y1="2267.6" x2="276.6" y2="2273.2" stroke-width="2"/>
<line x1="283.2" y1="2267.6" x2="283.2" y2="2273.2" stroke-width="2"/>
<line x1="329" y1="2267.6" x2="329" y2="2273.2" stroke-width="2"/>
<line x1="350.4" y1="2267.6" x2="350.4" y2="2273.2" stroke-width="2"/>
<line x1="365.9" y1="2267.6" x2="365.9" y2="2273.2" stroke-width="2"/>
<line x1="387" y1="2267.6" x2="387" y2="2273.2" stroke-width="2"/>
<line x1="394" y1="2267.6" x2="394" y2="2273.2" stroke-width="2"/>
<line x1="401" y1="2267.6" x2="401" y2="2273.2" stroke-width="2"/>
<line x1="406.2" y1="2267.6" x2="406.2" y2="2273.2" stroke-width="2"/>
<line x1="443.3" y1="2267.6" x2="443.3" y2="2273.2" stroke-width="2"/>
<line x1="460.7" y1="2267.6" x2="460.7" y2="2273.2" stroke-width="2"/>
<line x1="474.8" y1="2267.6" x2="474.8" y2="2273.2" stroke-width="2"/>
<line x1="492.2" y1="2267.6" x2="492.2" y2="2273.2" stroke-width="2"/>
<line x1="499" y1="2267.6" x2="499" y2="2273.2" stroke-width="2"/>
<line x1="504.4" y1="2267.6" x2="504.4" y2="2273.2" stroke-width="2"/>
<line x1="509.8" y1="2267.6" x2="509.8" y2="2273.2" stroke-width="2"/>
<line x1="545" y1="2267.6" x2="545" y2="2273.2" stroke-width="2"/>
<line x1="255.3" y1="2267.6" x2="255.3" y2="2276.8" stroke-width="2.5"/>
<line x1="376.6" y1="2267.6" x2="376.6" y2="2276.8" stroke-width="2.5"/>
<line x1="483.6" y1="2267.6" x2="483.6" y2="2276.8" stroke-width="2.5"/>
<line x1="288.7" y1="2267.6" x2="288.7" y2="2280.2" stroke-width="3.5"/>
<line x1="411.6" y1="2267.6" x2="411.6" y2="2280.2" stroke-width="3.5"/>
<line x1="515.2" y1="2267.6" x2="515.2" y2="2280.2" stroke-width="3.5"/>
</g>
<g font-family="'Liberation Sans', Arial, Helvetica, sans-serif" font-size="17.5" fill="#000" stroke="#000" stroke-width="0.3">
<text x="118.9" y="2320.1">-10</text>
<text x="145" y="2305.7">3</text>
<text x="204.8" y="2320.1">0</text>
<text x="278.9" y="2320.1">10</text>
<text x="299.9" y="2305.7">3</text>
<text x="401.4" y="2320.1">10</text>
<text x="422.5" y="2305.7">4</text>
<text x="505" y="2320.1">10</text>
<text x="525.9" y="2305.7">5</text>
</g>
<g font-family="'Liberation Sans', Arial, Helvetica, sans-serif" font-size="21" fill="#000" stroke="#000" stroke-width="0.45">
<text transform="translate(298.5 2358.8) scale(1 1.06)">FITC-A</text>
</g>
<g font-family="'Liberation Sans', Arial, Helvetica, sans-serif" font-size="21" fill="#000" stroke="#000" stroke-width="0.45">
<text transform="translate(117.1 1857.1) scale(1 1.06)">FITC-A-</text>
<text transform="translate(118.9 1888.6) scale(1 1.06)">70.9</text>
<text transform="translate(513.9 1857.1) scale(1 1.06)" text-anchor="end">FITC-A+</text>
<text transform="translate(510 1888.6) scale(1 1.06)" text-anchor="end">29.1</text>
</g>
<clipPath id="c31"><rect x="681" y="1818.5" width="448" height="448.5"/></clipPath>
<g clip-path="url(#c31)">
<path d="M680.4 2264 772.9 2264 773.2 2263.8 773.9 2256 774.9 2244.9 775 2243.8 775.9 2233.5 776.9 2221.9 777.7 2212.4 777.9 2202.1 778.9 2150 779.7 2107.6 779.9 2096.9 780.9 2042.8 781.7 1998.7 781.9 1991.7 782.9 1956.2 783 1952.6 783.9 1919.7 784.3 1904.9 784.9 1896.6 785.9 1882.5 786 1881.1 786.7 1871.1 786.9 1872.5 787.9 1879.5 788.3 1882.4 788.9 1891.1 789 1892.6 789.9 1918.9 790.9 1947.7 791.6 1967.6 791.9 1975 792 1977.5 792.9 1997.7 793.9 2020 794.6 2035.6 794.9 2040.6 795.9 2057.3 796.9 2074 797.9 2090.6 798.6 2102.1 798.9 2105.5 799.9 2116.8 800 2118 800.9 2128 801.9 2139.2 802.9 2150.3 803.5 2156.9 803.9 2159 804.9 2164.3 805.9 2169.6 806.9 2174.8 807.9 2180.1 808.5 2183.2 808.9 2184.4 809.9 2187.4 810.9 2190.4 811.9 2193.4 812.9 2196.4 813.9 2199.3 814.4 2200.8 814.9 2202.2 815 2202.5 815.9 2204.7 816.9 2207.2 817.9 2209.7 818.9 2212.2 819.9 2214.8 820 2215 820.9 2216.5 821.9 2218.1 822.9 2219.7 823.9 2221.3 824.9 2223 825.9 2224.6 826.9 2226.3 827.9 2228 828.9 2229.7 829.9 2231.4 830 2231.6 830.9 2233.2 831.6 2234.4 832.9 2235.2 834.9 2236.4 836.9 2237.6 838.9 2238.8 839.3 2239.1 840 2239.5 840.9 2240 842.9 2241.3 844.9 2242.5 846.9 2243.8 848.9 2245.1 850 2245.6 850.9 2246 852.9 2247 854.9 2248 856.9 2249 858.5 2249.8 858.9 2249.7 860.9 2249.6 862.9 2249.5 864.9 2249.4 866.9 2249.3 868.9 2249.2 870.9 2249.1 872.9 2249 874 2248.9 874.9 2249 876.9 2249.2 878.9 2249.4 880 2249.6 880.9 2249.6 882.9 2249.8 884.9 2250 886.9 2250.2 887.4 2250.2 888.9 2249.8 890.9 2249.3 892.9 2248.8 894.9 2248.3 896.9 2247.9 898.9 2247.4 900 2247.1 900.9 2246.9 902.9 2246.6 904.9 2246.4 906.9 2246.2 908.9 2246 910.9 2245.7 912.9 2245.5 914.9 2245.3 916.3 2245.1 916.9 2245.1 918.9 2244.8 920 2244.6 920.9 2244.3 922.9 2243.7 924.9 2243.1 926.9 2242.4 927.9 2242.1 928.9 2240.7 930.9 2237.8 932.9 2234.8 934.9 2231.8 935 2231.6 936.9 2229.3 937.5 2228.6 938.9 2228.2 940.9 2227.6 942.9 2227 944.9 2226.5 946.9 2225.9 947.2 2225.8 948.9 2223.9 950 2222.6 950.9 2221.6 952.9 2219.5 954.9 2217.3 956.9 2215.3 958.7 2213.4 958.9 2213.4 960.9 2212.6 962.9 2211.9 964.9 2211.2 966.9 2210.5 968.9 2209.8 970 2209.4 970.3 2209.3 970.9 2209.2 972.9 2209 974.9 2208.8 976.9 2208.6 978.9 2208.4 980.9 2208.3 982.9 2208.1 983.8 2208 984.9 2207.6 986.9 2207 988.9 2206.3 990 2206 990.9 2205.5 992.9 2204.6 994.4 2203.8 994.9 2204.4 996.9 2206.5 998.9 2208.6 1000 2209.8 1000.9 2210.8 1002.9 2213 1003 2213.1 1004.9 2211.8 1006.9 2210.5 1008.9 2209.2 1010 2208.5 1010.7 2208.1 1010.9 2208.2 1012.9 2209.6 1014.9 2211 1016.9 2212.4 1018.9 2213.7 1020 2214.5 1020.4 2214.8 1020.9 2215.2 1022.9 2216.7 1024.9 2218.2 1026.9 2219.8 1028.9 2221.3 1030 2222.2 1030.9 2222.8 1031.9 2223.5 1032.9 2224 1034.9 2224.9 1036.9 2225.9 1038.9 2226.9 1040.9 2227.9 1042.9 2229 1044.9 2230 1045.4 2230.2 1046.9 2231.5 1048.9 2233.1 1050 2234.1 1050.9 2235 1052.9 2237.1 1054.9 2239.2 1056.9 2241.2 1057 2241.3 1058.9 2242.3 1060 2242.8 1060.9 2243.3 1062.9 2244.3 1064.9 2245.2 1065 2245.3 1066.9 2246 1068.6 2246.6 1068.9 2246.9 1070.9 2249 1072.9 2251 1074.9 2253 1076.9 2255 1078.9 2257.1 1080.1 2258.3 1080.9 2258.5 1082.9 2258.9 1084.9 2259.4 1086.9 2259.8 1088.9 2260.3 1090 2260.5 1090.9 2260.8 1092.9 2261.2 1093.6 2261.4 1094.9 2261.6 1096.9 2262 1098.9 2262.3 1100 2262.5 1100.9 2262.7 1102.9 2263 1104.9 2263.3 1106.9 2263.7 1108.9 2264 1109 2264 1129.8 2264Z" fill="#fbdcc2"/>
<path d="M680.4 2264 772.9 2264 773.2 2263.8 773.9 2256 774.9 2244.9 775 2243.8 775.9 2233.8 776.9 2222.7 777.7 2213.8 777.9 2203.9 778.9 2154.3 779.7 2114.6 779.9 2104.7 780.9 2055.1 781.7 2015.4 781.9 2009.3 782.9 1978.8 783 1975.7 783.9 1948.2 784.3 1936 784.9 1930.5 785.9 1921.2 786 1920.3 786.7 1913.8 786.9 1915.7 787.9 1925.4 788.3 1929.2 788.9 1935 789 1936 789.9 1956.6 790.9 1979.6 791.6 1995.6 791.9 2001.5 792 2003.5 792.9 2021.4 793.9 2041.2 794.6 2055.1 794.9 2059.6 795.9 2074.4 796.9 2089.3 797.9 2104.2 798.6 2114.6 798.9 2117.6 799.9 2127.8 800 2128.8 800.9 2137.9 801.9 2148 802.9 2158.1 803.5 2164.2 803.9 2166.1 804.9 2170.9 805.9 2175.6 806.9 2180.4 807.9 2185.1 808.5 2188 808.9 2189.1 809.9 2191.8 810.9 2194.5 811.9 2197.2 812.9 2199.9 813.9 2202.6 814.4 2203.9 814.9 2205.2 815 2205.4 815.9 2207.8 816.9 2210.3 817.9 2212.9 818.9 2215.5 819.9 2218 820 2218.3 820.9 2219.8 821.9 2221.5 822.9 2223.1 823.9 2224.8 824.9 2226.5 825.9 2228.1 826.9 2229.8 827.9 2231.4 828.9 2233.1 829.9 2234.8 830 2234.9 830.9 2236.4 831.6 2237.6 832.9 2238.4 834.9 2239.7 836.9 2240.9 838.9 2242.2 839.3 2242.4 840 2242.8 840.9 2243.4 842.9 2244.6 844.9 2245.8 846.9 2247 848.9 2248.2 850 2248.6 850.9 2249 852.9 2249.8 854.9 2250.6 856.9 2251.4 858.5 2252 858.9 2252 860.9 2251.8 862.9 2251.7 864.9 2251.6 866.9 2251.5 868.9 2251.3 870.9 2251.2 872.9 2251.1 874 2251 874.9 2251.1 876.9 2251.2 878.9 2251.4 880 2251.4 880.9 2251.5 882.9 2251.7 884.9 2251.8 886.9 2252 887.4 2252 888.9 2251.7 890.9 2251.2 892.9 2250.8 894.9 2250.4 896.9 2250 898.9 2249.5 900 2249.3 900.9 2249.1 902.9 2248.9 904.9 2248.7 906.9 2248.5 908.9 2248.3 910.9 2248.1 912.9 2247.9 914.9 2247.7 916.3 2247.6 916.9 2247.5 918.9 2247.3 920 2247.2 920.9 2247 922.9 2246.8 924.9 2246.6 926.9 2246.3 927.9 2246.2 928.9 2245.2 930.9 2243.2 932.9 2241.2 934.9 2239.2 935 2239.1 936.9 2237.2 937.5 2236.6 938.9 2236.2 940.9 2235.6 942.9 2235 944.9 2234.4 946.9 2233.8 947.2 2233.7 948.9 2232 950 2230.9 950.9 2230 952.9 2228 954.9 2225.9 956.9 2223.9 958.7 2222.1 958.9 2222 960.9 2221 962.9 2220 964.9 2219.1 966.9 2218.1 968.9 2217.1 970 2216.5 970.3 2216.4 970.9 2216.3 972.9 2216 974.9 2215.7 976.9 2215.4 978.9 2215.1 980.9 2214.8 982.9 2214.5 983.8 2214.4 984.9 2214 986.9 2213.3 988.9 2212.6 990 2212.2 990.9 2211.9 992.9 2211.1 994.4 2210.6 994.9 2211.1 996.9 2213.1 998.9 2215.2 1000 2216.3 1000.9 2217.2 1002.9 2219.2 1003 2219.3 1004.9 2218.3 1006.9 2217.3 1008.9 2216.3 1010 2215.8 1010.7 2215.4 1010.9 2215.5 1012.9 2216.7 1014.9 2217.9 1016.9 2219.1 1018.9 2220.3 1020 2221 1020.4 2221.2 1020.9 2221.5 1022.9 2222.9 1024.9 2224.2 1026.9 2225.6 1028.9 2226.9 1030 2227.6 1030.9 2228.2 1031.9 2228.9 1032.9 2229.4 1034.9 2230.4 1036.9 2231.4 1038.9 2232.4 1040.9 2233.4 1042.9 2234.4 1044.9 2235.4 1045.4 2235.6 1046.9 2236.7 1048.9 2238.2 1050 2239.1 1050.9 2239.7 1052.9 2241.2 1054.9 2242.7 1056.9 2244.2 1057 2244.3 1058.9 2244.9 1060 2245.3 1060.9 2245.6 1062.9 2246.3 1064.9 2247 1065 2247 1066.9 2247.6 1068.6 2248.2 1068.9 2248.5 1070.9 2250.3 1072.9 2252.2 1074.9 2254 1076.9 2255.9 1078.9 2257.7 1080.1 2258.8 1080.9 2259 1082.9 2259.4 1084.9 2259.8 1086.9 2260.2 1088.9 2260.6 1090 2260.9 1090.9 2261 1092.9 2261.5 1093.6 2261.6 1094.9 2261.8 1096.9 2262.1 1098.9 2262.4 1100 2262.6 1100.9 2262.7 1102.9 2263 1104.9 2263.4 1106.9 2263.7 1108.9 2264 1109 2264 1129.8 2264Z" fill="#acd3d1"/>
<path d="M680.4 2264 772.9 2264 773.2 2263.8 773.9 2256 774.9 2244.9 775 2243.8 775.9 2233.9 776.9 2222.9 777.7 2214.2 777.9 2204.4 778.9 2155.4 779.7 2116.5 779.9 2106.8 780.9 2058.4 781.7 2019.9 781.9 2014.1 782.9 1984.9 783 1982 783.9 1955.9 784.3 1944.3 784.9 1939.5 785.9 1931.4 786 1930.6 786.7 1924.3 786.9 1926.2 787.9 1935.5 788.3 1939.3 788.9 1944.9 789 1945.8 789.9 1965.9 790.9 1988.1 791.6 2003.7 791.9 2009.4 792 2011.3 792.9 2028.7 793.9 2047.9 794.6 2061.4 794.9 2065.7 795.9 2080.1 796.9 2094.6 797.9 2109 798.6 2119.1 798.9 2122 799.9 2131.8 800 2132.8 800.9 2141.7 801.9 2151.5 802.9 2161.3 803.5 2167.2 803.9 2169 804.9 2173.7 805.9 2178.3 806.9 2182.9 807.9 2187.5 808.5 2190.3 808.9 2191.3 809.9 2193.9 810.9 2196.6 811.9 2199.2 812.9 2201.8 813.9 2204.4 814.4 2205.7 814.9 2207 815 2207.2 815.9 2209.4 816.9 2211.9 817.9 2214.4 818.9 2216.9 819.9 2219.4 820 2219.7 820.9 2221.1 821.9 2222.7 822.9 2224.4 823.9 2226 824.9 2227.6 825.9 2229.2 826.9 2230.8 827.9 2232.4 828.9 2234 829.9 2235.6 830 2235.8 830.9 2237.3 831.6 2238.4 832.9 2239.2 834.9 2240.4 836.9 2241.6 838.9 2242.9 839.3 2243.1 840 2243.5 840.9 2244 842.9 2245.2 844.9 2246.4 846.9 2247.6 848.9 2248.8 850 2249.2 850.9 2249.5 852.9 2250.3 854.9 2251.1 856.9 2251.8 858.5 2252.5 858.9 2252.4 860.9 2252.3 862.9 2252.2 864.9 2252.1 866.9 2252 868.9 2251.8 870.9 2251.7 872.9 2251.6 874 2251.6 874.9 2251.6 876.9 2251.8 878.9 2251.9 880 2252 880.9 2252.1 882.9 2252.2 884.9 2252.4 886.9 2252.5 887.4 2252.6 888.9 2252.3 890.9 2251.9 892.9 2251.5 894.9 2251 896.9 2250.6 898.9 2250.2 900 2250 900.9 2249.9 902.9 2249.7 904.9 2249.5 906.9 2249.4 908.9 2249.2 910.9 2249.1 912.9 2248.9 914.9 2248.8 916.3 2248.7 916.9 2248.6 918.9 2248.4 920 2248.3 920.9 2248.2 922.9 2248.1 924.9 2247.9 926.9 2247.7 927.9 2247.6 928.9 2246.7 930.9 2244.9 932.9 2243.1 934.9 2241.3 935 2241.2 936.9 2239.5 937.5 2239 938.9 2238.7 940.9 2238.2 942.9 2237.7 944.9 2237.2 946.9 2236.7 947.2 2236.6 948.9 2235.2 950 2234.2 950.9 2233.4 952.9 2231.7 954.9 2230 956.9 2228.3 958.7 2226.7 958.9 2226.7 960.9 2225.9 962.9 2225.1 964.9 2224.4 966.9 2223.6 968.9 2222.9 970 2222.5 970.3 2222.4 970.9 2222.3 972.9 2222.2 974.9 2222 976.9 2221.9 978.9 2221.8 980.9 2221.6 982.9 2221.5 983.8 2221.5 984.9 2221.2 986.9 2220.7 988.9 2220.2 990 2220 990.9 2219.7 992.9 2219.1 994.4 2218.6 994.9 2219 996.9 2220.8 998.9 2222.5 1000 2223.4 1000.9 2224.2 1002.9 2225.9 1003 2226 1004.9 2225.2 1006.9 2224.3 1008.9 2223.5 1010 2223 1010.7 2222.7 1010.9 2222.8 1012.9 2223.8 1014.9 2224.8 1016.9 2225.8 1018.9 2226.9 1020 2227.4 1020.4 2227.6 1020.9 2227.9 1022.9 2228.9 1024.9 2229.9 1026.9 2231 1028.9 2232 1030 2232.6 1030.9 2233.1 1031.9 2233.6 1032.9 2234 1034.9 2234.8 1036.9 2235.6 1038.9 2236.4 1040.9 2237.2 1042.9 2238 1044.9 2238.8 1045.4 2239 1046.9 2239.9 1048.9 2241.2 1050 2241.9 1050.9 2242.4 1052.9 2243.7 1054.9 2245 1056.9 2246.3 1057 2246.3 1058.9 2246.9 1060 2247.2 1060.9 2247.4 1062.9 2247.9 1064.9 2248.5 1065 2248.5 1066.9 2249 1068.6 2249.4 1068.9 2249.7 1070.9 2251.3 1072.9 2253 1074.9 2254.6 1076.9 2256.3 1078.9 2258 1080.1 2259.1 1080.9 2259.2 1082.9 2259.6 1084.9 2260 1086.9 2260.3 1088.9 2260.7 1090 2260.9 1090.9 2261.1 1092.9 2261.5 1093.6 2261.6 1094.9 2261.8 1096.9 2262.1 1098.9 2262.4 1100 2262.6 1100.9 2262.7 1102.9 2263 1104.9 2263.4 1106.9 2263.7 1108.9 2264 1109 2264 1129.8 2264Z" fill="#9ab4af"/>
<path d="M680.4 2264 772.9 2264 773.2 2263.8 773.9 2256 774.9 2244.9 775 2243.8 775.9 2233.9 776.9 2222.9 777.7 2214.2 777.9 2204.4 778.9 2155.4 779.7 2116.5 779.9 2106.8 780.9 2058.4 781.7 2019.9 781.9 2014.1 782.9 1984.9 783 1982 783.9 1955.9 784.3 1944.3 784.9 1939.5 785.9 1931.4 786 1930.6 786.7 1924.3 786.9 1926.2 787.9 1935.5 788.3 1939.3 788.9 1944.9 789 1945.8 789.9 1965.9 790.9 1988.1 791.6 2003.7 791.9 2009.4 792 2011.3 792.9 2028.7 793.9 2047.9 794.6 2061.4 794.9 2065.7 795.9 2080.1 796.9 2094.6 797.9 2109 798.6 2119.1 798.9 2122 799.9 2131.8 800 2132.8 800.9 2141.7 801.9 2151.5 802.9 2161.3 803.5 2167.2 803.9 2169 804.9 2173.7 805.9 2178.3 806.9 2182.9 807.9 2187.5 808.5 2190.3 808.9 2191.3 809.9 2193.9 810.9 2196.6 811.9 2199.2 812.9 2201.8 813.9 2204.4 814.4 2205.7 814.9 2207 815 2207.2 815.9 2209.4 816.9 2211.9 817.9 2214.4 818.9 2216.9 819.9 2219.4 820 2219.7 820.9 2221.1 821.9 2222.7 822.9 2224.4 823.9 2226 824.9 2227.6 825.9 2229.2 826.9 2230.8 827.9 2232.4 828.9 2234 829.9 2235.6 830 2235.8 830.9 2237.3 831.6 2238.4 832.9 2239.2 834.9 2240.4 836.9 2241.6 838.9 2242.9 839.3 2243.1 840 2243.5 840.9 2244 842.9 2245.2 844.9 2246.4 846.9 2247.6 848.9 2248.8 850 2249.2 850.9 2249.5 852.9 2250.3 854.9 2251.1 856.9 2251.8 858.5 2252.5 858.9 2252.4 860.9 2252.3 862.9 2252.2 864.9 2252.1 866.9 2252 868.9 2251.8 870.9 2251.7 872.9 2251.6 874 2251.6 874.9 2251.6 876.9 2251.8 878.9 2251.9 880 2252 880.9 2252.1 882.9 2252.2 884.9 2252.4 886.9 2252.5 887.4 2252.6 888.9 2252.3 890.9 2251.9 892.9 2251.5 894.9 2251 896.9 2250.6 898.9 2250.2 900 2250 900.9 2249.9 902.9 2249.7 904.9 2249.5 906.9 2249.4 908.9 2249.2 910.9 2249.1 912.9 2248.9 914.9 2248.8 916.3 2248.7 916.9 2248.6 918.9 2248.4 920 2248.3 920.9 2248.2 922.9 2248.1 924.9 2247.9 926.9 2247.7 927.9 2247.6 928.9 2246.7 930.9 2244.9 932.9 2243.1 934.9 2241.3 935 2241.2 936.9 2239.5 937.5 2239 938.9 2238.7 940.9 2238.2 942.9 2237.7 944.9 2237.2 946.9 2236.7 947.2 2236.6 948.9 2235.2 950 2234.2 950.9 2233.4 952.9 2231.7 954.9 2230 956.9 2228.3 958.7 2226.7 958.9 2226.7 960.9 2225.9 962.9 2225.1 964.9 2224.4 966.9 2223.6 968.9 2222.9 970 2222.5 970.3 2222.4 970.9 2222.3 972.9 2222.2 974.9 2222 976.9 2221.9 978.9 2221.8 980.9 2221.6 982.9 2221.5 983.8 2221.5 984.9 2221.2 986.9 2220.7 988.9 2220.2 990 2220 990.9 2219.7 992.9 2219.1 994.4 2218.6 994.9 2219 996.9 2220.8 998.9 2222.5 1000 2223.4 1000.9 2224.2 1002.9 2225.9 1003 2226 1004.9 2225.2 1006.9 2224.3 1008.9 2223.5 1010 2223 1010.7 2222.7 1010.9 2222.8 1012.9 2223.8 1014.9 2224.8 1016.9 2225.8 1018.9 2226.9 1020 2227.4 1020.4 2227.6 1020.9 2227.9 1022.9 2228.9 1024.9 2229.9 1026.9 2231 1028.9 2232 1030 2232.6 1030.9 2233.1 1031.9 2233.6 1032.9 2234 1034.9 2234.8 1036.9 2235.6 1038.9 2236.4 1040.9 2237.2 1042.9 2238 1044.9 2238.8 1045.4 2239 1046.9 2239.9 1048.9 2241.2 1050 2241.9 1050.9 2242.4 1052.9 2243.7 1054.9 2245 1056.9 2246.3 1057 2246.3 1058.9 2246.9 1060 2247.2 1060.9 2247.4 1062.9 2247.9 1064.9 2248.5 1065 2248.5 1066.9 2249 1068.6 2249.4 1068.9 2249.7 1070.9 2251.3 1072.9 2253 1074.9 2254.6 1076.9 2256.3 1078.9 2258 1080.1 2259.1 1080.9 2259.2 1082.9 2259.6 1084.9 2260 1086.9 2260.3 1088.9 2260.7 1090 2260.9 1090.9 2261.1 1092.9 2261.5 1093.6 2261.6 1094.9 2261.8 1096.9 2262.1 1098.9 2262.4 1100 2262.6 1100.9 2262.7 1102.9 2263 1104.9 2263.4 1106.9 2263.7 1108.9 2264 1109 2264 1129.8 2264" fill="none" stroke="#a1857f" stroke-width="1.8" stroke-linejoin="round"/>
<path d="M680.4 2264 772.9 2264 773.2 2263.8 773.9 2256 774.9 2244.9 775 2243.8 775.9 2233.5 776.9 2221.9 777.7 2212.4 777.9 2202.1 778.9 2150 779.7 2107.6 779.9 2096.9 780.9 2042.8 781.7 1998.7 781.9 1991.7 782.9 1956.2 783 1952.6 783.9 1919.7 784.3 1904.9 784.9 1896.6 785.9 1882.5 786 1881.1 786.7 1871.1 786.9 1872.5 787.9 1879.5 788.3 1882.4 788.9 1891.1 789 1892.6 789.9 1918.9 790.9 1947.7 791.6 1967.6 791.9 1975 792 1977.5 792.9 1997.7 793.9 2020 794.6 2035.6 794.9 2040.6 795.9 2057.3 796.9 2074 797.9 2090.6 798.6 2102.1 798.9 2105.5 799.9 2116.8 800 2118 800.9 2128 801.9 2139.2 802.9 2150.3 803.5 2156.9 803.9 2159 804.9 2164.3 805.9 2169.6 806.9 2174.8 807.9 2180.1 808.5 2183.2 808.9 2184.4 809.9 2187.4 810.9 2190.4 811.9 2193.4 812.9 2196.4 813.9 2199.3 814.4 2200.8 814.9 2202.2 815 2202.5 815.9 2204.7 816.9 2207.2 817.9 2209.7 818.9 2212.2 819.9 2214.8 820 2215 820.9 2216.5 821.9 2218.1 822.9 2219.7 823.9 2221.3 824.9 2223 825.9 2224.6 826.9 2226.3 827.9 2228 828.9 2229.7 829.9 2231.4 830 2231.6 830.9 2233.2 831.6 2234.4 832.9 2235.2 834.9 2236.4 836.9 2237.6 838.9 2238.8 839.3 2239.1 840 2239.5 840.9 2240 842.9 2241.3 844.9 2242.5 846.9 2243.8 848.9 2245.1 850 2245.6 850.9 2246 852.9 2247 854.9 2248 856.9 2249 858.5 2249.8 858.9 2249.7 860.9 2249.6 862.9 2249.5 864.9 2249.4 866.9 2249.3 868.9 2249.2 870.9 2249.1 872.9 2249 874 2248.9 874.9 2249 876.9 2249.2 878.9 2249.4 880 2249.6 880.9 2249.6 882.9 2249.8 884.9 2250 886.9 2250.2 887.4 2250.2 888.9 2249.8 890.9 2249.3 892.9 2248.8 894.9 2248.3 896.9 2247.9 898.9 2247.4 900 2247.1 900.9 2246.9 902.9 2246.6 904.9 2246.4 906.9 2246.2 908.9 2246 910.9 2245.7 912.9 2245.5 914.9 2245.3 916.3 2245.1 916.9 2245.1 918.9 2244.8 920 2244.6 920.9 2244.3 922.9 2243.7 924.9 2243.1 926.9 2242.4 927.9 2242.1 928.9 2240.7 930.9 2237.8 932.9 2234.8 934.9 2231.8 935 2231.6 936.9 2229.3 937.5 2228.6 938.9 2228.2 940.9 2227.6 942.9 2227 944.9 2226.5 946.9 2225.9 947.2 2225.8 948.9 2223.9 950 2222.6 950.9 2221.6 952.9 2219.5 954.9 2217.3 956.9 2215.3 958.7 2213.4 958.9 2213.4 960.9 2212.6 962.9 2211.9 964.9 2211.2 966.9 2210.5 968.9 2209.8 970 2209.4 970.3 2209.3 970.9 2209.2 972.9 2209 974.9 2208.8 976.9 2208.6 978.9 2208.4 980.9 2208.3 982.9 2208.1 983.8 2208 984.9 2207.6 986.9 2207 988.9 2206.3 990 2206 990.9 2205.5 992.9 2204.6 994.4 2203.8 994.9 2204.4 996.9 2206.5 998.9 2208.6 1000 2209.8 1000.9 2210.8 1002.9 2213 1003 2213.1 1004.9 2211.8 1006.9 2210.5 1008.9 2209.2 1010 2208.5 1010.7 2208.1 1010.9 2208.2 1012.9 2209.6 1014.9 2211 1016.9 2212.4 1018.9 2213.7 1020 2214.5 1020.4 2214.8 1020.9 2215.2 1022.9 2216.7 1024.9 2218.2 1026.9 2219.8 1028.9 2221.3 1030 2222.2 1030.9 2222.8 1031.9 2223.5 1032.9 2224 1034.9 2224.9 1036.9 2225.9 1038.9 2226.9 1040.9 2227.9 1042.9 2229 1044.9 2230 1045.4 2230.2 1046.9 2231.5 1048.9 2233.1 1050 2234.1 1050.9 2235 1052.9 2237.1 1054.9 2239.2 1056.9 2241.2 1057 2241.3 1058.9 2242.3 1060 2242.8 1060.9 2243.3 1062.9 2244.3 1064.9 2245.2 1065 2245.3 1066.9 2246 1068.6 2246.6 1068.9 2246.9 1070.9 2249 1072.9 2251 1074.9 2253 1076.9 2255 1078.9 2257.1 1080.1 2258.3 1080.9 2258.5 1082.9 2258.9 1084.9 2259.4 1086.9 2259.8 1088.9 2260.3 1090 2260.5 1090.9 2260.8 1092.9 2261.2 1093.6 2261.4 1094.9 2261.6 1096.9 2262 1098.9 2262.3 1100 2262.5 1100.9 2262.7 1102.9 2263 1104.9 2263.3 1106.9 2263.7 1108.9 2264 1109 2264 1129.8 2264" fill="none" stroke="#ff8a14" stroke-width="2" stroke-linejoin="round"/>
<path d="M680.4 2264 772.9 2264 773.2 2263.8 773.9 2256 774.9 2244.9 775 2243.8 775.9 2233.6 776.9 2222.1 777.7 2212.8 777.9 2202.5 778.9 2151 779.7 2109.2 779.9 2098.7 780.9 2045.6 781.7 2002.6 781.9 1995.8 782.9 1961.4 783 1958 783.9 1926.6 784.3 1912.5 784.9 1905 785.9 1892.5 786 1891.2 786.7 1882.3 786.9 1884.9 787.9 1898 788.3 1903.2 788.9 1910.9 789 1912.2 789.9 1936.4 790.9 1963 791.6 1981.4 791.9 1988.2 792 1990.5 792.9 2008.9 793.9 2029.3 794.6 2043.7 794.9 2048.3 795.9 2063.6 796.9 2079 797.9 2094.5 798.6 2105.4 798.9 2108.5 799.9 2119 800 2120.1 800.9 2129.6 801.9 2140.2 802.9 2150.8 803.5 2157.2 803.9 2159.1 804.9 2164.1 805.9 2169 806.9 2174 807.9 2179 808.5 2182 808.9 2183.1 809.9 2185.9 810.9 2188.6 811.9 2191.4 812.9 2194.3 813.9 2197.1 814.4 2198.5 814.9 2199.8 815 2200.1 815.9 2202.5 816.9 2205.3 817.9 2208 818.9 2210.7 819.9 2213.5 820 2213.7 820.9 2215.5 821.9 2217.4 822.9 2219.3 823.9 2221.2 824.9 2223.2 825.9 2225.1 826.9 2226.9 827.9 2228.8 828.9 2230.7 829.9 2232.6 830 2232.8 830.9 2234.4 831.6 2235.7 832.9 2236.7 834.9 2238.1 836.9 2239.6 838.9 2241 839.3 2241.3 840 2241.8 840.9 2242.3 842.9 2243.6 844.9 2244.9 846.9 2246.1 848.9 2247.4 850 2247.9 850.9 2248.2 852.9 2249.1 854.9 2249.9 856.9 2250.7 858.5 2251.4 858.9 2251.4 860.9 2251.2 862.9 2251.1 864.9 2251 866.9 2250.8 868.9 2250.7 870.9 2250.6 872.9 2250.4 874 2250.3 874.9 2250.4 876.9 2250.6 878.9 2250.7 880 2250.8 880.9 2250.9 882.9 2251 884.9 2251.2 886.9 2251.4 887.4 2251.4 888.9 2251.1 890.9 2250.6 892.9 2250.2 894.9 2249.7 896.9 2249.3 898.9 2248.8 900 2248.6 900.9 2248.4 902.9 2248.2 904.9 2248 906.9 2247.8 908.9 2247.6 910.9 2247.4 912.9 2247.2 914.9 2247 916.3 2246.9 916.9 2246.8 918.9 2246.6 920 2246.5 920.9 2246.4 922.9 2246.1 924.9 2245.9 926.9 2245.7 927.9 2245.6 928.9 2244.5 930.9 2242.5 932.9 2240.4 934.9 2238.4 935 2238.3 936.9 2236.4 937.5 2235.7 938.9 2235.3 940.9 2234.7 942.9 2234.2 944.9 2233.6 946.9 2233 947.2 2232.9 948.9 2231.2 950 2230 950.9 2229.1 952.9 2227.1 954.9 2225.1 956.9 2223.1 958.7 2221.2 958.9 2221.1 960.9 2220.2 962.9 2219.2 964.9 2218.3 966.9 2217.3 968.9 2216.4 970 2215.8 970.3 2215.7 970.9 2215.6 972.9 2215.4 974.9 2215.1 976.9 2214.9 978.9 2214.6 980.9 2214.4 982.9 2214.1 983.8 2214 984.9 2213.6 986.9 2213 988.9 2212.3 990 2211.9 990.9 2211.6 992.9 2211 994.4 2210.5 994.9 2211 996.9 2213.1 998.9 2215.1 1000 2216.3 1000.9 2217.2 1002.9 2219.2 1003 2219.3 1004.9 2218.3 1006.9 2217.3 1008.9 2216.3 1010 2215.8 1010.7 2215.4 1010.9 2215.5 1012.9 2216.7 1014.9 2217.9 1016.9 2219.1 1018.9 2220.3 1020 2221 1020.4 2221.2 1020.9 2221.5 1022.9 2222.9 1024.9 2224.2 1026.9 2225.6 1028.9 2226.9 1030 2227.6 1030.9 2228.2 1031.9 2228.9 1032.9 2229.4 1034.9 2230.4 1036.9 2231.4 1038.9 2232.4 1040.9 2233.4 1042.9 2234.4 1044.9 2235.4 1045.4 2235.6 1046.9 2236.7 1048.9 2238.2 1050 2239.1 1050.9 2239.7 1052.9 2241.2 1054.9 2242.7 1056.9 2244.2 1057 2244.3 1058.9 2244.9 1060 2245.3 1060.9 2245.6 1062.9 2246.3 1064.9 2247 1065 2247 1066.9 2247.6 1068.6 2248.2 1068.9 2248.5 1070.9 2250.3 1072.9 2252.2 1074.9 2254 1076.9 2255.9 1078.9 2257.7 1080.1 2258.8 1080.9 2259 1082.9 2259.4 1084.9 2259.8 1086.9 2260.2 1088.9 2260.6 1090 2260.9 1090.9 2261 1092.9 2261.5 1093.6 2261.6 1094.9 2261.8 1096.9 2262.1 1098.9 2262.4 1100 2262.6 1100.9 2262.7 1102.9 2263 1104.9 2263.4 1106.9 2263.7 1108.9 2264 1109 2264 1129.8 2264" fill="none" stroke="#ec1c1c" stroke-width="2" stroke-linejoin="round"/>
<path d="M680.4 2264 772.9 2264 773.2 2263.8 773.9 2256 774.9 2244.9 775 2243.8 775.9 2233.8 776.9 2222.7 777.7 2213.8 777.9 2203.9 778.9 2154.3 779.7 2114.6 779.9 2104.7 780.9 2055.1 781.7 2015.4 781.9 2009.3 782.9 1978.8 783 1975.7 783.9 1948.2 784.3 1936 784.9 1930.5 785.9 1921.2 786 1920.3 786.7 1913.8 786.9 1915.7 787.9 1925.4 788.3 1929.2 788.9 1935 789 1936 789.9 1956.6 790.9 1979.6 791.6 1995.6 791.9 2001.5 792 2003.5 792.9 2021.4 793.9 2041.2 794.6 2055.1 794.9 2059.6 795.9 2074.4 796.9 2089.3 797.9 2104.2 798.6 2114.6 798.9 2117.6 799.9 2127.8 800 2128.8 800.9 2137.9 801.9 2148 802.9 2158.1 803.5 2164.2 803.9 2166.1 804.9 2170.9 805.9 2175.6 806.9 2180.4 807.9 2185.1 808.5 2188 808.9 2189.1 809.9 2191.8 810.9 2194.5 811.9 2197.2 812.9 2199.9 813.9 2202.6 814.4 2203.9 814.9 2205.2 815 2205.4 815.9 2207.8 816.9 2210.3 817.9 2212.9 818.9 2215.5 819.9 2218 820 2218.3 820.9 2219.8 821.9 2221.5 822.9 2223.1 823.9 2224.8 824.9 2226.5 825.9 2228.1 826.9 2229.8 827.9 2231.4 828.9 2233.1 829.9 2234.8 830 2234.9 830.9 2236.4 831.6 2237.6 832.9 2238.4 834.9 2239.7 836.9 2240.9 838.9 2242.2 839.3 2242.4 840 2242.8 840.9 2243.4 842.9 2244.6 844.9 2245.8 846.9 2247 848.9 2248.2 850 2248.6 850.9 2249 852.9 2249.8 854.9 2250.6 856.9 2251.4 858.5 2252 858.9 2252 860.9 2251.8 862.9 2251.7 864.9 2251.6 866.9 2251.5 868.9 2251.3 870.9 2251.2 872.9 2251.1 874 2251 874.9 2251.1 876.9 2251.2 878.9 2251.4 880 2251.4 880.9 2251.5 882.9 2251.7 884.9 2251.8 886.9 2252 887.4 2252 888.9 2251.7 890.9 2251.2 892.9 2250.8 894.9 2250.4 896.9 2250 898.9 2249.5 900 2249.3 900.9 2249.1 902.9 2248.9 904.9 2248.7 906.9 2248.5 908.9 2248.3 910.9 2248.1 912.9 2247.9 914.9 2247.7 916.3 2247.6 916.9 2247.5 918.9 2247.3 920 2247.2 920.9 2247 922.9 2246.8 924.9 2246.6 926.9 2246.3 927.9 2246.2 928.9 2245.2 930.9 2243.2 932.9 2241.2 934.9 2239.2 935 2239.1 936.9 2237.2 937.5 2236.6 938.9 2236.2 940.9 2235.6 942.9 2235 944.9 2234.4 946.9 2233.8 947.2 2233.7 948.9 2232 950 2230.9 950.9 2230 952.9 2228 954.9 2225.9 956.9 2223.9 958.7 2222.1 958.9 2222 960.9 2221 962.9 2220 964.9 2219.1 966.9 2218.1 968.9 2217.1 970 2216.5 970.3 2216.4 970.9 2216.3 972.9 2216 974.9 2215.7 976.9 2215.4 978.9 2215.1 980.9 2214.8 982.9 2214.5 983.8 2214.4 984.9 2214 986.9 2213.3 988.9 2212.6 990 2212.2 990.9 2211.9 992.9 2211.1 994.4 2210.6 994.9 2211.1 996.9 2213.1 998.9 2215.2 1000 2216.3 1000.9 2217.2 1002.9 2219.2 1003 2219.3 1004.9 2218.3 1006.9 2217.3 1008.9 2216.3 1010 2215.8 1010.7 2215.4 1010.9 2215.5 1012.9 2216.7 1014.9 2217.9 1016.9 2219.1 1018.9 2220.3 1020 2221 1020.4 2221.2 1020.9 2221.5 1022.9 2222.9 1024.9 2224.2 1026.9 2225.6 1028.9 2226.9 1030 2227.6 1030.9 2228.2 1031.9 2228.9 1032.9 2229.4 1034.9 2230.4 1036.9 2231.4 1038.9 2232.4 1040.9 2233.4 1042.9 2234.4 1044.9 2235.4 1045.4 2235.6 1046.9 2236.7 1048.9 2238.2 1050 2239.1 1050.9 2239.7 1052.9 2241.2 1054.9 2242.7 1056.9 2244.2 1057 2244.3 1058.9 2244.9 1060 2245.3 1060.9 2245.6 1062.9 2246.3 1064.9 2247 1065 2247 1066.9 2247.6 1068.6 2248.2 1068.9 2248.5 1070.9 2250.3 1072.9 2252.2 1074.9 2254 1076.9 2255.9 1078.9 2257.7 1080.1 2258.8 1080.9 2259 1082.9 2259.4 1084.9 2259.8 1086.9 2260.2 1088.9 2260.6 1090 2260.9 1090.9 2261 1092.9 2261.5 1093.6 2261.6 1094.9 2261.8 1096.9 2262.1 1098.9 2262.4 1100 2262.6 1100.9 2262.7 1102.9 2263 1104.9 2263.4 1106.9 2263.7 1108.9 2264 1109 2264 1129.8 2264" fill="none" stroke="#00bcef" stroke-width="2.6" stroke-linejoin="round"/>
</g>
<g stroke="#000" stroke-width="2.6" fill="none">
<line x1="680.4" y1="2169" x2="884" y2="2169"/>
<line x1="884" y1="2191.9" x2="1128.8" y2="2191.9"/>
</g>
<g stroke="#000" stroke-width="2.7" stroke-linecap="round" fill="none">
<line x1="681.2" y1="2160" x2="681.2" y2="2178"/>
<line x1="884" y1="2160" x2="884" y2="2178"/>
<line x1="884" y1="2182.9" x2="884" y2="2200.9"/>
<line x1="1128.2" y1="2182.9" x2="1128.2" y2="2200.9"/>
</g>
<path d="M680.4 1817.7H1129.8V2267.6" stroke="#3a3a3a" stroke-width="1.8" fill="none"/>
<path d="M680.4 1817.7V2267.6H1129.8" stroke="#000" stroke-width="1.6" fill="none"/>
<g stroke="#000" fill="none">
<line x1="668.1" y1="2265.3" x2="680.4" y2="2265.3" stroke-width="3.2"/>
<line x1="675.1" y1="2233.48" x2="680.4" y2="2233.48" stroke-width="2"/>
<line x1="675.1" y1="2201.65" x2="680.4" y2="2201.65" stroke-width="2"/>
<line x1="675.1" y1="2169.83" x2="680.4" y2="2169.83" stroke-width="2"/>
<line x1="668.1" y1="2138" x2="680.4" y2="2138" stroke-width="3.2"/>
<line x1="675.1" y1="2106.18" x2="680.4" y2="2106.18" stroke-width="2"/>
<line x1="675.1" y1="2074.35" x2="680.4" y2="2074.35" stroke-width="2"/>
<line x1="675.1" y1="2042.53" x2="680.4" y2="2042.53" stroke-width="2"/>
<line x1="668.1" y1="2010.7" x2="680.4" y2="2010.7" stroke-width="3.2"/>
<line x1="675.1" y1="1978.88" x2="680.4" y2="1978.88" stroke-width="2"/>
<line x1="675.1" y1="1947.05" x2="680.4" y2="1947.05" stroke-width="2"/>
<line x1="675.1" y1="1915.23" x2="680.4" y2="1915.23" stroke-width="2"/>
<line x1="668.1" y1="1883.4" x2="680.4" y2="1883.4" stroke-width="3.2"/>
<line x1="675.1" y1="1851.58" x2="680.4" y2="1851.58" stroke-width="2"/>
<line x1="675.1" y1="1819.75" x2="680.4" y2="1819.75" stroke-width="2"/>
</g>
<g font-family="'Liberation Sans', Arial, Helvetica, sans-serif" font-size="18" fill="#000" stroke="#000" stroke-width="0.3">
<text x="660" y="2265" text-anchor="end">0</text>
<text x="658.2" y="2150.3" text-anchor="end">200</text>
<text x="658.2" y="2023" text-anchor="end">400</text>
<text x="658.2" y="1895.7" text-anchor="end">600</text>
</g>
<text transform="translate(616.8 2041.45) rotate(-90) scale(1.0 1.06)" text-anchor="middle" font-family="'Liberation Sans', Arial, Helvetica, sans-serif" font-size="21" fill="#000" stroke="#000" stroke-width="0.45">Count</text>
<g stroke="#000" fill="none">
<line x1="701.5" y1="2267.6" x2="701.5" y2="2280.2" stroke-width="3.5"/>
<line x1="706.6" y1="2267.6" x2="706.6" y2="2273.2" stroke-width="2"/>
<line x1="712.1" y1="2267.6" x2="712.1" y2="2273.2" stroke-width="2"/>
<line x1="719.1" y1="2267.6" x2="719.1" y2="2273.2" stroke-width="2"/>
<line x1="725.8" y1="2267.6" x2="725.8" y2="2273.2" stroke-width="2"/>
<line x1="743.9" y1="2267.6" x2="743.9" y2="2273.2" stroke-width="2"/>
<line x1="752.5" y1="2267.6" x2="752.5" y2="2273.2" stroke-width="2"/>
<line x1="761.3" y1="2267.6" x2="761.3" y2="2273.2" stroke-width="2"/>
<line x1="735.1" y1="2267.6" x2="735.1" y2="2276.8" stroke-width="2.5"/>
<line x1="769.85" y1="2267.6" x2="769.85" y2="2280.2" stroke-width="3.5"/>
<line x1="779.95" y1="2267.6" x2="779.95" y2="2280.2" stroke-width="3.5"/>
<line x1="789.5" y1="2267.6" x2="789.5" y2="2280.2" stroke-width="3.5"/>
<line x1="775" y1="2267.6" x2="775" y2="2276.8" stroke-width="2.5"/>
<line x1="784.3" y1="2267.6" x2="784.3" y2="2276.8" stroke-width="2.5"/>
<line x1="770.86" y1="2267.6" x2="770.86" y2="2273.2" stroke-width="2"/>
<line x1="780.9" y1="2267.6" x2="780.9" y2="2273.2" stroke-width="2"/>
<line x1="771.87" y1="2267.6" x2="771.87" y2="2273.2" stroke-width="2"/>
<line x1="781.86" y1="2267.6" x2="781.86" y2="2273.2" stroke-width="2"/>
<line x1="772.88" y1="2267.6" x2="772.88" y2="2273.2" stroke-width="2"/>
<line x1="782.81" y1="2267.6" x2="782.81" y2="2273.2" stroke-width="2"/>
<line x1="773.89" y1="2267.6" x2="773.89" y2="2273.2" stroke-width="2"/>
<line x1="783.77" y1="2267.6" x2="783.77" y2="2273.2" stroke-width="2"/>
<line x1="775.91" y1="2267.6" x2="775.91" y2="2273.2" stroke-width="2"/>
<line x1="785.68" y1="2267.6" x2="785.68" y2="2273.2" stroke-width="2"/>
<line x1="776.92" y1="2267.6" x2="776.92" y2="2273.2" stroke-width="2"/>
<line x1="786.63" y1="2267.6" x2="786.63" y2="2273.2" stroke-width="2"/>
<line x1="777.93" y1="2267.6" x2="777.93" y2="2273.2" stroke-width="2"/>
<line x1="787.59" y1="2267.6" x2="787.59" y2="2273.2" stroke-width="2"/>
<line x1="778.94" y1="2267.6" x2="778.94" y2="2273.2" stroke-width="2"/>
<line x1="788.54" y1="2267.6" x2="788.54" y2="2273.2" stroke-width="2"/>
<line x1="799.8" y1="2267.6" x2="799.8" y2="2273.2" stroke-width="2"/>
<line x1="808.6" y1="2267.6" x2="808.6" y2="2273.2" stroke-width="2"/>
<line x1="817.4" y1="2267.6" x2="817.4" y2="2273.2" stroke-width="2"/>
<line x1="833.2" y1="2267.6" x2="833.2" y2="2273.2" stroke-width="2"/>
<line x1="840.2" y1="2267.6" x2="840.2" y2="2273.2" stroke-width="2"/>
<line x1="847.5" y1="2267.6" x2="847.5" y2="2273.2" stroke-width="2"/>
<line x1="854.1" y1="2267.6" x2="854.1" y2="2273.2" stroke-width="2"/>
<line x1="899.9" y1="2267.6" x2="899.9" y2="2273.2" stroke-width="2"/>
<line x1="921.3" y1="2267.6" x2="921.3" y2="2273.2" stroke-width="2"/>
<line x1="936.8" y1="2267.6" x2="936.8" y2="2273.2" stroke-width="2"/>
<line x1="957.9" y1="2267.6" x2="957.9" y2="2273.2" stroke-width="2"/>
<line x1="964.9" y1="2267.6" x2="964.9" y2="2273.2" stroke-width="2"/>
<line x1="971.9" y1="2267.6" x2="971.9" y2="2273.2" stroke-width="2"/>
<line x1="977.1" y1="2267.6" x2="977.1" y2="2273.2" stroke-width="2"/>
<line x1="1014.2" y1="2267.6" x2="1014.2" y2="2273.2" stroke-width="2"/>
<line x1="1031.6" y1="2267.6" x2="1031.6" y2="2273.2" stroke-width="2"/>
<line x1="1045.7" y1="2267.6" x2="1045.7" y2="2273.2" stroke-width="2"/>
<line x1="1063.1" y1="2267.6" x2="1063.1" y2="2273.2" stroke-width="2"/>
<line x1="1069.9" y1="2267.6" x2="1069.9" y2="2273.2" stroke-width="2"/>
<line x1="1075.3" y1="2267.6" x2="1075.3" y2="2273.2" stroke-width="2"/>
<line x1="1080.7" y1="2267.6" x2="1080.7" y2="2273.2" stroke-width="2"/>
<line x1="1115.9" y1="2267.6" x2="1115.9" y2="2273.2" stroke-width="2"/>
<line x1="826.2" y1="2267.6" x2="826.2" y2="2276.8" stroke-width="2.5"/>
<line x1="947.5" y1="2267.6" x2="947.5" y2="2276.8" stroke-width="2.5"/>
<line x1="1054.5" y1="2267.6" x2="1054.5" y2="2276.8" stroke-width="2.5"/>
<line x1="859.6" y1="2267.6" x2="859.6" y2="2280.2" stroke-width="3.5"/>
<line x1="982.5" y1="2267.6" x2="982.5" y2="2280.2" stroke-width="3.5"/>
<line x1="1086.1" y1="2267.6" x2="1086.1" y2="2280.2" stroke-width="3.5"/>
</g>
<g font-family="'Liberation Sans', Arial, Helvetica, sans-serif" font-size="17.5" fill="#000" stroke="#000" stroke-width="0.3">
<text x="689.8" y="2320.1">-10</text>
<text x="715.9" y="2305.7">3</text>
<text x="775.7" y="2320.1">0</text>
<text x="849.8" y="2320.1">10</text>
<text x="870.8" y="2305.7">3</text>
<text x="972.3" y="2320.1">10</text>
<text x="993.4" y="2305.7">4</text>
<text x="1075.9" y="2320.1">10</text>
<text x="1096.8" y="2305.7">5</text>
</g>
<g font-family="'Liberation Sans', Arial, Helvetica, sans-serif" font-size="21" fill="#000" stroke="#000" stroke-width="0.45">
<text transform="translate(869.4 2358.8) scale(1 1.06)">FITC-A</text>
</g>
<g font-family="'Liberation Sans', Arial, Helvetica, sans-serif" font-size="21" fill="#000" stroke="#000" stroke-width="0.45">
<text transform="translate(688 1857.1) scale(1 1.06)">FITC-A-</text>
<text transform="translate(689.8 1888.6) scale(1 1.06)">58.8</text>
<text transform="translate(1084.8 1857.1) scale(1 1.06)" text-anchor="end">FITC-A+</text>
<text transform="translate(1080.9 1888.6) scale(1 1.06)" text-anchor="end">41.2</text>
</g>
<clipPath id="c32"><rect x="1251.6" y="1818.5" width="448" height="448.5"/></clipPath>
<g clip-path="url(#c32)">
<path d="M1251 2264 1342.5 2264 1343.4 2263.8 1343.5 2262.6 1344.5 2251 1345 2245.2 1345.5 2239.3 1346.5 2227.5 1347.5 2215.6 1347.7 2213.2 1348.5 2172.8 1349.5 2121.8 1349.7 2111.6 1350 2098.7 1350.5 2077.2 1351.5 2034 1352 2012.2 1352.1 2007.6 1352.5 1989.9 1353.5 1944.8 1354.1 1917.3 1354.5 1903.8 1355.5 1869.5 1356.1 1848.7 1356.5 1851.6 1357.5 1858.8 1358.5 1865.9 1359.3 1871.6 1359.5 1878.1 1360 1894.1 1360.5 1908.6 1361.5 1937.6 1361.6 1940.5 1362 1948.8 1362.5 1959.2 1363.5 1980.1 1364.5 2000.9 1364.6 2003 1365.5 2017 1366.5 2032.6 1367.5 2048.3 1368.5 2063.9 1368.6 2065.4 1369.5 2077.5 1370 2084.1 1370.5 2090.5 1371.5 2103.4 1372.5 2116.4 1373.5 2124.3 1374.5 2132.3 1375.5 2140.4 1376.5 2148.5 1377.5 2156.7 1378.5 2162.8 1379.5 2168.9 1380 2172 1380.5 2175.1 1381.5 2181.3 1382.5 2184 1383.5 2186.7 1384.5 2189.4 1385 2190.8 1385.5 2192.4 1386.5 2195.5 1387.4 2198.4 1387.5 2198.6 1388.5 2200.6 1389.5 2202.6 1390 2203.7 1390.5 2204.8 1391.5 2207.2 1392.5 2209.5 1393.5 2211.8 1394.5 2214.1 1395.5 2216.3 1396.5 2218.6 1397.5 2220.8 1398.5 2223.1 1399.5 2225.3 1399.6 2225.5 1400 2226.2 1400.5 2227.1 1401.5 2228.8 1403.5 2232.3 1405.5 2235.7 1407.5 2239.2 1409.1 2241.9 1409.5 2242 1411.5 2242.7 1413.5 2243.4 1415.5 2244 1417.5 2244.7 1418.7 2245.1 1419.5 2245.5 1421.5 2246.5 1423.5 2247.5 1425.5 2248.5 1427.5 2249.5 1429.5 2250.5 1431.5 2251.5 1432.1 2251.8 1433.5 2251.6 1435.5 2251.4 1437.5 2251.2 1439.5 2251 1440 2250.9 1441.5 2250.7 1443.5 2250.4 1445.5 2250.1 1447.4 2249.8 1447.5 2249.8 1449.5 2249.1 1451.5 2248.5 1453.5 2247.8 1455.5 2247.2 1457.5 2246.5 1459.5 2245.8 1461.5 2245.2 1462.7 2244.8 1463.5 2244.7 1465 2244.7 1465.5 2244.6 1467.5 2244.5 1469.5 2244.4 1470 2244.4 1471.5 2244.3 1473.5 2244.2 1475.5 2244 1477.5 2243.9 1479.5 2243.8 1480 2243.8 1481.5 2243.7 1483.5 2243.7 1483.8 2243.7 1485.5 2241.2 1487.5 2238.3 1489.5 2235.4 1491.5 2232.4 1493.4 2229.6 1493.5 2229.5 1495.5 2227.2 1497.5 2224.9 1499.5 2222.6 1500 2222.1 1501.5 2220.6 1503.5 2218.7 1504.9 2217.3 1505.5 2216.8 1507.5 2214.9 1509.5 2213 1511.5 2211.1 1513.5 2209.3 1514.4 2208.5 1515.5 2207.7 1517.5 2206.4 1519.5 2205.1 1520 2204.8 1521.5 2203.4 1523.5 2201.5 1524 2201.1 1525.5 2199 1527.5 2196.1 1529.5 2193.3 1530 2192.6 1531.5 2190.4 1533.5 2187.6 1535.5 2184.7 1537.5 2184.4 1539.5 2184 1540 2183.9 1541.5 2183.1 1543.5 2181.9 1545.5 2180.8 1547 2179.9 1547.5 2180.3 1549.5 2181.8 1550 2182.1 1551.5 2184.5 1552.7 2186.4 1553.5 2185.7 1555.5 2183.9 1557.5 2182.1 1558.5 2181.3 1559.5 2181.9 1561.5 2183 1563.5 2184.2 1565 2185.1 1565.5 2185.3 1567.5 2185.9 1569.5 2186.6 1569.9 2186.7 1571.5 2188.5 1573.5 2190.6 1575.5 2192.8 1577.5 2194.9 1579.5 2197 1580 2197.5 1581.4 2199 1581.5 2199.1 1583.5 2200.7 1585.5 2202.3 1587.5 2203.8 1589.5 2205.4 1591.5 2207 1592.9 2208 1593.5 2208.7 1595.5 2210.9 1597.5 2213.1 1599.5 2215.4 1600 2215.9 1601.5 2217.4 1603.5 2219.4 1604.4 2220.3 1605.5 2221.1 1607.5 2222.4 1609.5 2223.7 1610 2224 1611.5 2225 1613.5 2226.4 1615.5 2227.7 1615.9 2228 1617.5 2229.3 1619.5 2231 1621.5 2232.8 1623.5 2234.5 1625.5 2236.2 1627.4 2237.8 1627.5 2237.9 1629.5 2240.1 1631.5 2242.4 1633.5 2244.6 1635.5 2246.9 1637.5 2249.1 1638.9 2250.7 1639.5 2251 1640 2251.2 1641.5 2252.1 1643.5 2253.2 1645.5 2254.2 1647.5 2255.3 1649.5 2256.4 1651.5 2257.4 1653.5 2258.5 1654.2 2258.9 1655.5 2259.3 1657.5 2260 1659.5 2260.7 1661.5 2261.4 1663.5 2262.1 1665.5 2262.8 1665.6 2262.8 1667.5 2263.2 1669.5 2263.5 1670 2263.6 1671.5 2263.9 1672 2264 1700.4 2264Z" fill="#fbdcc2"/>
<path d="M1251 2264 1342.5 2264 1343.4 2263.8 1343.5 2262.6 1344.5 2251 1345 2245.2 1345.5 2239.4 1346.5 2227.8 1347.5 2216.1 1347.7 2213.8 1348.5 2174.1 1349.5 2124.5 1349.7 2114.6 1350 2102.2 1350.5 2081.5 1351.5 2040.2 1352 2019.5 1352.1 2015.4 1352.5 1999.5 1353.5 1959.8 1354.1 1936 1354.5 1924.9 1355.5 1897.1 1356.1 1880.5 1356.5 1882 1357.5 1885.7 1358.5 1889.4 1359.3 1892.4 1359.5 1897.9 1360 1911.7 1360.5 1925.5 1361.5 1953.1 1361.6 1955.9 1362 1963.8 1362.5 1973.8 1363.5 1993.6 1364.5 2013.4 1364.6 2015.4 1365.5 2028.8 1366.5 2043.7 1367.5 2058.5 1368.5 2073.4 1368.6 2074.9 1369.5 2086.3 1370 2092.7 1370.5 2099.1 1371.5 2111.8 1372.5 2124.5 1373.5 2132.4 1374.5 2140.4 1375.5 2148.3 1376.5 2156.3 1377.5 2164.2 1378.5 2170.1 1379.5 2176.1 1380 2179.1 1380.5 2182.1 1381.5 2188 1382.5 2190.7 1383.5 2193.4 1384.5 2196.1 1385 2197.4 1385.5 2198.8 1386.5 2201.5 1387.4 2203.9 1387.5 2204.1 1388.5 2205.8 1389.5 2207.5 1390 2208.3 1390.5 2209.3 1391.5 2211.3 1392.5 2213.3 1393.5 2215.3 1394.5 2217.3 1395.5 2219.2 1396.5 2221.2 1397.5 2223.2 1398.5 2225.2 1399.5 2227.2 1399.6 2227.4 1400 2228 1400.5 2228.8 1401.5 2230.5 1403.5 2233.7 1405.5 2236.9 1407.5 2240.1 1409.1 2242.7 1409.5 2242.8 1411.5 2243.4 1413.5 2244 1415.5 2244.6 1417.5 2245.2 1418.7 2245.6 1419.5 2246 1421.5 2246.9 1423.5 2247.9 1425.5 2248.8 1427.5 2249.7 1429.5 2250.7 1431.5 2251.6 1432.1 2251.9 1433.5 2251.7 1435.5 2251.5 1437.5 2251.2 1439.5 2251 1440 2250.9 1441.5 2250.7 1443.5 2250.5 1445.5 2250.2 1447.4 2250 1447.5 2250 1449.5 2249.4 1451.5 2248.8 1453.5 2248.2 1455.5 2247.7 1457.5 2247.1 1459.5 2246.5 1461.5 2245.9 1462.7 2245.6 1463.5 2245.6 1465 2245.6 1465.5 2245.6 1467.5 2245.6 1469.5 2245.6 1470 2245.6 1471.5 2245.6 1473.5 2245.6 1475.5 2245.6 1477.5 2245.6 1479.5 2245.6 1480 2245.6 1481.5 2245.6 1483.5 2245.6 1483.8 2245.6 1485.5 2243.4 1487.5 2240.8 1489.5 2238.2 1491.5 2235.6 1493.4 2233.1 1493.5 2233 1495.5 2231 1497.5 2229 1499.5 2227.1 1500 2226.6 1501.5 2225.1 1503.5 2223.1 1504.9 2221.7 1505.5 2221.1 1507.5 2219.1 1509.5 2217.1 1511.5 2215 1513.5 2213 1514.4 2212.1 1515.5 2211.2 1517.5 2209.6 1519.5 2208 1520 2207.6 1521.5 2206.4 1523.5 2204.8 1524 2204.4 1525.5 2202.5 1527.5 2200 1529.5 2197.6 1530 2196.9 1531.5 2195.1 1533.5 2192.6 1535.5 2190.1 1537.5 2190 1539.5 2189.9 1540 2189.9 1541.5 2189.8 1543.5 2189.7 1545.5 2189.6 1547 2189.5 1547.5 2190.1 1549.5 2192.3 1550 2192.8 1551.5 2194.5 1552.7 2195.8 1553.5 2194.9 1555.5 2192.8 1557.5 2190.6 1558.5 2189.5 1559.5 2189.7 1561.5 2190.2 1563.5 2190.6 1565 2190.9 1565.5 2191 1567.5 2191.5 1569.5 2191.9 1569.9 2192 1571.5 2193.5 1573.5 2195.3 1575.5 2197.1 1577.5 2198.9 1579.5 2200.8 1580 2201.2 1581.4 2202.5 1581.5 2202.6 1583.5 2203.9 1585.5 2205.2 1587.5 2206.6 1589.5 2207.9 1591.5 2209.3 1592.9 2210.2 1593.5 2210.8 1595.5 2212.8 1597.5 2214.8 1599.5 2216.8 1600 2217.3 1601.5 2218.8 1603.5 2220.8 1604.4 2221.7 1605.5 2222.4 1607.5 2223.7 1609.5 2225.1 1610 2225.4 1611.5 2226.4 1613.5 2227.7 1615.5 2229 1615.9 2229.3 1617.5 2230.6 1619.5 2232.3 1621.5 2234 1623.5 2235.6 1625.5 2237.3 1627.4 2238.9 1627.5 2239 1629.5 2241.2 1631.5 2243.3 1633.5 2245.5 1635.5 2247.6 1637.5 2249.8 1638.9 2251.3 1639.5 2251.6 1640 2251.9 1641.5 2252.6 1643.5 2253.6 1645.5 2254.6 1647.5 2255.6 1649.5 2256.6 1651.5 2257.6 1653.5 2258.6 1654.2 2259 1655.5 2259.4 1657.5 2260.1 1659.5 2260.8 1661.5 2261.4 1663.5 2262.1 1665.5 2262.8 1665.6 2262.8 1667.5 2263.2 1669.5 2263.5 1670 2263.6 1671.5 2263.9 1672 2264 1700.4 2264Z" fill="#acd3d1"/>
<path d="M1251 2264 1342.5 2264 1343.4 2263.8 1343.5 2262.6 1344.5 2251 1345 2245.2 1345.5 2239.5 1346.5 2228.3 1347.5 2217.3 1347.7 2215.2 1348.5 2177.3 1349.5 2130.8 1349.7 2121.6 1350 2110.3 1350.5 2091.2 1351.5 2053.2 1352 2034.4 1352.1 2030.7 1352.5 2016.3 1353.5 1980.8 1354.1 1959.7 1354.5 1950.1 1355.5 1926.4 1356.1 1912.3 1356.5 1913.6 1357.5 1916.8 1358.5 1920.1 1359.3 1922.6 1359.5 1927.7 1360 1940.3 1360.5 1952.9 1361.5 1978.1 1361.6 1980.6 1362 1987.8 1362.5 1997 1363.5 2015.2 1364.5 2033.5 1364.6 2035.3 1365.5 2047.6 1366.5 2061.3 1367.5 2075 1368.5 2088.7 1368.6 2090 1369.5 2100.6 1370 2106.4 1370.5 2112.3 1371.5 2124 1372.5 2135.7 1373.5 2143 1374.5 2150.3 1375.5 2157.6 1376.5 2164.9 1377.5 2172.2 1378.5 2177.7 1379.5 2183.1 1380 2185.9 1380.5 2188.6 1381.5 2194.2 1382.5 2196.7 1383.5 2199.3 1384.5 2201.8 1385 2203.1 1385.5 2204.4 1386.5 2206.9 1387.4 2209.2 1387.5 2209.3 1388.5 2210.9 1389.5 2212.5 1390 2213.3 1390.5 2214.2 1391.5 2216.1 1392.5 2218 1393.5 2219.8 1394.5 2221.7 1395.5 2223.5 1396.5 2225.4 1397.5 2227.2 1398.5 2229 1399.5 2230.9 1399.6 2231 1400 2231.6 1400.5 2232.3 1401.5 2233.8 1403.5 2236.6 1405.5 2239.4 1407.5 2242.3 1409.1 2244.6 1409.5 2244.7 1411.5 2245.2 1413.5 2245.7 1415.5 2246.2 1417.5 2246.7 1418.7 2247 1419.5 2247.3 1421.5 2248.2 1423.5 2249 1425.5 2249.8 1427.5 2250.7 1429.5 2251.5 1431.5 2252.4 1432.1 2252.6 1433.5 2252.4 1435.5 2252.2 1437.5 2251.9 1439.5 2251.6 1440 2251.6 1441.5 2251.4 1443.5 2251.2 1445.5 2251.1 1447.4 2250.9 1447.5 2250.8 1449.5 2250.4 1451.5 2249.9 1453.5 2249.4 1455.5 2248.9 1457.5 2248.4 1459.5 2248 1461.5 2247.5 1462.7 2247.2 1463.5 2247.2 1465 2247.3 1465.5 2247.3 1467.5 2247.4 1469.5 2247.4 1470 2247.4 1471.5 2247.5 1473.5 2247.7 1475.5 2247.8 1477.5 2247.9 1479.5 2248 1480 2248.1 1481.5 2248.1 1483.5 2248.3 1483.8 2248.3 1485.5 2246.5 1487.5 2244.5 1489.5 2242.4 1491.5 2240.5 1493.4 2238.6 1493.5 2238.5 1495.5 2237.1 1497.5 2235.7 1499.5 2234.4 1500 2234 1501.5 2232.9 1503.5 2231.4 1504.9 2230.3 1505.5 2229.8 1507.5 2228.3 1509.5 2226.7 1511.5 2225.2 1513.5 2223.7 1514.4 2223 1515.5 2222.3 1517.5 2221.1 1519.5 2219.9 1520 2219.6 1521.5 2218.7 1523.5 2217.6 1524 2217.3 1525.5 2215.9 1527.5 2214 1529.5 2212.2 1530 2211.7 1531.5 2210.1 1533.5 2208 1535.5 2206 1537.5 2205.7 1539.5 2205.5 1540 2205.4 1541.5 2205.3 1543.5 2205 1545.5 2204.8 1547 2204.6 1547.5 2205 1549.5 2206.6 1550 2207.1 1551.5 2208.4 1552.7 2209.6 1553.5 2208.9 1555.5 2207.3 1557.5 2205.6 1558.5 2204.8 1559.5 2205 1561.5 2205.5 1563.5 2205.9 1565 2206.3 1565.5 2206.4 1567.5 2206.8 1569.5 2207.3 1569.9 2207.4 1571.5 2208.6 1573.5 2210.1 1575.5 2211.6 1577.5 2213.1 1579.5 2214.7 1580 2215 1581.4 2216 1581.5 2216 1583.5 2217 1585.5 2218 1587.5 2218.9 1589.5 2219.9 1591.5 2220.9 1592.9 2221.6 1593.5 2222 1595.5 2223.5 1597.5 2225 1599.5 2226.6 1600 2227 1601.5 2228.1 1603.5 2229.6 1604.4 2230.3 1605.5 2230.9 1607.5 2231.9 1609.5 2232.9 1610 2233.1 1611.5 2233.8 1613.5 2234.8 1615.5 2235.7 1615.9 2235.9 1617.5 2236.9 1619.5 2238.1 1621.5 2239.4 1623.5 2240.7 1625.5 2242 1627.4 2243.2 1627.5 2243.3 1629.5 2245 1631.5 2246.7 1633.5 2248.5 1635.5 2250.2 1637.5 2252 1638.9 2253.2 1639.5 2253.5 1640 2253.7 1641.5 2254.2 1643.5 2255 1645.5 2255.8 1647.5 2256.6 1649.5 2257.4 1651.5 2258.2 1653.5 2259.1 1654.2 2259.4 1655.5 2259.8 1657.5 2260.3 1659.5 2260.9 1661.5 2261.5 1663.5 2262.2 1665.5 2262.8 1665.6 2262.8 1667.5 2263.2 1669.5 2263.5 1670 2263.6 1671.5 2263.9 1672 2264 1700.4 2264Z" fill="#9ab4af"/>
<path d="M1251 2264 1342.5 2264 1343.4 2263.8 1343.5 2262.6 1344.5 2251 1345 2245.2 1345.5 2239.5 1346.5 2228.3 1347.5 2217.3 1347.7 2215.2 1348.5 2177.3 1349.5 2130.8 1349.7 2121.6 1350 2110.3 1350.5 2091.2 1351.5 2053.2 1352 2034.4 1352.1 2030.7 1352.5 2016.3 1353.5 1980.8 1354.1 1959.7 1354.5 1950.1 1355.5 1926.4 1356.1 1912.3 1356.5 1913.6 1357.5 1916.8 1358.5 1920.1 1359.3 1922.6 1359.5 1927.7 1360 1940.3 1360.5 1952.9 1361.5 1978.1 1361.6 1980.6 1362 1987.8 1362.5 1997 1363.5 2015.2 1364.5 2033.5 1364.6 2035.3 1365.5 2047.6 1366.5 2061.3 1367.5 2075 1368.5 2088.7 1368.6 2090 1369.5 2100.6 1370 2106.4 1370.5 2112.3 1371.5 2124 1372.5 2135.7 1373.5 2143 1374.5 2150.3 1375.5 2157.6 1376.5 2164.9 1377.5 2172.2 1378.5 2177.7 1379.5 2183.1 1380 2185.9 1380.5 2188.6 1381.5 2194.2 1382.5 2196.7 1383.5 2199.3 1384.5 2201.8 1385 2203.1 1385.5 2204.4 1386.5 2206.9 1387.4 2209.2 1387.5 2209.3 1388.5 2210.9 1389.5 2212.5 1390 2213.3 1390.5 2214.2 1391.5 2216.1 1392.5 2218 1393.5 2219.8 1394.5 2221.7 1395.5 2223.5 1396.5 2225.4 1397.5 2227.2 1398.5 2229 1399.5 2230.9 1399.6 2231 1400 2231.6 1400.5 2232.3 1401.5 2233.8 1403.5 2236.6 1405.5 2239.4 1407.5 2242.3 1409.1 2244.6 1409.5 2244.7 1411.5 2245.2 1413.5 2245.7 1415.5 2246.2 1417.5 2246.7 1418.7 2247 1419.5 2247.3 1421.5 2248.2 1423.5 2249 1425.5 2249.8 1427.5 2250.7 1429.5 2251.5 1431.5 2252.4 1432.1 2252.6 1433.5 2252.4 1435.5 2252.2 1437.5 2251.9 1439.5 2251.6 1440 2251.6 1441.5 2251.4 1443.5 2251.2 1445.5 2251.1 1447.4 2250.9 1447.5 2250.8 1449.5 2250.4 1451.5 2249.9 1453.5 2249.4 1455.5 2248.9 1457.5 2248.4 1459.5 2248 1461.5 2247.5 1462.7 2247.2 1463.5 2247.2 1465 2247.3 1465.5 2247.3 1467.5 2247.4 1469.5 2247.4 1470 2247.4 1471.5 2247.5 1473.5 2247.7 1475.5 2247.8 1477.5 2247.9 1479.5 2248 1480 2248.1 1481.5 2248.1 1483.5 2248.3 1483.8 2248.3 1485.5 2246.5 1487.5 2244.5 1489.5 2242.4 1491.5 2240.5 1493.4 2238.6 1493.5 2238.5 1495.5 2237.1 1497.5 2235.7 1499.5 2234.4 1500 2234 1501.5 2232.9 1503.5 2231.4 1504.9 2230.3 1505.5 2229.8 1507.5 2228.3 1509.5 2226.7 1511.5 2225.2 1513.5 2223.7 1514.4 2223 1515.5 2222.3 1517.5 2221.1 1519.5 2219.9 1520 2219.6 1521.5 2218.7 1523.5 2217.6 1524 2217.3 1525.5 2215.9 1527.5 2214 1529.5 2212.2 1530 2211.7 1531.5 2210.1 1533.5 2208 1535.5 2206 1537.5 2205.7 1539.5 2205.5 1540 2205.4 1541.5 2205.3 1543.5 2205 1545.5 2204.8 1547 2204.6 1547.5 2205 1549.5 2206.6 1550 2207.1 1551.5 2208.4 1552.7 2209.6 1553.5 2208.9 1555.5 2207.3 1557.5 2205.6 1558.5 2204.8 1559.5 2205 1561.5 2205.5 1563.5 2205.9 1565 2206.3 1565.5 2206.4 1567.5 2206.8 1569.5 2207.3 1569.9 2207.4 1571.5 2208.6 1573.5 2210.1 1575.5 2211.6 1577.5 2213.1 1579.5 2214.7 1580 2215 1581.4 2216 1581.5 2216 1583.5 2217 1585.5 2218 1587.5 2218.9 1589.5 2219.9 1591.5 2220.9 1592.9 2221.6 1593.5 2222 1595.5 2223.5 1597.5 2225 1599.5 2226.6 1600 2227 1601.5 2228.1 1603.5 2229.6 1604.4 2230.3 1605.5 2230.9 1607.5 2231.9 1609.5 2232.9 1610 2233.1 1611.5 2233.8 1613.5 2234.8 1615.5 2235.7 1615.9 2235.9 1617.5 2236.9 1619.5 2238.1 1621.5 2239.4 1623.5 2240.7 1625.5 2242 1627.4 2243.2 1627.5 2243.3 1629.5 2245 1631.5 2246.7 1633.5 2248.5 1635.5 2250.2 1637.5 2252 1638.9 2253.2 1639.5 2253.5 1640 2253.7 1641.5 2254.2 1643.5 2255 1645.5 2255.8 1647.5 2256.6 1649.5 2257.4 1651.5 2258.2 1653.5 2259.1 1654.2 2259.4 1655.5 2259.8 1657.5 2260.3 1659.5 2260.9 1661.5 2261.5 1663.5 2262.2 1665.5 2262.8 1665.6 2262.8 1667.5 2263.2 1669.5 2263.5 1670 2263.6 1671.5 2263.9 1672 2264 1700.4 2264" fill="none" stroke="#a1857f" stroke-width="1.8" stroke-linejoin="round"/>
<path d="M1251 2264 1342.5 2264 1343.4 2263.8 1343.5 2262.6 1344.5 2251 1345 2245.2 1345.5 2239.3 1346.5 2227.5 1347.5 2215.6 1347.7 2213.2 1348.5 2172.8 1349.5 2121.8 1349.7 2111.6 1350 2098.7 1350.5 2077.2 1351.5 2034 1352 2012.2 1352.1 2007.6 1352.5 1989.9 1353.5 1944.8 1354.1 1917.3 1354.5 1903.8 1355.5 1869.5 1356.1 1848.7 1356.5 1851.6 1357.5 1858.8 1358.5 1865.9 1359.3 1871.6 1359.5 1878.1 1360 1894.1 1360.5 1908.6 1361.5 1937.6 1361.6 1940.5 1362 1948.8 1362.5 1959.2 1363.5 1980.1 1364.5 2000.9 1364.6 2003 1365.5 2017 1366.5 2032.6 1367.5 2048.3 1368.5 2063.9 1368.6 2065.4 1369.5 2077.5 1370 2084.1 1370.5 2090.5 1371.5 2103.4 1372.5 2116.4 1373.5 2124.3 1374.5 2132.3 1375.5 2140.4 1376.5 2148.5 1377.5 2156.7 1378.5 2162.8 1379.5 2168.9 1380 2172 1380.5 2175.1 1381.5 2181.3 1382.5 2184 1383.5 2186.7 1384.5 2189.4 1385 2190.8 1385.5 2192.4 1386.5 2195.5 1387.4 2198.4 1387.5 2198.6 1388.5 2200.6 1389.5 2202.6 1390 2203.7 1390.5 2204.8 1391.5 2207.2 1392.5 2209.5 1393.5 2211.8 1394.5 2214.1 1395.5 2216.3 1396.5 2218.6 1397.5 2220.8 1398.5 2223.1 1399.5 2225.3 1399.6 2225.5 1400 2226.2 1400.5 2227.1 1401.5 2228.8 1403.5 2232.3 1405.5 2235.7 1407.5 2239.2 1409.1 2241.9 1409.5 2242 1411.5 2242.7 1413.5 2243.4 1415.5 2244 1417.5 2244.7 1418.7 2245.1 1419.5 2245.5 1421.5 2246.5 1423.5 2247.5 1425.5 2248.5 1427.5 2249.5 1429.5 2250.5 1431.5 2251.5 1432.1 2251.8 1433.5 2251.6 1435.5 2251.4 1437.5 2251.2 1439.5 2251 1440 2250.9 1441.5 2250.7 1443.5 2250.4 1445.5 2250.1 1447.4 2249.8 1447.5 2249.8 1449.5 2249.1 1451.5 2248.5 1453.5 2247.8 1455.5 2247.2 1457.5 2246.5 1459.5 2245.8 1461.5 2245.2 1462.7 2244.8 1463.5 2244.7 1465 2244.7 1465.5 2244.6 1467.5 2244.5 1469.5 2244.4 1470 2244.4 1471.5 2244.3 1473.5 2244.2 1475.5 2244 1477.5 2243.9 1479.5 2243.8 1480 2243.8 1481.5 2243.7 1483.5 2243.7 1483.8 2243.7 1485.5 2241.2 1487.5 2238.3 1489.5 2235.4 1491.5 2232.4 1493.4 2229.6 1493.5 2229.5 1495.5 2227.2 1497.5 2224.9 1499.5 2222.6 1500 2222.1 1501.5 2220.6 1503.5 2218.7 1504.9 2217.3 1505.5 2216.8 1507.5 2214.9 1509.5 2213 1511.5 2211.1 1513.5 2209.3 1514.4 2208.5 1515.5 2207.7 1517.5 2206.4 1519.5 2205.1 1520 2204.8 1521.5 2203.4 1523.5 2201.5 1524 2201.1 1525.5 2199 1527.5 2196.1 1529.5 2193.3 1530 2192.6 1531.5 2190.4 1533.5 2187.6 1535.5 2184.7 1537.5 2184.4 1539.5 2184 1540 2183.9 1541.5 2183.1 1543.5 2181.9 1545.5 2180.8 1547 2179.9 1547.5 2180.3 1549.5 2181.8 1550 2182.1 1551.5 2184.5 1552.7 2186.4 1553.5 2185.7 1555.5 2183.9 1557.5 2182.1 1558.5 2181.3 1559.5 2181.9 1561.5 2183 1563.5 2184.2 1565 2185.1 1565.5 2185.3 1567.5 2185.9 1569.5 2186.6 1569.9 2186.7 1571.5 2188.5 1573.5 2190.6 1575.5 2192.8 1577.5 2194.9 1579.5 2197 1580 2197.5 1581.4 2199 1581.5 2199.1 1583.5 2200.7 1585.5 2202.3 1587.5 2203.8 1589.5 2205.4 1591.5 2207 1592.9 2208 1593.5 2208.7 1595.5 2210.9 1597.5 2213.1 1599.5 2215.4 1600 2215.9 1601.5 2217.4 1603.5 2219.4 1604.4 2220.3 1605.5 2221.1 1607.5 2222.4 1609.5 2223.7 1610 2224 1611.5 2225 1613.5 2226.4 1615.5 2227.7 1615.9 2228 1617.5 2229.3 1619.5 2231 1621.5 2232.8 1623.5 2234.5 1625.5 2236.2 1627.4 2237.8 1627.5 2237.9 1629.5 2240.1 1631.5 2242.4 1633.5 2244.6 1635.5 2246.9 1637.5 2249.1 1638.9 2250.7 1639.5 2251 1640 2251.2 1641.5 2252.1 1643.5 2253.2 1645.5 2254.2 1647.5 2255.3 1649.5 2256.4 1651.5 2257.4 1653.5 2258.5 1654.2 2258.9 1655.5 2259.3 1657.5 2260 1659.5 2260.7 1661.5 2261.4 1663.5 2262.1 1665.5 2262.8 1665.6 2262.8 1667.5 2263.2 1669.5 2263.5 1670 2263.6 1671.5 2263.9 1672 2264 1700.4 2264" fill="none" stroke="#ff8a14" stroke-width="2" stroke-linejoin="round"/>
<path d="M1251 2264 1342.5 2264 1343.4 2263.8 1343.5 2262.6 1344.5 2251 1345 2245.2 1345.5 2239.4 1346.5 2227.8 1347.5 2216.1 1347.7 2213.8 1348.5 2174.1 1349.5 2124.5 1349.7 2114.6 1350 2102.2 1350.5 2081.5 1351.5 2040.2 1352 2019.5 1352.1 2015.4 1352.5 1999.5 1353.5 1959.8 1354.1 1936 1354.5 1924.9 1355.5 1897.1 1356.1 1880.5 1356.5 1882 1357.5 1885.7 1358.5 1889.4 1359.3 1892.4 1359.5 1897.9 1360 1911.7 1360.5 1925.5 1361.5 1953.1 1361.6 1955.9 1362 1963.8 1362.5 1973.8 1363.5 1993.6 1364.5 2013.4 1364.6 2015.4 1365.5 2028.8 1366.5 2043.7 1367.5 2058.5 1368.5 2073.4 1368.6 2074.9 1369.5 2086.3 1370 2092.7 1370.5 2099.1 1371.5 2111.8 1372.5 2124.5 1373.5 2132.4 1374.5 2140.4 1375.5 2148.3 1376.5 2156.3 1377.5 2164.2 1378.5 2170.1 1379.5 2176.1 1380 2179.1 1380.5 2182.1 1381.5 2188 1382.5 2190.7 1383.5 2193.4 1384.5 2196.1 1385 2197.4 1385.5 2198.8 1386.5 2201.5 1387.4 2203.9 1387.5 2204.1 1388.5 2205.8 1389.5 2207.5 1390 2208.3 1390.5 2209.3 1391.5 2211.3 1392.5 2213.3 1393.5 2215.3 1394.5 2217.3 1395.5 2219.2 1396.5 2221.2 1397.5 2223.2 1398.5 2225.2 1399.5 2227.2 1399.6 2227.4 1400 2228 1400.5 2228.8 1401.5 2230.5 1403.5 2233.7 1405.5 2236.9 1407.5 2240.1 1409.1 2242.7 1409.5 2242.8 1411.5 2243.4 1413.5 2244 1415.5 2244.6 1417.5 2245.2 1418.7 2245.6 1419.5 2246 1421.5 2246.9 1423.5 2247.9 1425.5 2248.8 1427.5 2249.7 1429.5 2250.7 1431.5 2251.6 1432.1 2251.9 1433.5 2251.7 1435.5 2251.5 1437.5 2251.2 1439.5 2251 1440 2250.9 1441.5 2250.7 1443.5 2250.5 1445.5 2250.2 1447.4 2250 1447.5 2250 1449.5 2249.4 1451.5 2248.8 1453.5 2248.2 1455.5 2247.7 1457.5 2247.1 1459.5 2246.5 1461.5 2245.9 1462.7 2245.6 1463.5 2245.6 1465 2245.6 1465.5 2245.6 1467.5 2245.6 1469.5 2245.6 1470 2245.6 1471.5 2245.6 1473.5 2245.6 1475.5 2245.6 1477.5 2245.6 1479.5 2245.6 1480 2245.6 1481.5 2245.6 1483.5 2245.6 1483.8 2245.6 1485.5 2243.4 1487.5 2240.8 1489.5 2238.2 1491.5 2235.6 1493.4 2233.1 1493.5 2233 1495.5 2231 1497.5 2229 1499.5 2227.1 1500 2226.6 1501.5 2225.1 1503.5 2223.1 1504.9 2221.7 1505.5 2221.1 1507.5 2219.1 1509.5 2217.1 1511.5 2215 1513.5 2213 1514.4 2212.1 1515.5 2211.2 1517.5 2209.6 1519.5 2208 1520 2207.6 1521.5 2206.4 1523.5 2204.8 1524 2204.4 1525.5 2202.5 1527.5 2200 1529.5 2197.6 1530 2196.9 1531.5 2195.1 1533.5 2192.6 1535.5 2190.1 1537.5 2190 1539.5 2189.9 1540 2189.9 1541.5 2189.8 1543.5 2189.7 1545.5 2189.6 1547 2189.5 1547.5 2190.1 1549.5 2192.3 1550 2192.8 1551.5 2194.5 1552.7 2195.8 1553.5 2194.9 1555.5 2192.8 1557.5 2190.6 1558.5 2189.5 1559.5 2189.7 1561.5 2190.2 1563.5 2190.6 1565 2190.9 1565.5 2191 1567.5 2191.5 1569.5 2191.9 1569.9 2192 1571.5 2193.5 1573.5 2195.3 1575.5 2197.1 1577.5 2198.9 1579.5 2200.8 1580 2201.2 1581.4 2202.5 1581.5 2202.6 1583.5 2203.9 1585.5 2205.2 1587.5 2206.6 1589.5 2207.9 1591.5 2209.3 1592.9 2210.2 1593.5 2210.8 1595.5 2212.8 1597.5 2214.8 1599.5 2216.8 1600 2217.3 1601.5 2218.8 1603.5 2220.8 1604.4 2221.7 1605.5 2222.4 1607.5 2223.7 1609.5 2225.1 1610 2225.4 1611.5 2226.4 1613.5 2227.7 1615.5 2229 1615.9 2229.3 1617.5 2230.6 1619.5 2232.3 1621.5 2234 1623.5 2235.6 1625.5 2237.3 1627.4 2238.9 1627.5 2239 1629.5 2241.2 1631.5 2243.3 1633.5 2245.5 1635.5 2247.6 1637.5 2249.8 1638.9 2251.3 1639.5 2251.6 1640 2251.9 1641.5 2252.6 1643.5 2253.6 1645.5 2254.6 1647.5 2255.6 1649.5 2256.6 1651.5 2257.6 1653.5 2258.6 1654.2 2259 1655.5 2259.4 1657.5 2260.1 1659.5 2260.8 1661.5 2261.4 1663.5 2262.1 1665.5 2262.8 1665.6 2262.8 1667.5 2263.2 1669.5 2263.5 1670 2263.6 1671.5 2263.9 1672 2264 1700.4 2264" fill="none" stroke="#00bcef" stroke-width="2.6" stroke-linejoin="round"/>
</g>
<g stroke="#000" stroke-width="2.6" fill="none">
<line x1="1251" y1="2168.8" x2="1454.5" y2="2168.8"/>
<line x1="1454.5" y1="2191.7" x2="1699.4" y2="2191.7"/>
</g>
<g stroke="#000" stroke-width="2.7" stroke-linecap="round" fill="none">
<line x1="1251.8" y1="2159.8" x2="1251.8" y2="2177.8"/>
<line x1="1454.5" y1="2159.8" x2="1454.5" y2="2177.8"/>
<line x1="1454.5" y1="2182.7" x2="1454.5" y2="2200.7"/>
<line x1="1698.8" y1="2182.7" x2="1698.8" y2="2200.7"/>
</g>
<path d="M1251 1817.7H1700.4V2267.6" stroke="#3a3a3a" stroke-width="1.8" fill="none"/>
<path d="M1251 1817.7V2267.6H1700.4" stroke="#000" stroke-width="1.6" fill="none"/>
<g stroke="#000" fill="none">
<line x1="1238.7" y1="2265.3" x2="1251" y2="2265.3" stroke-width="3.2"/>
<line x1="1245.7" y1="2246.45" x2="1251" y2="2246.45" stroke-width="2"/>
<line x1="1245.7" y1="2227.6" x2="1251" y2="2227.6" stroke-width="2"/>
<line x1="1245.7" y1="2208.75" x2="1251" y2="2208.75" stroke-width="2"/>
<line x1="1238.7" y1="2189.9" x2="1251" y2="2189.9" stroke-width="3.2"/>
<line x1="1245.7" y1="2171.05" x2="1251" y2="2171.05" stroke-width="2"/>
<line x1="1245.7" y1="2152.2" x2="1251" y2="2152.2" stroke-width="2"/>
<line x1="1245.7" y1="2133.35" x2="1251" y2="2133.35" stroke-width="2"/>
<line x1="1238.7" y1="2114.5" x2="1251" y2="2114.5" stroke-width="3.2"/>
<line x1="1245.7" y1="2095.65" x2="1251" y2="2095.65" stroke-width="2"/>
<line x1="1245.7" y1="2076.8" x2="1251" y2="2076.8" stroke-width="2"/>
<line x1="1245.7" y1="2057.95" x2="1251" y2="2057.95" stroke-width="2"/>
<line x1="1238.7" y1="2039.1" x2="1251" y2="2039.1" stroke-width="3.2"/>
<line x1="1245.7" y1="2020.25" x2="1251" y2="2020.25" stroke-width="2"/>
<line x1="1245.7" y1="2001.4" x2="1251" y2="2001.4" stroke-width="2"/>
<line x1="1245.7" y1="1982.55" x2="1251" y2="1982.55" stroke-width="2"/>
<line x1="1238.7" y1="1963.7" x2="1251" y2="1963.7" stroke-width="3.2"/>
<line x1="1245.7" y1="1944.85" x2="1251" y2="1944.85" stroke-width="2"/>
<line x1="1245.7" y1="1926" x2="1251" y2="1926" stroke-width="2"/>
<line x1="1245.7" y1="1907.15" x2="1251" y2="1907.15" stroke-width="2"/>
<line x1="1238.7" y1="1888.3" x2="1251" y2="1888.3" stroke-width="3.2"/>
<line x1="1245.7" y1="1869.45" x2="1251" y2="1869.45" stroke-width="2"/>
<line x1="1245.7" y1="1850.6" x2="1251" y2="1850.6" stroke-width="2"/>
<line x1="1245.7" y1="1831.75" x2="1251" y2="1831.75" stroke-width="2"/>
</g>
<g font-family="'Liberation Sans', Arial, Helvetica, sans-serif" font-size="18" fill="#000" stroke="#000" stroke-width="0.3">
<text x="1230.6" y="2265" text-anchor="end">0</text>
<text x="1228.8" y="2202.2" text-anchor="end">100</text>
<text x="1228.8" y="2126.8" text-anchor="end">200</text>
<text x="1228.8" y="2051.4" text-anchor="end">300</text>
<text x="1228.8" y="1976" text-anchor="end">400</text>
<text x="1228.8" y="1900.6" text-anchor="end">500</text>
</g>
<text transform="translate(1187.4 2041.45) rotate(-90) scale(1.0 1.06)" text-anchor="middle" font-family="'Liberation Sans', Arial, Helvetica, sans-serif" font-size="21" fill="#000" stroke="#000" stroke-width="0.45">Count</text>
<g stroke="#000" fill="none">
<line x1="1272.1" y1="2267.6" x2="1272.1" y2="2280.2" stroke-width="3.5"/>
<line x1="1277.2" y1="2267.6" x2="1277.2" y2="2273.2" stroke-width="2"/>
<line x1="1282.7" y1="2267.6" x2="1282.7" y2="2273.2" stroke-width="2"/>
<line x1="1289.7" y1="2267.6" x2="1289.7" y2="2273.2" stroke-width="2"/>
<line x1="1296.4" y1="2267.6" x2="1296.4" y2="2273.2" stroke-width="2"/>
<line x1="1314.5" y1="2267.6" x2="1314.5" y2="2273.2" stroke-width="2"/>
<line x1="1323.1" y1="2267.6" x2="1323.1" y2="2273.2" stroke-width="2"/>
<line x1="1331.9" y1="2267.6" x2="1331.9" y2="2273.2" stroke-width="2"/>
<line x1="1305.7" y1="2267.6" x2="1305.7" y2="2276.8" stroke-width="2.5"/>
<line x1="1340.45" y1="2267.6" x2="1340.45" y2="2280.2" stroke-width="3.5"/>
<line x1="1350.55" y1="2267.6" x2="1350.55" y2="2280.2" stroke-width="3.5"/>
<line x1="1360.1" y1="2267.6" x2="1360.1" y2="2280.2" stroke-width="3.5"/>
<line x1="1345.6" y1="2267.6" x2="1345.6" y2="2276.8" stroke-width="2.5"/>
<line x1="1354.9" y1="2267.6" x2="1354.9" y2="2276.8" stroke-width="2.5"/>
<line x1="1341.46" y1="2267.6" x2="1341.46" y2="2273.2" stroke-width="2"/>
<line x1="1351.51" y1="2267.6" x2="1351.51" y2="2273.2" stroke-width="2"/>
<line x1="1342.47" y1="2267.6" x2="1342.47" y2="2273.2" stroke-width="2"/>
<line x1="1352.46" y1="2267.6" x2="1352.46" y2="2273.2" stroke-width="2"/>
<line x1="1343.48" y1="2267.6" x2="1343.48" y2="2273.2" stroke-width="2"/>
<line x1="1353.41" y1="2267.6" x2="1353.41" y2="2273.2" stroke-width="2"/>
<line x1="1344.49" y1="2267.6" x2="1344.49" y2="2273.2" stroke-width="2"/>
<line x1="1354.37" y1="2267.6" x2="1354.37" y2="2273.2" stroke-width="2"/>
<line x1="1346.51" y1="2267.6" x2="1346.51" y2="2273.2" stroke-width="2"/>
<line x1="1356.28" y1="2267.6" x2="1356.28" y2="2273.2" stroke-width="2"/>
<line x1="1347.52" y1="2267.6" x2="1347.52" y2="2273.2" stroke-width="2"/>
<line x1="1357.23" y1="2267.6" x2="1357.23" y2="2273.2" stroke-width="2"/>
<line x1="1348.53" y1="2267.6" x2="1348.53" y2="2273.2" stroke-width="2"/>
<line x1="1358.19" y1="2267.6" x2="1358.19" y2="2273.2" stroke-width="2"/>
<line x1="1349.54" y1="2267.6" x2="1349.54" y2="2273.2" stroke-width="2"/>
<line x1="1359.14" y1="2267.6" x2="1359.14" y2="2273.2" stroke-width="2"/>
<line x1="1370.4" y1="2267.6" x2="1370.4" y2="2273.2" stroke-width="2"/>
<line x1="1379.2" y1="2267.6" x2="1379.2" y2="2273.2" stroke-width="2"/>
<line x1="1388" y1="2267.6" x2="1388" y2="2273.2" stroke-width="2"/>
<line x1="1403.8" y1="2267.6" x2="1403.8" y2="2273.2" stroke-width="2"/>
<line x1="1410.8" y1="2267.6" x2="1410.8" y2="2273.2" stroke-width="2"/>
<line x1="1418.1" y1="2267.6" x2="1418.1" y2="2273.2" stroke-width="2"/>
<line x1="1424.7" y1="2267.6" x2="1424.7" y2="2273.2" stroke-width="2"/>
<line x1="1470.5" y1="2267.6" x2="1470.5" y2="2273.2" stroke-width="2"/>
<line x1="1491.9" y1="2267.6" x2="1491.9" y2="2273.2" stroke-width="2"/>
<line x1="1507.4" y1="2267.6" x2="1507.4" y2="2273.2" stroke-width="2"/>
<line x1="1528.5" y1="2267.6" x2="1528.5" y2="2273.2" stroke-width="2"/>
<line x1="1535.5" y1="2267.6" x2="1535.5" y2="2273.2" stroke-width="2"/>
<line x1="1542.5" y1="2267.6" x2="1542.5" y2="2273.2" stroke-width="2"/>
<line x1="1547.7" y1="2267.6" x2="1547.7" y2="2273.2" stroke-width="2"/>
<line x1="1584.8" y1="2267.6" x2="1584.8" y2="2273.2" stroke-width="2"/>
<line x1="1602.2" y1="2267.6" x2="1602.2" y2="2273.2" stroke-width="2"/>
<line x1="1616.3" y1="2267.6" x2="1616.3" y2="2273.2" stroke-width="2"/>
<line x1="1633.7" y1="2267.6" x2="1633.7" y2="2273.2" stroke-width="2"/>
<line x1="1640.5" y1="2267.6" x2="1640.5" y2="2273.2" stroke-width="2"/>
<line x1="1645.9" y1="2267.6" x2="1645.9" y2="2273.2" stroke-width="2"/>
<line x1="1651.3" y1="2267.6" x2="1651.3" y2="2273.2" stroke-width="2"/>
<line x1="1686.5" y1="2267.6" x2="1686.5" y2="2273.2" stroke-width="2"/>
<line x1="1396.8" y1="2267.6" x2="1396.8" y2="2276.8" stroke-width="2.5"/>
<line x1="1518.1" y1="2267.6" x2="1518.1" y2="2276.8" stroke-width="2.5"/>
<line x1="1625.1" y1="2267.6" x2="1625.1" y2="2276.8" stroke-width="2.5"/>
<line x1="1430.2" y1="2267.6" x2="1430.2" y2="2280.2" stroke-width="3.5"/>
<line x1="1553.1" y1="2267.6" x2="1553.1" y2="2280.2" stroke-width="3.5"/>
<line x1="1656.7" y1="2267.6" x2="1656.7" y2="2280.2" stroke-width="3.5"/>
</g>
<g font-family="'Liberation Sans', Arial, Helvetica, sans-serif" font-size="17.5" fill="#000" stroke="#000" stroke-width="0.3">
<text x="1260.4" y="2320.1">-10</text>
<text x="1286.5" y="2305.7">3</text>
<text x="1346.3" y="2320.1">0</text>
<text x="1420.4" y="2320.1">10</text>
<text x="1441.4" y="2305.7">3</text>
<text x="1542.9" y="2320.1">10</text>
<text x="1564" y="2305.7">4</text>
<text x="1646.5" y="2320.1">10</text>
<text x="1667.4" y="2305.7">5</text>
</g>
<g font-family="'Liberation Sans', Arial, Helvetica, sans-serif" font-size="21" fill="#000" stroke="#000" stroke-width="0.45">
<text transform="translate(1440 2358.8) scale(1 1.06)">FITC-A</text>
</g>
<g font-family="'Liberation Sans', Arial, Helvetica, sans-serif" font-size="21" fill="#000" stroke="#000" stroke-width="0.45">
<text transform="translate(1258.6 1857.1) scale(1 1.06)">FITC-A-</text>
<text transform="translate(1260.4 1888.6) scale(1 1.06)">54.0</text>
<text transform="translate(1655.4 1857.1) scale(1 1.06)" text-anchor="end">FITC-A+</text>
<text transform="translate(1651.5 1888.6) scale(1 1.06)" text-anchor="end">46.0</text>
</g>
</svg>
</body></html>
